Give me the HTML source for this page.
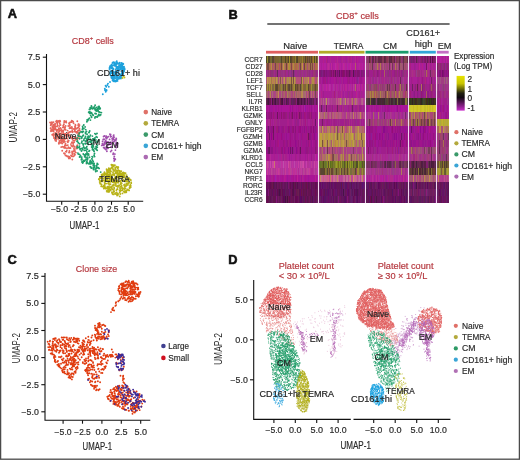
<!DOCTYPE html><html><head><meta charset="utf-8"><style>html,body{margin:0;padding:0;background:#fff;}svg{display:block;will-change:transform;}text{font-family:"Liberation Sans",sans-serif;}</style></head><body>
<svg width="520" height="460" viewBox="0 0 520 460">
<rect x="0" y="0" width="520" height="460" fill="#fff"/>
<text x="7.8" y="18.3" font-size="12.8" text-anchor="start" fill="#111" font-weight="bold" stroke="#111" stroke-width="0.55">A</text>
<text x="71.7" y="43.9" font-size="9.0" text-anchor="start" fill="#b5383f" font-weight="normal" textLength="42" lengthAdjust="spacingAndGlyphs" stroke="#b5383f" stroke-width="0.18">CD8<tspan font-size="6" dy="-3.6">+</tspan><tspan dy="3.6"> cells</tspan></text>
<path d="M59.2 126.1h0M69.5 122.9h0M65.9 134.8h0M51.2 123.7h0M52.9 129.0h0M68.8 158.4h0M67.2 136.1h0M76.0 131.7h0M53.5 124.8h0M69.1 135.1h0M66.3 122.5h0M50.9 128.3h0M70.4 137.3h0M58.9 143.7h0M63.3 132.1h0M74.0 148.3h0M65.5 155.4h0M72.0 131.7h0M62.2 150.7h0M73.1 143.2h0M76.6 132.7h0M70.9 144.1h0M67.3 138.5h0M63.9 146.9h0M74.9 131.5h0M61.2 147.1h0M54.3 124.7h0M53.1 130.0h0M66.3 155.8h0M74.8 155.0h0M57.8 136.8h0M79.2 126.1h0M54.6 129.4h0M56.4 139.6h0M67.6 130.6h0M60.6 142.9h0M65.2 145.0h0M70.3 122.2h0M61.4 136.2h0M51.0 122.7h0M55.6 126.6h0M59.7 122.1h0M52.2 134.7h0M68.3 126.0h0M56.9 134.1h0M60.5 125.0h0M63.7 139.6h0M51.7 124.1h0M59.8 130.7h0M75.1 126.5h0M65.6 125.9h0M66.1 121.1h0M76.2 148.2h0M57.2 134.9h0M65.8 151.6h0M59.4 129.0h0M75.9 152.6h0M74.8 150.0h0M56.1 141.0h0M60.2 121.2h0M79.1 138.1h0M79.1 134.8h0M55.9 129.2h0M55.2 128.3h0M68.7 156.5h0M75.5 139.4h0M69.6 152.4h0M72.6 139.4h0M71.8 126.9h0M53.0 126.1h0M60.0 142.2h0M75.0 128.5h0M56.9 131.9h0M57.2 137.0h0M60.1 138.6h0M67.4 156.6h0M64.8 141.5h0M62.9 127.4h0M71.8 142.5h0M59.3 141.0h0M66.5 151.8h0M56.8 131.2h0M73.3 140.6h0M66.7 150.8h0M77.7 138.0h0M68.3 140.5h0M65.1 148.1h0M63.2 141.6h0M71.0 155.5h0M78.7 130.5h0M75.5 125.6h0M51.3 129.7h0M73.7 156.3h0M69.8 125.8h0M61.5 139.7h0M54.1 137.5h0M65.2 133.7h0M55.2 132.9h0M71.7 120.8h0M66.5 137.8h0M68.7 140.7h0M52.3 130.8h0M57.5 125.2h0M74.8 130.5h0M67.0 148.4h0M51.8 122.3h0M70.7 137.2h0M69.0 152.5h0M63.3 133.7h0M57.4 125.2h0M65.6 129.7h0M52.4 126.5h0M50.6 128.2h0M58.8 132.4h0M72.9 131.7h0M64.8 127.2h0M59.9 120.7h0M56.9 120.6h0M72.1 142.3h0M55.0 139.2h0M78.4 124.3h0M74.8 137.5h0M64.6 153.8h0M61.4 140.5h0M71.3 145.8h0M61.7 134.1h0M50.7 125.3h0M57.1 126.6h0M76.4 147.2h0M57.9 129.8h0M58.2 138.6h0M54.0 138.1h0M58.8 134.4h0M64.0 140.4h0M55.3 140.4h0M58.6 129.4h0M67.4 141.4h0M72.6 146.6h0M71.6 155.6h0M61.3 133.2h0M71.8 146.1h0M77.1 145.4h0M72.1 152.9h0M64.9 153.8h0M74.3 153.5h0M67.4 156.2h0M70.5 148.1h0M56.2 121.3h0M53.2 134.6h0M66.6 145.4h0M68.7 147.6h0M74.1 150.3h0M64.8 141.7h0M69.8 122.7h0M72.2 130.2h0M51.3 130.8h0M72.0 128.3h0M72.3 159.5h0M64.6 135.5h0M64.1 147.7h0M73.2 145.0h0M69.2 123.1h0M53.6 130.3h0M72.4 132.3h0M50.9 130.9h0M70.2 148.0h0M70.3 131.8h0M65.3 138.8h0M63.7 124.8h0M77.2 128.1h0M63.2 130.9h0M79.0 125.4h0M74.8 140.6h0M76.9 148.5h0M64.3 121.0h0M63.2 132.2h0M53.4 133.9h0M75.4 124.9h0M77.4 131.7h0M60.7 135.9h0M60.4 137.3h0M57.7 122.0h0M56.9 130.8h0M65.1 127.7h0M68.9 157.0h0M71.7 122.0h0M72.1 138.3h0M72.7 146.1h0M58.0 122.0h0M78.2 125.2h0M63.9 133.9h0M79.8 130.5h0M69.7 132.2h0M66.6 136.0h0M54.3 126.5h0M64.7 128.9h0M63.2 125.7h0M55.1 123.7h0M59.8 123.7h0M56.5 130.5h0M66.9 155.9h0M72.6 136.7h0M62.0 141.2h0M60.9 133.7h0M51.0 131.2h0M79.5 125.1h0M64.9 145.5h0M76.2 128.7h0M57.5 130.1h0M61.6 138.1h0M77.2 139.2h0M75.0 154.6h0M79.6 130.1h0M52.4 126.3h0M65.5 147.6h0M69.4 151.0h0M63.4 142.3h0M69.3 132.3h0M53.0 130.2h0M69.0 148.3h0M52.5 122.8h0M65.5 143.6h0M61.2 129.1h0M58.5 138.7h0M76.8 139.2h0M56.4 130.0h0M58.7 120.9h0M64.7 147.3h0M62.2 130.4h0M70.0 157.5h0M56.1 121.4h0M59.6 137.0h0M70.5 128.0h0M74.1 149.9h0M64.9 128.3h0M79.6 132.6h0M74.8 129.3h0M64.6 127.6h0M56.0 136.9h0M70.0 158.4h0M53.6 135.9h0M53.5 122.1h0M78.3 133.3h0M72.5 121.3h0M69.9 135.3h0M60.8 133.4h0M57.8 134.2h0M79.1 125.0h0M79.4 128.4h0M74.9 137.5h0M55.1 134.8h0M77.3 121.2h0M73.2 121.6h0M50.1 122.5h0M78.0 130.4h0M72.5 156.4h0M59.7 131.0h0M59.0 131.2h0M56.4 139.2h0M61.2 130.2h0M62.5 140.0h0M78.2 127.4h0M74.3 149.9h0M74.9 151.3h0M68.1 133.3h0M59.1 134.7h0M73.6 123.2h0M56.8 122.6h0M57.3 123.4h0M71.4 138.1h0M56.4 136.9h0M68.5 147.3h0M72.6 154.3h0M69.9 124.9h0M75.5 131.9h0M66.9 135.1h0M72.2 128.1h0M56.8 129.9h0M67.2 133.2h0M65.0 129.4h0M74.5 146.5h0M64.0 153.2h0M52.8 127.7h0M78.3 135.1h0M76.3 138.2h0M78.8 124.3h0M67.8 145.1h0M55.9 134.9h0M53.5 128.3h0M69.5 128.2h0M70.4 127.5h0M58.8 128.2h0M74.1 142.2h0M51.0 124.1h0M61.5 142.3h0M69.1 123.7h0M61.9 131.5h0M58.8 142.9h0M60.3 136.9h0M60.5 128.0h0M71.9 128.2h0M63.5 126.6h0M69.2 156.8h0M60.7 140.4h0M53.6 131.5h0M55.2 125.1h0M64.2 122.2h0M78.2 135.7h0M77.5 145.1h0M75.0 126.5h0M73.8 129.0h0M75.1 127.4h0M55.9 136.2h0M65.3 135.5h0M52.9 130.0h0M71.8 156.3h0M72.9 121.5h0M75.4 124.8h0M67.9 142.3h0M68.8 132.4h0M62.2 143.6h0M62.4 146.7h0M63.1 137.8h0M64.4 129.5h0M73.1 151.6h0M63.4 127.3h0M63.9 124.3h0M65.1 121.7h0M69.0 123.3h0M72.1 151.5h0" stroke="#e6655b" stroke-width="1.9" stroke-linecap="round" fill="none" opacity="1.0"/>
<path d="M95.1 105.3h0M95.1 109.8h0M98.0 115.9h0M94.9 117.9h0M89.4 109.4h0M98.3 106.7h0M100.2 108.3h0M99.1 106.5h0M95.0 117.4h0M91.2 108.2h0M95.1 109.0h0M97.3 117.0h0M90.7 115.5h0M90.0 111.9h0M96.8 109.5h0M99.8 112.3h0M96.0 116.9h0M96.7 110.0h0M98.9 108.2h0M101.4 112.6h0M93.2 115.2h0M94.2 107.0h0M99.2 108.1h0M96.1 113.8h0M96.5 110.6h0M95.2 117.0h0M90.2 107.7h0M89.9 109.5h0M91.4 112.7h0M96.2 107.4h0M96.6 111.1h0M91.7 106.6h0M89.7 113.4h0M99.8 115.5h0M93.7 108.2h0M95.8 109.4h0M96.9 110.7h0M100.7 114.8h0M91.7 117.1h0M89.1 111.9h0M93.8 107.8h0M88.7 112.2h0M91.1 113.0h0M95.1 113.5h0M99.1 106.9h0M92.5 108.7h0M98.7 114.5h0M98.2 111.0h0M98.1 110.8h0M91.4 106.0h0M92.9 115.0h0M97.5 116.3h0M97.8 108.2h0M95.7 110.6h0M98.7 111.8h0M91.9 113.5h0M91.9 107.8h0M98.2 109.1h0M99.9 109.1h0M91.6 117.2h0M83.8 125.0h0M79.3 133.2h0M85.1 126.9h0M82.8 128.0h0M87.1 120.0h0M82.8 131.8h0M89.5 118.1h0M88.4 119.3h0M82.6 126.4h0M85.7 129.6h0M87.6 120.3h0M85.5 132.5h0M83.3 131.4h0M87.9 120.5h0M83.9 128.6h0M82.4 129.3h0M90.4 120.1h0M86.9 121.7h0M77.5 140.9h0M83.9 160.4h0M86.0 143.6h0M77.8 147.5h0M87.7 162.9h0M85.5 159.9h0M90.2 139.2h0M97.1 137.2h0M77.0 138.6h0M95.7 171.6h0M89.0 163.9h0M81.5 151.0h0M84.0 139.1h0M94.1 151.2h0M79.7 157.1h0M94.1 163.4h0M92.4 145.1h0M86.8 146.8h0M82.0 141.2h0M82.7 149.6h0M90.0 162.1h0M85.5 143.9h0M93.2 161.5h0M81.2 148.6h0M80.1 149.6h0M98.7 140.1h0M81.7 142.8h0M94.2 165.9h0M80.8 136.6h0M83.1 143.9h0M89.8 136.8h0M85.0 138.0h0M79.5 146.3h0M95.0 148.5h0M81.8 157.1h0M79.6 138.8h0M86.5 131.4h0M86.8 163.6h0M94.0 151.3h0M92.5 149.7h0M80.5 155.7h0M86.9 161.5h0M91.1 161.8h0M87.3 139.7h0M94.7 167.4h0M92.7 149.3h0M84.7 156.7h0M79.4 147.8h0M92.4 140.6h0M87.4 149.3h0M92.2 147.4h0M93.5 169.5h0M81.5 157.8h0M96.1 146.5h0M77.9 153.1h0M79.5 154.4h0M90.3 160.5h0M89.5 157.2h0M82.1 159.1h0M86.6 162.4h0M85.7 132.4h0M83.7 147.0h0M77.3 147.8h0M87.3 159.7h0M85.6 141.3h0M82.5 161.5h0M86.6 139.0h0M88.5 153.9h0M85.7 157.1h0M97.1 164.7h0M88.5 142.5h0M90.4 135.3h0M97.4 145.1h0M97.8 141.4h0M86.2 140.8h0M87.4 137.9h0M83.9 140.4h0M84.4 150.4h0M87.5 157.1h0M93.2 145.4h0M93.1 140.6h0M79.5 136.1h0M82.7 163.0h0M85.5 136.5h0M91.9 163.2h0M93.4 168.0h0M96.3 165.6h0M81.8 159.4h0M90.0 161.5h0M90.6 141.2h0M82.7 135.9h0M89.1 132.5h0M88.4 136.1h0M89.0 151.2h0M90.2 166.7h0M88.5 153.9h0M93.3 165.7h0M86.2 147.8h0M92.6 157.0h0M93.7 169.6h0M89.5 150.6h0M94.6 156.6h0M86.0 150.2h0M89.9 162.7h0M82.2 148.5h0M87.3 153.5h0M97.3 142.4h0M97.3 147.2h0M89.3 141.5h0M93.0 163.7h0M85.1 143.5h0M84.3 154.9h0M92.6 163.3h0M78.2 142.8h0M77.2 138.1h0M93.1 163.5h0M92.1 156.6h0M94.1 155.3h0M93.7 139.0h0M93.3 149.5h0M95.7 134.3h0M81.4 131.6h0M96.0 168.8h0M93.1 145.7h0M97.2 163.4h0M90.8 141.0h0M84.4 147.9h0M84.8 148.3h0M78.3 154.1h0M78.0 135.1h0M77.3 146.5h0M87.1 134.3h0M92.8 139.0h0M94.6 140.3h0M95.0 138.0h0M94.5 166.4h0M94.9 133.6h0M92.4 160.1h0M97.0 133.4h0M84.6 161.0h0M88.9 132.5h0M86.0 154.4h0M87.7 158.8h0M85.9 157.4h0M92.4 147.8h0M86.5 163.4h0M90.9 142.4h0M94.2 165.2h0M85.1 155.7h0M91.7 143.1h0M86.2 159.1h0M91.7 168.1h0M96.8 142.0h0M77.0 141.2h0M87.4 154.9h0M97.0 167.7h0M96.9 166.9h0M91.0 141.6h0M97.9 164.3h0M93.8 168.8h0M85.5 133.6h0M90.6 163.9h0M81.9 161.9h0M91.9 158.8h0M88.4 138.8h0M83.2 161.9h0M96.4 149.5h0M95.9 139.9h0M91.2 168.1h0M88.7 155.0h0M81.6 138.2h0M81.4 159.8h0M85.9 154.0h0M86.9 152.0h0M80.7 131.9h0M79.6 156.9h0M96.3 136.6h0M91.6 144.7h0M89.7 130.9h0M90.9 141.1h0M96.1 148.1h0M97.1 170.9h0M83.2 131.6h0M81.9 137.7h0M90.7 167.0h0M91.7 146.9h0M83.3 154.0h0M93.4 146.7h0M88.0 136.8h0M100.7 172.1h0M82.4 131.6h0M83.3 145.0h0M99.1 168.4h0M78.4 136.2h0M95.5 169.9h0M93.6 142.7h0M91.5 162.2h0M79.6 143.8h0M83.3 135.3h0M88.8 137.2h0M82.8 136.1h0M94.6 138.3h0M98.2 167.8h0M80.4 149.0h0M88.1 144.4h0M97.2 150.3h0M92.4 136.1h0M82.4 132.4h0M94.5 153.5h0M83.5 147.5h0" stroke="#1e9e6a" stroke-width="1.9" stroke-linecap="round" fill="none" opacity="1.0"/>
<path d="M104.1 139.2h0M115.8 140.4h0M104.4 143.3h0M106.9 151.2h0M112.9 138.0h0M109.6 139.4h0M105.9 137.8h0M103.2 139.5h0M113.9 139.6h0M115.2 140.5h0M115.6 144.0h0M104.7 142.3h0M111.2 136.6h0M104.6 148.6h0M113.6 137.7h0M111.8 143.4h0M106.2 137.9h0M111.9 147.4h0M115.3 145.1h0M114.0 141.8h0M113.8 135.1h0M115.3 140.4h0M109.9 134.3h0M117.0 143.1h0M116.3 139.1h0M107.7 137.1h0M107.8 145.3h0M109.1 143.8h0M103.6 147.6h0M107.0 147.5h0M108.0 148.3h0M117.7 143.4h0M110.2 144.1h0M110.6 134.4h0M104.6 136.0h0M105.8 149.5h0M113.4 137.7h0M101.8 145.4h0M111.3 143.9h0M113.4 136.0h0M116.3 147.6h0M109.9 143.5h0M106.3 136.3h0M108.4 136.6h0M111.6 150.4h0M104.0 144.9h0M114.2 137.1h0M108.1 142.0h0M115.8 144.0h0M114.7 140.4h0M105.6 140.4h0M115.4 150.1h0M102.4 143.8h0M105.7 142.0h0M112.3 140.9h0M110.5 135.3h0M108.9 143.6h0M117.4 146.0h0M112.4 139.0h0M113.0 139.2h0M110.7 151.6h0M112.1 138.8h0M110.3 142.2h0M106.7 146.3h0M103.5 145.3h0M117.8 143.8h0M106.1 142.9h0M110.6 136.8h0M103.6 136.5h0M106.5 141.7h0M106.4 138.6h0M103.0 144.4h0M115.8 145.6h0M111.2 146.4h0M104.9 147.5h0M109.3 144.4h0M111.9 142.9h0M106.8 138.6h0M105.3 143.7h0M108.0 145.1h0M116.2 138.5h0M111.0 143.3h0M106.5 148.7h0M116.3 142.4h0M102.6 141.4h0M114.3 156.5h0M114.9 154.1h0M113.1 154.3h0M113.9 158.4h0M114.2 160.9h0M115.3 159.3h0M114.9 158.9h0M113.4 153.3h0M114.5 159.9h0" stroke="#a14fad" stroke-width="1.9" stroke-linecap="round" fill="none" opacity="1.0"/>
<path d="M110.2 73.5h0M118.0 77.8h0M117.0 75.2h0M119.8 67.2h0M112.4 78.6h0M112.3 63.1h0M124.2 69.7h0M119.5 66.4h0M122.4 67.2h0M112.7 73.2h0M114.1 72.8h0M114.2 78.7h0M111.4 77.8h0M124.7 69.2h0M109.5 69.0h0M119.3 65.7h0M117.7 63.0h0M116.4 76.3h0M115.9 75.3h0M117.4 67.1h0M114.6 76.8h0M116.9 80.5h0M110.5 71.2h0M122.8 73.6h0M117.7 62.9h0M111.2 66.7h0M112.6 80.4h0M124.5 68.2h0M109.8 68.0h0M116.2 66.2h0M120.9 64.8h0M121.6 67.3h0M110.1 72.7h0M110.5 72.6h0M121.6 73.5h0M116.4 61.7h0M117.2 63.0h0M119.3 63.8h0M118.2 68.4h0M115.0 74.9h0M111.6 64.6h0M124.1 68.0h0M116.7 64.1h0M110.9 71.4h0M117.6 63.5h0M116.5 64.4h0M117.6 71.6h0M114.9 65.2h0M115.5 65.3h0M111.0 66.0h0M122.9 71.5h0M124.1 71.3h0M121.7 73.0h0M120.0 65.8h0M121.0 64.2h0M115.3 71.9h0M113.7 79.7h0M110.3 73.1h0M112.7 73.5h0M121.5 75.9h0M110.0 66.2h0M120.1 78.1h0M114.5 78.0h0M116.4 80.3h0M115.6 69.5h0M110.4 66.1h0M120.7 75.3h0M111.4 68.2h0M111.2 65.2h0M112.5 68.0h0M121.7 71.1h0M117.0 77.4h0M119.2 65.2h0M119.0 78.8h0M121.6 62.9h0M120.5 68.3h0M119.8 76.7h0M120.9 78.5h0M121.8 73.4h0M116.0 78.3h0M113.8 81.2h0M117.5 80.9h0M121.6 66.3h0M122.4 65.9h0M112.2 70.6h0M112.8 71.3h0M120.4 69.2h0M121.5 77.7h0M122.2 69.5h0M110.4 74.7h0M122.4 68.1h0M118.5 78.6h0M116.8 61.3h0M115.7 73.7h0M116.3 68.0h0M112.4 68.4h0M122.5 74.0h0M113.7 62.8h0M113.3 75.7h0M116.1 74.9h0M121.9 63.5h0M122.2 64.9h0M113.3 81.1h0M114.8 65.7h0M123.2 73.8h0M123.3 69.3h0M117.0 81.1h0M112.0 78.4h0M111.6 72.1h0M124.1 70.5h0M122.0 66.3h0M114.6 63.1h0M117.8 79.1h0M117.2 68.9h0M119.7 62.6h0M119.0 70.3h0M124.3 68.6h0M119.6 74.3h0M115.0 72.0h0M117.0 68.6h0M122.4 75.4h0M117.9 70.4h0M120.7 76.7h0M109.6 67.8h0M123.3 64.0h0M118.4 73.1h0M109.7 69.2h0M121.0 74.5h0M113.5 77.0h0M113.7 72.4h0M115.7 81.5h0M119.4 77.9h0M119.8 69.0h0M120.1 66.8h0M111.6 73.1h0M114.6 63.9h0M117.3 79.4h0M111.6 76.5h0M111.7 67.6h0M109.9 67.3h0M115.1 81.3h0M114.0 80.8h0M112.2 67.7h0M116.0 63.3h0M113.2 69.3h0M115.2 81.2h0M113.3 65.3h0M123.5 70.5h0M122.4 74.4h0M121.5 67.6h0M111.4 76.9h0M116.5 72.7h0M119.7 76.8h0M113.4 68.6h0M123.7 72.1h0M113.6 74.2h0M113.2 77.2h0M118.1 68.4h0M124.0 66.6h0M112.9 62.5h0M117.8 76.8h0M119.8 69.7h0M121.9 63.3h0M113.9 74.5h0M120.1 77.3h0M115.3 80.7h0M120.9 68.2h0M115.3 77.9h0M114.6 64.9h0M122.9 72.2h0M117.3 75.1h0M114.4 62.4h0M115.6 71.5h0M122.6 75.0h0M118.2 69.5h0M118.2 66.8h0M122.4 64.2h0M119.7 76.8h0M117.0 79.9h0M122.1 74.6h0M123.1 63.8h0M120.3 75.8h0M118.8 66.8h0M110.1 73.7h0M122.2 66.7h0M112.4 65.7h0M110.5 75.2h0M114.8 75.7h0M119.1 63.9h0M113.4 62.2h0M105.6 85.8h0M110.0 82.0h0M108.0 83.6h0M107.4 85.0h0M105.7 91.8h0M104.9 90.0h0M106.5 90.0h0M108.8 86.8h0M104.8 88.7h0M106.3 86.7h0M106.6 90.6h0M102.8 94.2h0" stroke="#1da1dc" stroke-width="1.9" stroke-linecap="round" fill="none" opacity="1.0"/>
<path d="M131.2 182.4h0M112.7 189.4h0M128.2 183.5h0M111.4 178.4h0M114.1 187.4h0M108.5 176.4h0M117.4 176.2h0M109.4 189.5h0M127.4 180.0h0M113.6 169.6h0M108.8 168.3h0M118.1 182.7h0M109.5 191.3h0M105.4 177.6h0M100.1 182.1h0M115.4 193.9h0M124.8 181.3h0M116.1 186.1h0M111.7 175.3h0M118.7 175.1h0M130.7 185.8h0M116.4 166.8h0M111.2 176.7h0M117.6 182.4h0M115.0 178.0h0M119.7 196.4h0M110.2 181.0h0M126.6 180.4h0M122.0 190.6h0M112.8 168.7h0M108.4 180.4h0M115.7 169.7h0M104.7 184.3h0M119.0 175.2h0M99.9 177.1h0M125.3 173.6h0M108.9 191.3h0M118.4 185.5h0M105.2 179.9h0M117.3 172.3h0M120.5 181.0h0M112.5 167.5h0M103.8 188.6h0M104.3 180.7h0M126.5 183.7h0M109.5 187.1h0M110.5 169.1h0M129.2 182.7h0M110.4 178.3h0M111.6 165.3h0M128.8 182.7h0M119.6 171.7h0M129.1 190.4h0M108.8 183.4h0M111.8 187.2h0M106.0 173.7h0M128.3 179.5h0M104.4 175.3h0M108.4 182.0h0M102.4 181.1h0M111.6 176.8h0M126.6 175.1h0M106.8 169.8h0M108.1 171.3h0M110.1 168.6h0M107.7 191.1h0M102.8 178.1h0M126.9 190.1h0M103.9 175.1h0M123.1 175.9h0M130.8 180.2h0M106.2 178.4h0M103.0 186.8h0M118.5 175.6h0M106.9 183.6h0M102.7 180.4h0M116.9 172.4h0M124.7 176.2h0M120.9 182.2h0M109.1 176.4h0M117.6 175.4h0M115.5 173.3h0M122.9 172.8h0M112.2 193.5h0M124.8 192.6h0M121.6 185.4h0M110.4 177.1h0M120.9 186.6h0M106.9 191.4h0M110.5 184.3h0M129.5 187.7h0M105.2 173.5h0M111.4 164.8h0M109.1 184.6h0M117.9 187.1h0M107.2 177.9h0M121.8 175.0h0M124.9 172.9h0M129.6 188.2h0M101.4 186.4h0M111.9 188.2h0M112.9 194.2h0M122.0 187.9h0M126.7 184.2h0M113.9 165.3h0M122.2 177.6h0M115.9 194.1h0M117.1 195.5h0M120.2 181.4h0M110.7 177.1h0M105.3 173.7h0M103.1 186.8h0M121.3 171.3h0M106.7 180.5h0M113.6 194.4h0M110.4 173.4h0M117.7 174.5h0M126.2 181.6h0M121.2 183.3h0M114.2 188.8h0M108.3 175.4h0M108.1 170.0h0M122.4 178.3h0M102.3 174.2h0M114.4 175.5h0M117.7 167.1h0M115.1 177.8h0M105.0 181.4h0M120.4 184.2h0M130.3 185.0h0M107.0 171.6h0M124.8 191.2h0M108.6 169.6h0M120.2 191.4h0M125.2 190.9h0M123.7 174.3h0M109.4 175.7h0M117.2 175.7h0M99.9 182.2h0M119.9 190.6h0M122.5 193.4h0M130.6 179.8h0M115.5 168.7h0M108.7 182.7h0M101.2 186.2h0M104.1 178.1h0M99.9 178.0h0M105.0 187.4h0M127.6 189.5h0M113.0 172.8h0M121.0 180.5h0M112.8 174.7h0M113.4 185.5h0M104.1 173.3h0M113.6 182.1h0M110.3 169.9h0M119.6 190.3h0M119.2 173.3h0M117.9 194.9h0M114.8 184.9h0M108.7 174.8h0M104.9 185.9h0M113.7 166.3h0M121.0 175.8h0M118.2 177.2h0M116.5 182.1h0M112.0 167.3h0M117.1 167.2h0M101.7 181.0h0M107.1 179.6h0M117.3 171.0h0M118.0 167.2h0M115.9 182.9h0M101.2 177.0h0M101.0 178.0h0M127.9 181.7h0M122.8 188.5h0M126.7 176.4h0M117.6 189.1h0M118.7 170.5h0M108.7 186.8h0M113.0 192.8h0M119.6 192.3h0M117.6 193.8h0M123.8 174.8h0M124.5 186.0h0M111.2 187.8h0M130.7 187.3h0M100.0 183.4h0M101.9 181.6h0M130.0 185.8h0M107.2 169.9h0M113.7 191.2h0M118.3 167.2h0M117.3 173.1h0M121.9 176.1h0M116.8 186.3h0M103.6 180.1h0M128.2 189.9h0M126.3 185.9h0M111.8 179.2h0M111.9 192.3h0M109.7 170.6h0M128.9 182.9h0M110.8 178.9h0M118.1 176.3h0M118.2 174.5h0M99.2 178.7h0M103.5 185.6h0M107.8 172.5h0M115.5 172.1h0M117.8 180.9h0M99.7 182.0h0M124.7 192.3h0M124.8 184.4h0M120.1 175.5h0M108.1 189.7h0M121.7 173.5h0M124.5 187.9h0M115.8 184.5h0M110.4 181.7h0M112.3 165.5h0M110.0 174.2h0M111.0 171.5h0M106.5 175.0h0M128.1 178.5h0M113.6 182.3h0M108.8 169.1h0M109.0 187.5h0M117.2 194.4h0M104.6 182.7h0M124.8 177.6h0M115.0 193.2h0M107.9 172.0h0M107.6 186.7h0M105.9 176.7h0M105.3 183.4h0M127.9 184.9h0M105.2 187.7h0M131.2 183.3h0M116.8 192.4h0M120.3 194.0h0M105.7 174.3h0M124.0 184.9h0M112.3 185.9h0M112.6 165.0h0M119.8 174.5h0M115.3 183.2h0M107.2 178.8h0M100.4 183.8h0M123.1 174.4h0M112.9 181.3h0M118.5 181.8h0M120.9 183.4h0M109.7 188.0h0M107.3 187.0h0M124.5 189.1h0M109.0 189.0h0M108.0 180.8h0M98.8 179.2h0M120.8 189.0h0M106.3 188.5h0M115.6 181.8h0M110.9 168.4h0M104.5 187.8h0M115.5 184.5h0M110.2 189.9h0M114.1 174.2h0M120.4 176.8h0M117.7 177.0h0M119.8 170.9h0M107.1 172.2h0M113.2 171.1h0M105.4 188.6h0M120.4 173.3h0M117.9 168.7h0M107.6 188.3h0M109.8 179.5h0M121.7 183.2h0M113.9 182.6h0M125.0 192.0h0M104.2 186.0h0M101.6 174.7h0M129.7 187.1h0M125.4 186.3h0M99.8 180.2h0M106.4 177.7h0M115.1 168.0h0M113.1 169.4h0M123.6 180.0h0M102.3 175.2h0M115.4 193.8h0M110.4 170.6h0M123.4 172.5h0M104.5 172.2h0M115.8 177.0h0M117.4 175.5h0M120.7 181.5h0M117.2 186.3h0M122.9 176.7h0M109.3 177.3h0M111.6 177.0h0M119.3 175.9h0M106.7 170.0h0M109.5 184.8h0M117.2 173.9h0M123.9 191.7h0M115.8 183.0h0M119.9 188.0h0M111.4 187.0h0M111.9 180.9h0M119.3 185.8h0M109.5 184.3h0M117.0 170.9h0M119.3 172.2h0M129.4 179.1h0M123.0 180.7h0M114.7 170.8h0M116.5 180.8h0M116.4 190.3h0M106.6 169.2h0M126.4 178.7h0M120.3 190.8h0M126.8 190.5h0M110.6 190.0h0M116.2 178.4h0M101.5 176.6h0M113.8 179.3h0M125.6 188.5h0M103.6 185.9h0M111.0 180.7h0M106.6 175.7h0M110.1 176.1h0M104.6 187.2h0M107.8 174.2h0M106.7 191.0h0M101.6 184.5h0M112.9 189.6h0M119.5 175.8h0M100.0 178.1h0M111.0 187.0h0M108.5 177.0h0M120.5 190.3h0M110.5 176.2h0M118.2 194.0h0M122.7 175.8h0M121.1 174.4h0M111.4 180.9h0M115.4 193.2h0M118.7 178.8h0M114.2 191.2h0M112.6 179.1h0M128.8 178.0h0M115.2 180.4h0M126.5 185.6h0M123.7 176.8h0M117.3 188.9h0M121.7 187.0h0M114.9 165.3h0M122.0 177.3h0M126.3 192.3h0M103.4 174.5h0M107.4 173.8h0M107.2 191.8h0M117.4 180.4h0M112.8 165.2h0M108.9 192.1h0M125.8 191.8h0M107.2 170.2h0M100.3 181.2h0M111.2 178.8h0M115.1 182.8h0M110.9 189.9h0M109.2 181.1h0M112.4 182.1h0M109.5 172.5h0M125.6 173.1h0M122.7 190.0h0M118.6 178.5h0M113.2 184.6h0" stroke="#b9b318" stroke-width="1.9" stroke-linecap="round" fill="none" opacity="1.0"/>
<path d="M123.5 76.0h0M124.5 77.5h0M122.5 78.0h0" stroke="#c8c020" stroke-width="1.9" stroke-linecap="round" fill="none" opacity="1.0"/>
<text x="54.7" y="138.8" font-size="8.3" text-anchor="start" fill="#222" font-weight="normal" textLength="21.7" lengthAdjust="spacingAndGlyphs" stroke="#222" stroke-width="0.18">Naive</text>
<text x="86.2" y="144.6" font-size="8.3" text-anchor="start" fill="#222" font-weight="normal" textLength="14" lengthAdjust="spacingAndGlyphs" stroke="#222" stroke-width="0.18">CM</text>
<text x="105.8" y="147.5" font-size="8.3" text-anchor="start" fill="#222" font-weight="normal" textLength="13" lengthAdjust="spacingAndGlyphs" stroke="#222" stroke-width="0.18">EM</text>
<text x="99.3" y="182.0" font-size="8.3" text-anchor="start" fill="#222" font-weight="normal" textLength="30.4" lengthAdjust="spacingAndGlyphs" stroke="#222" stroke-width="0.18">TEMRA</text>
<text x="97.0" y="76.0" font-size="8.3" text-anchor="start" fill="#222" font-weight="normal" textLength="42.9" lengthAdjust="spacingAndGlyphs" stroke="#222" stroke-width="0.18">CD161+ hi</text>
<g stroke="#111" stroke-width="1.1" fill="none">
<path d="M46.5 54V201.3H143.2"/>
<path d="M42.8 57.2H46.5"/>
<path d="M42.8 84.6H46.5"/>
<path d="M42.8 112H46.5"/>
<path d="M42.8 139.4H46.5"/>
<path d="M42.8 166.8H46.5"/>
<path d="M42.8 194.2H46.5"/>
<path d="M61.7 201.3V204.8"/>
<path d="M78.3 201.3V204.8"/>
<path d="M94.9 201.3V204.8"/>
<path d="M111.5 201.3V204.8"/>
<path d="M128.2 201.3V204.8"/>
</g>
<text x="40.3" y="60.2" font-size="8.3" text-anchor="end" fill="#2b2b2b" font-weight="normal" textLength="12.6" lengthAdjust="spacingAndGlyphs" stroke="#2b2b2b" stroke-width="0.18">7.5</text>
<text x="40.3" y="87.6" font-size="8.3" text-anchor="end" fill="#2b2b2b" font-weight="normal" textLength="12.6" lengthAdjust="spacingAndGlyphs" stroke="#2b2b2b" stroke-width="0.18">5.0</text>
<text x="40.3" y="115" font-size="8.3" text-anchor="end" fill="#2b2b2b" font-weight="normal" textLength="12.6" lengthAdjust="spacingAndGlyphs" stroke="#2b2b2b" stroke-width="0.18">2.5</text>
<text x="40.3" y="142.4" font-size="8.3" text-anchor="end" fill="#2b2b2b" font-weight="normal" textLength="5.3" lengthAdjust="spacingAndGlyphs" stroke="#2b2b2b" stroke-width="0.18">0</text>
<text x="40.3" y="169.8" font-size="8.3" text-anchor="end" fill="#2b2b2b" font-weight="normal" textLength="17.3" lengthAdjust="spacingAndGlyphs" stroke="#2b2b2b" stroke-width="0.18">−2.5</text>
<text x="40.3" y="197.2" font-size="8.3" text-anchor="end" fill="#2b2b2b" font-weight="normal" textLength="17.3" lengthAdjust="spacingAndGlyphs" stroke="#2b2b2b" stroke-width="0.18">−5.0</text>
<text x="50.9" y="211.7" font-size="8.3" text-anchor="start" fill="#2b2b2b" font-weight="normal" textLength="17.3" lengthAdjust="spacingAndGlyphs" stroke="#2b2b2b" stroke-width="0.18">−5.0</text>
<text x="70.8" y="211.7" font-size="8.3" text-anchor="start" fill="#2b2b2b" font-weight="normal" textLength="16.4" lengthAdjust="spacingAndGlyphs" stroke="#2b2b2b" stroke-width="0.18">-2.5</text>
<text x="91.3" y="211.7" font-size="8.3" text-anchor="start" fill="#2b2b2b" font-weight="normal" textLength="11.7" lengthAdjust="spacingAndGlyphs" stroke="#2b2b2b" stroke-width="0.18">0.0</text>
<text x="106.9" y="211.7" font-size="8.3" text-anchor="start" fill="#2b2b2b" font-weight="normal" textLength="11.6" lengthAdjust="spacingAndGlyphs" stroke="#2b2b2b" stroke-width="0.18">2.5</text>
<text x="123.3" y="211.7" font-size="8.3" text-anchor="start" fill="#2b2b2b" font-weight="normal" textLength="11.7" lengthAdjust="spacingAndGlyphs" stroke="#2b2b2b" stroke-width="0.18">5.0</text>
<text x="84.5" y="229.3" font-size="10.2" text-anchor="middle" fill="#2b2b2b" font-weight="normal" textLength="29.8" lengthAdjust="spacingAndGlyphs" stroke="#2b2b2b" stroke-width="0.18">UMAP-1</text>
<text x="0" y="0" font-size="10.6" text-anchor="middle" fill="#2b2b2b" textLength="30.5" lengthAdjust="spacingAndGlyphs" transform="translate(17.2 127.3) rotate(-90)">UMAP-2</text>
<circle cx="145.8" cy="112.1" r="2.3" fill="#df7168"/>
<text x="151.2" y="115.1" font-size="8.3" text-anchor="start" fill="#2b2b2b" font-weight="normal" textLength="21" lengthAdjust="spacingAndGlyphs" stroke="#2b2b2b" stroke-width="0.18">Naive</text>
<circle cx="145.8" cy="123.35" r="2.3" fill="#b3a93c"/>
<text x="151.2" y="126.35" font-size="8.3" text-anchor="start" fill="#2b2b2b" font-weight="normal" textLength="28" lengthAdjust="spacingAndGlyphs" stroke="#2b2b2b" stroke-width="0.18">TEMRA</text>
<circle cx="145.8" cy="134.6" r="2.3" fill="#3a9a6a"/>
<text x="151.2" y="137.6" font-size="8.3" text-anchor="start" fill="#2b2b2b" font-weight="normal" textLength="13" lengthAdjust="spacingAndGlyphs" stroke="#2b2b2b" stroke-width="0.18">CM</text>
<circle cx="145.8" cy="145.85" r="2.3" fill="#3aa5d6"/>
<text x="151.2" y="148.85" font-size="8.3" text-anchor="start" fill="#2b2b2b" font-weight="normal" textLength="50.3" lengthAdjust="spacingAndGlyphs" stroke="#2b2b2b" stroke-width="0.18">CD161+ high</text>
<circle cx="145.8" cy="157.1" r="2.3" fill="#ab6ab2"/>
<text x="151.2" y="160.1" font-size="8.3" text-anchor="start" fill="#2b2b2b" font-weight="normal" textLength="12" lengthAdjust="spacingAndGlyphs" stroke="#2b2b2b" stroke-width="0.18">EM</text>
<text x="228.6" y="18.8" font-size="12.8" text-anchor="start" fill="#111" font-weight="bold" stroke="#111" stroke-width="0.55">B</text>
<text x="336" y="18.5" font-size="9.0" text-anchor="start" fill="#b5383f" font-weight="normal" textLength="42.8" lengthAdjust="spacingAndGlyphs" stroke="#b5383f" stroke-width="0.18">CD8<tspan font-size="6" dy="-3.6">+</tspan><tspan dy="3.6"> cells</tspan></text>
<path d="M267.3 24H449.6" stroke="#444" stroke-width="1.3"/>
<g>
<path fill="#504628" d="M266 56h1v7h-1zM268 56h1v7h-1zM269 56h1v7h-1zM281 56h1v7h-1zM285 56h1v7h-1zM288 56h1v7h-1zM290 56h1v7h-1zM297 56h1v7h-1zM305 56h1v7h-1z"/>
<path fill="#a06450" d="M266 63h1v7h-1z"/>
<path fill="#a0288c" d="M266 70h1v7h-1zM274 70h1v7h-1zM278 70h1v7h-1zM279 70h1v7h-1zM279 119h1v7h-1zM282 154h1v7h-1zM286 70h1v7h-1zM287 70h1v7h-1zM289 70h1v7h-1zM295 70h1v7h-1zM296 70h1v7h-1zM299 70h1v7h-1zM301 70h1v7h-1zM303 70h1v7h-1zM305 70h1v7h-1zM306 119h1v7h-1zM311 70h1v7h-1zM313 154h1v7h-1zM320 105h1v7h-1zM320 119h1v7h-1zM323 105h1v7h-1zM337 119h1v7h-1zM339 119h1v7h-1zM345 105h1v7h-1zM346 105h1v7h-1zM354 105h1v7h-1zM361 91h1v7h-1zM362 105h1v7h-1zM368 77h1v7h-1zM369 77h1v7h-1zM375 77h1v7h-1zM376 77h1v7h-1zM379 77h1v7h-1zM381 77h1v7h-1zM383 77h1v7h-1zM385 77h1v7h-1zM386 77h1v7h-1zM386 147h1v7h-1zM388 77h1v7h-1zM390 77h1v7h-1zM392 77h1v7h-1zM394 77h1v7h-1zM394 147h1v7h-1zM397 77h1v7h-1zM398 77h1v7h-1zM401 77h1v7h-1zM402 112h1v7h-1zM405 168h1v7h-1zM406 77h1v7h-1zM425 70h1v7h-1zM429 70h1v7h-1zM433 77h1v7h-1zM439 98h1v7h-1zM442 91h1v14h-1zM446 91h1v7h-1zM447 91h1v7h-1z"/>
<path fill="#aa5078" d="M266 77h1v7h-1zM278 77h1v7h-1zM282 77h1v7h-1zM285 77h1v7h-1zM310 77h1v7h-1zM316 77h1v7h-1zM319 154h1v7h-1zM321 126h1v7h-1zM321 147h1v14h-1zM328 147h1v7h-1zM339 154h1v7h-1zM342 147h1v7h-1zM345 154h1v7h-1zM346 126h1v7h-1zM347 154h1v7h-1zM353 126h1v7h-1zM354 126h1v7h-1zM356 154h1v7h-1zM359 154h1v7h-1zM361 147h1v14h-1zM441 126h1v7h-1zM442 126h1v7h-1z"/>
<path fill="#825a46" d="M266 84h1v7h-1zM361 133h1v7h-1z"/>
<path fill="#a0646e" d="M266 91h1v7h-1zM288 91h1v7h-1zM369 91h1v7h-1zM426 175h1v7h-1z"/>
<path fill="#642850" d="M266 98h1v7h-1zM371 161h1v7h-1zM384 161h1v7h-1zM388 161h1v7h-1zM399 161h1v7h-1zM403 56h1v7h-1zM409 161h1v7h-1zM417 161h1v7h-1zM418 161h1v7h-1zM423 161h1v7h-1zM430 161h1v7h-1zM434 161h1v7h-1zM439 147h1v7h-1z"/>
<path fill="#aa1496" d="M266 105h1v7h-1zM266 175h1v7h-1zM267 154h1v7h-1zM267 175h1v7h-1zM268 105h1v7h-1zM270 175h1v7h-1zM274 105h1v7h-1zM274 175h1v7h-1zM277 105h1v7h-1zM277 175h1v7h-1zM278 175h1v7h-1zM279 105h1v7h-1zM280 105h1v7h-1zM280 175h1v7h-1zM281 175h1v7h-1zM282 105h1v7h-1zM283 105h1v7h-1zM283 175h1v7h-1zM284 105h1v7h-1zM285 105h1v7h-1zM286 105h1v7h-1zM286 175h1v7h-1zM287 105h1v7h-1zM288 105h1v7h-1zM288 175h1v7h-1zM289 175h1v7h-1zM291 105h1v7h-1zM291 175h1v7h-1zM292 175h1v7h-1zM294 105h1v7h-1zM295 105h1v7h-1zM295 175h1v7h-1zM297 105h1v7h-1zM298 175h1v7h-1zM299 175h1v7h-1zM301 105h1v7h-1zM304 175h1v7h-1zM305 154h1v7h-1zM306 105h1v7h-1zM306 175h1v7h-1zM307 175h1v7h-1zM308 105h1v7h-1zM309 175h1v7h-1zM310 105h1v7h-1zM310 175h1v7h-1zM311 175h1v7h-1zM312 105h1v7h-1zM312 140h1v7h-1zM312 175h1v7h-1zM313 175h1v7h-1zM314 175h1v7h-1zM315 105h1v7h-1zM316 105h1v7h-1zM316 175h1v7h-1zM317 175h1v7h-1zM328 77h1v7h-1zM331 77h1v7h-1zM332 77h1v7h-1zM333 77h1v7h-1zM335 77h1v7h-1zM339 77h1v7h-1zM340 77h1v7h-1zM344 77h1v7h-1zM345 77h1v7h-1zM346 77h1v7h-1zM350 77h1v7h-1zM351 77h1v7h-1zM353 77h1v7h-1zM355 77h1v7h-1zM356 56h1v7h-1zM362 77h1v7h-1zM364 77h1v7h-1zM368 105h1v7h-1zM372 105h1v7h-1zM374 105h1v7h-1zM377 105h1v7h-1zM378 105h1v7h-1zM380 105h1v7h-1zM386 105h1v7h-1zM390 105h1v7h-1zM392 105h1v7h-1zM393 105h1v7h-1zM394 105h1v7h-1zM399 105h1v7h-1zM402 105h1v7h-1zM404 105h1v7h-1zM405 105h1v7h-1zM406 105h1v7h-1zM435 77h1v7h-1z"/>
<path fill="#8c1478" d="M266 112h1v7h-1zM271 112h1v7h-1zM293 126h1v7h-1zM295 126h1v7h-1zM311 112h1v7h-1zM311 126h1v7h-1zM315 147h1v7h-1zM329 70h1v7h-1z"/>
<path fill="#aa1e96" d="M266 119h1v7h-1zM268 175h1v7h-1zM269 154h1v7h-1zM271 119h1v7h-1zM271 154h1v7h-1zM272 154h1v7h-1zM273 119h1v7h-1zM273 154h1v7h-1zM275 154h1v7h-1zM276 154h1v7h-1zM276 175h1v7h-1zM277 154h1v7h-1zM279 154h1v7h-1zM279 175h1v7h-1zM280 154h1v7h-1zM287 154h1v7h-1zM288 154h1v7h-1zM290 154h1v7h-1zM292 154h1v7h-1zM293 119h1v7h-1zM293 154h1v7h-1zM294 154h1v7h-1zM294 175h1v7h-1zM297 154h1v7h-1zM298 154h1v7h-1zM299 119h1v7h-1zM301 154h1v7h-1zM302 105h1v7h-1zM302 154h1v7h-1zM303 154h1v7h-1zM303 175h1v7h-1zM304 154h1v7h-1zM306 154h1v7h-1zM308 119h1v7h-1zM309 119h1v7h-1zM309 154h1v7h-1zM310 154h1v7h-1zM312 154h1v7h-1zM313 105h1v7h-1zM314 154h1v7h-1zM316 119h1v7h-1zM317 154h1v7h-1zM319 91h1v7h-1zM319 119h1v7h-1zM320 56h1v7h-1zM321 56h1v14h-1zM321 77h1v14h-1zM322 56h1v7h-1zM322 91h1v7h-1zM324 56h1v7h-1zM324 91h1v7h-1zM325 56h1v7h-1zM325 91h1v7h-1zM325 119h1v7h-1zM326 63h1v7h-1zM326 91h1v7h-1zM327 91h1v7h-1zM328 56h1v7h-1zM328 91h1v7h-1zM329 56h1v7h-1zM329 91h1v7h-1zM330 91h1v7h-1zM331 56h1v7h-1zM331 84h1v14h-1zM332 56h1v14h-1zM333 56h1v7h-1zM333 91h1v7h-1zM333 105h1v7h-1zM334 56h1v7h-1zM335 84h1v14h-1zM336 56h1v7h-1zM338 56h1v7h-1zM339 56h1v7h-1zM339 84h1v14h-1zM340 91h1v7h-1zM340 105h1v7h-1zM341 63h1v7h-1zM342 84h1v14h-1zM343 56h1v7h-1zM344 56h1v7h-1zM344 84h1v7h-1zM344 105h1v7h-1zM345 91h1v7h-1zM346 91h1v7h-1zM347 56h1v7h-1zM347 84h1v7h-1zM347 105h1v7h-1zM350 91h1v7h-1zM350 105h1v7h-1zM352 84h1v7h-1zM353 56h1v7h-1zM353 91h1v7h-1zM354 56h1v7h-1zM354 91h1v7h-1zM355 91h1v7h-1zM356 63h1v7h-1zM356 84h1v7h-1zM358 56h1v7h-1zM358 91h1v7h-1zM359 56h1v7h-1zM360 56h1v7h-1zM360 84h1v14h-1zM361 56h1v7h-1zM362 56h1v7h-1zM362 91h1v7h-1zM362 119h1v7h-1zM363 63h1v7h-1zM363 84h1v14h-1zM367 175h1v7h-1zM369 175h1v7h-1zM370 105h1v7h-1zM373 105h1v7h-1zM374 175h1v7h-1zM377 175h1v7h-1zM383 175h1v7h-1zM386 175h1v7h-1zM394 175h1v7h-1zM396 175h1v7h-1zM397 175h1v7h-1zM402 175h1v7h-1zM405 175h1v7h-1zM409 63h1v7h-1zM410 77h1v7h-1zM411 63h1v7h-1zM412 63h1v7h-1zM413 63h1v7h-1zM413 77h1v7h-1zM414 77h1v7h-1zM415 77h1v7h-1zM416 63h1v7h-1zM416 77h1v7h-1zM417 63h1v7h-1zM420 63h1v7h-1zM420 77h1v7h-1zM421 63h1v7h-1zM423 63h1v7h-1zM425 63h1v7h-1zM427 77h1v7h-1zM428 77h1v7h-1zM430 77h1v7h-1zM431 63h1v7h-1zM433 63h1v7h-1zM434 63h1v7h-1zM435 63h1v7h-1zM439 112h1v7h-1zM441 98h1v7h-1zM442 56h1v7h-1zM442 112h1v7h-1zM445 56h1v7h-1zM447 56h1v7h-1zM448 105h1v7h-1z"/>
<path fill="#a0148c" d="M266 126h1v7h-1zM267 112h1v7h-1zM267 133h1v7h-1zM269 105h1v7h-1zM270 133h1v7h-1zM271 140h1v7h-1zM272 112h1v7h-1zM272 140h1v7h-1zM273 140h1v14h-1zM274 126h1v14h-1zM274 147h1v7h-1zM275 112h1v7h-1zM275 126h1v14h-1zM276 112h1v7h-1zM276 133h1v21h-1zM278 105h1v14h-1zM278 133h1v7h-1zM278 147h1v7h-1zM279 133h1v7h-1zM279 147h1v7h-1zM280 112h1v7h-1zM280 126h1v28h-1zM281 140h1v7h-1zM282 112h1v7h-1zM282 140h1v7h-1zM283 133h1v7h-1zM283 147h1v7h-1zM284 133h1v7h-1zM285 126h1v7h-1zM285 140h1v7h-1zM286 126h1v7h-1zM286 147h1v7h-1zM287 112h1v7h-1zM287 147h1v7h-1zM288 112h1v7h-1zM289 133h1v21h-1zM290 112h1v7h-1zM291 133h1v14h-1zM292 133h1v14h-1zM293 112h1v7h-1zM293 140h1v7h-1zM294 126h1v7h-1zM294 140h1v7h-1zM295 112h1v7h-1zM295 147h1v7h-1zM296 126h1v14h-1zM297 112h1v7h-1zM297 126h1v21h-1zM298 105h1v7h-1zM298 147h1v7h-1zM300 105h1v7h-1zM300 133h1v14h-1zM301 126h1v7h-1zM301 147h1v7h-1zM302 112h1v7h-1zM302 140h1v14h-1zM303 105h1v7h-1zM303 126h1v28h-1zM304 133h1v21h-1zM305 126h1v21h-1zM306 112h1v7h-1zM306 133h1v7h-1zM307 140h1v7h-1zM309 105h1v7h-1zM309 126h1v7h-1zM309 147h1v7h-1zM310 140h1v14h-1zM311 154h1v7h-1zM312 112h1v7h-1zM312 126h1v7h-1zM312 147h1v7h-1zM313 112h1v7h-1zM313 140h1v14h-1zM314 112h1v7h-1zM314 140h1v14h-1zM316 112h1v7h-1zM317 112h1v7h-1zM317 147h1v7h-1zM324 77h1v7h-1zM327 77h1v7h-1zM336 77h1v7h-1zM347 77h1v7h-1zM349 77h1v7h-1zM352 77h1v7h-1zM354 77h1v7h-1zM360 77h1v7h-1zM361 77h1v7h-1zM366 105h1v7h-1zM366 126h1v7h-1zM368 126h1v14h-1zM372 133h1v7h-1zM373 126h1v7h-1zM374 126h1v21h-1zM379 140h1v7h-1zM380 140h1v7h-1zM381 126h1v14h-1zM384 133h1v7h-1zM385 105h1v7h-1zM386 140h1v7h-1zM387 105h1v7h-1zM388 105h1v7h-1zM388 126h1v7h-1zM388 140h1v7h-1zM389 126h1v21h-1zM390 133h1v7h-1zM391 133h1v14h-1zM393 126h1v7h-1zM394 126h1v7h-1zM394 140h1v7h-1zM396 126h1v7h-1zM398 140h1v7h-1zM400 133h1v7h-1zM401 126h1v7h-1zM404 140h1v7h-1zM405 133h1v14h-1zM407 133h1v7h-1zM409 77h1v7h-1zM409 126h1v7h-1zM409 140h1v7h-1zM412 133h1v14h-1zM414 133h1v7h-1zM416 126h1v7h-1zM416 140h1v7h-1zM417 126h1v7h-1zM417 140h1v7h-1zM420 140h1v7h-1zM421 140h1v7h-1zM424 133h1v7h-1zM425 133h1v7h-1zM427 140h1v7h-1zM428 126h1v7h-1zM429 133h1v7h-1zM431 126h1v21h-1zM432 126h1v14h-1zM434 133h1v7h-1zM435 126h1v7h-1zM435 140h1v7h-1zM437 105h1v7h-1zM445 112h1v7h-1z"/>
<path fill="#96148c" d="M266 133h1v7h-1zM267 126h1v7h-1zM269 126h1v7h-1zM270 140h1v14h-1zM275 147h1v7h-1zM279 126h1v7h-1zM281 126h1v7h-1zM282 133h1v7h-1zM285 147h1v7h-1zM286 133h1v14h-1zM290 126h1v7h-1zM291 126h1v7h-1zM291 147h1v7h-1zM292 105h1v7h-1zM293 147h1v7h-1zM294 133h1v7h-1zM296 140h1v7h-1zM301 133h1v7h-1zM302 126h1v7h-1zM303 112h1v7h-1zM305 147h1v7h-1zM306 140h1v7h-1zM308 126h1v7h-1zM311 105h1v7h-1zM311 133h1v21h-1zM316 140h1v7h-1zM360 70h1v7h-1zM366 133h1v14h-1zM370 133h1v7h-1zM371 140h1v7h-1zM375 126h1v7h-1zM376 133h1v7h-1zM377 133h1v7h-1zM377 147h1v7h-1zM378 140h1v7h-1zM380 133h1v7h-1zM382 140h1v7h-1zM383 140h1v7h-1zM384 140h1v7h-1zM385 126h1v7h-1zM386 126h1v14h-1zM387 126h1v7h-1zM387 140h1v7h-1zM390 140h1v7h-1zM392 133h1v14h-1zM393 133h1v7h-1zM395 133h1v7h-1zM398 126h1v14h-1zM399 133h1v14h-1zM402 126h1v7h-1zM403 126h1v7h-1zM405 126h1v7h-1zM407 140h1v7h-1zM410 133h1v7h-1zM412 126h1v7h-1zM413 126h1v7h-1zM413 140h1v7h-1zM414 140h1v7h-1zM415 140h1v7h-1zM416 133h1v7h-1zM417 133h1v7h-1zM418 140h1v7h-1zM422 133h1v14h-1zM423 140h1v7h-1zM425 140h1v7h-1zM428 140h1v7h-1zM429 140h1v7h-1zM430 133h1v7h-1zM438 70h1v7h-1zM440 105h1v7h-1zM446 112h1v7h-1zM447 70h1v7h-1z"/>
<path fill="#a01496" d="M266 140h1v7h-1zM268 140h1v7h-1zM270 105h1v7h-1zM271 105h1v7h-1zM272 105h1v7h-1zM274 140h1v7h-1zM275 105h1v7h-1zM276 105h1v7h-1zM279 140h1v7h-1zM281 105h1v7h-1zM285 133h1v7h-1zM287 133h1v7h-1zM287 175h1v7h-1zM288 133h1v7h-1zM289 154h1v7h-1zM296 105h1v7h-1zM298 133h1v7h-1zM301 175h1v7h-1zM307 105h1v7h-1zM308 175h1v7h-1zM314 105h1v7h-1zM316 133h1v7h-1zM322 77h1v7h-1zM330 77h1v7h-1zM343 77h1v7h-1zM367 105h1v7h-1zM367 133h1v7h-1zM368 140h1v7h-1zM376 105h1v7h-1zM376 140h1v7h-1zM377 126h1v7h-1zM377 140h1v7h-1zM378 126h1v14h-1zM379 126h1v7h-1zM380 126h1v7h-1zM382 105h1v7h-1zM383 133h1v7h-1zM384 105h1v7h-1zM389 105h1v7h-1zM390 126h1v7h-1zM396 105h1v7h-1zM397 133h1v7h-1zM400 105h1v7h-1zM407 105h1v7h-1zM411 133h1v7h-1zM414 126h1v7h-1zM419 126h1v14h-1zM421 126h1v14h-1zM422 126h1v7h-1zM426 126h1v14h-1zM428 133h1v7h-1zM432 140h1v7h-1zM433 126h1v7h-1zM434 126h1v7h-1zM438 105h1v7h-1zM441 105h1v7h-1zM444 105h1v7h-1zM447 105h1v7h-1z"/>
<path fill="#961482" d="M266 147h1v7h-1zM268 112h1v7h-1zM270 112h1v7h-1zM270 126h1v7h-1zM275 140h1v7h-1zM279 112h1v7h-1zM282 126h1v7h-1zM283 126h1v7h-1zM283 140h1v7h-1zM285 112h1v7h-1zM287 140h1v7h-1zM290 133h1v7h-1zM294 112h1v7h-1zM295 133h1v7h-1zM297 147h1v7h-1zM298 126h1v7h-1zM298 140h1v7h-1zM299 147h1v7h-1zM306 147h1v7h-1zM307 112h1v7h-1zM307 147h1v7h-1zM308 112h1v7h-1zM308 140h1v7h-1zM314 126h1v7h-1zM315 112h1v7h-1zM315 140h1v7h-1zM332 70h1v7h-1zM336 70h1v7h-1zM340 70h1v7h-1zM345 70h1v7h-1zM352 70h1v7h-1zM367 140h1v7h-1zM370 126h1v7h-1zM370 140h1v14h-1zM371 126h1v7h-1zM372 126h1v7h-1zM372 140h1v7h-1zM385 140h1v7h-1zM391 126h1v7h-1zM395 126h1v7h-1zM397 126h1v7h-1zM399 126h1v7h-1zM406 133h1v7h-1zM410 140h1v7h-1zM427 133h1v7h-1zM433 133h1v7h-1zM437 112h1v7h-1zM441 70h1v7h-1zM445 70h1v7h-1z"/>
<path fill="#aa1e8c" d="M266 154h1v7h-1zM267 119h1v7h-1zM271 175h1v7h-1zM272 175h1v7h-1zM274 154h1v7h-1zM275 119h1v7h-1zM285 154h1v7h-1zM286 154h1v7h-1zM287 119h1v7h-1zM288 119h1v7h-1zM292 119h1v7h-1zM296 154h1v7h-1zM300 175h1v7h-1zM313 119h1v7h-1zM330 119h1v7h-1zM334 77h1v7h-1zM335 105h1v7h-1zM338 91h1v7h-1zM341 56h1v7h-1zM342 77h1v7h-1zM345 56h1v7h-1zM349 56h1v7h-1zM350 56h1v7h-1zM351 91h1v7h-1zM359 91h1v7h-1zM363 56h1v7h-1zM363 77h1v7h-1zM364 56h1v7h-1zM369 105h1v7h-1zM375 105h1v7h-1zM379 105h1v7h-1zM398 105h1v7h-1zM412 77h1v7h-1zM418 63h1v7h-1zM419 77h1v7h-1zM438 98h1v7h-1z"/>
<path fill="#be32a0" d="M266 161h1v7h-1zM269 168h1v7h-1zM275 161h1v7h-1zM276 161h1v7h-1zM277 161h1v14h-1zM281 161h1v7h-1zM282 161h1v7h-1zM284 161h1v7h-1zM286 161h1v7h-1zM292 161h1v7h-1zM295 168h1v7h-1zM296 161h1v7h-1zM315 161h1v7h-1zM317 161h1v7h-1zM353 84h1v7h-1z"/>
<path fill="#b432a0" d="M266 168h1v7h-1zM268 168h1v7h-1zM269 161h1v7h-1zM271 161h1v7h-1zM278 161h1v7h-1zM279 161h1v7h-1zM281 168h1v7h-1zM286 168h1v7h-1zM287 161h1v14h-1zM291 161h1v7h-1zM292 168h1v7h-1zM293 161h1v7h-1zM295 161h1v7h-1zM297 161h1v7h-1zM299 161h1v7h-1zM305 161h1v7h-1zM309 161h1v7h-1zM310 161h1v7h-1zM312 161h1v7h-1z"/>
<path fill="#6e0a5a" d="M266 182h1v7h-1zM273 189h1v7h-1zM302 182h1v7h-1zM307 182h1v7h-1zM321 189h1v7h-1zM333 189h1v7h-1zM389 182h1v7h-1z"/>
<path fill="#641464" d="M266 189h1v7h-1zM276 189h1v7h-1zM287 98h1v7h-1zM312 189h1v7h-1zM313 196h1v7h-1zM316 196h1v7h-1zM319 189h1v14h-1zM324 182h1v7h-1zM325 182h1v7h-1zM326 196h1v7h-1zM327 196h1v7h-1zM328 182h1v7h-1zM329 189h1v14h-1zM330 189h1v14h-1zM335 189h1v7h-1zM340 189h1v7h-1zM342 189h1v14h-1zM349 182h1v21h-1zM353 182h1v7h-1zM354 182h1v7h-1zM357 182h1v7h-1zM359 189h1v14h-1zM361 182h1v7h-1zM364 182h1v7h-1zM367 182h1v7h-1zM369 189h1v7h-1zM370 189h1v7h-1zM373 182h1v14h-1zM378 189h1v7h-1zM383 189h1v7h-1zM384 182h1v7h-1zM388 182h1v7h-1zM393 182h1v7h-1zM397 182h1v7h-1zM402 189h1v7h-1zM403 196h1v7h-1zM404 182h1v7h-1zM405 196h1v7h-1zM415 182h1v7h-1zM422 196h1v7h-1zM434 196h1v7h-1zM442 189h1v7h-1zM443 182h1v21h-1zM447 182h1v7h-1z"/>
<path fill="#641450" d="M266 196h1v7h-1zM268 196h1v7h-1zM269 189h1v7h-1zM271 182h1v14h-1zM273 196h1v7h-1zM274 196h1v7h-1zM275 189h1v14h-1zM279 182h1v7h-1zM281 182h1v7h-1zM282 196h1v7h-1zM293 196h1v7h-1zM294 182h1v7h-1zM303 182h1v7h-1zM304 189h1v7h-1zM305 182h1v14h-1zM308 189h1v14h-1zM309 182h1v14h-1zM310 189h1v7h-1zM311 196h1v7h-1zM313 182h1v7h-1zM315 196h1v7h-1zM317 182h1v14h-1zM324 189h1v7h-1zM368 196h1v7h-1zM372 189h1v7h-1zM374 196h1v7h-1zM388 189h1v7h-1zM391 189h1v7h-1zM403 182h1v7h-1zM409 196h1v7h-1zM419 182h1v7h-1zM425 182h1v7h-1zM437 182h1v7h-1zM439 196h1v7h-1zM440 182h1v7h-1zM441 196h1v7h-1zM447 189h1v7h-1z"/>
<path fill="#968c28" d="M267 56h1v7h-1z"/>
<path fill="#784646" d="M267 63h1v7h-1zM275 63h1v7h-1zM333 154h1v7h-1z"/>
<path fill="#963282" d="M267 70h1v7h-1zM281 70h1v7h-1zM282 70h1v7h-1zM284 70h1v7h-1zM297 70h1v7h-1zM298 70h1v7h-1zM304 70h1v7h-1zM308 70h1v7h-1zM310 70h1v7h-1zM372 77h1v7h-1zM386 70h1v7h-1zM398 112h1v7h-1zM405 70h1v7h-1zM443 154h1v7h-1zM445 154h1v7h-1z"/>
<path fill="#be9646" d="M267 77h1v7h-1zM276 77h1v7h-1zM284 77h1v7h-1zM294 77h1v7h-1zM302 77h1v7h-1zM308 77h1v7h-1zM328 154h1v7h-1zM342 140h1v7h-1zM362 154h1v7h-1zM439 126h1v7h-1zM440 126h1v7h-1zM443 126h1v7h-1z"/>
<path fill="#a08c32" d="M267 84h1v7h-1zM269 84h1v7h-1zM271 84h1v7h-1zM294 84h1v7h-1zM302 84h1v7h-1zM311 84h1v7h-1zM357 168h1v7h-1zM358 168h1v7h-1z"/>
<path fill="#aa646e" d="M267 91h1v7h-1zM269 91h1v7h-1zM299 91h1v7h-1zM303 91h1v7h-1zM421 175h1v7h-1zM422 175h1v7h-1zM428 175h1v7h-1zM432 175h1v7h-1zM434 175h1v7h-1z"/>
<path fill="#501e46" d="M267 98h1v7h-1zM286 98h1v7h-1zM307 98h1v7h-1zM412 161h1v7h-1zM422 161h1v7h-1zM435 161h1v7h-1z"/>
<path fill="#aa148c" d="M267 105h1v7h-1zM268 154h1v7h-1zM273 105h1v7h-1zM273 175h1v7h-1zM282 175h1v7h-1zM289 105h1v7h-1zM293 105h1v7h-1zM293 175h1v7h-1zM296 175h1v7h-1zM299 105h1v7h-1zM305 175h1v7h-1zM317 140h1v7h-1zM359 77h1v7h-1zM391 105h1v7h-1z"/>
<path fill="#a00a8c" d="M267 140h1v7h-1zM269 140h1v7h-1zM277 133h1v7h-1zM306 126h1v7h-1zM313 133h1v7h-1zM369 133h1v7h-1zM396 140h1v7h-1zM403 140h1v7h-1z"/>
<path fill="#8c1482" d="M267 147h1v7h-1zM271 126h1v7h-1zM271 147h1v7h-1zM272 147h1v7h-1zM278 126h1v7h-1zM282 147h1v7h-1zM301 112h1v7h-1zM304 126h1v7h-1zM310 133h1v7h-1zM314 133h1v7h-1zM325 70h1v7h-1zM327 70h1v7h-1zM328 70h1v7h-1zM338 70h1v7h-1zM356 70h1v7h-1zM363 70h1v7h-1zM364 70h1v7h-1zM369 140h1v7h-1zM407 126h1v7h-1zM418 133h1v7h-1zM444 70h1v7h-1zM446 70h1v7h-1z"/>
<path fill="#c84696" d="M267 161h1v7h-1z"/>
<path fill="#c83c96" d="M267 168h1v7h-1zM278 168h1v7h-1zM285 168h1v7h-1zM309 168h1v7h-1z"/>
<path fill="#64145a" d="M267 182h1v7h-1zM269 98h1v7h-1zM269 147h1v7h-1zM270 189h1v7h-1zM271 196h1v7h-1zM274 189h1v7h-1zM275 182h1v7h-1zM277 196h1v7h-1zM278 182h1v7h-1zM279 196h1v7h-1zM282 182h1v7h-1zM284 182h1v7h-1zM285 182h1v7h-1zM286 189h1v14h-1zM287 189h1v7h-1zM288 189h1v7h-1zM290 189h1v14h-1zM291 182h1v7h-1zM292 196h1v7h-1zM294 189h1v7h-1zM295 189h1v7h-1zM298 182h1v7h-1zM299 182h1v7h-1zM300 147h1v7h-1zM302 189h1v14h-1zM304 182h1v7h-1zM306 196h1v7h-1zM309 98h1v7h-1zM312 182h1v7h-1zM313 189h1v7h-1zM314 182h1v21h-1zM316 189h1v7h-1zM319 182h1v7h-1zM321 196h1v7h-1zM323 189h1v7h-1zM326 189h1v7h-1zM327 182h1v7h-1zM331 196h1v7h-1zM332 182h1v7h-1zM334 182h1v7h-1zM335 70h1v7h-1zM335 196h1v7h-1zM336 182h1v7h-1zM337 182h1v14h-1zM338 182h1v7h-1zM339 70h1v7h-1zM339 182h1v14h-1zM341 196h1v7h-1zM343 196h1v7h-1zM345 189h1v7h-1zM346 196h1v7h-1zM349 70h1v7h-1zM358 189h1v7h-1zM359 182h1v7h-1zM360 182h1v14h-1zM362 189h1v14h-1zM363 196h1v7h-1zM367 196h1v7h-1zM372 196h1v7h-1zM374 182h1v14h-1zM377 189h1v14h-1zM378 196h1v7h-1zM379 189h1v14h-1zM380 182h1v7h-1zM381 189h1v7h-1zM385 189h1v14h-1zM387 182h1v14h-1zM388 196h1v7h-1zM389 189h1v14h-1zM390 182h1v21h-1zM391 182h1v7h-1zM391 196h1v7h-1zM396 189h1v7h-1zM397 196h1v7h-1zM398 196h1v7h-1zM399 189h1v7h-1zM401 182h1v7h-1zM407 182h1v14h-1zM412 182h1v7h-1zM412 196h1v7h-1zM413 196h1v7h-1zM418 182h1v7h-1zM420 182h1v7h-1zM422 182h1v7h-1zM430 182h1v7h-1zM430 196h1v7h-1zM431 196h1v7h-1zM437 196h1v7h-1zM441 182h1v7h-1zM446 182h1v7h-1zM447 196h1v7h-1zM448 196h1v7h-1z"/>
<path fill="#640a5a" d="M267 189h1v7h-1zM269 182h1v7h-1zM284 189h1v7h-1zM292 182h1v7h-1zM297 196h1v7h-1zM311 182h1v14h-1zM316 182h1v7h-1zM323 196h1v7h-1zM348 189h1v7h-1zM353 196h1v7h-1zM379 182h1v7h-1zM392 196h1v7h-1zM401 196h1v7h-1z"/>
<path fill="#640a50" d="M267 196h1v7h-1zM270 182h1v7h-1zM277 189h1v7h-1zM280 189h1v7h-1zM282 189h1v7h-1zM289 196h1v7h-1zM290 182h1v7h-1zM295 182h1v7h-1zM295 196h1v7h-1zM296 196h1v7h-1zM315 182h1v7h-1zM354 189h1v7h-1zM401 189h1v7h-1zM404 196h1v7h-1zM439 189h1v7h-1z"/>
<path fill="#78463c" d="M268 63h1v7h-1zM281 63h1v7h-1zM310 63h1v7h-1z"/>
<path fill="#962878" d="M268 70h1v7h-1zM270 70h1v7h-1zM367 70h1v7h-1zM373 70h1v7h-1zM395 70h1v7h-1zM396 70h1v7h-1zM398 70h1v7h-1zM409 84h1v7h-1zM430 84h1v7h-1zM432 84h1v14h-1zM433 84h1v7h-1zM435 84h1v7h-1z"/>
<path fill="#be785a" d="M268 77h1v7h-1zM273 77h1v7h-1z"/>
<path fill="#82643c" d="M268 84h1v7h-1zM273 84h1v7h-1zM284 84h1v7h-1zM304 84h1v7h-1zM305 84h1v7h-1zM310 84h1v7h-1zM363 168h1v7h-1z"/>
<path fill="#aa4682" d="M268 91h1v7h-1zM271 91h1v7h-1zM273 91h1v7h-1zM274 91h1v7h-1zM275 91h1v7h-1zM279 91h1v7h-1zM280 91h1v7h-1zM291 91h1v7h-1zM294 91h1v7h-1zM306 91h1v7h-1zM310 91h1v7h-1zM312 91h1v7h-1zM314 91h1v7h-1zM317 91h1v7h-1zM348 147h1v7h-1zM349 147h1v7h-1zM412 175h1v7h-1zM414 175h1v7h-1zM415 175h1v7h-1zM417 175h1v7h-1zM433 175h1v7h-1z"/>
<path fill="#46143c" d="M268 98h1v7h-1zM272 98h1v7h-1zM275 98h1v7h-1zM282 98h1v7h-1zM285 196h1v7h-1zM287 196h1v7h-1zM297 98h1v7h-1zM298 98h1v7h-1zM301 98h1v7h-1z"/>
<path fill="#aa288c" d="M268 119h1v7h-1zM269 119h1v7h-1zM284 154h1v7h-1zM302 119h1v7h-1zM319 56h1v7h-1zM327 105h1v7h-1zM330 56h1v7h-1zM332 91h1v7h-1zM332 119h1v7h-1zM342 56h1v7h-1zM342 105h1v7h-1zM348 56h1v7h-1zM351 119h1v7h-1zM366 154h1v7h-1zM370 154h1v7h-1zM376 154h1v7h-1zM382 154h1v7h-1zM385 154h1v7h-1zM387 112h1v7h-1zM400 154h1v7h-1zM404 77h1v7h-1zM404 175h1v7h-1zM405 77h1v7h-1zM411 70h1v7h-1zM413 70h1v7h-1zM414 70h1v7h-1zM420 70h1v7h-1zM422 70h1v7h-1zM423 70h1v7h-1zM428 70h1v7h-1zM429 63h1v7h-1zM432 63h1v7h-1zM435 70h1v7h-1z"/>
<path fill="#6e1464" d="M268 126h1v7h-1zM268 147h1v7h-1zM269 133h1v7h-1zM273 133h1v7h-1zM281 196h1v7h-1zM283 182h1v7h-1zM290 147h1v7h-1zM292 147h1v7h-1zM315 119h1v7h-1zM322 189h1v7h-1zM326 182h1v7h-1zM334 189h1v7h-1zM358 196h1v7h-1zM361 189h1v7h-1zM364 189h1v14h-1zM372 182h1v7h-1zM377 182h1v7h-1zM380 189h1v7h-1zM384 196h1v7h-1zM392 182h1v7h-1zM394 189h1v7h-1zM397 189h1v7h-1zM400 140h1v7h-1zM400 189h1v7h-1zM401 133h1v7h-1zM405 182h1v7h-1zM411 126h1v7h-1zM418 189h1v7h-1zM439 182h1v7h-1zM442 196h1v7h-1z"/>
<path fill="#a01e78" d="M268 133h1v7h-1zM270 119h1v7h-1zM298 112h1v7h-1zM307 133h1v7h-1zM310 112h1v7h-1zM392 147h1v7h-1zM397 147h1v7h-1zM410 91h1v7h-1z"/>
<path fill="#be3ca0" d="M268 161h1v7h-1zM285 161h1v7h-1zM301 168h1v7h-1zM308 168h1v7h-1zM314 168h1v7h-1zM316 161h1v7h-1z"/>
<path fill="#6e145a" d="M268 182h1v7h-1zM273 126h1v7h-1zM277 112h1v7h-1zM277 182h1v7h-1zM289 182h1v7h-1zM298 196h1v7h-1zM300 182h1v7h-1zM307 189h1v7h-1zM308 133h1v7h-1zM309 196h1v7h-1zM338 189h1v7h-1zM340 196h1v7h-1zM343 182h1v7h-1zM346 189h1v7h-1zM348 182h1v7h-1zM348 196h1v7h-1zM354 196h1v7h-1zM376 189h1v7h-1zM381 182h1v7h-1zM383 182h1v7h-1zM387 196h1v7h-1zM393 189h1v7h-1zM394 196h1v7h-1zM395 182h1v14h-1zM399 182h1v7h-1zM402 196h1v7h-1zM417 196h1v7h-1zM429 182h1v7h-1zM431 182h1v7h-1zM442 182h1v7h-1zM444 196h1v7h-1zM445 189h1v14h-1z"/>
<path fill="#821478" d="M268 189h1v7h-1zM276 196h1v7h-1zM320 70h1v7h-1zM323 70h1v7h-1zM326 70h1v7h-1zM330 70h1v7h-1zM338 196h1v7h-1zM347 196h1v7h-1zM350 70h1v7h-1zM359 70h1v7h-1zM361 70h1v7h-1zM383 196h1v7h-1zM398 189h1v7h-1zM413 182h1v7h-1zM435 196h1v7h-1zM439 70h1v7h-1z"/>
<path fill="#aa6450" d="M269 63h1v7h-1zM276 63h1v7h-1zM285 63h1v7h-1zM287 63h1v7h-1zM296 63h1v7h-1z"/>
<path fill="#a03278" d="M269 70h1v7h-1zM313 70h1v7h-1zM343 105h1v7h-1zM382 168h1v7h-1zM393 84h1v7h-1zM398 84h1v7h-1zM417 70h1v7h-1zM432 70h1v7h-1zM434 70h1v7h-1zM444 91h1v7h-1zM448 91h1v7h-1z"/>
<path fill="#b48c46" d="M269 77h1v7h-1zM272 77h1v7h-1zM274 77h1v7h-1zM287 77h1v7h-1zM289 77h1v7h-1zM290 77h1v7h-1zM292 77h1v7h-1zM312 77h1v7h-1zM313 77h1v7h-1zM326 154h1v7h-1zM329 154h1v7h-1zM341 154h1v7h-1zM343 154h1v7h-1zM349 154h1v7h-1zM357 133h1v7h-1z"/>
<path fill="#961478" d="M269 112h1v7h-1zM281 147h1v7h-1zM283 112h1v7h-1zM284 112h1v7h-1zM289 126h1v7h-1zM291 112h1v7h-1zM292 126h1v7h-1zM300 112h1v7h-1zM309 112h1v7h-1zM351 70h1v7h-1zM406 140h1v7h-1zM421 91h1v7h-1zM424 126h1v7h-1z"/>
<path fill="#a01e8c" d="M269 175h1v7h-1zM272 119h1v7h-1zM277 119h1v7h-1zM278 119h1v7h-1zM280 119h1v7h-1zM281 119h1v7h-1zM282 119h1v7h-1zM283 119h1v7h-1zM283 154h1v7h-1zM284 119h1v7h-1zM285 119h1v7h-1zM286 119h1v7h-1zM289 119h1v7h-1zM290 119h1v7h-1zM291 119h1v7h-1zM293 133h1v7h-1zM294 119h1v7h-1zM295 154h1v7h-1zM299 133h1v14h-1zM299 154h1v7h-1zM300 154h1v7h-1zM301 119h1v7h-1zM303 119h1v7h-1zM304 119h1v7h-1zM307 119h1v7h-1zM307 154h1v7h-1zM310 119h1v7h-1zM311 119h1v7h-1zM314 119h1v7h-1zM317 119h1v14h-1zM319 77h1v7h-1zM320 77h1v7h-1zM321 119h1v7h-1zM323 91h1v7h-1zM323 119h1v7h-1zM324 105h1v7h-1zM326 119h1v7h-1zM327 56h1v7h-1zM328 105h1v7h-1zM328 119h1v7h-1zM329 77h1v7h-1zM329 105h1v7h-1zM329 119h1v7h-1zM330 105h1v7h-1zM331 119h1v7h-1zM333 119h1v7h-1zM335 119h1v7h-1zM336 119h1v7h-1zM337 77h1v7h-1zM338 77h1v7h-1zM338 119h1v7h-1zM340 119h1v7h-1zM341 105h1v7h-1zM341 119h1v7h-1zM342 119h1v7h-1zM343 119h1v7h-1zM346 119h1v7h-1zM348 105h1v7h-1zM348 119h1v7h-1zM350 119h1v7h-1zM352 91h1v7h-1zM352 119h1v7h-1zM353 105h1v7h-1zM354 119h1v7h-1zM355 105h1v7h-1zM356 105h1v7h-1zM357 119h1v7h-1zM358 119h1v7h-1zM361 105h1v7h-1zM361 119h1v7h-1zM363 105h1v7h-1zM363 119h1v7h-1zM364 105h1v7h-1zM366 70h1v7h-1zM366 147h1v7h-1zM369 70h1v7h-1zM370 70h1v7h-1zM371 70h1v7h-1zM371 105h1v7h-1zM371 147h1v7h-1zM372 70h1v7h-1zM372 147h1v7h-1zM376 70h1v7h-1zM376 147h1v7h-1zM378 147h1v7h-1zM379 70h1v7h-1zM381 147h1v7h-1zM382 70h1v7h-1zM382 147h1v7h-1zM383 70h1v7h-1zM383 147h1v7h-1zM384 147h1v7h-1zM385 70h1v7h-1zM385 147h1v7h-1zM389 70h1v7h-1zM389 147h1v7h-1zM390 147h1v7h-1zM391 147h1v7h-1zM392 70h1v7h-1zM393 70h1v7h-1zM393 147h1v7h-1zM395 140h1v7h-1zM397 70h1v7h-1zM399 147h1v7h-1zM402 147h1v7h-1zM405 147h1v7h-1zM406 147h1v7h-1zM407 70h1v7h-1zM407 147h1v7h-1zM409 91h1v7h-1zM410 84h1v7h-1zM411 77h1v21h-1zM412 91h1v7h-1zM414 63h1v7h-1zM414 84h1v7h-1zM415 91h1v7h-1zM416 91h1v7h-1zM417 77h1v7h-1zM418 77h1v7h-1zM419 91h1v7h-1zM421 77h1v7h-1zM423 77h1v7h-1zM424 91h1v7h-1zM425 84h1v7h-1zM426 77h1v7h-1zM427 84h1v7h-1zM428 84h1v7h-1zM429 77h1v7h-1zM429 91h1v7h-1zM430 63h1v7h-1zM432 77h1v7h-1zM433 91h1v7h-1zM433 140h1v7h-1zM434 77h1v21h-1zM438 112h1v7h-1zM441 112h1v7h-1zM443 98h1v7h-1zM443 112h1v7h-1zM444 98h1v7h-1zM445 98h1v7h-1zM446 98h1v14h-1z"/>
<path fill="#5a1e50" d="M269 196h1v7h-1zM296 182h1v7h-1zM299 98h1v7h-1zM304 196h1v7h-1zM311 98h1v7h-1zM406 182h1v7h-1z"/>
<path fill="#786432" d="M270 56h1v7h-1zM276 56h1v7h-1zM277 56h1v7h-1zM278 56h1v7h-1zM282 56h1v7h-1zM283 56h1v7h-1zM293 56h1v7h-1zM317 56h1v7h-1z"/>
<path fill="#aa6e50" d="M270 63h1v7h-1zM271 77h1v7h-1zM290 63h1v7h-1zM294 63h1v7h-1zM301 63h1v7h-1zM308 63h1v7h-1zM309 63h1v7h-1zM391 119h1v7h-1zM443 140h1v7h-1z"/>
<path fill="#b49646" d="M270 77h1v7h-1z"/>
<path fill="#8c643c" d="M270 84h1v7h-1zM292 84h1v7h-1zM303 84h1v7h-1zM345 168h1v7h-1z"/>
<path fill="#b48250" d="M270 91h1v7h-1zM301 91h1v7h-1zM327 126h1v7h-1zM341 126h1v14h-1zM344 140h1v7h-1zM345 140h1v7h-1zM347 140h1v7h-1zM348 140h1v7h-1zM357 126h1v7h-1z"/>
<path fill="#6e1450" d="M270 98h1v7h-1zM272 182h1v7h-1zM288 196h1v7h-1zM291 189h1v14h-1zM296 189h1v7h-1zM369 182h1v7h-1zM382 196h1v7h-1z"/>
<path fill="#b42896" d="M270 154h1v7h-1zM298 168h1v7h-1zM311 168h1v7h-1zM312 168h1v7h-1zM315 154h1v7h-1zM323 84h1v7h-1zM327 63h1v7h-1zM328 84h1v7h-1zM329 63h1v7h-1zM334 84h1v7h-1zM336 63h1v7h-1zM336 84h1v7h-1zM341 84h1v7h-1zM343 84h1v7h-1zM344 63h1v7h-1zM346 84h1v7h-1zM349 84h1v7h-1zM351 84h1v7h-1zM358 84h1v7h-1zM359 63h1v7h-1zM373 175h1v7h-1zM378 175h1v7h-1zM398 154h1v7h-1zM398 175h1v7h-1zM406 175h1v7h-1zM446 56h1v7h-1z"/>
<path fill="#c846aa" d="M270 161h1v7h-1z"/>
<path fill="#b43296" d="M270 168h1v7h-1zM273 168h1v7h-1zM275 168h1v7h-1zM280 168h1v7h-1zM282 168h1v7h-1zM284 168h1v7h-1zM302 168h1v7h-1zM304 161h1v7h-1zM305 168h1v7h-1zM307 161h1v7h-1zM308 161h1v7h-1zM310 168h1v7h-1zM313 161h1v14h-1zM370 112h1v7h-1zM372 175h1v7h-1z"/>
<path fill="#5a1450" d="M270 196h1v7h-1zM276 182h1v7h-1zM278 189h1v7h-1zM299 189h1v14h-1zM306 189h1v7h-1zM307 196h1v7h-1zM308 182h1v7h-1zM351 182h1v7h-1zM353 70h1v7h-1zM371 182h1v7h-1zM434 182h1v7h-1zM448 182h1v7h-1z"/>
<path fill="#6e6e32" d="M271 56h1v7h-1z"/>
<path fill="#b48c3c" d="M271 63h1v7h-1zM288 63h1v7h-1zM293 63h1v7h-1zM335 140h1v7h-1z"/>
<path fill="#8c3278" d="M271 70h1v7h-1zM272 70h1v7h-1zM288 70h1v7h-1zM388 70h1v7h-1zM403 70h1v7h-1zM442 63h1v7h-1z"/>
<path fill="#821e78" d="M271 98h1v7h-1zM279 98h1v7h-1zM289 98h1v7h-1zM296 98h1v7h-1zM314 98h1v7h-1zM315 98h1v7h-1zM317 98h1v7h-1zM362 70h1v7h-1zM422 84h1v7h-1z"/>
<path fill="#96008c" d="M271 133h1v7h-1z"/>
<path fill="#be4696" d="M271 168h1v7h-1zM307 168h1v7h-1zM319 175h1v7h-1zM329 175h1v7h-1zM332 175h1v7h-1zM340 175h1v7h-1zM342 175h1v7h-1zM348 175h1v7h-1zM351 175h1v7h-1zM352 175h1v7h-1zM357 175h1v7h-1zM360 175h1v7h-1zM363 175h1v7h-1zM364 175h1v7h-1z"/>
<path fill="#5a4632" d="M272 56h1v7h-1zM273 56h1v7h-1zM277 84h1v7h-1zM289 84h1v7h-1zM291 56h1v7h-1zM291 84h1v7h-1zM295 84h1v7h-1zM296 56h1v7h-1zM300 84h1v7h-1zM308 84h1v7h-1zM311 56h1v7h-1zM316 56h1v7h-1zM321 168h1v7h-1zM322 168h1v7h-1zM323 168h1v7h-1zM327 168h1v7h-1zM344 168h1v7h-1zM355 168h1v7h-1z"/>
<path fill="#aa506e" d="M272 63h1v7h-1zM274 63h1v7h-1zM279 63h1v7h-1zM299 63h1v7h-1zM303 63h1v7h-1zM307 63h1v7h-1zM333 147h1v7h-1zM341 147h1v7h-1zM378 63h1v7h-1zM419 147h1v7h-1z"/>
<path fill="#826446" d="M272 84h1v7h-1zM279 84h1v7h-1zM333 168h1v7h-1z"/>
<path fill="#aa6478" d="M272 91h1v7h-1zM326 112h1v7h-1z"/>
<path fill="#960a82" d="M272 126h1v7h-1zM288 126h1v7h-1zM296 112h1v7h-1zM300 126h1v7h-1zM309 133h1v7h-1zM310 126h1v7h-1zM379 133h1v7h-1zM402 140h1v7h-1zM404 133h1v7h-1zM409 133h1v7h-1zM423 133h1v7h-1zM430 140h1v7h-1z"/>
<path fill="#a01482" d="M272 133h1v7h-1zM277 140h1v7h-1zM284 140h1v7h-1zM302 133h1v7h-1zM305 112h1v7h-1zM312 133h1v7h-1zM316 126h1v7h-1zM323 77h1v7h-1zM373 133h1v7h-1zM375 140h1v7h-1zM376 126h1v7h-1zM381 140h1v7h-1zM387 147h1v7h-1zM393 140h1v7h-1zM401 140h1v7h-1zM422 77h1v7h-1zM430 126h1v7h-1zM443 105h1v7h-1z"/>
<path fill="#c846a0" d="M272 161h1v7h-1zM300 161h1v7h-1zM302 161h1v7h-1zM314 161h1v7h-1z"/>
<path fill="#b43c96" d="M272 168h1v7h-1zM274 168h1v7h-1zM316 168h1v7h-1zM329 98h1v7h-1zM331 98h1v7h-1zM358 98h1v7h-1zM363 98h1v7h-1zM364 98h1v7h-1zM437 175h1v7h-1z"/>
<path fill="#5a145a" d="M272 189h1v7h-1zM274 98h1v7h-1zM274 182h1v7h-1zM283 189h1v7h-1zM287 182h1v7h-1zM301 182h1v7h-1zM303 196h1v7h-1zM310 196h1v7h-1zM329 182h1v7h-1zM332 189h1v7h-1zM336 196h1v7h-1zM341 189h1v7h-1zM344 196h1v7h-1zM352 189h1v7h-1zM355 189h1v7h-1zM356 182h1v7h-1zM366 182h1v7h-1zM367 189h1v7h-1zM370 182h1v7h-1zM371 189h1v7h-1zM375 189h1v7h-1zM384 189h1v7h-1zM386 182h1v7h-1zM393 196h1v7h-1zM399 196h1v7h-1zM403 189h1v7h-1zM406 189h1v7h-1zM411 196h1v7h-1zM428 196h1v7h-1zM440 196h1v7h-1zM448 189h1v7h-1z"/>
<path fill="#641e5a" d="M272 196h1v7h-1zM277 98h1v7h-1zM280 182h1v7h-1zM286 182h1v7h-1zM293 98h1v7h-1zM294 98h1v7h-1zM302 98h1v7h-1zM303 98h1v7h-1zM310 182h1v7h-1zM330 182h1v7h-1zM334 196h1v7h-1zM337 196h1v7h-1zM339 196h1v7h-1zM380 196h1v7h-1zM382 182h1v7h-1zM386 189h1v14h-1zM396 196h1v7h-1zM398 182h1v7h-1zM402 182h1v7h-1zM404 189h1v7h-1zM407 196h1v7h-1zM410 182h1v7h-1zM414 196h1v7h-1zM415 196h1v7h-1zM416 196h1v7h-1zM418 196h1v7h-1zM421 182h1v7h-1zM421 196h1v7h-1zM423 182h1v7h-1zM423 196h1v7h-1zM427 56h1v7h-1zM427 196h1v7h-1zM428 182h1v7h-1zM432 182h1v7h-1zM433 196h1v7h-1zM438 182h1v14h-1zM441 189h1v7h-1z"/>
<path fill="#aa6e46" d="M273 63h1v7h-1zM315 63h1v7h-1zM316 63h1v7h-1z"/>
<path fill="#963278" d="M273 70h1v7h-1zM276 70h1v7h-1zM280 70h1v7h-1zM292 70h1v7h-1zM300 70h1v7h-1zM307 70h1v7h-1zM315 70h1v7h-1zM366 56h1v7h-1zM366 84h1v7h-1zM370 84h1v7h-1zM371 56h1v7h-1zM382 84h1v7h-1zM395 56h1v7h-1zM401 56h1v7h-1zM401 84h1v7h-1zM418 70h1v7h-1zM419 70h1v7h-1zM437 91h1v7h-1zM440 140h1v7h-1zM444 140h1v7h-1z"/>
<path fill="#6e1e50" d="M273 98h1v7h-1zM295 98h1v7h-1zM298 189h1v7h-1zM414 161h1v7h-1zM429 196h1v7h-1zM433 182h1v7h-1z"/>
<path fill="#a01478" d="M273 112h1v7h-1zM277 126h1v7h-1zM304 112h1v7h-1z"/>
<path fill="#d23caa" d="M273 161h1v7h-1z"/>
<path fill="#5a1446" d="M273 182h1v7h-1zM430 56h1v7h-1zM432 56h1v7h-1z"/>
<path fill="#785a3c" d="M274 56h1v7h-1zM308 56h1v7h-1zM337 133h1v7h-1zM441 168h1v7h-1z"/>
<path fill="#968232" d="M274 84h1v7h-1zM281 84h1v7h-1zM286 84h1v7h-1zM293 84h1v7h-1zM306 84h1v7h-1zM307 84h1v7h-1z"/>
<path fill="#961e82" d="M274 112h1v7h-1zM287 126h1v7h-1zM307 126h1v7h-1zM308 147h1v7h-1zM332 105h1v7h-1zM373 147h1v7h-1zM378 70h1v7h-1zM382 126h1v7h-1zM385 133h1v7h-1zM394 70h1v7h-1zM395 147h1v7h-1zM399 70h1v7h-1zM400 147h1v7h-1zM401 70h1v7h-1zM403 133h1v7h-1zM404 147h1v7h-1zM415 56h1v7h-1zM415 126h1v7h-1zM419 56h1v7h-1zM419 140h1v7h-1zM423 84h1v14h-1zM429 84h1v7h-1zM430 91h1v7h-1zM431 56h1v7h-1zM434 140h1v7h-1zM441 63h1v7h-1zM443 63h1v7h-1zM446 63h1v7h-1zM448 63h1v7h-1z"/>
<path fill="#a02882" d="M274 119h1v7h-1zM276 119h1v7h-1zM319 105h1v7h-1zM324 119h1v7h-1zM331 105h1v7h-1zM334 105h1v7h-1zM336 105h1v7h-1zM339 105h1v7h-1zM347 119h1v7h-1zM348 91h1v7h-1zM349 105h1v7h-1zM353 119h1v7h-1zM357 105h1v7h-1zM359 119h1v7h-1zM364 119h1v7h-1zM370 77h1v7h-1zM375 70h1v7h-1zM400 70h1v7h-1zM403 147h1v7h-1zM404 70h1v7h-1zM406 70h1v7h-1zM409 70h1v7h-1zM410 70h1v7h-1zM413 84h1v7h-1zM413 154h1v7h-1zM414 154h1v7h-1zM415 70h1v7h-1zM419 84h1v7h-1zM421 70h1v7h-1zM424 77h1v7h-1z"/>
<path fill="#c8786e" d="M274 161h1v7h-1z"/>
<path fill="#786428" d="M275 56h1v7h-1zM286 56h1v7h-1zM310 56h1v7h-1z"/>
<path fill="#962882" d="M275 70h1v7h-1zM309 70h1v7h-1zM312 70h1v7h-1zM316 70h1v7h-1zM317 70h1v7h-1zM345 119h1v7h-1zM355 119h1v7h-1zM375 147h1v7h-1zM381 70h1v7h-1zM387 70h1v7h-1zM390 70h1v7h-1zM426 84h1v7h-1zM438 84h1v14h-1zM439 91h1v7h-1zM443 91h1v7h-1zM446 140h1v7h-1z"/>
<path fill="#aa6e5a" d="M275 77h1v7h-1zM282 63h1v7h-1zM322 147h1v7h-1zM342 154h1v7h-1zM346 154h1v7h-1zM446 126h1v7h-1z"/>
<path fill="#64463c" d="M275 84h1v7h-1zM288 84h1v7h-1zM329 168h1v7h-1zM341 168h1v7h-1zM423 168h1v7h-1z"/>
<path fill="#a01eaa" d="M275 175h1v7h-1z"/>
<path fill="#5a4628" d="M276 84h1v7h-1zM314 56h1v7h-1zM324 168h1v7h-1zM336 168h1v7h-1zM347 168h1v7h-1z"/>
<path fill="#aa6464" d="M276 91h1v7h-1zM284 91h1v7h-1zM293 91h1v7h-1zM298 91h1v7h-1zM320 154h1v7h-1zM354 154h1v7h-1zM373 112h1v7h-1zM423 112h1v7h-1zM427 175h1v7h-1zM428 112h1v7h-1zM429 112h1v7h-1zM435 112h1v7h-1z"/>
<path fill="#64285a" d="M276 98h1v7h-1zM277 70h1v7h-1zM293 70h1v7h-1zM312 98h1v7h-1z"/>
<path fill="#961e78" d="M276 126h1v7h-1zM286 112h1v7h-1zM316 147h1v7h-1zM431 91h1v7h-1z"/>
<path fill="#be3c96" d="M276 168h1v7h-1zM279 168h1v7h-1zM291 168h1v7h-1zM300 168h1v7h-1zM304 168h1v7h-1zM306 168h1v7h-1zM311 161h1v7h-1z"/>
<path fill="#a06e50" d="M277 63h1v7h-1zM306 63h1v7h-1zM311 63h1v7h-1z"/>
<path fill="#aa825a" d="M277 77h1v7h-1zM330 140h1v7h-1zM354 140h1v7h-1zM358 140h1v7h-1zM361 140h1v7h-1z"/>
<path fill="#b45a64" d="M277 91h1v7h-1zM355 63h1v7h-1z"/>
<path fill="#961e8c" d="M277 147h1v7h-1zM294 147h1v7h-1zM295 119h1v7h-1zM297 119h1v7h-1zM298 119h1v7h-1zM301 140h1v7h-1zM317 133h1v7h-1zM326 77h1v7h-1zM356 77h1v7h-1zM359 105h1v7h-1zM369 147h1v7h-1zM373 140h1v7h-1zM387 133h1v7h-1zM388 147h1v7h-1zM397 140h1v7h-1zM413 91h1v7h-1zM415 133h1v7h-1zM418 91h1v7h-1zM424 140h1v7h-1zM425 91h1v7h-1zM426 140h1v7h-1zM435 133h1v7h-1zM437 98h1v7h-1z"/>
<path fill="#b46446" d="M278 63h1v7h-1z"/>
<path fill="#8c6432" d="M278 84h1v7h-1zM328 168h1v7h-1z"/>
<path fill="#be8c50" d="M278 91h1v7h-1zM319 133h1v7h-1zM330 133h1v7h-1zM343 126h1v7h-1zM350 133h1v7h-1zM359 133h1v7h-1zM413 175h1v7h-1zM429 175h1v7h-1z"/>
<path fill="#641e50" d="M278 98h1v7h-1zM280 196h1v7h-1zM281 189h1v7h-1zM288 98h1v7h-1zM297 189h1v7h-1zM300 98h1v7h-1zM313 98h1v7h-1zM316 98h1v7h-1zM317 196h1v7h-1zM363 189h1v7h-1zM385 182h1v7h-1zM400 182h1v7h-1zM416 56h1v7h-1zM417 84h1v7h-1zM424 196h1v7h-1z"/>
<path fill="#aa1482" d="M278 140h1v7h-1zM305 119h1v7h-1zM309 140h1v7h-1zM325 77h1v7h-1zM418 126h1v7h-1z"/>
<path fill="#a02896" d="M278 154h1v7h-1zM372 112h1v7h-1zM380 112h1v7h-1zM381 105h1v14h-1zM385 175h1v7h-1zM394 112h1v7h-1zM399 112h1v7h-1z"/>
<path fill="#6e1e5a" d="M278 196h1v7h-1zM321 105h1v7h-1zM375 182h1v7h-1zM414 189h1v7h-1zM416 189h1v7h-1zM430 189h1v7h-1zM431 189h1v7h-1zM432 196h1v7h-1zM437 63h1v7h-1zM438 196h1v7h-1zM445 182h1v7h-1z"/>
<path fill="#786e32" d="M279 56h1v7h-1zM370 98h1v7h-1zM397 98h1v7h-1z"/>
<path fill="#b47864" d="M279 77h1v7h-1zM283 77h1v7h-1zM307 77h1v7h-1zM348 154h1v7h-1z"/>
<path fill="#461446" d="M279 189h1v7h-1zM343 189h1v7h-1zM416 182h1v7h-1z"/>
<path fill="#6e643c" d="M280 56h1v7h-1z"/>
<path fill="#aa6446" d="M280 63h1v7h-1z"/>
<path fill="#825050" d="M280 77h1v7h-1z"/>
<path fill="#8c6e3c" d="M280 84h1v7h-1zM330 168h1v7h-1zM348 168h1v7h-1zM353 168h1v7h-1zM361 168h1v7h-1z"/>
<path fill="#6e1e46" d="M280 98h1v7h-1z"/>
<path fill="#b43ca0" d="M280 161h1v7h-1zM283 168h1v7h-1zM297 168h1v7h-1zM299 168h1v7h-1z"/>
<path fill="#be7864" d="M281 77h1v7h-1z"/>
<path fill="#a06e6e" d="M281 91h1v7h-1zM304 91h1v7h-1z"/>
<path fill="#501446" d="M281 98h1v7h-1zM293 182h1v14h-1zM304 98h1v7h-1zM366 189h1v14h-1zM371 196h1v7h-1zM376 196h1v7h-1z"/>
<path fill="#8c146e" d="M281 112h1v7h-1zM355 70h1v7h-1zM448 70h1v7h-1z"/>
<path fill="#a00a82" d="M281 133h1v7h-1zM284 147h1v7h-1zM290 140h1v7h-1zM299 126h1v7h-1zM375 133h1v7h-1z"/>
<path fill="#b41e8c" d="M281 154h1v7h-1zM284 175h1v7h-1zM302 175h1v7h-1zM315 175h1v7h-1zM321 91h1v7h-1zM323 56h1v7h-1zM335 56h1v7h-1zM351 56h1v7h-1zM357 56h1v7h-1zM422 63h1v7h-1zM428 63h1v7h-1z"/>
<path fill="#826e46" d="M282 84h1v7h-1zM359 168h1v7h-1z"/>
<path fill="#aa4678" d="M282 91h1v7h-1zM285 91h1v7h-1zM286 91h1v7h-1zM292 91h1v7h-1zM308 91h1v7h-1zM316 91h1v7h-1zM334 126h1v7h-1zM337 147h1v7h-1zM338 154h1v7h-1zM344 154h1v7h-1zM364 126h1v7h-1zM364 154h1v7h-1zM393 119h1v7h-1zM409 175h1v7h-1zM410 112h1v7h-1zM415 112h1v7h-1zM419 112h1v7h-1zM419 175h1v7h-1zM420 175h1v7h-1zM422 112h1v7h-1zM423 175h1v7h-1zM427 112h1v7h-1zM430 112h1v7h-1zM431 112h1v7h-1zM432 112h1v7h-1z"/>
<path fill="#be963c" d="M283 63h1v7h-1zM302 63h1v7h-1zM324 140h1v7h-1zM336 140h1v7h-1zM337 140h1v7h-1z"/>
<path fill="#a03282" d="M283 70h1v7h-1zM306 70h1v7h-1zM369 84h1v7h-1zM371 119h1v7h-1zM372 154h1v7h-1zM374 119h1v7h-1zM378 84h1v7h-1zM380 119h1v7h-1zM382 119h1v7h-1zM384 84h1v7h-1zM384 119h1v7h-1zM385 119h1v7h-1zM387 77h1v7h-1zM390 84h1v7h-1zM396 77h1v14h-1zM396 119h1v7h-1zM397 84h1v7h-1zM404 84h1v7h-1zM404 119h1v7h-1zM405 84h1v7h-1zM405 119h1v7h-1zM407 84h1v7h-1zM420 154h1v7h-1zM424 154h1v7h-1zM431 70h1v7h-1zM437 133h1v14h-1zM439 133h1v7h-1zM440 154h1v7h-1zM441 91h1v7h-1zM445 84h1v14h-1zM445 133h1v7h-1zM446 133h1v7h-1zM446 147h1v7h-1zM447 147h1v7h-1zM448 140h1v7h-1z"/>
<path fill="#644632" d="M283 84h1v7h-1zM285 84h1v7h-1zM297 84h1v7h-1zM307 56h1v7h-1zM309 56h1v7h-1zM315 84h1v7h-1zM320 168h1v7h-1zM331 168h1v7h-1zM332 168h1v7h-1zM414 168h1v7h-1z"/>
<path fill="#aa5a6e" d="M283 91h1v7h-1zM290 91h1v7h-1zM331 140h1v7h-1zM354 133h1v7h-1zM435 175h1v7h-1z"/>
<path fill="#821e6e" d="M283 98h1v7h-1zM285 98h1v7h-1zM290 98h1v7h-1zM306 98h1v7h-1zM308 98h1v7h-1zM410 56h1v7h-1zM410 161h1v7h-1zM412 56h1v7h-1zM414 56h1v7h-1zM426 161h1v7h-1zM427 161h1v7h-1z"/>
<path fill="#be50aa" d="M283 161h1v7h-1z"/>
<path fill="#5a0a50" d="M283 196h1v7h-1zM292 189h1v7h-1zM297 182h1v7h-1zM394 182h1v7h-1z"/>
<path fill="#826428" d="M284 56h1v7h-1z"/>
<path fill="#aa785a" d="M284 63h1v7h-1zM295 77h1v7h-1zM305 77h1v7h-1zM358 154h1v7h-1z"/>
<path fill="#641e64" d="M284 98h1v7h-1zM292 98h1v7h-1zM320 196h1v7h-1zM321 182h1v7h-1zM332 196h1v7h-1zM344 182h1v14h-1zM350 196h1v7h-1zM352 196h1v7h-1zM353 189h1v7h-1zM355 182h1v7h-1zM358 182h1v7h-1zM361 196h1v7h-1zM376 182h1v7h-1zM414 182h1v7h-1zM424 182h1v7h-1zM444 189h1v7h-1zM446 196h1v7h-1z"/>
<path fill="#a01e82" d="M284 126h1v7h-1zM288 140h1v7h-1zM296 119h1v7h-1zM312 119h1v7h-1zM327 119h1v7h-1zM334 119h1v7h-1zM348 77h1v7h-1zM351 105h1v7h-1zM360 105h1v7h-1zM367 147h1v7h-1zM374 70h1v7h-1zM401 147h1v7h-1zM413 133h1v7h-1zM418 84h1v7h-1zM440 98h1v7h-1zM442 105h1v7h-1z"/>
<path fill="#5a0a5a" d="M284 196h1v7h-1zM301 196h1v7h-1zM356 189h1v7h-1zM357 196h1v7h-1zM378 182h1v7h-1zM396 182h1v7h-1zM427 182h1v7h-1z"/>
<path fill="#a02878" d="M285 70h1v7h-1zM391 70h1v14h-1zM416 84h1v7h-1zM440 91h1v7h-1z"/>
<path fill="#b41496" d="M285 175h1v7h-1zM437 56h1v7h-1z"/>
<path fill="#5a1e5a" d="M285 189h1v7h-1zM310 98h1v7h-1zM375 196h1v7h-1zM405 189h1v7h-1zM409 182h1v7h-1zM411 182h1v7h-1zM412 189h1v7h-1zM419 196h1v7h-1zM420 196h1v7h-1z"/>
<path fill="#6e463c" d="M286 63h1v7h-1zM300 63h1v7h-1zM304 63h1v7h-1z"/>
<path fill="#aa6e64" d="M286 77h1v7h-1zM324 154h1v7h-1zM335 154h1v7h-1zM350 154h1v7h-1zM352 154h1v7h-1zM353 154h1v7h-1zM360 154h1v7h-1zM416 175h1v7h-1zM447 126h1v7h-1z"/>
<path fill="#785a32" d="M287 56h1v7h-1zM296 84h1v7h-1zM303 56h1v7h-1zM448 161h1v7h-1z"/>
<path fill="#826432" d="M287 84h1v7h-1zM298 56h1v7h-1zM299 56h1v7h-1zM301 56h1v7h-1zM304 56h1v7h-1zM317 84h1v7h-1z"/>
<path fill="#aa8250" d="M287 91h1v7h-1zM364 140h1v7h-1z"/>
<path fill="#aa8264" d="M288 77h1v7h-1z"/>
<path fill="#8c0a8c" d="M288 147h1v7h-1zM296 147h1v7h-1zM383 126h1v7h-1zM384 126h1v7h-1zM394 133h1v7h-1zM396 133h1v7h-1zM420 126h1v7h-1zM423 126h1v7h-1z"/>
<path fill="#d246a0" d="M288 161h1v7h-1z"/>
<path fill="#be3296" d="M288 168h1v7h-1zM293 168h1v7h-1zM294 168h1v7h-1zM296 168h1v7h-1z"/>
<path fill="#78146e" d="M288 182h1v7h-1zM337 70h1v7h-1z"/>
<path fill="#a08c28" d="M289 56h1v7h-1z"/>
<path fill="#aa8c3c" d="M289 63h1v7h-1z"/>
<path fill="#aa645a" d="M289 91h1v7h-1zM384 70h1v7h-1zM416 112h1v7h-1zM417 112h1v7h-1zM420 112h1v7h-1zM425 112h1v7h-1zM426 70h1v7h-1zM433 112h1v7h-1zM438 126h1v7h-1z"/>
<path fill="#8c1e78" d="M289 112h1v7h-1zM377 70h1v7h-1zM418 56h1v7h-1zM420 56h1v7h-1zM420 133h1v7h-1zM423 56h1v7h-1zM426 56h1v7h-1zM426 189h1v7h-1zM429 56h1v7h-1z"/>
<path fill="#be3c8c" d="M289 161h1v7h-1z"/>
<path fill="#c83296" d="M289 168h1v7h-1z"/>
<path fill="#64146e" d="M289 189h1v7h-1zM322 196h1v7h-1zM323 182h1v7h-1zM333 182h1v7h-1zM336 189h1v7h-1zM352 182h1v7h-1zM363 182h1v7h-1z"/>
<path fill="#96328c" d="M290 70h1v7h-1z"/>
<path fill="#78643c" d="M290 84h1v7h-1zM316 84h1v7h-1z"/>
<path fill="#a00a96" d="M290 105h1v7h-1zM315 133h1v7h-1zM404 126h1v7h-1z"/>
<path fill="#be46a0" d="M290 161h1v7h-1zM301 161h1v7h-1z"/>
<path fill="#b44696" d="M290 168h1v7h-1zM303 168h1v7h-1zM341 175h1v7h-1z"/>
<path fill="#a01e96" d="M290 175h1v7h-1zM291 154h1v7h-1zM340 56h1v7h-1zM341 77h1v7h-1zM343 91h1v7h-1zM346 56h1v7h-1zM347 91h1v7h-1zM349 91h1v7h-1zM352 56h1v7h-1zM379 147h1v7h-1zM380 147h1v7h-1zM383 105h1v7h-1zM396 147h1v7h-1zM403 105h1v7h-1zM415 63h1v7h-1zM439 105h1v7h-1zM444 112h1v7h-1zM445 105h1v7h-1z"/>
<path fill="#824646" d="M291 63h1v7h-1zM312 63h1v7h-1z"/>
<path fill="#823282" d="M291 70h1v7h-1z"/>
<path fill="#785046" d="M291 77h1v7h-1zM293 77h1v7h-1zM301 77h1v7h-1zM346 140h1v7h-1z"/>
<path fill="#5a2850" d="M291 98h1v7h-1zM305 98h1v7h-1zM387 161h1v7h-1zM390 161h1v7h-1z"/>
<path fill="#785a28" d="M292 56h1v7h-1zM294 56h1v7h-1z"/>
<path fill="#b46e50" d="M292 63h1v7h-1zM317 63h1v7h-1z"/>
<path fill="#781464" d="M292 112h1v7h-1zM299 112h1v7h-1zM360 196h1v7h-1zM426 63h1v7h-1z"/>
<path fill="#8c3282" d="M294 70h1v7h-1z"/>
<path fill="#be46aa" d="M294 161h1v7h-1z"/>
<path fill="#6e1e64" d="M294 196h1v7h-1zM326 105h1v7h-1zM331 189h1v7h-1zM337 105h1v7h-1zM350 189h1v7h-1zM352 105h1v7h-1zM355 196h1v7h-1zM382 189h1v7h-1zM410 189h1v7h-1zM412 84h1v7h-1zM415 189h1v7h-1zM425 189h1v7h-1zM426 182h1v7h-1zM426 196h1v7h-1zM428 189h1v7h-1zM429 189h1v7h-1zM432 189h1v7h-1zM434 189h1v7h-1zM435 189h1v7h-1z"/>
<path fill="#8c8228" d="M295 56h1v7h-1zM315 56h1v7h-1z"/>
<path fill="#aa6e3c" d="M295 63h1v7h-1zM305 63h1v7h-1z"/>
<path fill="#b46464" d="M295 91h1v7h-1zM297 91h1v7h-1zM307 91h1v7h-1zM313 91h1v7h-1zM355 84h1v7h-1zM362 126h1v7h-1zM425 175h1v7h-1z"/>
<path fill="#960a8c" d="M295 140h1v7h-1zM369 126h1v7h-1zM382 133h1v7h-1zM397 105h1v7h-1zM425 126h1v7h-1z"/>
<path fill="#b45078" d="M296 77h1v7h-1zM297 77h1v7h-1zM298 77h1v7h-1zM299 77h1v7h-1zM300 77h1v7h-1zM303 77h1v7h-1zM309 77h1v7h-1zM315 77h1v7h-1zM327 112h1v7h-1zM330 147h1v7h-1zM331 147h1v7h-1zM336 147h1v7h-1zM341 112h1v7h-1zM361 112h1v7h-1z"/>
<path fill="#96646e" d="M296 91h1v7h-1z"/>
<path fill="#b46e46" d="M297 63h1v7h-1z"/>
<path fill="#be1e96" d="M297 175h1v7h-1zM337 63h1v7h-1zM345 84h1v7h-1zM419 63h1v7h-1z"/>
<path fill="#a07850" d="M298 63h1v7h-1z"/>
<path fill="#825a3c" d="M298 84h1v7h-1zM309 84h1v7h-1z"/>
<path fill="#c83ca0" d="M298 161h1v7h-1z"/>
<path fill="#8c6446" d="M299 84h1v7h-1zM395 161h1v7h-1z"/>
<path fill="#826e32" d="M300 56h1v7h-1zM431 168h1v7h-1z"/>
<path fill="#a06464" d="M300 91h1v7h-1zM367 91h1v7h-1zM382 91h1v7h-1zM401 91h1v7h-1zM413 112h1v7h-1z"/>
<path fill="#aa2882" d="M300 119h1v7h-1zM344 119h1v7h-1zM358 105h1v7h-1zM382 77h1v7h-1z"/>
<path fill="#640a64" d="M300 189h1v7h-1zM320 182h1v14h-1zM322 182h1v7h-1zM328 189h1v7h-1zM331 182h1v7h-1zM333 196h1v7h-1zM335 182h1v7h-1zM400 196h1v7h-1zM440 189h1v7h-1z"/>
<path fill="#5a0a64" d="M300 196h1v7h-1zM345 196h1v7h-1zM381 196h1v7h-1zM395 196h1v7h-1z"/>
<path fill="#826e3c" d="M301 84h1v7h-1zM313 84h1v7h-1zM319 168h1v7h-1zM337 168h1v7h-1zM342 168h1v7h-1zM343 168h1v7h-1zM346 168h1v7h-1zM354 168h1v7h-1z"/>
<path fill="#6e1446" d="M301 189h1v7h-1z"/>
<path fill="#968228" d="M302 56h1v7h-1zM313 56h1v7h-1zM439 161h1v7h-1z"/>
<path fill="#963c78" d="M302 70h1v7h-1zM438 140h1v14h-1zM440 147h1v7h-1zM445 140h1v7h-1z"/>
<path fill="#b48c50" d="M302 91h1v7h-1zM322 133h1v7h-1zM327 133h1v7h-1zM329 126h1v7h-1zM333 133h1v7h-1zM336 126h1v7h-1zM343 133h1v7h-1zM353 133h1v7h-1zM355 133h1v7h-1zM362 133h1v7h-1zM424 175h1v7h-1z"/>
<path fill="#d246aa" d="M303 161h1v7h-1z"/>
<path fill="#641446" d="M303 189h1v7h-1zM306 182h1v7h-1zM341 182h1v7h-1z"/>
<path fill="#b4785a" d="M304 77h1v7h-1zM306 77h1v7h-1zM324 112h1v7h-1zM343 147h1v7h-1zM352 98h1v7h-1zM355 98h1v7h-1zM355 154h1v7h-1zM360 140h1v7h-1zM401 168h1v7h-1z"/>
<path fill="#aa1ea0" d="M304 105h1v7h-1zM330 63h1v7h-1z"/>
<path fill="#aa6e6e" d="M305 91h1v7h-1zM325 154h1v7h-1zM327 154h1v7h-1zM361 126h1v7h-1zM431 175h1v7h-1z"/>
<path fill="#9614a0" d="M305 105h1v7h-1z"/>
<path fill="#6e0a50" d="M305 196h1v7h-1zM315 189h1v7h-1zM370 196h1v7h-1z"/>
<path fill="#825a28" d="M306 56h1v7h-1z"/>
<path fill="#c83caa" d="M306 161h1v7h-1z"/>
<path fill="#b41e96" d="M308 154h1v7h-1zM323 63h1v7h-1zM346 63h1v7h-1zM352 63h1v7h-1zM360 63h1v7h-1zM361 63h1v7h-1zM364 63h1v7h-1zM371 175h1v7h-1zM380 175h1v7h-1zM381 175h1v7h-1zM399 175h1v7h-1zM401 175h1v7h-1zM438 56h1v7h-1zM439 56h1v7h-1zM441 56h1v7h-1zM443 56h1v7h-1zM448 56h1v7h-1z"/>
<path fill="#6e4646" d="M309 91h1v7h-1zM424 112h1v7h-1z"/>
<path fill="#b46e64" d="M311 77h1v7h-1zM322 154h1v7h-1zM323 126h1v7h-1zM323 154h1v7h-1zM331 126h1v7h-1zM337 154h1v7h-1zM339 126h1v7h-1zM350 126h1v7h-1zM355 126h1v7h-1zM359 126h1v7h-1zM363 126h1v7h-1zM378 112h1v7h-1z"/>
<path fill="#b46e6e" d="M311 91h1v7h-1zM319 126h1v7h-1zM320 126h1v7h-1zM325 126h1v7h-1zM335 126h1v7h-1zM340 126h1v7h-1zM348 126h1v7h-1zM356 126h1v7h-1zM360 126h1v7h-1zM445 126h1v7h-1z"/>
<path fill="#8c6428" d="M312 56h1v7h-1z"/>
<path fill="#786e3c" d="M312 84h1v7h-1zM326 168h1v7h-1zM335 168h1v7h-1zM338 168h1v7h-1zM350 168h1v7h-1zM351 168h1v7h-1z"/>
<path fill="#501450" d="M312 196h1v7h-1zM357 189h1v7h-1z"/>
<path fill="#aa7850" d="M313 63h1v7h-1zM355 140h1v7h-1zM400 84h1v7h-1zM411 147h1v7h-1z"/>
<path fill="#8c0a78" d="M313 126h1v7h-1z"/>
<path fill="#aa466e" d="M314 63h1v7h-1zM400 119h1v7h-1z"/>
<path fill="#963c6e" d="M314 70h1v7h-1zM370 119h1v7h-1zM380 84h1v7h-1zM392 84h1v7h-1zM437 147h1v7h-1zM441 140h1v7h-1zM442 140h1v14h-1z"/>
<path fill="#b46e5a" d="M314 77h1v7h-1zM330 154h1v7h-1zM421 84h1v7h-1z"/>
<path fill="#825a32" d="M314 84h1v7h-1z"/>
<path fill="#784650" d="M315 91h1v7h-1zM409 112h1v7h-1z"/>
<path fill="#8c148c" d="M315 126h1v7h-1zM367 126h1v7h-1zM388 133h1v7h-1zM400 126h1v7h-1zM411 140h1v7h-1z"/>
<path fill="#aa3c96" d="M315 168h1v7h-1zM405 154h1v7h-1z"/>
<path fill="#b414a0" d="M316 154h1v7h-1z"/>
<path fill="#b4825a" d="M317 77h1v7h-1zM323 140h1v7h-1zM333 140h1v7h-1zM338 140h1v7h-1zM340 140h1v7h-1zM351 140h1v7h-1zM362 147h1v7h-1z"/>
<path fill="#aa0a8c" d="M317 105h1v7h-1z"/>
<path fill="#be32aa" d="M317 168h1v7h-1z"/>
<path fill="#aa2896" d="M319 63h1v7h-1zM320 91h1v7h-1zM322 84h1v7h-1zM337 91h1v7h-1zM338 84h1v7h-1zM339 63h1v7h-1zM344 91h1v7h-1zM357 91h1v7h-1zM364 91h1v7h-1zM367 112h1v7h-1zM367 154h1v7h-1zM368 175h1v7h-1zM369 154h1v7h-1zM370 175h1v7h-1zM371 77h1v7h-1zM371 112h1v7h-1zM371 154h1v7h-1zM373 154h1v7h-1zM374 77h1v7h-1zM375 154h1v7h-1zM375 175h1v7h-1zM377 112h1v7h-1zM377 154h1v7h-1zM378 77h1v7h-1zM379 154h1v7h-1zM383 154h1v7h-1zM384 154h1v7h-1zM386 112h1v7h-1zM386 154h1v7h-1zM387 154h1v7h-1zM389 112h1v7h-1zM389 175h1v7h-1zM390 154h1v7h-1zM391 154h1v7h-1zM392 112h1v7h-1zM393 112h1v7h-1zM393 154h1v7h-1zM393 175h1v7h-1zM396 154h1v7h-1zM397 112h1v7h-1zM397 154h1v7h-1zM400 175h1v7h-1zM401 112h1v7h-1zM403 154h1v7h-1zM404 154h1v7h-1zM406 154h1v7h-1zM427 63h1v7h-1z"/>
<path fill="#8c0a6e" d="M319 70h1v7h-1zM342 70h1v7h-1z"/>
<path fill="#b428a0" d="M319 84h1v7h-1zM330 84h1v7h-1z"/>
<path fill="#aa3c8c" d="M319 98h1v7h-1zM322 98h1v7h-1zM323 147h1v7h-1zM324 98h1v7h-1zM330 98h1v7h-1zM332 98h1v7h-1zM333 98h1v7h-1zM334 98h1v7h-1zM335 98h1v7h-1zM335 147h1v7h-1zM339 147h1v7h-1zM342 98h1v7h-1zM344 112h1v7h-1zM344 147h1v7h-1zM345 112h1v7h-1zM346 98h1v7h-1zM347 147h1v7h-1zM350 147h1v7h-1zM352 112h1v7h-1zM352 147h1v7h-1zM353 98h1v7h-1zM354 147h1v7h-1zM355 147h1v7h-1zM357 147h1v7h-1zM358 147h1v7h-1zM359 98h1v7h-1zM360 98h1v7h-1zM360 147h1v7h-1zM363 147h1v7h-1zM368 112h1v7h-1zM388 63h1v7h-1zM390 112h1v7h-1zM404 112h1v7h-1zM438 77h1v7h-1zM442 175h1v7h-1z"/>
<path fill="#be825a" d="M319 112h1v7h-1zM334 133h1v7h-1zM340 98h1v7h-1zM353 112h1v7h-1zM438 175h1v7h-1z"/>
<path fill="#b4963c" d="M319 140h1v7h-1zM326 133h1v7h-1zM341 140h1v7h-1zM342 133h1v7h-1zM349 133h1v14h-1zM350 140h1v7h-1zM352 140h1v7h-1zM363 140h1v7h-1z"/>
<path fill="#b45082" d="M319 147h1v7h-1zM321 98h1v7h-1zM324 126h1v7h-1zM326 126h1v7h-1zM330 126h1v7h-1zM334 112h1v7h-1zM338 126h1v7h-1zM345 126h1v7h-1zM352 126h1v7h-1zM357 98h1v7h-1zM363 112h1v7h-1zM446 175h1v7h-1z"/>
<path fill="#6e6e28" d="M319 161h1v7h-1zM322 161h1v7h-1zM342 161h1v7h-1z"/>
<path fill="#b41ea0" d="M320 63h1v7h-1zM320 84h1v7h-1zM322 63h1v7h-1zM324 63h1v7h-1zM324 84h1v7h-1zM325 63h1v7h-1zM325 84h1v7h-1zM327 84h1v7h-1zM332 84h1v7h-1zM333 63h1v7h-1zM334 63h1v7h-1zM337 84h1v7h-1zM340 63h1v7h-1zM342 63h1v7h-1zM345 63h1v7h-1zM348 63h1v7h-1zM348 84h1v7h-1zM349 63h1v7h-1zM351 63h1v7h-1zM353 63h1v7h-1zM354 63h1v7h-1zM357 63h1v7h-1zM358 63h1v7h-1zM361 84h1v7h-1zM362 63h1v7h-1zM364 84h1v7h-1zM382 175h1v7h-1zM387 175h1v7h-1zM395 175h1v7h-1zM407 175h1v7h-1zM440 56h1v7h-1zM444 56h1v7h-1z"/>
<path fill="#b43c8c" d="M320 98h1v7h-1zM327 98h1v7h-1zM328 112h1v7h-1zM337 98h1v7h-1zM342 112h1v7h-1zM343 112h1v7h-1zM347 112h1v7h-1zM348 112h1v7h-1zM349 98h1v7h-1zM350 98h1v7h-1zM354 112h1v7h-1zM364 112h1v7h-1zM439 175h1v7h-1zM440 175h1v7h-1zM441 175h1v7h-1zM443 175h1v7h-1zM445 175h1v7h-1zM447 175h1v7h-1z"/>
<path fill="#b46478" d="M320 112h1v7h-1zM333 112h1v7h-1z"/>
<path fill="#bea03c" d="M320 133h1v7h-1zM321 133h1v7h-1zM324 133h1v7h-1zM329 133h1v7h-1zM339 133h1v7h-1zM351 133h1v7h-1zM358 133h1v7h-1zM360 133h1v7h-1zM364 133h1v7h-1z"/>
<path fill="#bea046" d="M320 140h1v7h-1zM321 140h1v7h-1zM325 140h1v7h-1zM328 140h1v7h-1zM332 140h1v7h-1zM339 140h1v7h-1zM343 140h1v7h-1zM353 140h1v7h-1z"/>
<path fill="#a04678" d="M320 147h1v7h-1zM372 84h1v7h-1zM398 119h1v7h-1zM417 147h1v7h-1zM418 154h1v7h-1z"/>
<path fill="#647828" d="M320 161h1v7h-1zM325 161h1v7h-1z"/>
<path fill="#c88c64" d="M320 175h1v7h-1z"/>
<path fill="#781e78" d="M321 70h1v7h-1z"/>
<path fill="#b46482" d="M321 112h1v7h-1zM330 112h1v7h-1z"/>
<path fill="#6e7828" d="M321 161h1v7h-1zM324 161h1v7h-1zM345 161h1v7h-1zM354 161h1v7h-1zM359 161h1v7h-1z"/>
<path fill="#c86e96" d="M321 175h1v7h-1zM361 175h1v7h-1z"/>
<path fill="#821e82" d="M322 70h1v7h-1z"/>
<path fill="#8c288c" d="M322 105h1v7h-1zM445 63h1v7h-1z"/>
<path fill="#b45a82" d="M322 112h1v7h-1zM329 112h1v7h-1zM335 112h1v7h-1zM336 98h1v7h-1zM339 98h1v7h-1zM339 112h1v7h-1zM340 112h1v7h-1zM350 112h1v7h-1zM351 98h1v7h-1zM355 112h1v7h-1zM359 112h1v7h-1z"/>
<path fill="#781e64" d="M322 119h1v7h-1zM368 147h1v7h-1zM419 189h1v7h-1zM421 189h1v7h-1zM422 189h1v7h-1zM423 189h1v7h-1zM431 77h1v7h-1zM434 56h1v7h-1z"/>
<path fill="#be9650" d="M322 126h1v7h-1zM349 126h1v7h-1zM351 126h1v7h-1zM358 126h1v7h-1z"/>
<path fill="#78503c" d="M322 140h1v7h-1z"/>
<path fill="#c86496" d="M322 175h1v7h-1zM324 175h1v7h-1zM338 175h1v7h-1zM344 175h1v7h-1zM346 175h1v7h-1zM354 175h1v7h-1z"/>
<path fill="#b45a8c" d="M323 98h1v7h-1zM348 98h1v7h-1zM354 98h1v7h-1zM361 98h1v7h-1z"/>
<path fill="#aa5a78" d="M323 112h1v7h-1zM338 112h1v7h-1zM346 147h1v7h-1zM356 147h1v7h-1zM383 63h1v7h-1zM391 63h1v7h-1zM397 63h1v7h-1z"/>
<path fill="#be8c5a" d="M323 133h1v7h-1zM326 98h1v7h-1zM326 140h1v7h-1zM345 98h1v7h-1zM347 133h1v7h-1zM360 112h1v7h-1zM363 133h1v7h-1z"/>
<path fill="#50501e" d="M323 161h1v7h-1zM347 161h1v7h-1z"/>
<path fill="#d25a82" d="M323 175h1v7h-1z"/>
<path fill="#82146e" d="M324 70h1v7h-1zM344 70h1v7h-1zM347 70h1v7h-1zM348 70h1v7h-1zM357 70h1v7h-1zM358 70h1v7h-1zM424 56h1v7h-1zM437 70h1v7h-1zM440 70h1v7h-1zM443 70h1v7h-1z"/>
<path fill="#aa3c82" d="M324 147h1v7h-1zM329 147h1v7h-1zM331 112h1v7h-1zM340 147h1v7h-1zM345 147h1v7h-1zM349 112h1v7h-1zM356 112h1v7h-1zM359 147h1v7h-1zM362 112h1v7h-1zM366 63h1v7h-1zM374 63h1v7h-1zM378 168h1v7h-1zM379 63h1v7h-1zM382 63h1v7h-1zM390 63h1v7h-1zM390 168h1v7h-1zM399 154h1v7h-1zM404 168h1v7h-1zM409 147h1v7h-1zM412 154h1v7h-1zM414 147h1v7h-1zM417 154h1v7h-1zM430 147h1v7h-1z"/>
<path fill="#5a1464" d="M324 196h1v7h-1zM325 189h1v14h-1zM327 189h1v7h-1zM340 182h1v7h-1zM345 182h1v7h-1zM346 182h1v7h-1zM356 196h1v7h-1zM368 182h1v7h-1zM369 196h1v7h-1zM410 196h1v7h-1zM444 182h1v7h-1z"/>
<path fill="#aa5a8c" d="M325 98h1v7h-1zM325 147h1v7h-1zM343 98h1v7h-1zM344 98h1v7h-1z"/>
<path fill="#aa3282" d="M325 105h1v7h-1zM349 119h1v7h-1zM366 119h1v7h-1zM367 77h1v7h-1zM375 119h1v7h-1zM376 119h1v7h-1zM380 154h1v7h-1zM384 77h1v7h-1zM388 119h1v7h-1zM394 119h1v7h-1zM406 119h1v7h-1zM412 70h1v7h-1z"/>
<path fill="#aa5a82" d="M325 112h1v7h-1zM326 147h1v7h-1zM351 112h1v7h-1z"/>
<path fill="#b48c5a" d="M325 133h1v7h-1zM329 140h1v7h-1z"/>
<path fill="#8c6e32" d="M325 168h1v7h-1zM339 168h1v7h-1zM428 168h1v7h-1z"/>
<path fill="#c8648c" d="M325 175h1v7h-1zM326 175h1v7h-1zM349 175h1v7h-1z"/>
<path fill="#b41e82" d="M326 56h1v7h-1zM425 77h1v7h-1z"/>
<path fill="#be2896" d="M326 84h1v7h-1zM328 63h1v7h-1zM331 63h1v7h-1zM343 63h1v7h-1zM350 63h1v7h-1zM359 84h1v7h-1zM376 175h1v7h-1z"/>
<path fill="#6e7832" d="M326 161h1v7h-1z"/>
<path fill="#825046" d="M327 140h1v7h-1z"/>
<path fill="#6e3250" d="M327 147h1v7h-1zM369 119h1v7h-1zM372 63h1v7h-1zM389 63h1v7h-1zM389 84h1v7h-1zM390 119h1v7h-1zM399 63h1v7h-1zM403 63h1v7h-1zM431 147h1v7h-1z"/>
<path fill="#8c8c1e" d="M327 161h1v7h-1zM337 161h1v7h-1zM346 161h1v7h-1z"/>
<path fill="#d25a8c" d="M327 175h1v7h-1zM331 175h1v7h-1z"/>
<path fill="#aa5a96" d="M328 98h1v7h-1z"/>
<path fill="#b4786e" d="M328 126h1v7h-1zM444 126h1v7h-1z"/>
<path fill="#b4a03c" d="M328 133h1v7h-1zM331 133h1v7h-1z"/>
<path fill="#5a5032" d="M328 161h1v7h-1zM353 161h1v7h-1zM362 161h1v7h-1z"/>
<path fill="#d26482" d="M328 175h1v7h-1zM355 175h1v7h-1z"/>
<path fill="#6e0a64" d="M328 196h1v7h-1zM347 182h1v7h-1zM368 189h1v7h-1zM373 196h1v7h-1z"/>
<path fill="#be28aa" d="M329 84h1v7h-1z"/>
<path fill="#969628" d="M329 161h1v7h-1zM341 161h1v7h-1zM348 161h1v7h-1zM350 161h1v7h-1zM358 161h1v7h-1z"/>
<path fill="#5a6e1e" d="M330 161h1v7h-1z"/>
<path fill="#be8264" d="M330 175h1v7h-1zM350 175h1v7h-1z"/>
<path fill="#821464" d="M331 70h1v7h-1zM343 70h1v7h-1zM433 56h1v7h-1zM435 56h1v7h-1z"/>
<path fill="#b46450" d="M331 154h1v7h-1z"/>
<path fill="#6e781e" d="M331 161h1v7h-1zM355 161h1v7h-1z"/>
<path fill="#b45a6e" d="M332 112h1v7h-1zM344 133h1v7h-1zM418 175h1v7h-1z"/>
<path fill="#be6e64" d="M332 126h1v7h-1z"/>
<path fill="#b49650" d="M332 133h1v7h-1z"/>
<path fill="#823c64" d="M332 147h1v7h-1zM353 147h1v7h-1zM402 56h1v7h-1z"/>
<path fill="#824650" d="M332 154h1v7h-1zM342 126h1v7h-1zM351 154h1v7h-1zM404 56h1v7h-1zM405 56h1v7h-1zM406 56h1v7h-1zM434 112h1v7h-1z"/>
<path fill="#646e1e" d="M332 161h1v7h-1zM363 161h1v7h-1z"/>
<path fill="#820a6e" d="M333 70h1v7h-1zM346 70h1v7h-1z"/>
<path fill="#aa32a0" d="M333 84h1v7h-1z"/>
<path fill="#be6464" d="M333 126h1v7h-1zM344 126h1v7h-1z"/>
<path fill="#787832" d="M333 161h1v7h-1zM349 161h1v7h-1z"/>
<path fill="#c86e8c" d="M333 175h1v7h-1z"/>
<path fill="#8c1e6e" d="M334 70h1v7h-1z"/>
<path fill="#aa1e78" d="M334 91h1v7h-1z"/>
<path fill="#be8250" d="M334 140h1v7h-1z"/>
<path fill="#a0506e" d="M334 147h1v7h-1zM371 63h1v7h-1zM373 119h1v7h-1zM385 63h1v7h-1zM404 63h1v7h-1zM434 147h1v7h-1zM435 147h1v7h-1z"/>
<path fill="#a0785a" d="M334 154h1v7h-1z"/>
<path fill="#787828" d="M334 161h1v7h-1z"/>
<path fill="#82783c" d="M334 168h1v7h-1z"/>
<path fill="#d26496" d="M334 175h1v7h-1z"/>
<path fill="#be28a0" d="M335 63h1v7h-1zM357 84h1v7h-1z"/>
<path fill="#beaa3c" d="M335 133h1v7h-1zM352 133h1v7h-1z"/>
<path fill="#8c8c28" d="M335 161h1v7h-1z"/>
<path fill="#be648c" d="M335 175h1v7h-1zM358 175h1v7h-1z"/>
<path fill="#aa328c" d="M336 91h1v7h-1zM369 112h1v7h-1zM372 168h1v7h-1zM373 168h1v7h-1zM374 112h1v7h-1zM391 112h1v7h-1zM392 154h1v7h-1zM394 154h1v7h-1zM395 112h1v7h-1zM396 112h1v7h-1zM399 77h1v7h-1zM400 112h1v7h-1zM401 154h1v7h-1zM403 168h1v7h-1zM411 154h1v7h-1zM421 154h1v7h-1zM430 154h1v7h-1zM433 154h1v7h-1z"/>
<path fill="#be5a6e" d="M336 112h1v7h-1z"/>
<path fill="#aa8c50" d="M336 133h1v7h-1zM338 133h1v7h-1zM348 133h1v7h-1zM357 140h1v7h-1z"/>
<path fill="#a06e64" d="M336 154h1v7h-1zM363 154h1v7h-1zM418 112h1v7h-1z"/>
<path fill="#96a028" d="M336 161h1v7h-1z"/>
<path fill="#be6496" d="M336 175h1v7h-1zM343 175h1v7h-1zM356 175h1v7h-1z"/>
<path fill="#b4288c" d="M337 56h1v7h-1zM338 63h1v7h-1zM341 91h1v7h-1zM355 56h1v7h-1zM362 84h1v7h-1zM384 175h1v7h-1zM388 175h1v7h-1zM390 175h1v7h-1zM391 175h1v7h-1zM392 175h1v7h-1z"/>
<path fill="#b45a78" d="M337 112h1v7h-1zM356 140h1v7h-1zM358 112h1v7h-1zM359 140h1v7h-1z"/>
<path fill="#82465a" d="M337 126h1v7h-1zM367 56h1v7h-1zM388 56h1v7h-1z"/>
<path fill="#c88264" d="M337 175h1v7h-1zM362 175h1v7h-1z"/>
<path fill="#be5a82" d="M338 98h1v7h-1zM347 98h1v7h-1z"/>
<path fill="#aa2878" d="M338 105h1v7h-1zM380 70h1v7h-1z"/>
<path fill="#a05082" d="M338 147h1v7h-1zM351 147h1v7h-1zM364 147h1v7h-1zM440 77h1v7h-1z"/>
<path fill="#786e1e" d="M338 161h1v7h-1z"/>
<path fill="#8c9628" d="M339 161h1v7h-1zM352 161h1v7h-1z"/>
<path fill="#b4468c" d="M339 175h1v7h-1zM345 175h1v7h-1z"/>
<path fill="#aa28a0" d="M340 84h1v7h-1zM347 63h1v7h-1zM350 84h1v7h-1zM366 175h1v7h-1zM376 112h1v7h-1zM379 175h1v7h-1z"/>
<path fill="#a08250" d="M340 133h1v7h-1z"/>
<path fill="#aa7864" d="M340 154h1v7h-1z"/>
<path fill="#786e28" d="M340 161h1v7h-1z"/>
<path fill="#968c32" d="M340 168h1v7h-1zM349 168h1v7h-1zM362 168h1v7h-1z"/>
<path fill="#820a78" d="M341 70h1v7h-1z"/>
<path fill="#aa6482" d="M341 98h1v7h-1z"/>
<path fill="#5a146e" d="M342 182h1v7h-1zM362 182h1v7h-1z"/>
<path fill="#6e8228" d="M343 161h1v7h-1z"/>
<path fill="#5a5028" d="M344 161h1v7h-1z"/>
<path fill="#aa8c5a" d="M345 133h1v7h-1zM356 133h1v7h-1z"/>
<path fill="#b4646e" d="M346 112h1v7h-1zM412 112h1v7h-1z"/>
<path fill="#aa8246" d="M346 133h1v7h-1zM370 91h1v7h-1zM372 91h1v7h-1zM380 91h1v7h-1zM411 112h1v7h-1zM448 126h1v7h-1z"/>
<path fill="#b4645a" d="M347 126h1v7h-1zM421 112h1v7h-1z"/>
<path fill="#be6e96" d="M347 175h1v7h-1z"/>
<path fill="#640a6e" d="M347 189h1v7h-1z"/>
<path fill="#5a1e64" d="M350 182h1v7h-1zM351 189h1v7h-1zM425 196h1v7h-1zM437 189h1v7h-1zM446 189h1v7h-1z"/>
<path fill="#6e821e" d="M351 161h1v7h-1z"/>
<path fill="#641e6e" d="M351 196h1v7h-1z"/>
<path fill="#8c6e46" d="M352 168h1v7h-1z"/>
<path fill="#d28c64" d="M353 175h1v7h-1z"/>
<path fill="#821482" d="M354 70h1v7h-1z"/>
<path fill="#aa3296" d="M354 84h1v7h-1zM370 168h1v7h-1zM374 154h1v7h-1zM374 168h1v7h-1zM378 154h1v7h-1zM379 112h1v7h-1zM381 154h1v7h-1zM385 112h1v7h-1zM388 112h1v7h-1zM399 168h1v7h-1zM402 154h1v7h-1zM407 168h1v7h-1z"/>
<path fill="#be1e8c" d="M356 91h1v7h-1z"/>
<path fill="#b4648c" d="M356 98h1v7h-1zM362 98h1v7h-1z"/>
<path fill="#96288c" d="M356 119h1v7h-1zM373 77h1v7h-1zM374 147h1v7h-1zM448 98h1v7h-1z"/>
<path fill="#505028" d="M356 161h1v7h-1zM357 161h1v7h-1zM364 161h1v7h-1z"/>
<path fill="#8c465a" d="M356 168h1v7h-1z"/>
<path fill="#8c1e8c" d="M357 77h1v7h-1zM402 133h1v7h-1z"/>
<path fill="#b4508c" d="M357 112h1v7h-1zM448 175h1v7h-1z"/>
<path fill="#966e64" d="M357 154h1v7h-1z"/>
<path fill="#962896" d="M358 77h1v7h-1z"/>
<path fill="#c864a0" d="M359 175h1v7h-1z"/>
<path fill="#a0328c" d="M360 119h1v7h-1zM366 77h1v7h-1zM368 154h1v7h-1zM371 168h1v7h-1zM375 168h1v7h-1zM377 168h1v7h-1zM379 168h1v7h-1zM380 77h1v7h-1zM381 168h1v7h-1zM382 112h1v7h-1zM383 112h1v7h-1zM383 168h1v7h-1zM384 168h1v7h-1zM385 168h1v7h-1zM386 168h1v7h-1zM388 154h1v7h-1zM389 168h1v7h-1zM391 168h1v7h-1zM394 168h1v7h-1zM395 77h1v7h-1zM395 154h1v7h-1zM396 168h1v7h-1zM397 168h1v7h-1zM398 168h1v7h-1zM400 168h1v7h-1zM402 168h1v7h-1zM406 168h1v7h-1zM407 154h1v7h-1zM410 154h1v7h-1zM419 154h1v7h-1zM425 154h1v7h-1zM434 154h1v7h-1zM435 154h1v7h-1zM440 84h1v7h-1zM441 84h1v7h-1zM446 84h1v7h-1zM447 98h1v7h-1zM448 84h1v7h-1z"/>
<path fill="#648228" d="M360 161h1v7h-1z"/>
<path fill="#965064" d="M360 168h1v7h-1z"/>
<path fill="#64781e" d="M361 161h1v7h-1z"/>
<path fill="#825a50" d="M362 140h1v7h-1z"/>
<path fill="#827846" d="M364 168h1v7h-1z"/>
<path fill="#965a64" d="M366 91h1v7h-1zM378 91h1v7h-1zM379 91h1v7h-1zM402 91h1v7h-1zM419 119h1v7h-1z"/>
<path fill="#503c32" d="M366 98h1v7h-1zM386 98h1v7h-1zM444 161h1v7h-1z"/>
<path fill="#a03296" d="M366 112h1v7h-1zM389 154h1v7h-1zM403 112h1v7h-1zM406 112h1v7h-1z"/>
<path fill="#82326e" d="M366 161h1v7h-1z"/>
<path fill="#a03c82" d="M366 168h1v7h-1zM368 63h1v7h-1zM368 168h1v7h-1zM373 63h1v7h-1zM376 168h1v7h-1zM380 168h1v7h-1zM384 63h1v7h-1zM386 63h1v7h-1zM387 168h1v7h-1zM393 63h1v7h-1zM394 63h1v7h-1zM395 168h1v7h-1zM398 63h1v7h-1zM410 147h1v7h-1zM413 147h1v7h-1zM416 147h1v7h-1zM422 147h1v14h-1zM423 147h1v7h-1zM426 147h1v14h-1zM429 154h1v7h-1zM439 84h1v7h-1zM441 77h1v7h-1zM442 77h1v7h-1zM443 77h1v7h-1zM447 84h1v7h-1z"/>
<path fill="#a05078" d="M367 63h1v7h-1zM368 119h1v7h-1zM375 63h1v7h-1zM376 63h1v7h-1zM387 119h1v7h-1zM402 63h1v7h-1zM406 63h1v7h-1zM407 63h1v7h-1zM418 147h1v7h-1zM421 147h1v7h-1zM447 77h1v7h-1z"/>
<path fill="#964664" d="M367 84h1v7h-1zM388 84h1v7h-1zM412 147h1v7h-1zM438 154h1v7h-1z"/>
<path fill="#503c3c" d="M367 98h1v7h-1zM385 98h1v7h-1zM390 98h1v7h-1z"/>
<path fill="#8c4682" d="M367 119h1v7h-1z"/>
<path fill="#78325a" d="M367 161h1v7h-1zM374 161h1v7h-1zM392 63h1v7h-1zM394 161h1v7h-1zM406 161h1v7h-1z"/>
<path fill="#a0468c" d="M367 168h1v7h-1z"/>
<path fill="#8c326e" d="M368 56h1v7h-1zM439 63h1v7h-1z"/>
<path fill="#8c2878" d="M368 70h1v7h-1zM370 161h1v7h-1zM377 161h1v7h-1zM378 161h1v7h-1zM379 161h1v7h-1zM383 161h1v7h-1zM386 161h1v7h-1zM392 161h1v7h-1zM396 161h1v7h-1zM398 161h1v7h-1z"/>
<path fill="#8c466e" d="M368 84h1v7h-1zM383 84h1v7h-1zM442 154h1v7h-1z"/>
<path fill="#aa5a5a" d="M368 91h1v7h-1zM426 91h1v7h-1z"/>
<path fill="#46323c" d="M368 98h1v7h-1z"/>
<path fill="#783264" d="M368 161h1v7h-1zM369 161h1v7h-1zM373 161h1v7h-1zM376 98h1v7h-1zM376 161h1v7h-1zM381 161h1v7h-1z"/>
<path fill="#5a283c" d="M369 56h1v7h-1zM384 56h1v7h-1zM391 56h1v7h-1z"/>
<path fill="#a05a6e" d="M369 63h1v7h-1zM400 63h1v7h-1zM401 63h1v7h-1zM410 175h1v7h-1zM411 175h1v7h-1z"/>
<path fill="#46283c" d="M369 98h1v7h-1zM371 98h1v7h-1zM372 98h1v7h-1zM377 98h1v7h-1zM381 98h1v7h-1zM398 98h1v7h-1zM401 98h1v7h-1zM404 98h1v7h-1z"/>
<path fill="#a03c8c" d="M369 168h1v7h-1zM377 77h1v7h-1zM388 168h1v7h-1zM403 77h1v7h-1zM407 77h1v7h-1zM407 112h1v7h-1zM445 77h1v7h-1zM448 77h1v7h-1z"/>
<path fill="#823c46" d="M370 56h1v7h-1z"/>
<path fill="#a0466e" d="M370 63h1v7h-1zM383 119h1v7h-1zM387 63h1v7h-1zM396 63h1v7h-1zM397 119h1v7h-1zM402 119h1v7h-1zM403 119h1v7h-1zM405 63h1v7h-1zM407 119h1v7h-1zM441 133h1v7h-1z"/>
<path fill="#8c506e" d="M371 84h1v7h-1zM402 84h1v7h-1zM441 154h1v7h-1z"/>
<path fill="#a05a50" d="M371 91h1v7h-1z"/>
<path fill="#8c1e96" d="M371 133h1v7h-1zM398 147h1v7h-1z"/>
<path fill="#5a2846" d="M372 56h1v7h-1zM389 56h1v7h-1zM389 161h1v7h-1zM400 161h1v7h-1zM407 161h1v7h-1z"/>
<path fill="#a03c6e" d="M372 119h1v7h-1zM377 84h1v7h-1zM410 119h1v7h-1zM443 147h1v7h-1z"/>
<path fill="#78285a" d="M372 161h1v7h-1z"/>
<path fill="#642846" d="M373 56h1v7h-1zM375 56h1v7h-1zM378 56h1v7h-1zM379 56h1v7h-1zM380 56h1v7h-1zM381 56h1v7h-1zM385 56h1v7h-1zM390 56h1v7h-1zM394 56h1v7h-1zM399 56h1v7h-1zM407 56h1v7h-1zM411 161h1v7h-1zM420 161h1v7h-1z"/>
<path fill="#96466e" d="M373 84h1v7h-1zM377 119h1v7h-1zM381 63h1v7h-1zM381 84h1v7h-1zM386 84h1v7h-1zM391 84h1v7h-1zM394 84h1v7h-1zM438 133h1v7h-1zM439 154h1v7h-1zM442 133h1v7h-1zM444 147h1v7h-1zM447 133h1v7h-1zM448 154h1v7h-1z"/>
<path fill="#aa7846" d="M373 91h1v7h-1zM375 91h1v7h-1zM395 91h1v7h-1z"/>
<path fill="#3c2832" d="M373 98h1v7h-1zM374 98h1v7h-1zM378 98h1v7h-1zM384 98h1v7h-1zM391 98h1v7h-1zM395 98h1v7h-1z"/>
<path fill="#96326e" d="M374 56h1v7h-1z"/>
<path fill="#8c4664" d="M374 84h1v7h-1z"/>
<path fill="#aa5064" d="M374 91h1v7h-1zM415 147h1v7h-1z"/>
<path fill="#96465a" d="M375 84h1v7h-1z"/>
<path fill="#50323c" d="M375 98h1v7h-1zM400 98h1v7h-1z"/>
<path fill="#a032a0" d="M375 112h1v7h-1z"/>
<path fill="#782864" d="M375 161h1v7h-1zM382 161h1v7h-1z"/>
<path fill="#783c5a" d="M376 56h1v7h-1zM401 161h1v7h-1zM404 161h1v7h-1zM405 161h1v7h-1zM424 147h1v7h-1zM428 147h1v7h-1zM429 147h1v7h-1z"/>
<path fill="#824664" d="M376 84h1v7h-1z"/>
<path fill="#aa505a" d="M376 91h1v7h-1z"/>
<path fill="#823c5a" d="M377 56h1v7h-1zM398 56h1v7h-1z"/>
<path fill="#b47850" d="M377 63h1v7h-1zM380 63h1v7h-1zM395 63h1v7h-1zM395 119h1v7h-1zM401 119h1v7h-1z"/>
<path fill="#a0645a" d="M377 91h1v7h-1zM437 126h1v7h-1z"/>
<path fill="#965078" d="M378 119h1v7h-1zM420 147h1v7h-1zM427 147h1v7h-1zM432 147h1v7h-1zM433 147h1v7h-1zM437 77h1v7h-1zM448 147h1v7h-1z"/>
<path fill="#96506e" d="M379 84h1v7h-1zM385 84h1v7h-1zM389 119h1v7h-1zM403 84h1v7h-1z"/>
<path fill="#462832" d="M379 98h1v7h-1zM380 98h1v7h-1zM382 98h1v7h-1zM383 98h1v7h-1zM389 98h1v7h-1zM392 98h1v7h-1zM396 98h1v7h-1zM412 168h1v7h-1zM415 168h1v7h-1zM419 168h1v7h-1zM422 168h1v7h-1zM425 168h1v7h-1z"/>
<path fill="#a03c78" d="M379 119h1v7h-1zM386 119h1v7h-1zM393 77h1v7h-1zM394 91h1v7h-1zM407 91h1v7h-1zM414 119h1v7h-1zM423 154h1v7h-1zM424 70h1v7h-1zM426 119h1v7h-1zM427 154h1v7h-1zM441 147h1v7h-1z"/>
<path fill="#6e3264" d="M380 161h1v7h-1zM391 161h1v7h-1zM393 161h1v7h-1z"/>
<path fill="#a05a64" d="M381 91h1v7h-1zM384 91h1v7h-1zM393 91h1v7h-1zM400 91h1v7h-1zM406 91h1v7h-1zM435 119h1v7h-1z"/>
<path fill="#964678" d="M381 119h1v7h-1zM392 119h1v7h-1zM399 119h1v7h-1zM445 147h1v7h-1zM447 154h1v7h-1z"/>
<path fill="#823c50" d="M382 56h1v7h-1zM397 56h1v7h-1z"/>
<path fill="#8c325a" d="M383 56h1v7h-1z"/>
<path fill="#a05064" d="M383 91h1v7h-1zM391 91h1v7h-1z"/>
<path fill="#6e2864" d="M384 112h1v7h-1zM403 161h1v7h-1z"/>
<path fill="#783c50" d="M385 91h1v7h-1zM400 56h1v7h-1zM431 119h1v7h-1z"/>
<path fill="#502846" d="M385 161h1v7h-1z"/>
<path fill="#823250" d="M386 56h1v7h-1zM392 56h1v7h-1zM393 56h1v7h-1zM396 56h1v7h-1z"/>
<path fill="#a05a5a" d="M386 91h1v7h-1zM389 91h1v7h-1zM396 91h1v7h-1zM431 84h1v7h-1z"/>
<path fill="#8c3250" d="M387 56h1v7h-1z"/>
<path fill="#643250" d="M387 84h1v7h-1zM415 161h1v7h-1zM428 161h1v7h-1zM446 154h1v7h-1z"/>
<path fill="#b48246" d="M387 91h1v7h-1zM399 91h1v7h-1zM426 112h1v7h-1z"/>
<path fill="#504632" d="M387 98h1v7h-1z"/>
<path fill="#965a5a" d="M388 91h1v7h-1zM412 119h1v7h-1z"/>
<path fill="#5a3232" d="M388 98h1v7h-1z"/>
<path fill="#963c82" d="M389 77h1v7h-1zM392 168h1v7h-1zM402 77h1v7h-1zM437 84h1v7h-1zM442 84h1v7h-1zM444 84h1v7h-1z"/>
<path fill="#aa3c78" d="M390 91h1v7h-1zM397 91h1v7h-1zM403 91h1v7h-1zM404 91h1v7h-1zM409 154h1v7h-1zM415 154h1v7h-1zM428 154h1v7h-1z"/>
<path fill="#96645a" d="M392 91h1v7h-1z"/>
<path fill="#960a78" d="M392 126h1v7h-1z"/>
<path fill="#501464" d="M392 189h1v7h-1zM406 196h1v7h-1z"/>
<path fill="#463c3c" d="M393 98h1v7h-1zM394 98h1v7h-1z"/>
<path fill="#963c8c" d="M393 168h1v7h-1zM416 70h1v7h-1z"/>
<path fill="#643246" d="M395 84h1v7h-1zM406 84h1v7h-1zM416 168h1v7h-1z"/>
<path fill="#aa14a0" d="M395 105h1v7h-1z"/>
<path fill="#8c3264" d="M397 161h1v7h-1z"/>
<path fill="#aa5a64" d="M398 91h1v7h-1z"/>
<path fill="#96505a" d="M399 84h1v7h-1z"/>
<path fill="#3c2828" d="M399 98h1v7h-1zM402 98h1v7h-1zM403 98h1v7h-1zM415 98h1v7h-1zM420 98h1v7h-1zM427 98h1v7h-1zM432 98h1v7h-1z"/>
<path fill="#6e285a" d="M400 77h1v7h-1zM430 70h1v7h-1zM431 154h1v7h-1zM439 140h1v7h-1z"/>
<path fill="#b40aa0" d="M401 105h1v7h-1z"/>
<path fill="#8c2882" d="M402 70h1v7h-1zM420 84h1v14h-1z"/>
<path fill="#6e325a" d="M402 161h1v7h-1zM443 133h1v7h-1zM448 133h1v7h-1z"/>
<path fill="#be288c" d="M403 175h1v7h-1z"/>
<path fill="#a0465a" d="M405 91h1v7h-1z"/>
<path fill="#827832" d="M405 98h1v7h-1zM406 98h1v7h-1z"/>
<path fill="#78286e" d="M405 112h1v7h-1zM413 189h1v7h-1z"/>
<path fill="#961496" d="M406 126h1v7h-1zM410 126h1v7h-1zM427 126h1v7h-1z"/>
<path fill="#463c32" d="M407 98h1v7h-1z"/>
<path fill="#82286e" d="M409 56h1v7h-1zM417 56h1v7h-1z"/>
<path fill="#32281e" d="M409 98h1v7h-1zM412 98h1v7h-1zM421 98h1v7h-1zM429 98h1v7h-1zM431 98h1v7h-1zM433 98h1v7h-1zM435 98h1v7h-1z"/>
<path fill="#c8be1e" d="M409 105h1v7h-1z"/>
<path fill="#965a50" d="M409 119h1v7h-1zM430 119h1v7h-1zM433 119h1v7h-1z"/>
<path fill="#5a463c" d="M409 168h1v7h-1z"/>
<path fill="#6e1e6e" d="M409 189h1v7h-1z"/>
<path fill="#aa1e82" d="M410 63h1v7h-1zM440 112h1v7h-1zM447 112h1v7h-1z"/>
<path fill="#323c1e" d="M410 98h1v7h-1z"/>
<path fill="#c8c832" d="M410 105h1v7h-1z"/>
<path fill="#5a3c32" d="M410 168h1v7h-1zM429 168h1v7h-1zM442 161h1v7h-1z"/>
<path fill="#6e286e" d="M411 56h1v7h-1zM427 189h1v7h-1z"/>
<path fill="#3c3c1e" d="M411 98h1v7h-1z"/>
<path fill="#d2c828" d="M411 105h1v7h-1zM412 105h1v7h-1zM414 105h1v7h-1zM415 105h1v7h-1zM418 105h1v7h-1zM419 105h1v7h-1zM422 105h1v7h-1zM423 105h1v7h-1zM426 105h1v7h-1zM431 105h1v7h-1zM433 105h1v7h-1zM435 105h1v7h-1z"/>
<path fill="#a0783c" d="M411 119h1v7h-1zM416 119h1v7h-1zM418 119h1v7h-1z"/>
<path fill="#64323c" d="M411 168h1v7h-1zM421 168h1v7h-1z"/>
<path fill="#781e5a" d="M411 189h1v7h-1zM417 182h1v14h-1zM425 56h1v7h-1zM433 189h1v7h-1z"/>
<path fill="#781e6e" d="M413 56h1v7h-1zM422 56h1v7h-1z"/>
<path fill="#3c3c28" d="M413 98h1v7h-1zM418 98h1v7h-1zM419 98h1v7h-1z"/>
<path fill="#c8be28" d="M413 105h1v7h-1zM420 105h1v7h-1zM424 105h1v7h-1zM425 105h1v7h-1zM427 105h1v7h-1zM429 105h1v7h-1zM430 105h1v7h-1zM432 105h1v7h-1z"/>
<path fill="#6e3c46" d="M413 119h1v7h-1zM417 119h1v7h-1zM421 119h1v7h-1zM424 119h1v7h-1zM427 119h1v7h-1zM428 119h1v7h-1zM434 119h1v7h-1z"/>
<path fill="#461e3c" d="M413 161h1v7h-1zM416 161h1v7h-1zM431 161h1v7h-1z"/>
<path fill="#5a323c" d="M413 168h1v7h-1z"/>
<path fill="#8c1e82" d="M414 91h1v7h-1zM415 84h1v7h-1zM417 91h1v7h-1zM422 91h1v7h-1zM427 91h1v7h-1zM428 91h1v7h-1zM435 91h1v7h-1z"/>
<path fill="#3c3c14" d="M414 98h1v7h-1zM434 98h1v7h-1z"/>
<path fill="#be8c46" d="M414 112h1v7h-1z"/>
<path fill="#8c5a50" d="M415 119h1v7h-1z"/>
<path fill="#3c321e" d="M416 98h1v7h-1z"/>
<path fill="#c8c828" d="M416 105h1v7h-1z"/>
<path fill="#aa3278" d="M416 154h1v7h-1zM427 70h1v7h-1zM433 70h1v7h-1z"/>
<path fill="#463c1e" d="M417 98h1v7h-1zM425 98h1v7h-1z"/>
<path fill="#d2be1e" d="M417 105h1v7h-1z"/>
<path fill="#50283c" d="M417 168h1v7h-1zM424 168h1v7h-1zM435 168h1v7h-1z"/>
<path fill="#8c7832" d="M418 168h1v7h-1z"/>
<path fill="#6e2850" d="M419 161h1v7h-1z"/>
<path fill="#965a46" d="M420 119h1v7h-1z"/>
<path fill="#502832" d="M420 168h1v7h-1z"/>
<path fill="#642864" d="M420 189h1v7h-1zM424 189h1v7h-1z"/>
<path fill="#8c1e64" d="M421 56h1v7h-1zM428 56h1v7h-1z"/>
<path fill="#d2be28" d="M421 105h1v7h-1z"/>
<path fill="#501e3c" d="M421 161h1v7h-1zM429 161h1v7h-1zM432 161h1v7h-1zM433 161h1v7h-1z"/>
<path fill="#323c28" d="M422 98h1v7h-1z"/>
<path fill="#965050" d="M422 119h1v7h-1z"/>
<path fill="#464628" d="M423 98h1v7h-1z"/>
<path fill="#8c505a" d="M423 119h1v7h-1zM432 119h1v7h-1z"/>
<path fill="#a01ea0" d="M424 63h1v7h-1z"/>
<path fill="#96286e" d="M424 84h1v7h-1zM438 63h1v7h-1z"/>
<path fill="#3c4628" d="M424 98h1v7h-1z"/>
<path fill="#5a1e46" d="M424 161h1v7h-1zM425 161h1v7h-1z"/>
<path fill="#8c5050" d="M425 119h1v7h-1z"/>
<path fill="#a05a78" d="M425 147h1v7h-1zM444 77h1v7h-1z"/>
<path fill="#3c3214" d="M426 98h1v7h-1z"/>
<path fill="#643c3c" d="M426 168h1v7h-1zM427 168h1v7h-1z"/>
<path fill="#323c14" d="M428 98h1v7h-1zM430 98h1v7h-1z"/>
<path fill="#dcbe28" d="M428 105h1v7h-1z"/>
<path fill="#aa823c" d="M429 119h1v7h-1z"/>
<path fill="#b4148c" d="M429 126h1v7h-1z"/>
<path fill="#462828" d="M430 168h1v7h-1z"/>
<path fill="#aa6e78" d="M430 175h1v7h-1z"/>
<path fill="#aa468c" d="M432 154h1v7h-1z"/>
<path fill="#643c32" d="M432 168h1v7h-1z"/>
<path fill="#6e3c3c" d="M433 168h1v7h-1z"/>
<path fill="#dcc828" d="M434 105h1v7h-1z"/>
<path fill="#783c32" d="M434 168h1v7h-1z"/>
<path fill="#50145a" d="M435 182h1v7h-1z"/>
<path fill="#b4a032" d="M437 119h1v7h-1z"/>
<path fill="#8c4678" d="M437 154h1v7h-1zM444 154h1v7h-1z"/>
<path fill="#6e5a32" d="M437 161h1v7h-1zM444 168h1v7h-1zM445 161h1v7h-1zM447 161h1v7h-1z"/>
<path fill="#a09632" d="M437 168h1v7h-1zM443 168h1v7h-1zM448 168h1v7h-1z"/>
<path fill="#beb432" d="M438 119h1v7h-1zM442 119h1v7h-1zM448 119h1v7h-1z"/>
<path fill="#6e5032" d="M438 161h1v7h-1z"/>
<path fill="#aaa032" d="M438 168h1v7h-1zM439 168h1v7h-1zM447 168h1v7h-1z"/>
<path fill="#964682" d="M439 77h1v7h-1zM444 133h1v7h-1z"/>
<path fill="#b4aa32" d="M439 119h1v7h-1zM443 119h1v7h-1zM447 119h1v7h-1z"/>
<path fill="#8c286e" d="M440 63h1v7h-1zM444 63h1v7h-1zM447 63h1v7h-1z"/>
<path fill="#aaaa3c" d="M440 119h1v7h-1z"/>
<path fill="#a04664" d="M440 133h1v7h-1z"/>
<path fill="#645a32" d="M440 161h1v7h-1zM445 168h1v7h-1z"/>
<path fill="#8c8c3c" d="M440 168h1v7h-1z"/>
<path fill="#beaa32" d="M441 119h1v7h-1zM444 119h1v7h-1z"/>
<path fill="#6e6428" d="M441 161h1v7h-1z"/>
<path fill="#780a6e" d="M442 70h1v7h-1z"/>
<path fill="#a08232" d="M442 168h1v7h-1z"/>
<path fill="#8c3c78" d="M443 84h1v7h-1z"/>
<path fill="#8c7828" d="M443 161h1v7h-1z"/>
<path fill="#be508c" d="M444 175h1v7h-1z"/>
<path fill="#b4aa3c" d="M445 119h1v7h-1zM446 119h1v7h-1z"/>
<path fill="#a05a82" d="M446 77h1v7h-1z"/>
<path fill="#503c28" d="M446 161h1v7h-1z"/>
<path fill="#968c3c" d="M446 168h1v7h-1z"/>
<path fill="#8c3c6e" d="M447 140h1v7h-1z"/>
<path fill="#961e96" d="M448 112h1v7h-1z"/>
</g>
<path d="M318.5 56V203" stroke="#f0d8f0" stroke-width="1.1"/>
<path d="M365.5 56V203" stroke="#f0d8f0" stroke-width="1.1"/>
<path d="M408.5 56V203" stroke="#f0d8f0" stroke-width="1.1"/>
<path d="M436.5 56V203" stroke="#f0d8f0" stroke-width="1.1"/>
<text x="262.6" y="62.1" font-size="7.6" text-anchor="end" fill="#2b2b2b" font-weight="normal" textLength="18.1" lengthAdjust="spacingAndGlyphs" stroke="#2b2b2b" stroke-width="0.18">CCR7</text>
<text x="262.6" y="69.1" font-size="7.6" text-anchor="end" fill="#2b2b2b" font-weight="normal" textLength="17.0" lengthAdjust="spacingAndGlyphs" stroke="#2b2b2b" stroke-width="0.18">CD27</text>
<text x="262.6" y="76.1" font-size="7.6" text-anchor="end" fill="#2b2b2b" font-weight="normal" textLength="17.0" lengthAdjust="spacingAndGlyphs" stroke="#2b2b2b" stroke-width="0.18">CD28</text>
<text x="262.6" y="83.1" font-size="7.6" text-anchor="end" fill="#2b2b2b" font-weight="normal" textLength="15.9" lengthAdjust="spacingAndGlyphs" stroke="#2b2b2b" stroke-width="0.18">LEF1</text>
<text x="262.6" y="90.1" font-size="7.6" text-anchor="end" fill="#2b2b2b" font-weight="normal" textLength="16.6" lengthAdjust="spacingAndGlyphs" stroke="#2b2b2b" stroke-width="0.18">TCF7</text>
<text x="262.6" y="97.1" font-size="7.6" text-anchor="end" fill="#2b2b2b" font-weight="normal" textLength="16.3" lengthAdjust="spacingAndGlyphs" stroke="#2b2b2b" stroke-width="0.18">SELL</text>
<text x="262.6" y="104.1" font-size="7.6" text-anchor="end" fill="#2b2b2b" font-weight="normal" textLength="14.0" lengthAdjust="spacingAndGlyphs" stroke="#2b2b2b" stroke-width="0.18">IL7R</text>
<text x="262.6" y="111.1" font-size="7.6" text-anchor="end" fill="#2b2b2b" font-weight="normal" textLength="21.1" lengthAdjust="spacingAndGlyphs" stroke="#2b2b2b" stroke-width="0.18">KLRB1</text>
<text x="262.6" y="118.1" font-size="7.6" text-anchor="end" fill="#2b2b2b" font-weight="normal" textLength="19.2" lengthAdjust="spacingAndGlyphs" stroke="#2b2b2b" stroke-width="0.18">GZMK</text>
<text x="262.6" y="125.1" font-size="7.6" text-anchor="end" fill="#2b2b2b" font-weight="normal" textLength="17.6" lengthAdjust="spacingAndGlyphs" stroke="#2b2b2b" stroke-width="0.18">GNLY</text>
<text x="262.6" y="132.1" font-size="7.6" text-anchor="end" fill="#2b2b2b" font-weight="normal" textLength="25.9" lengthAdjust="spacingAndGlyphs" stroke="#2b2b2b" stroke-width="0.18">FGFBP2</text>
<text x="262.6" y="139.1" font-size="7.6" text-anchor="end" fill="#2b2b2b" font-weight="normal" textLength="19.6" lengthAdjust="spacingAndGlyphs" stroke="#2b2b2b" stroke-width="0.18">GZMH</text>
<text x="262.6" y="146.1" font-size="7.6" text-anchor="end" fill="#2b2b2b" font-weight="normal" textLength="19.2" lengthAdjust="spacingAndGlyphs" stroke="#2b2b2b" stroke-width="0.18">GZMB</text>
<text x="262.6" y="153.1" font-size="7.6" text-anchor="end" fill="#2b2b2b" font-weight="normal" textLength="19.2" lengthAdjust="spacingAndGlyphs" stroke="#2b2b2b" stroke-width="0.18">GZMA</text>
<text x="262.6" y="160.1" font-size="7.6" text-anchor="end" fill="#2b2b2b" font-weight="normal" textLength="21.4" lengthAdjust="spacingAndGlyphs" stroke="#2b2b2b" stroke-width="0.18">KLRD1</text>
<text x="262.6" y="167.1" font-size="7.6" text-anchor="end" fill="#2b2b2b" font-weight="normal" textLength="17.0" lengthAdjust="spacingAndGlyphs" stroke="#2b2b2b" stroke-width="0.18">CCL5</text>
<text x="262.6" y="174.1" font-size="7.6" text-anchor="end" fill="#2b2b2b" font-weight="normal" textLength="18.1" lengthAdjust="spacingAndGlyphs" stroke="#2b2b2b" stroke-width="0.18">NKG7</text>
<text x="262.6" y="181.1" font-size="7.6" text-anchor="end" fill="#2b2b2b" font-weight="normal" textLength="17.0" lengthAdjust="spacingAndGlyphs" stroke="#2b2b2b" stroke-width="0.18">PRF1</text>
<text x="262.6" y="188.1" font-size="7.6" text-anchor="end" fill="#2b2b2b" font-weight="normal" textLength="19.6" lengthAdjust="spacingAndGlyphs" stroke="#2b2b2b" stroke-width="0.18">RORC</text>
<text x="262.6" y="195.1" font-size="7.6" text-anchor="end" fill="#2b2b2b" font-weight="normal" textLength="17.7" lengthAdjust="spacingAndGlyphs" stroke="#2b2b2b" stroke-width="0.18">IL23R</text>
<text x="262.6" y="202.1" font-size="7.6" text-anchor="end" fill="#2b2b2b" font-weight="normal" textLength="18.1" lengthAdjust="spacingAndGlyphs" stroke="#2b2b2b" stroke-width="0.18">CCR6</text>
<rect x="266" y="50.8" width="52" height="2.8" fill="#df5f5f"/>
<rect x="319" y="50.8" width="45.5" height="2.8" fill="#b2aa2a"/>
<rect x="365.5" y="50.8" width="43.0" height="2.8" fill="#1a9c6c"/>
<rect x="409.8" y="50.8" width="26.0" height="2.8" fill="#32a6d8"/>
<rect x="436.9" y="50.8" width="11.800000000000011" height="2.8" fill="#c46ec4"/>
<text x="295.2" y="49.2" font-size="8.3" text-anchor="middle" fill="#2b2b2b" font-weight="normal" textLength="24" lengthAdjust="spacingAndGlyphs" stroke="#2b2b2b" stroke-width="0.18">Naive</text>
<text x="348.6" y="49.2" font-size="8.3" text-anchor="middle" fill="#2b2b2b" font-weight="normal" textLength="29.8" lengthAdjust="spacingAndGlyphs" stroke="#2b2b2b" stroke-width="0.18">TEMRA</text>
<text x="389.9" y="49.2" font-size="8.3" text-anchor="middle" fill="#2b2b2b" font-weight="normal" textLength="14" lengthAdjust="spacingAndGlyphs" stroke="#2b2b2b" stroke-width="0.18">CM</text>
<text x="423.2" y="36.0" font-size="8.3" text-anchor="middle" fill="#2b2b2b" font-weight="normal" textLength="33.7" lengthAdjust="spacingAndGlyphs" stroke="#2b2b2b" stroke-width="0.18">CD161+</text>
<text x="423.5" y="47.0" font-size="8.3" text-anchor="middle" fill="#2b2b2b" font-weight="normal" textLength="17.7" lengthAdjust="spacingAndGlyphs" stroke="#2b2b2b" stroke-width="0.18">high</text>
<text x="444.6" y="49.2" font-size="8.3" text-anchor="middle" fill="#2b2b2b" font-weight="normal" textLength="13.8" lengthAdjust="spacingAndGlyphs" stroke="#2b2b2b" stroke-width="0.18">EM</text>
<text x="453.9" y="58.8" font-size="8.3" text-anchor="start" fill="#2b2b2b" font-weight="normal" textLength="40.3" lengthAdjust="spacingAndGlyphs" stroke="#2b2b2b" stroke-width="0.18">Expression</text>
<text x="453.9" y="69.0" font-size="8.3" text-anchor="start" fill="#2b2b2b" font-weight="normal" textLength="38.4" lengthAdjust="spacingAndGlyphs" stroke="#2b2b2b" stroke-width="0.18">(Log TPM)</text>
<defs><linearGradient id="cb" x1="0" y1="0" x2="0" y2="1"><stop offset="0" stop-color="#e8e400"/><stop offset="0.22" stop-color="#c8c400"/><stop offset="0.5" stop-color="#202010"/><stop offset="0.62" stop-color="#100810"/><stop offset="1" stop-color="#c82cc8"/></linearGradient></defs>
<rect x="456.6" y="75.9" width="8.1" height="34.7" fill="url(#cb)"/>
<text x="467.6" y="82.3" font-size="8.3" text-anchor="start" fill="#2b2b2b" font-weight="normal" stroke="#2b2b2b" stroke-width="0.18">2</text>
<text x="467.6" y="92" font-size="8.3" text-anchor="start" fill="#2b2b2b" font-weight="normal" stroke="#2b2b2b" stroke-width="0.18">1</text>
<text x="467.6" y="101.4" font-size="8.3" text-anchor="start" fill="#2b2b2b" font-weight="normal" stroke="#2b2b2b" stroke-width="0.18">0</text>
<text x="467.6" y="111.2" font-size="8.3" text-anchor="start" fill="#2b2b2b" font-weight="normal" stroke="#2b2b2b" stroke-width="0.18">-1</text>
<circle cx="456.4" cy="132.2" r="2.1" fill="#df7168"/>
<text x="461.4" y="135.2" font-size="8.3" text-anchor="start" fill="#2b2b2b" font-weight="normal" textLength="21.5" lengthAdjust="spacingAndGlyphs" stroke="#2b2b2b" stroke-width="0.18">Naive</text>
<circle cx="456.4" cy="143.29999999999998" r="2.1" fill="#b3a93c"/>
<text x="461.4" y="146.29999999999998" font-size="8.3" text-anchor="start" fill="#2b2b2b" font-weight="normal" textLength="28.5" lengthAdjust="spacingAndGlyphs" stroke="#2b2b2b" stroke-width="0.18">TEMRA</text>
<circle cx="456.4" cy="154.39999999999998" r="2.1" fill="#3a9a6a"/>
<text x="461.4" y="157.39999999999998" font-size="8.3" text-anchor="start" fill="#2b2b2b" font-weight="normal" textLength="13.5" lengthAdjust="spacingAndGlyphs" stroke="#2b2b2b" stroke-width="0.18">CM</text>
<circle cx="456.4" cy="165.5" r="2.1" fill="#3aa5d6"/>
<text x="461.4" y="168.5" font-size="8.3" text-anchor="start" fill="#2b2b2b" font-weight="normal" textLength="50.6" lengthAdjust="spacingAndGlyphs" stroke="#2b2b2b" stroke-width="0.18">CD161+ high</text>
<circle cx="456.4" cy="176.6" r="2.1" fill="#ab6ab2"/>
<text x="461.4" y="179.6" font-size="8.3" text-anchor="start" fill="#2b2b2b" font-weight="normal" textLength="12.5" lengthAdjust="spacingAndGlyphs" stroke="#2b2b2b" stroke-width="0.18">EM</text>
<text x="7.4" y="263.8" font-size="12.8" text-anchor="start" fill="#111" font-weight="bold" stroke="#111" stroke-width="0.55">C</text>
<text x="75.8" y="271.7" font-size="9.3" text-anchor="start" fill="#b5383f" font-weight="normal" textLength="41.5" lengthAdjust="spacingAndGlyphs" stroke="#b5383f" stroke-width="0.18">Clone size</text>
<path d="M123.5 284.6h0M138.0 288.6h0M130.5 297.9h0M133.3 283.9h0M137.1 287.6h0M136.9 294.3h0M133.8 292.2h0M125.2 300.0h0M119.1 291.2h0M127.6 282.0h0M132.3 297.4h0M122.4 285.8h0M135.5 291.9h0M123.9 290.2h0M126.2 294.8h0M125.9 294.1h0M137.5 284.5h0M118.9 286.6h0M130.9 294.6h0M123.9 291.6h0M125.0 293.0h0M119.6 293.9h0M122.0 292.4h0M121.5 290.1h0M123.3 294.3h0M135.7 298.7h0M130.2 288.1h0M123.9 291.4h0M134.9 287.4h0M131.3 286.2h0M134.3 291.2h0M124.4 290.1h0M126.5 294.9h0M127.4 293.1h0M131.5 282.4h0M129.1 296.6h0M135.9 296.3h0M133.3 283.3h0M126.8 291.4h0M119.5 292.6h0M123.4 284.0h0M139.9 293.8h0M134.6 293.5h0M130.5 299.3h0M118.5 288.6h0M122.3 293.3h0M126.5 300.3h0M122.6 286.3h0M139.0 296.0h0M127.3 288.5h0M134.6 283.7h0M134.3 285.4h0M124.0 297.7h0M130.9 285.8h0M133.5 289.4h0M120.4 298.8h0M134.2 285.7h0M127.2 295.2h0M125.9 286.0h0M129.6 300.9h0M119.3 285.9h0M128.6 301.7h0M132.4 283.5h0M122.0 283.4h0M138.6 295.3h0M129.3 291.6h0M121.4 291.0h0M135.2 292.5h0M140.5 292.0h0M134.7 293.4h0M138.2 287.7h0M128.1 298.0h0M123.1 288.5h0M137.3 294.4h0M128.7 280.8h0M135.3 289.4h0M122.7 288.8h0M120.3 298.6h0M133.2 284.0h0M120.6 284.2h0M123.6 293.8h0M127.3 284.2h0M119.4 291.8h0M125.4 291.3h0M119.6 288.1h0M129.1 282.3h0M129.0 298.6h0M131.2 283.3h0M132.2 282.3h0M129.7 284.3h0M123.7 283.1h0M133.2 297.8h0M127.8 293.0h0M125.0 298.1h0M133.5 282.2h0M133.9 283.5h0M128.5 284.4h0M128.6 294.6h0M134.6 287.5h0M118.3 290.2h0M138.9 292.4h0M131.9 297.0h0M132.3 300.9h0M136.4 283.5h0M123.4 295.8h0M130.9 299.0h0M135.6 287.6h0M121.1 294.6h0M119.7 291.1h0M123.6 289.1h0M132.7 294.1h0M131.8 281.8h0M138.5 295.7h0M138.8 293.7h0M132.5 299.6h0M134.9 294.1h0M134.2 298.7h0M126.3 285.0h0M127.6 298.6h0M135.1 283.3h0M121.8 285.0h0M134.9 285.9h0M138.3 289.3h0M121.6 289.4h0M126.1 281.3h0M137.6 289.5h0M137.6 296.1h0M130.6 291.5h0M134.2 293.4h0M138.6 296.7h0M127.6 298.7h0M123.9 288.9h0M130.8 301.4h0M122.8 298.7h0M132.8 300.3h0M124.2 294.8h0M133.8 298.6h0M132.2 292.4h0M121.6 291.6h0M122.7 298.6h0M121.4 297.0h0M121.7 287.8h0M131.0 286.4h0M133.2 286.0h0M133.1 281.1h0M139.5 294.1h0M138.9 296.5h0M126.1 284.8h0M138.4 294.8h0M125.4 282.0h0M130.1 284.7h0M123.4 293.0h0M124.9 293.6h0M131.3 291.7h0M129.5 285.7h0M128.4 286.2h0M122.2 287.1h0M124.9 290.3h0M131.9 287.7h0M132.3 293.2h0M130.0 284.4h0M129.4 291.6h0M129.2 285.7h0M132.0 289.4h0M126.1 293.5h0M125.7 295.3h0M125.7 291.5h0M124.6 292.7h0M125.0 289.1h0M131.1 293.9h0M123.0 286.1h0M124.0 293.2h0M130.4 292.6h0M132.3 286.8h0M128.0 284.1h0M125.9 291.2h0M124.6 293.5h0M124.0 289.3h0M130.6 286.7h0M130.3 288.8h0M130.1 293.9h0M130.5 294.4h0M130.3 293.3h0M132.7 291.1h0M128.4 285.9h0M124.3 285.0h0M122.6 288.7h0M125.1 290.8h0M132.6 287.2h0M123.7 291.1h0M124.1 286.5h0M132.3 294.4h0M126.2 288.1h0M130.8 290.4h0M125.6 285.8h0M122.6 292.5h0M124.1 290.3h0M124.7 289.9h0M128.0 287.2h0M122.6 289.0h0M114.1 310.5h0M112.5 309.1h0M113.2 307.7h0M115.8 303.0h0M112.2 309.1h0M116.1 305.1h0M118.4 301.4h0M119.6 300.1h0M112.3 309.7h0M118.2 301.3h0M116.1 302.3h0M111.0 312.1h0M112.6 310.0h0M115.4 305.9h0M97.6 338.0h0M97.8 332.8h0M109.0 330.4h0M100.8 339.2h0M105.3 326.0h0M98.4 325.2h0M101.7 336.8h0M106.9 338.2h0M99.8 326.2h0M102.2 338.8h0M103.8 337.7h0M97.1 331.1h0M108.7 332.3h0M106.7 336.5h0M101.1 334.4h0M102.3 336.6h0M99.9 334.2h0M102.8 337.3h0M97.8 330.4h0M98.1 336.5h0M103.5 336.0h0M99.5 323.4h0M103.4 333.1h0M100.9 326.9h0M99.5 326.2h0M105.4 331.9h0M97.7 327.0h0M104.7 337.5h0M98.1 323.8h0M97.0 329.0h0M103.5 324.6h0M100.0 324.6h0M98.5 332.3h0M102.0 325.1h0M98.4 338.1h0M104.1 332.8h0M99.2 327.4h0M104.5 339.2h0M97.0 329.6h0M98.6 334.3h0M100.3 334.3h0M108.0 334.4h0M108.8 336.1h0M104.8 325.8h0M95.9 328.1h0M98.9 338.7h0M99.6 336.8h0M95.0 328.0h0M97.9 337.5h0M101.1 337.3h0M101.8 328.7h0M99.4 322.9h0M101.3 339.1h0M95.6 330.0h0M95.0 325.7h0M95.3 335.3h0M94.8 334.6h0M97.0 333.9h0M96.7 329.8h0M101.8 331.8h0M99.7 323.3h0M102.8 325.0h0M88.3 339.9h0M89.0 340.1h0M85.8 338.2h0M84.0 341.0h0M89.0 342.6h0M93.6 340.3h0M96.3 338.4h0M89.8 345.0h0M83.0 340.4h0M96.8 340.6h0M95.4 337.1h0M88.3 336.7h0M90.6 343.6h0M90.3 341.8h0M95.3 336.7h0M97.0 339.9h0M90.3 342.7h0M96.2 337.7h0M96.1 337.7h0M92.3 335.4h0M91.5 337.5h0M91.4 341.1h0M90.3 342.3h0M83.6 340.4h0M87.0 344.4h0M79.6 354.6h0M77.4 349.6h0M57.9 346.1h0M69.9 358.9h0M84.0 344.4h0M66.1 356.3h0M62.5 345.0h0M62.7 360.3h0M55.0 350.8h0M68.6 377.4h0M66.8 351.9h0M61.1 342.0h0M66.4 363.5h0M61.4 368.6h0M72.9 339.7h0M71.8 360.9h0M56.4 351.8h0M76.4 354.1h0M68.7 346.8h0M72.8 357.6h0M66.1 348.4h0M75.8 355.0h0M60.2 342.0h0M71.8 367.6h0M78.5 343.6h0M57.7 361.2h0M78.4 351.8h0M73.6 362.9h0M74.4 360.4h0M75.3 350.4h0M60.7 345.2h0M70.7 350.9h0M51.1 350.3h0M68.6 350.6h0M74.6 356.1h0M48.2 347.1h0M69.0 373.2h0M75.7 371.1h0M78.4 358.4h0M58.5 343.8h0M68.5 345.1h0M68.7 340.4h0M59.4 365.8h0M58.6 366.3h0M75.4 338.6h0M52.7 341.5h0M79.4 351.0h0M69.3 353.7h0M73.2 363.7h0M73.2 356.8h0M61.7 337.5h0M56.0 345.0h0M75.6 372.7h0M56.8 349.9h0M68.6 346.6h0M73.8 352.1h0M66.2 362.2h0M71.3 376.4h0M70.3 378.3h0M66.6 356.2h0M66.8 337.5h0M65.0 342.0h0M84.5 341.9h0M71.1 357.9h0M49.2 349.8h0M68.9 355.3h0M70.4 339.8h0M72.1 363.3h0M54.8 361.4h0M72.3 359.4h0M77.7 356.5h0M76.0 353.0h0M69.8 368.6h0M71.0 362.9h0M62.8 352.1h0M73.9 356.2h0M65.1 353.3h0M58.9 363.9h0M83.0 345.4h0M73.6 359.9h0M73.1 365.5h0M63.4 337.5h0M61.9 359.4h0M72.8 376.9h0M74.0 365.1h0M67.1 356.5h0M75.4 360.3h0M87.8 342.2h0M56.3 346.8h0M59.0 352.7h0M56.2 347.8h0M77.1 352.5h0M83.5 341.1h0M64.9 337.4h0M70.6 347.3h0M83.1 346.6h0M83.2 351.3h0M61.8 348.3h0M56.6 341.4h0M59.3 350.6h0M67.6 358.8h0M59.8 341.1h0M53.2 345.8h0M52.4 350.5h0M63.1 369.4h0M50.0 340.8h0M82.7 351.1h0M54.2 344.9h0M63.4 367.6h0M65.9 345.8h0M59.9 351.6h0M50.7 353.6h0M77.1 338.4h0M73.7 345.3h0M80.5 345.6h0M81.6 349.3h0M77.7 338.6h0M75.9 342.3h0M62.5 344.1h0M68.0 364.8h0M60.6 357.2h0M69.5 355.1h0M65.2 373.6h0M82.2 350.1h0M50.1 346.6h0M67.5 369.9h0M78.9 349.8h0M68.3 356.0h0M69.6 350.8h0M82.6 344.6h0M55.0 360.8h0M66.9 351.4h0M51.9 348.5h0M67.5 339.6h0M64.5 362.0h0M73.9 339.0h0M86.8 345.7h0M75.4 364.3h0M55.4 356.9h0M64.3 344.7h0M63.2 339.7h0M69.2 354.2h0M68.1 343.2h0M77.3 366.7h0M51.3 353.2h0M54.9 359.7h0M82.9 343.5h0M76.3 355.5h0M53.9 356.9h0M75.7 360.3h0M59.0 339.3h0M68.9 362.7h0M84.9 346.8h0M80.2 347.8h0M66.3 346.3h0M77.7 368.0h0M76.3 341.2h0M49.8 341.4h0M53.2 346.8h0M65.1 348.2h0M77.5 350.9h0M70.8 350.5h0M69.5 359.8h0M50.8 347.1h0M72.3 377.1h0M64.5 346.8h0M66.4 350.0h0M62.6 370.6h0M60.3 367.6h0M71.3 337.9h0M67.9 374.3h0M73.6 373.6h0M59.1 365.6h0M73.9 337.7h0M72.2 351.2h0M57.4 364.8h0M72.9 346.2h0M76.2 340.2h0M70.3 359.8h0M68.9 377.6h0M55.3 360.1h0M64.4 371.8h0M66.2 343.8h0M67.0 339.2h0M74.7 354.2h0M63.3 353.3h0M58.3 343.0h0M73.7 359.3h0M64.7 369.3h0M67.6 344.0h0M58.0 361.0h0M74.3 364.2h0M77.6 352.4h0M78.4 362.1h0M57.4 342.4h0M72.7 373.4h0M57.1 349.7h0M82.3 348.7h0M66.8 360.6h0M47.7 341.8h0M79.2 340.8h0M71.0 374.5h0M77.2 341.2h0M59.0 357.0h0M68.5 360.9h0M70.4 339.8h0M54.8 355.6h0M76.5 369.4h0M53.6 349.4h0M57.2 340.2h0M74.0 341.8h0M77.7 343.1h0M53.2 339.0h0M63.7 350.9h0M52.3 345.5h0M65.5 365.4h0M75.0 362.1h0M62.8 372.3h0M69.3 376.5h0M79.0 347.3h0M62.7 362.6h0M62.6 339.7h0M52.7 343.6h0M71.2 349.2h0M74.6 371.7h0M55.5 346.8h0M63.9 362.7h0M53.2 341.6h0M70.7 357.0h0M69.7 345.1h0M55.6 362.2h0M63.5 358.5h0M77.5 339.6h0M67.1 339.3h0M55.1 345.1h0M62.7 343.8h0M85.3 349.9h0M59.5 340.1h0M62.1 370.7h0M69.4 375.4h0M72.3 364.7h0M64.5 372.9h0M65.4 343.0h0M49.4 344.8h0M72.7 366.3h0M66.1 365.1h0M64.2 362.4h0M61.0 363.8h0M64.1 372.3h0M81.9 346.7h0M74.4 349.8h0M66.9 374.3h0M52.3 354.4h0M62.9 350.2h0M79.9 359.7h0M74.4 341.7h0M73.6 374.5h0M66.5 355.4h0M73.4 345.2h0M87.7 341.9h0M74.3 358.6h0M48.5 343.9h0M59.5 366.8h0M52.4 353.1h0M72.4 369.5h0M54.8 361.0h0M71.8 360.8h0M71.5 353.5h0M57.4 361.7h0M80.5 345.7h0M65.6 360.4h0M71.5 373.5h0M75.9 354.3h0M72.2 349.9h0M48.9 349.9h0M55.1 344.1h0M61.5 356.4h0M58.2 364.8h0M54.9 340.1h0M54.1 358.0h0M76.9 362.8h0M83.9 349.9h0M81.1 353.3h0M75.5 356.1h0M65.6 367.4h0M71.0 363.5h0M78.1 364.4h0M53.0 348.0h0M70.8 369.4h0M64.2 366.9h0M60.7 350.5h0M53.9 354.8h0M70.8 341.7h0M77.0 351.9h0M85.5 349.3h0M74.3 356.0h0M74.1 366.3h0M60.5 345.4h0M73.8 361.5h0M49.0 344.0h0M64.7 340.9h0M68.5 354.0h0M77.3 339.9h0M71.9 379.4h0M56.5 346.5h0M60.4 347.1h0M53.5 348.0h0M67.5 371.9h0M78.7 338.7h0M78.4 364.4h0M82.2 342.8h0M57.4 350.1h0M81.7 357.3h0M49.3 347.1h0M52.8 342.0h0M52.5 350.7h0M49.1 349.7h0M82.1 347.4h0M67.9 373.6h0M69.3 338.3h0M70.7 364.3h0M55.7 338.3h0M75.9 367.7h0M54.4 338.5h0M70.6 350.2h0M70.2 342.1h0M75.7 368.0h0M70.3 378.0h0M66.5 364.9h0M49.3 349.9h0M88.0 367.1h0M85.9 371.2h0M92.3 376.2h0M85.1 361.4h0M86.7 368.3h0M92.9 374.1h0M98.0 357.3h0M105.8 366.2h0M97.9 381.3h0M88.2 347.1h0M99.3 389.4h0M97.0 385.7h0M83.5 352.8h0M92.4 348.4h0M106.0 356.0h0M101.1 372.9h0M88.4 360.4h0M88.5 370.1h0M89.5 370.6h0M89.6 350.7h0M100.8 357.3h0M89.1 378.8h0M106.3 362.4h0M101.8 360.6h0M96.7 374.4h0M89.7 364.5h0M93.0 362.1h0M87.1 370.6h0M105.8 357.2h0M94.8 355.2h0M100.2 364.1h0M97.7 364.2h0M95.7 349.1h0M90.9 384.8h0M89.9 382.2h0M93.5 350.5h0M97.5 358.2h0M90.2 351.1h0M97.7 354.0h0M102.4 373.0h0M96.1 390.2h0M86.4 363.0h0M88.0 365.4h0M106.9 356.1h0M100.8 351.5h0M96.8 378.0h0M91.6 360.8h0M90.5 348.8h0M90.6 369.6h0M92.0 385.5h0M90.8 350.9h0M94.3 349.1h0M86.1 369.6h0M97.5 355.0h0M86.9 369.5h0M94.0 367.6h0M100.1 351.6h0M86.1 360.5h0M93.1 378.6h0M88.1 375.2h0M94.1 386.0h0M92.8 351.8h0M98.5 368.7h0M84.5 348.7h0M94.6 374.4h0M93.0 367.2h0M99.1 377.8h0M101.1 364.5h0M83.1 354.7h0M87.1 372.9h0M98.8 349.7h0M95.9 372.0h0M100.5 348.5h0M101.6 357.7h0M92.4 350.8h0M103.9 369.2h0M85.0 363.9h0M84.1 349.6h0M92.5 347.0h0M82.9 362.1h0M108.3 356.8h0M106.9 363.2h0M100.1 382.3h0M92.1 377.5h0M93.1 362.9h0M90.5 351.9h0M96.7 389.4h0M88.2 354.2h0M92.4 366.2h0M102.3 358.5h0M88.1 358.3h0M92.7 375.8h0M84.2 354.2h0M94.3 378.8h0M104.4 366.7h0M92.2 381.5h0M95.1 385.8h0M99.3 371.5h0M89.6 367.9h0M104.1 353.7h0M103.1 349.1h0M91.5 366.8h0M101.3 369.6h0M92.4 369.5h0M92.5 386.0h0M90.2 353.5h0M88.6 356.8h0M88.6 364.7h0M97.4 352.3h0M105.4 355.4h0M91.3 373.8h0M90.2 355.0h0M99.1 364.1h0M94.7 386.0h0M88.1 379.3h0M103.4 355.5h0M97.4 365.6h0M101.9 363.7h0M90.6 380.8h0M100.8 362.0h0M101.3 357.3h0M95.5 353.8h0M91.3 364.7h0M84.4 359.7h0M91.5 360.4h0M95.7 387.3h0M104.9 358.9h0M85.6 349.1h0M92.8 353.0h0M84.5 363.8h0M102.7 349.0h0M93.8 348.8h0M87.8 371.0h0M99.6 389.3h0M90.7 355.9h0M83.7 353.8h0M85.1 370.2h0M94.3 387.6h0M95.1 349.1h0M88.3 361.2h0M93.8 365.4h0M89.6 352.3h0M92.3 377.3h0M87.6 350.3h0M103.5 369.8h0M88.3 367.6h0M96.6 354.2h0M94.1 388.7h0M101.5 351.0h0M94.0 353.9h0M94.5 352.1h0M98.1 369.1h0M98.7 375.8h0M98.3 358.4h0M87.7 373.5h0M95.2 358.9h0M97.9 347.2h0M95.4 381.8h0M87.4 367.6h0M98.4 390.3h0M84.9 351.1h0M95.1 382.3h0M82.8 362.9h0M101.2 364.8h0M86.8 348.3h0M102.5 369.0h0M96.5 377.1h0M102.6 363.9h0M94.4 370.0h0M90.2 360.1h0M86.0 358.5h0M90.2 359.9h0M89.2 373.3h0M94.6 350.9h0M105.3 367.9h0M95.4 377.7h0M87.4 372.9h0M95.5 359.0h0M95.4 353.4h0M99.4 350.4h0M94.1 347.6h0M96.6 349.6h0M103.8 359.0h0M107.8 360.5h0M94.9 357.6h0M98.0 355.5h0M89.2 348.9h0M112.0 354.8h0M109.6 355.2h0M107.3 355.0h0M110.4 354.9h0M112.1 356.3h0M110.8 356.7h0M105.9 355.4h0M115.4 357.6h0M110.7 354.9h0M113.0 356.3h0M120.8 359.9h0M117.7 363.6h0M119.5 370.4h0M123.6 357.5h0M120.6 357.1h0M122.2 355.6h0M123.8 366.7h0M118.2 358.3h0M118.0 359.2h0M121.3 363.1h0M122.6 358.0h0M119.7 370.0h0M116.4 362.8h0M122.9 361.5h0M121.8 355.1h0M120.9 354.7h0M117.7 355.9h0M118.3 355.6h0M115.5 354.4h0M116.4 354.5h0M116.9 356.8h0M111.8 349.4h0M118.4 356.1h0M112.9 352.1h0M123.2 375.6h0M123.3 382.1h0M124.3 383.3h0M120.6 368.8h0M123.0 376.7h0M123.1 385.9h0M122.8 380.1h0M123.9 378.7h0M123.1 378.4h0M122.5 369.8h0M123.1 376.6h0M120.5 375.7h0M134.8 412.6h0M120.5 397.4h0M125.8 401.6h0M130.7 406.1h0M126.0 404.4h0M123.0 406.5h0M135.5 406.9h0M122.9 388.5h0M112.5 393.0h0M117.9 388.5h0M119.8 406.8h0M138.9 395.9h0M128.0 394.1h0M114.7 389.7h0M130.1 395.9h0M129.5 391.4h0M118.5 404.1h0M131.5 405.2h0M112.6 398.5h0M116.6 387.9h0M122.6 388.1h0M107.3 396.7h0M111.5 398.6h0M119.5 386.1h0M129.0 396.7h0M127.8 399.3h0M128.3 393.8h0M138.1 399.8h0M114.9 401.8h0M118.5 400.6h0M112.8 398.9h0M110.6 390.1h0M130.0 392.5h0M131.0 399.6h0M133.6 408.6h0M126.1 395.6h0M123.3 409.0h0M123.0 400.6h0M128.8 400.1h0M109.5 395.5h0M128.7 410.7h0M139.4 395.5h0M120.2 400.2h0M116.0 402.3h0M121.4 390.4h0M108.9 396.0h0M138.5 408.6h0M132.3 411.2h0M118.5 405.5h0M113.0 398.7h0M132.9 402.6h0M139.7 394.1h0M115.1 395.2h0M138.5 406.7h0M137.1 405.1h0M130.2 391.1h0M139.7 410.1h0M134.8 406.1h0M140.2 400.7h0M122.6 403.9h0M116.8 390.1h0M125.0 398.6h0M125.0 405.9h0M118.5 396.2h0M141.4 406.5h0M126.4 409.9h0M133.9 412.1h0M122.0 398.1h0M115.5 390.3h0M118.0 390.5h0M130.5 401.3h0M135.0 406.9h0M144.3 400.1h0M130.1 400.1h0M117.9 394.1h0M125.8 397.6h0M127.4 404.4h0M129.8 401.8h0M124.7 394.6h0M118.9 401.6h0M127.8 400.2h0M126.2 392.5h0M118.7 403.7h0M133.7 409.4h0M119.7 402.5h0M112.5 396.1h0M115.3 404.7h0M125.6 403.4h0M116.2 404.0h0M117.9 399.2h0M130.7 401.0h0M114.1 396.4h0M137.1 410.4h0M138.1 394.6h0M121.2 393.3h0M126.8 400.4h0M117.2 401.9h0M124.1 401.8h0M114.1 398.9h0M133.1 406.8h0M117.8 387.7h0M136.7 404.5h0M115.9 386.7h0M122.0 408.3h0M113.8 400.5h0M135.6 406.0h0M137.1 407.2h0M114.8 395.4h0M126.2 398.7h0M130.9 399.8h0M110.3 392.3h0M125.5 387.4h0M134.0 403.1h0M132.6 407.3h0M116.5 391.0h0M114.7 403.0h0M123.4 386.5h0M122.2 385.4h0M126.9 387.3h0M119.3 394.4h0M130.8 393.3h0M124.2 403.9h0M116.5 388.1h0M131.6 403.9h0M139.3 402.1h0M132.5 413.8h0M113.6 396.1h0M129.0 410.7h0M136.6 391.5h0M130.7 408.2h0M120.8 397.2h0M107.9 398.7h0M119.1 394.4h0M110.2 401.0h0M119.0 392.1h0M127.6 386.4h0M135.5 411.4h0M123.1 395.4h0M131.2 399.2h0M123.9 408.3h0M107.7 396.8h0M118.8 393.9h0M114.2 391.6h0M123.7 400.7h0M129.4 389.2h0M114.0 397.1h0M113.4 403.9h0M128.6 388.6h0M117.5 405.9h0M117.0 387.6h0M122.2 401.3h0M127.9 393.7h0M120.2 389.0h0M130.7 409.0h0M114.6 402.0h0M121.1 389.5h0M116.8 399.6h0M113.4 401.7h0M132.6 403.5h0M136.6 403.0h0M117.8 397.1h0M127.9 391.3h0M126.6 395.9h0M116.1 397.9h0M135.3 407.6h0M142.4 399.8h0M135.4 408.1h0M138.1 402.5h0M120.8 395.2h0M137.3 405.2h0M119.0 392.4h0M117.1 404.9h0M124.0 390.8h0M113.1 389.2h0M121.7 390.2h0M125.2 398.3h0M122.8 387.3h0M133.7 398.0h0M118.1 390.5h0M122.7 392.8h0M125.1 401.4h0M121.7 402.1h0M112.0 393.6h0M142.2 403.6h0M114.2 388.0h0M136.4 401.5h0M111.9 394.6h0M127.0 403.5h0M111.6 392.3h0M113.1 395.7h0M132.0 408.8h0M108.8 399.3h0M125.6 409.8h0M115.3 397.2h0M115.0 395.8h0M136.2 401.0h0M109.8 395.0h0M114.8 393.2h0M110.8 397.1h0M134.6 392.2h0M136.1 395.1h0M129.1 395.8h0M124.8 401.2h0M128.2 391.8h0M135.4 409.0h0M114.7 398.8h0M113.8 400.0h0M118.1 386.4h0M139.3 397.6h0M123.1 395.8h0M133.7 391.2h0M119.2 385.7h0M110.8 389.9h0M119.2 392.6h0M136.0 406.2h0M124.1 397.1h0M124.5 402.5h0M139.4 394.2h0M127.8 395.9h0" stroke="#e03c10" stroke-width="1.9" stroke-linecap="round" fill="none" opacity="1.0"/>
<path d="M107.8 338.7h0M108.8 331.8h0M105.1 329.9h0M107.0 328.9h0M105.5 338.5h0M104.4 334.2h0M108.6 330.4h0M104.4 334.0h0M96.9 376.4h0M88.1 380.1h0M99.8 353.9h0M122.1 364.6h0M124.2 363.5h0M122.7 361.5h0M123.2 368.8h0M116.3 364.5h0M116.7 366.6h0M119.9 355.5h0M124.1 359.9h0M121.0 361.0h0M122.9 359.4h0M119.0 355.0h0M118.4 358.0h0M121.8 354.5h0M121.5 370.3h0M120.8 355.5h0M120.2 363.0h0M119.3 369.8h0M121.3 356.3h0M118.0 358.8h0M116.2 363.3h0M118.8 356.8h0M121.4 365.9h0M122.3 368.6h0M122.7 354.5h0M119.8 355.3h0M118.7 353.9h0M118.2 367.0h0M118.6 363.4h0M123.8 364.5h0M118.2 356.4h0M118.9 369.7h0M116.8 357.1h0M123.8 357.0h0M122.9 355.3h0M120.5 363.3h0M121.0 368.5h0M123.7 362.4h0M118.1 367.4h0M119.9 357.7h0M128.3 388.7h0M139.6 403.2h0M128.4 389.7h0M121.6 387.6h0M127.9 394.9h0M126.9 390.1h0M137.1 395.9h0M136.7 402.8h0M133.6 403.7h0M139.1 408.1h0M136.6 399.2h0M133.1 389.6h0M140.9 396.5h0M122.2 399.8h0M135.9 410.5h0M123.7 396.3h0M119.9 391.1h0M135.3 403.0h0M136.3 394.6h0M141.8 395.3h0M125.9 397.8h0M134.6 408.2h0M122.4 394.6h0M124.6 394.4h0M145.0 401.8h0M123.5 398.0h0M122.1 404.2h0M135.2 393.9h0M143.7 401.0h0M136.1 394.9h0M138.3 407.3h0M132.5 405.4h0M138.3 401.2h0M130.4 390.8h0M116.5 396.7h0M141.9 396.9h0M118.5 388.8h0M127.8 392.3h0M121.0 392.6h0M131.1 404.6h0M131.8 394.4h0M133.9 392.3h0M125.7 403.1h0M135.7 400.6h0M126.5 386.8h0M130.5 401.0h0M132.9 394.6h0M131.6 410.2h0M123.7 400.8h0M130.4 393.3h0M135.1 392.6h0M118.0 396.5h0M136.9 401.7h0M135.1 397.2h0M138.6 406.5h0M114.7 404.1h0M126.0 401.3h0M124.5 390.8h0M123.9 387.9h0M141.3 406.7h0M126.8 385.7h0M139.9 400.9h0M128.1 408.0h0M122.1 399.2h0M124.9 409.7h0M141.3 401.8h0M135.8 393.2h0M125.9 387.8h0M131.9 396.4h0M137.9 393.9h0M138.3 404.2h0M110.8 400.7h0M125.3 384.8h0M132.9 403.1h0M137.8 397.9h0M119.0 387.6h0M126.0 398.4h0M117.8 386.1h0M138.2 395.3h0M134.4 405.1h0M128.1 402.8h0" stroke="#3b2a98" stroke-width="1.9" stroke-linecap="round" fill="none" opacity="1.0"/>
<g stroke="#111" stroke-width="1.1" fill="none">
<path d="M45 273V420.2H150.3"/>
<path d="M41.3 276.3H45"/>
<path d="M41.3 303.4H45"/>
<path d="M41.3 330.5H45"/>
<path d="M41.3 357.6H45"/>
<path d="M41.3 384.7H45"/>
<path d="M41.3 411.8H45"/>
<path d="M63.1 420.2V423.7"/>
<path d="M82.5 420.2V423.7"/>
<path d="M101.9 420.2V423.7"/>
<path d="M121.3 420.2V423.7"/>
<path d="M140.7 420.2V423.7"/>
</g>
<text x="38.8" y="279.3" font-size="8.3" text-anchor="end" fill="#2b2b2b" font-weight="normal" textLength="12.6" lengthAdjust="spacingAndGlyphs" stroke="#2b2b2b" stroke-width="0.18">7.5</text>
<text x="38.8" y="306.4" font-size="8.3" text-anchor="end" fill="#2b2b2b" font-weight="normal" textLength="12.6" lengthAdjust="spacingAndGlyphs" stroke="#2b2b2b" stroke-width="0.18">5.0</text>
<text x="38.8" y="333.5" font-size="8.3" text-anchor="end" fill="#2b2b2b" font-weight="normal" textLength="12.6" lengthAdjust="spacingAndGlyphs" stroke="#2b2b2b" stroke-width="0.18">2.5</text>
<text x="38.8" y="360.6" font-size="8.3" text-anchor="end" fill="#2b2b2b" font-weight="normal" textLength="12.6" lengthAdjust="spacingAndGlyphs" stroke="#2b2b2b" stroke-width="0.18">0.0</text>
<text x="38.8" y="387.7" font-size="8.3" text-anchor="end" fill="#2b2b2b" font-weight="normal" textLength="17.3" lengthAdjust="spacingAndGlyphs" stroke="#2b2b2b" stroke-width="0.18">−2.5</text>
<text x="38.8" y="414.8" font-size="8.3" text-anchor="end" fill="#2b2b2b" font-weight="normal" textLength="17.3" lengthAdjust="spacingAndGlyphs" stroke="#2b2b2b" stroke-width="0.18">−5.0</text>
<text x="63.1" y="435.4" font-size="8.3" text-anchor="middle" fill="#2b2b2b" font-weight="normal" textLength="17" lengthAdjust="spacingAndGlyphs" stroke="#2b2b2b" stroke-width="0.18">−5.0</text>
<text x="82.5" y="435.4" font-size="8.3" text-anchor="middle" fill="#2b2b2b" font-weight="normal" textLength="16.5" lengthAdjust="spacingAndGlyphs" stroke="#2b2b2b" stroke-width="0.18">−2.5</text>
<text x="101.9" y="435.4" font-size="8.3" text-anchor="middle" fill="#2b2b2b" font-weight="normal" textLength="12.6" lengthAdjust="spacingAndGlyphs" stroke="#2b2b2b" stroke-width="0.18">0.0</text>
<text x="121.3" y="435.4" font-size="8.3" text-anchor="middle" fill="#2b2b2b" font-weight="normal" textLength="12.6" lengthAdjust="spacingAndGlyphs" stroke="#2b2b2b" stroke-width="0.18">2.5</text>
<text x="140.7" y="435.4" font-size="8.3" text-anchor="middle" fill="#2b2b2b" font-weight="normal" textLength="12.6" lengthAdjust="spacingAndGlyphs" stroke="#2b2b2b" stroke-width="0.18">5.0</text>
<text x="97.3" y="449.5" font-size="10.2" text-anchor="middle" fill="#2b2b2b" font-weight="normal" textLength="29.5" lengthAdjust="spacingAndGlyphs" stroke="#2b2b2b" stroke-width="0.18">UMAP-1</text>
<text x="0" y="0" font-size="10.6" text-anchor="middle" fill="#2b2b2b" textLength="30" lengthAdjust="spacingAndGlyphs" transform="translate(19.9 348.2) rotate(-90)">UMAP-2</text>
<circle cx="163.4" cy="346" r="2.3" fill="#3f3f90"/>
<circle cx="163.4" cy="357.9" r="2.3" fill="#d01020"/>
<text x="168.3" y="349" font-size="8.3" text-anchor="start" fill="#2b2b2b" font-weight="normal" textLength="20.7" lengthAdjust="spacingAndGlyphs" stroke="#2b2b2b" stroke-width="0.18">Large</text>
<text x="168.3" y="360.9" font-size="8.3" text-anchor="start" fill="#2b2b2b" font-weight="normal" textLength="20.7" lengthAdjust="spacingAndGlyphs" stroke="#2b2b2b" stroke-width="0.18">Small</text>
<text x="228.3" y="263.7" font-size="12.8" text-anchor="start" fill="#111" font-weight="bold" stroke="#111" stroke-width="0.55">D</text>
<text x="278.7" y="268.7" font-size="9.3" text-anchor="start" fill="#b5383f" font-weight="normal" textLength="55.3" lengthAdjust="spacingAndGlyphs" stroke="#b5383f" stroke-width="0.18">Platelet count</text>
<text x="278.7" y="279.2" font-size="9.3" text-anchor="start" fill="#b5383f" font-weight="normal" textLength="51" lengthAdjust="spacingAndGlyphs" stroke="#b5383f" stroke-width="0.18">&lt; 30 × 10<tspan font-size="6" dy="-3.2">9</tspan><tspan dy="3.2">/L</tspan></text>
<text x="377.7" y="268.7" font-size="9.3" text-anchor="start" fill="#b5383f" font-weight="normal" textLength="55.8" lengthAdjust="spacingAndGlyphs" stroke="#b5383f" stroke-width="0.18">Platelet count</text>
<text x="377.7" y="279.2" font-size="9.3" text-anchor="start" fill="#b5383f" font-weight="normal" textLength="49.6" lengthAdjust="spacingAndGlyphs" stroke="#b5383f" stroke-width="0.18">≥ 30 × 10<tspan font-size="6" dy="-3.2">9</tspan><tspan dy="3.2">/L</tspan></text>
<path d="M290.2 332.1h0M290.1 320.9h0M281.0 334.5h0M268.4 330.1h0M287.5 328.8h0M290.3 329.3h0M270.6 312.2h0M286.2 317.1h0M282.4 315.0h0M289.4 330.7h0M279.8 330.9h0M282.7 319.9h0M267.4 329.2h0M283.0 339.8h0M268.8 318.7h0M260.1 312.4h0M271.6 315.8h0M263.8 318.9h0M287.6 336.8h0M284.2 339.1h0M278.1 321.3h0M288.0 320.7h0M289.3 323.7h0M278.6 321.9h0M291.4 333.5h0M269.4 322.9h0M269.8 323.5h0M292.7 332.2h0M281.6 338.0h0M287.2 314.8h0M268.9 329.2h0M272.1 328.7h0M278.5 325.5h0M290.4 327.4h0M291.0 313.8h0M285.0 331.4h0M279.8 325.2h0M266.5 323.7h0M288.4 342.0h0M272.0 320.2h0M273.0 326.3h0M284.1 313.4h0M283.5 313.3h0M266.4 327.5h0M286.6 318.7h0M282.5 312.8h0M264.6 322.7h0M275.8 331.5h0M289.6 326.2h0M288.0 343.9h0M273.6 323.9h0M277.2 332.8h0M281.7 320.8h0M286.9 339.1h0M289.1 315.5h0M273.1 317.6h0M275.5 318.0h0M283.0 333.7h0M279.3 321.9h0M276.4 322.1h0M276.0 316.0h0M282.4 312.1h0M289.3 318.9h0M278.2 312.1h0M264.7 316.1h0M272.1 325.3h0M286.6 321.9h0M281.7 328.8h0M287.8 320.4h0M293.4 337.6h0M281.5 331.8h0M282.4 312.8h0M291.0 329.1h0M266.1 324.6h0M285.0 339.5h0M266.8 325.5h0M285.0 330.2h0M275.2 314.4h0M286.1 323.9h0M284.0 331.0h0M289.7 319.8h0M291.1 327.5h0M271.3 317.2h0M265.3 313.3h0M266.9 325.6h0M293.0 342.4h0M269.4 313.5h0M280.3 324.9h0M283.4 337.5h0M289.2 316.3h0M288.7 332.7h0M280.5 315.4h0M279.2 322.4h0M268.3 318.9h0M289.9 330.7h0M290.6 318.1h0M291.5 326.7h0M290.9 333.4h0M271.2 324.4h0M268.3 323.2h0M272.9 328.7h0M271.7 331.0h0M278.5 335.4h0M283.1 325.0h0M274.9 319.4h0M283.3 316.1h0M289.4 326.3h0M287.2 335.4h0M265.0 316.2h0M286.1 333.3h0M266.2 328.6h0M270.5 332.6h0M262.8 313.3h0M262.4 315.9h0M280.0 317.7h0M284.1 315.0h0M290.1 323.4h0M275.2 323.1h0M283.2 335.8h0M262.0 323.8h0M268.9 317.5h0M263.0 320.0h0M290.0 342.3h0M280.9 323.3h0M264.0 316.0h0M262.6 323.2h0M290.0 342.0h0M280.9 330.5h0M274.8 324.1h0M272.5 323.1h0M293.0 335.3h0M265.6 318.3h0M285.7 322.0h0M284.9 323.3h0M286.1 322.3h0M278.7 322.7h0M286.7 328.5h0M266.8 331.0h0M267.8 315.9h0M277.1 318.5h0M283.5 329.7h0M287.3 321.0h0M267.0 322.1h0M263.4 321.2h0M292.5 332.7h0M280.1 327.1h0M270.8 325.1h0M276.2 323.8h0M281.2 317.3h0M293.9 344.0h0M286.7 335.9h0M286.9 323.4h0M288.1 344.3h0M282.0 335.9h0M267.4 326.1h0M284.7 332.6h0M278.7 316.7h0M279.5 334.5h0M261.4 316.7h0M281.9 332.1h0M284.5 339.6h0M269.5 316.0h0M266.8 324.4h0M275.7 324.0h0M289.9 315.9h0M268.0 312.3h0M276.6 334.3h0M276.9 315.8h0M283.2 326.7h0M272.9 313.9h0M273.1 313.0h0M279.3 331.5h0M279.5 312.8h0M270.3 328.3h0M284.4 323.8h0M269.6 326.0h0M279.6 315.9h0M267.6 330.5h0M292.1 329.9h0M289.4 316.3h0M268.2 316.3h0M265.2 313.4h0M290.1 316.8h0M261.6 321.8h0M286.5 330.7h0M294.4 344.3h0M279.9 317.6h0M286.0 312.2h0M293.4 339.6h0M283.3 316.3h0M288.0 339.5h0M286.1 319.2h0M271.1 328.1h0M265.0 312.1h0M282.8 337.9h0M274.0 316.8h0M273.6 316.3h0M281.5 314.3h0M268.9 313.9h0M283.6 316.3h0M260.3 315.5h0M290.8 326.0h0M270.5 313.8h0M285.3 331.4h0M284.7 315.4h0M272.8 323.2h0M278.0 329.5h0M285.0 327.7h0M276.0 318.3h0M273.6 320.1h0M276.3 320.0h0M286.1 316.7h0M289.0 342.9h0M266.3 318.3h0M279.1 313.3h0M277.4 329.2h0M287.4 318.6h0M286.0 314.7h0M277.7 326.7h0M272.4 328.9h0M283.1 312.1h0M274.3 322.5h0M287.1 343.5h0M292.3 331.2h0M290.8 343.9h0M274.5 316.3h0M276.8 317.4h0M269.6 318.3h0M289.3 345.8h0M288.7 332.6h0M290.7 344.0h0M274.2 325.2h0M269.7 318.7h0M288.4 323.2h0M280.4 313.4h0M281.3 315.4h0M277.0 320.6h0M287.0 331.9h0M291.6 326.6h0M284.1 317.3h0M282.4 325.5h0M262.6 316.5h0M273.3 317.2h0M286.4 342.7h0M275.4 318.4h0M270.2 321.9h0M290.4 312.9h0M287.0 327.3h0M281.7 328.7h0M276.4 322.4h0M281.6 331.3h0M272.6 320.5h0M284.2 328.8h0M266.4 315.6h0M290.5 340.4h0M290.2 330.9h0M287.7 339.2h0M260.3 318.6h0M279.2 326.6h0M271.0 314.3h0M293.8 343.8h0M278.6 315.6h0M271.9 318.2h0M267.3 324.1h0M273.8 317.9h0M280.4 329.0h0M269.5 320.9h0M277.3 322.7h0M290.2 344.5h0M280.1 323.7h0M286.9 317.1h0M270.8 323.3h0M287.6 314.5h0M287.2 333.8h0M273.8 313.1h0M276.5 312.1h0M291.3 325.9h0M277.4 316.6h0M267.6 328.3h0M284.9 332.8h0M270.7 326.2h0M278.0 319.2h0M276.4 332.0h0M279.2 334.5h0M283.2 338.5h0M262.1 323.1h0M291.0 324.8h0M287.2 312.5h0M268.1 330.9h0M291.3 337.6h0M291.1 345.7h0M266.3 315.8h0M283.9 317.6h0M288.3 323.0h0M288.1 336.3h0M287.4 329.8h0M278.4 319.0h0M261.7 314.2h0M288.2 342.3h0M275.8 315.8h0M291.9 331.0h0M280.1 337.3h0M279.3 333.4h0M271.4 331.9h0M284.6 329.2h0M286.1 330.6h0M266.4 322.8h0M270.3 324.8h0M271.3 318.8h0M263.7 320.5h0M286.5 317.0h0M270.0 331.8h0M278.4 316.8h0M290.5 320.9h0M284.0 338.3h0M276.6 319.9h0M267.9 315.5h0M286.3 323.0h0M270.7 331.0h0M278.5 314.7h0M291.8 340.1h0M285.6 315.0h0M279.0 316.9h0M276.8 327.5h0M285.2 331.6h0M266.5 330.4h0M266.3 331.8h0M284.3 314.9h0M280.9 318.8h0M282.3 318.1h0M281.1 321.3h0M260.2 312.3h0M286.6 317.6h0M293.6 343.1h0M260.7 320.4h0M285.2 325.6h0M263.7 313.1h0M291.1 344.9h0M269.7 328.8h0M292.0 339.3h0M278.1 323.8h0M275.8 328.0h0M288.9 322.6h0M287.7 335.9h0M274.8 316.9h0M262.6 324.5h0M285.5 322.2h0M272.4 313.3h0M281.1 313.7h0M264.5 312.3h0M290.6 341.3h0M262.8 313.3h0M283.5 322.4h0M277.4 322.3h0M275.2 330.1h0M281.1 317.9h0M284.3 327.8h0M282.8 324.2h0M290.6 316.8h0M269.6 315.3h0" stroke="#e47c7c" stroke-width="0.95" stroke-linecap="round" fill="none" opacity="0.9"/>
<path d="M275.0 304.2h0M283.8 310.6h0M274.8 315.7h0M288.4 311.4h0M273.0 312.9h0M274.9 304.9h0M288.3 313.4h0M276.0 315.4h0M269.6 306.5h0M284.1 316.2h0M276.9 310.5h0M278.7 308.2h0M272.6 303.1h0M277.8 314.9h0M270.3 313.2h0M282.4 313.0h0M264.6 309.1h0M278.3 316.1h0M265.2 314.7h0M264.0 310.6h0M268.7 313.1h0M272.7 306.4h0M276.0 316.3h0M286.6 310.6h0M281.9 316.8h0M281.7 311.9h0M283.6 303.8h0M277.3 306.2h0M275.0 303.4h0M268.2 310.3h0M290.2 312.0h0M284.9 308.2h0M262.9 306.9h0M280.6 311.0h0M262.6 305.5h0M281.0 317.0h0M273.2 310.3h0M287.7 313.8h0M280.6 310.7h0M285.1 307.2h0M280.7 303.6h0M289.1 309.4h0M273.6 303.3h0M281.6 311.1h0M276.0 307.7h0M261.8 306.2h0M283.7 313.0h0M284.0 304.2h0M272.1 309.5h0M259.7 311.1h0M264.3 310.0h0M283.5 303.5h0M289.0 314.0h0M270.6 303.5h0M281.0 308.9h0M290.9 309.5h0M278.6 307.4h0M263.7 308.6h0M266.0 310.1h0M267.0 313.6h0M286.4 312.8h0M268.1 302.9h0M283.0 308.4h0M290.2 303.9h0M278.7 315.7h0M268.9 308.3h0M267.3 302.3h0M289.8 308.4h0M285.4 302.1h0M287.8 309.8h0M285.6 306.9h0M266.5 309.4h0M272.1 307.3h0M264.7 302.5h0M280.3 311.0h0M261.3 307.0h0M287.7 307.8h0M279.8 306.0h0M279.6 310.5h0M277.8 302.9h0M266.4 306.5h0M275.6 307.0h0M271.0 309.9h0M277.0 307.7h0M270.1 311.2h0M279.0 313.8h0M279.1 303.9h0M270.4 312.2h0M281.8 316.5h0M282.4 311.6h0M278.5 306.3h0M277.4 307.9h0M269.7 305.5h0M268.8 310.2h0M267.6 315.6h0M266.5 310.2h0M281.1 311.5h0M288.0 313.7h0M274.3 308.3h0M271.7 309.3h0M285.4 302.5h0M268.7 313.2h0M270.3 316.1h0M266.6 314.4h0M286.5 307.2h0M277.1 314.4h0M289.2 311.2h0M290.1 305.3h0M273.6 311.8h0M278.6 303.6h0M277.4 316.7h0M276.3 304.9h0M272.4 303.3h0M268.1 311.2h0M264.3 309.9h0M274.5 312.6h0M267.9 305.0h0M273.9 304.9h0M276.9 308.3h0M286.2 305.0h0M275.9 306.5h0M263.4 304.2h0M276.9 310.3h0M278.8 312.9h0M289.0 306.2h0M261.7 312.3h0M263.3 309.9h0M263.0 304.1h0M281.9 314.6h0M263.8 306.7h0M267.0 306.1h0M278.1 302.2h0M284.8 315.1h0M289.6 312.4h0M263.2 306.6h0M278.4 313.4h0M283.6 314.0h0M290.0 304.9h0M270.7 309.6h0M278.5 310.0h0M267.0 307.0h0M280.6 303.2h0M285.5 303.4h0M272.6 316.0h0M264.9 310.3h0M265.7 303.8h0M278.6 316.4h0M272.1 316.7h0M269.4 312.9h0M286.8 304.8h0M282.4 306.5h0M271.7 304.3h0M287.7 306.6h0M271.8 315.5h0M272.0 311.2h0M277.8 314.6h0M273.4 316.2h0M275.6 316.0h0M264.1 303.4h0M283.7 308.6h0M267.9 315.5h0M278.2 305.3h0M277.5 311.6h0M260.6 310.4h0M278.1 305.0h0M287.7 308.0h0M276.9 307.1h0M271.2 309.5h0M267.2 308.5h0M288.9 304.3h0M283.7 316.3h0M280.4 317.0h0M284.0 312.9h0M273.8 313.6h0M289.2 304.8h0M259.9 312.2h0M263.2 308.9h0M262.7 303.8h0M265.6 304.6h0M281.4 313.2h0M272.8 305.3h0M265.2 303.3h0M261.9 306.5h0M276.7 303.1h0M277.0 310.0h0M268.8 303.3h0M271.9 315.6h0M282.6 313.4h0M268.7 304.7h0M283.7 303.4h0M273.8 307.8h0M265.1 302.8h0M268.7 311.2h0M275.0 315.0h0M279.4 317.4h0M266.2 306.9h0M270.3 304.3h0M268.0 310.0h0M271.4 306.7h0M283.9 313.7h0M288.5 310.7h0M277.6 311.5h0M288.6 307.3h0M286.3 310.1h0M283.6 314.5h0M268.3 311.5h0M273.5 304.6h0M269.8 304.1h0M281.0 309.6h0M278.5 304.0h0M275.8 309.2h0M277.3 309.6h0M262.7 302.8h0M270.2 303.9h0M285.7 302.1h0M265.0 305.4h0M261.5 308.2h0M275.9 305.2h0M269.8 313.3h0M280.8 314.7h0M281.4 307.4h0M263.4 302.3h0M280.3 314.7h0M281.5 311.7h0M272.1 302.8h0M273.4 303.8h0M268.4 314.2h0M277.8 316.3h0M286.5 313.5h0M288.9 304.4h0M282.7 312.1h0M276.6 303.9h0M275.0 316.5h0M281.8 316.9h0M283.9 303.1h0M271.8 315.5h0M282.1 309.8h0M273.6 308.3h0M270.8 307.7h0M274.1 311.5h0M263.9 304.7h0M279.2 311.2h0M274.7 310.3h0M268.5 310.5h0M268.6 311.6h0M268.8 308.8h0M260.5 307.4h0M273.5 311.9h0M283.7 302.8h0M269.3 305.9h0M273.8 316.5h0M288.8 313.6h0M288.9 310.0h0M278.8 304.2h0M282.2 306.2h0M276.7 305.7h0M275.4 308.3h0M287.1 310.4h0M283.5 306.1h0M275.1 310.4h0M268.9 308.6h0M269.6 312.9h0M277.6 313.4h0M261.9 305.5h0M288.7 304.2h0M264.6 310.9h0M273.7 316.0h0M286.4 311.3h0M273.4 309.1h0M290.6 303.8h0M274.4 314.2h0M280.5 303.5h0M282.9 304.8h0M287.7 304.3h0M281.1 314.5h0M275.9 303.1h0M260.2 312.3h0M283.3 307.5h0M283.5 308.1h0M273.6 313.0h0M281.0 312.4h0M263.4 313.0h0M284.0 314.0h0M279.2 311.5h0M290.1 306.1h0M280.0 314.0h0M274.1 306.6h0M270.3 304.5h0M284.7 310.3h0M291.0 305.4h0M290.4 312.4h0M276.6 303.7h0M261.1 310.0h0M262.9 312.1h0M279.7 302.8h0M286.5 312.9h0M265.9 308.0h0M280.6 316.3h0M271.8 314.9h0M278.8 315.1h0M286.3 307.6h0M286.2 307.6h0M285.7 307.3h0M276.8 312.0h0M262.8 303.3h0M270.2 308.9h0M279.5 317.4h0M289.1 304.0h0M281.7 303.9h0M261.1 303.6h0M287.6 313.3h0M275.6 311.2h0M279.0 303.7h0M274.2 316.5h0M261.3 310.6h0M264.7 303.2h0M261.0 308.8h0M290.1 304.3h0M273.1 306.9h0M270.7 305.5h0M284.4 309.4h0M281.1 310.8h0M290.7 302.8h0M283.2 315.1h0M279.9 317.5h0M260.7 311.8h0M282.9 303.2h0M276.1 315.1h0M280.5 308.1h0M266.3 306.0h0M285.3 314.1h0M290.3 311.5h0M271.2 303.4h0M259.4 308.3h0M272.8 303.4h0M282.9 307.7h0M287.9 314.2h0M280.9 312.9h0M267.7 310.9h0M264.9 303.8h0M282.2 309.1h0M269.1 314.5h0M279.5 312.8h0M287.9 305.0h0M273.4 303.1h0M282.5 314.0h0M260.0 307.5h0M278.4 305.9h0M281.4 316.9h0M287.0 308.2h0M259.7 307.9h0M267.4 313.3h0M269.6 315.6h0M288.7 310.7h0M286.4 304.1h0M282.3 303.5h0M269.2 306.6h0M264.0 312.3h0M290.6 310.1h0M289.2 306.2h0M263.1 306.5h0M285.2 307.2h0M270.1 315.9h0M278.5 308.3h0M286.9 304.3h0M265.4 311.9h0M274.8 313.0h0M285.0 313.0h0M264.6 313.6h0M266.5 303.5h0M268.5 308.2h0M275.1 303.9h0M279.3 308.1h0M290.7 309.7h0M285.6 314.9h0M278.4 312.6h0M261.6 305.4h0M269.1 304.8h0M267.2 303.6h0M277.8 316.0h0" stroke="#e26a6a" stroke-width="0.95" stroke-linecap="round" fill="none" opacity="1.0"/>
<path d="M281.1 298.2h0M285.0 301.9h0M290.0 304.0h0M287.5 304.6h0M285.5 291.3h0M277.8 287.5h0M275.5 301.7h0M272.9 293.0h0M272.3 292.5h0M265.0 298.4h0M276.8 297.8h0M272.1 303.2h0M284.7 296.8h0M273.7 302.3h0M275.2 294.2h0M278.9 287.6h0M276.9 288.0h0M288.7 301.1h0M281.6 296.6h0M274.4 294.0h0M269.3 294.1h0M272.9 297.5h0M290.8 299.5h0M286.0 296.8h0M284.3 298.2h0M266.7 299.2h0M273.2 294.5h0M273.4 292.4h0M268.3 299.4h0M278.3 300.7h0M285.2 299.4h0M265.1 301.1h0M281.0 293.0h0M278.8 295.8h0M270.3 296.4h0M275.2 297.5h0M282.2 300.8h0M272.2 300.4h0M273.1 300.9h0M277.2 297.1h0M277.0 292.9h0M264.7 300.9h0M266.8 300.9h0M282.7 292.6h0M276.7 293.1h0M276.8 287.2h0M272.0 299.5h0M280.4 295.1h0M280.4 299.4h0M279.1 301.0h0M271.4 290.7h0M275.9 301.1h0M276.0 303.1h0M267.7 297.1h0M271.0 296.5h0M284.4 292.6h0M267.8 294.8h0M271.5 290.5h0M276.2 301.0h0M278.7 297.4h0M269.3 296.4h0M284.0 292.6h0M280.1 292.8h0M284.3 297.1h0M274.8 288.2h0M276.2 295.2h0M268.7 296.2h0M289.6 302.7h0M286.0 292.1h0M269.5 295.3h0M290.5 297.1h0M284.0 299.1h0M276.5 289.5h0M272.2 303.0h0M271.1 299.4h0M280.0 291.8h0M283.4 299.5h0M287.2 299.3h0M265.5 301.0h0M289.7 302.7h0M281.4 288.8h0M287.3 295.6h0M283.4 303.6h0M289.2 303.0h0M287.0 297.9h0M279.4 291.3h0M287.3 303.4h0M269.0 299.3h0M282.7 301.8h0M287.2 291.4h0M273.8 288.6h0M277.2 302.4h0M271.3 302.8h0M270.4 295.2h0M281.5 301.5h0M274.0 300.5h0M285.3 301.1h0M270.5 302.5h0M284.4 297.5h0M272.4 299.9h0M264.9 300.2h0M274.7 300.6h0M279.5 293.1h0M271.9 295.8h0M280.9 290.1h0M288.7 296.3h0M272.0 289.8h0M270.7 293.8h0M290.0 303.8h0M288.6 304.0h0M280.9 294.1h0M267.7 298.6h0M290.0 303.9h0M283.2 302.3h0M287.4 296.8h0M287.5 293.0h0M286.1 294.5h0M269.0 301.8h0M285.2 298.3h0M276.2 291.4h0M286.6 298.8h0M281.8 301.7h0M263.7 301.2h0M286.9 289.1h0M270.3 296.4h0M276.8 287.6h0M287.4 302.4h0M275.2 301.2h0M267.2 301.4h0M285.6 300.0h0M281.5 301.9h0M276.8 299.2h0M275.8 297.3h0M271.0 290.2h0M287.4 296.7h0M272.0 292.0h0M272.4 296.1h0M267.4 294.8h0M272.8 293.7h0M287.8 292.1h0M283.9 304.0h0M273.7 293.0h0M281.9 303.9h0M277.9 298.5h0M275.7 298.6h0M273.7 300.2h0M286.5 291.1h0M277.7 288.4h0M272.0 297.2h0M286.2 290.1h0M285.4 298.7h0M277.5 289.2h0M284.7 299.0h0M288.1 293.7h0M269.1 300.8h0M272.5 302.4h0M270.8 302.3h0M272.9 297.4h0M271.8 298.0h0M272.9 297.4h0M285.5 295.6h0M283.5 293.8h0M268.9 292.7h0M273.5 295.5h0M276.7 301.2h0M285.2 293.9h0M284.5 297.5h0M287.8 298.3h0M277.2 303.3h0M290.4 297.3h0M268.7 295.1h0M279.9 290.6h0M282.1 296.2h0M275.6 297.2h0M284.5 304.3h0M273.8 295.8h0M277.6 288.4h0M270.2 298.6h0M272.4 295.9h0M274.5 291.4h0M281.1 295.7h0M272.0 299.1h0M272.6 302.0h0M286.7 290.8h0M277.5 293.2h0M289.4 298.0h0M283.5 295.6h0M282.7 294.4h0M277.7 298.5h0M285.2 303.9h0M280.9 301.8h0M275.9 291.0h0M278.3 292.1h0M286.1 304.2h0M274.3 301.4h0M280.3 290.7h0M277.6 288.8h0M268.1 302.9h0M277.3 302.5h0M275.9 292.2h0M276.7 293.2h0M277.2 293.7h0M266.4 297.8h0M287.7 296.6h0M272.5 295.7h0M271.5 293.6h0M284.7 294.1h0M271.8 289.8h0M285.1 289.6h0M278.8 295.8h0M283.6 296.2h0M276.5 289.5h0M278.2 296.0h0M276.9 299.8h0M273.1 298.4h0M270.3 299.9h0M285.3 296.4h0M288.7 294.1h0M273.5 300.6h0M284.6 294.5h0M275.4 297.7h0M280.1 293.5h0M290.8 304.7h0M280.3 296.8h0M265.4 301.2h0M286.6 290.9h0M267.7 302.6h0M281.9 294.7h0M272.6 300.2h0M280.9 293.7h0M270.2 290.7h0M289.1 300.0h0M272.7 292.1h0M285.5 301.7h0M271.7 291.1h0M270.4 301.5h0M276.4 299.0h0M282.0 301.3h0M278.2 287.0h0M281.5 291.0h0M286.9 297.3h0M282.3 299.2h0M286.8 301.6h0M288.7 301.8h0M270.1 300.3h0M272.9 300.4h0M278.6 297.1h0M287.3 303.3h0M272.8 294.9h0M279.1 299.4h0M283.2 292.6h0M280.9 296.8h0M276.5 296.1h0M285.8 294.0h0M284.4 297.4h0M275.8 289.9h0M287.9 296.9h0M274.7 297.0h0M275.1 295.6h0M279.4 299.9h0M274.0 301.9h0M279.6 299.8h0M277.0 303.6h0M281.9 304.1h0M285.9 296.7h0M265.0 300.9h0M277.1 293.3h0M282.9 292.4h0M289.7 302.9h0M275.8 290.7h0M279.7 290.6h0M277.7 300.3h0M274.8 303.2h0M276.5 291.3h0M288.9 301.2h0M272.9 296.4h0M273.3 290.9h0M269.7 298.5h0M288.0 295.9h0M289.5 299.9h0M288.1 296.2h0M286.5 304.3h0M274.7 302.9h0M288.4 292.3h0M284.3 300.9h0M281.7 290.8h0M270.5 296.2h0M272.9 293.9h0M270.8 298.8h0M270.9 303.0h0M287.4 295.0h0M271.3 298.6h0M287.9 301.6h0M270.8 293.8h0M284.5 291.9h0M286.0 291.8h0M285.8 300.5h0M285.2 299.2h0M274.8 289.0h0M276.8 298.6h0M287.3 299.3h0M278.6 296.3h0M280.2 287.5h0M275.0 302.5h0M269.5 292.9h0M270.1 298.6h0M273.8 299.1h0M283.7 300.7h0M267.6 299.8h0M275.6 302.9h0M268.5 302.0h0M288.6 297.7h0M273.3 302.8h0M267.8 294.2h0M273.3 296.3h0M276.8 298.5h0M285.0 299.9h0M280.6 298.4h0M273.9 299.1h0M275.6 292.3h0M271.8 294.4h0M266.0 299.7h0M267.7 297.2h0M289.0 301.5h0M285.9 289.9h0M269.3 291.6h0M269.0 295.7h0M271.0 299.9h0M271.4 289.8h0M286.1 300.0h0M285.1 302.8h0M275.7 294.5h0M285.2 295.6h0M269.8 297.9h0M275.3 300.6h0M287.4 301.2h0M282.8 290.4h0M268.0 302.5h0M270.5 299.2h0M281.6 298.2h0M286.1 293.7h0M271.4 295.7h0M264.0 299.7h0M284.6 304.4h0M271.8 299.3h0M289.3 302.4h0M278.2 296.9h0M279.1 289.9h0M274.0 295.8h0M285.0 296.9h0M276.1 293.9h0M286.0 290.8h0M279.6 303.9h0M279.9 291.0h0M269.0 301.4h0M275.0 288.4h0M283.4 300.2h0M273.4 295.6h0M275.1 293.0h0M280.5 294.9h0M271.9 295.5h0M278.2 287.3h0M272.0 291.2h0M270.8 293.1h0M270.7 293.3h0M282.2 290.8h0M271.2 299.9h0M281.3 292.2h0M270.9 299.7h0M273.5 301.4h0M281.9 290.8h0M278.8 303.1h0M280.8 302.7h0M272.5 291.8h0M278.2 293.2h0M277.7 291.2h0M268.8 297.8h0M265.5 299.3h0M287.0 296.1h0M276.1 292.6h0M277.5 300.9h0M273.1 289.0h0M268.1 299.5h0M269.2 299.7h0M273.9 291.7h0M283.1 292.4h0M269.2 294.8h0M274.9 288.1h0M273.2 288.9h0M281.1 302.2h0M270.3 301.4h0M287.4 300.3h0M267.5 298.1h0M286.4 291.8h0M270.6 295.8h0M274.4 301.2h0M268.4 302.5h0M279.5 293.8h0M284.6 304.3h0M288.0 304.7h0M275.4 300.8h0M286.4 292.0h0M275.7 303.5h0M284.9 292.1h0M284.7 288.6h0M274.0 297.1h0M279.1 297.9h0M281.5 289.6h0M278.2 287.2h0M268.7 295.7h0M273.5 299.2h0M266.8 296.1h0M274.8 290.1h0M288.4 303.7h0M288.2 292.9h0M271.3 301.4h0M278.5 297.4h0M282.9 296.1h0M286.0 296.8h0M276.5 303.2h0M276.6 299.3h0M277.9 303.7h0M267.7 302.6h0M271.0 291.1h0M280.0 299.6h0M270.2 301.8h0M275.7 295.7h0M273.2 294.9h0M287.4 293.9h0M281.2 292.0h0M284.5 296.5h0M281.6 300.0h0M279.0 299.1h0M275.2 302.1h0M269.3 300.9h0M286.2 300.1h0M285.6 290.6h0M282.5 301.7h0M283.0 297.5h0M270.5 294.9h0M266.1 297.2h0M282.2 296.0h0M280.8 287.3h0M284.2 297.9h0M287.1 298.7h0M284.3 291.7h0M289.3 297.3h0M278.3 293.6h0M286.6 298.2h0M278.5 297.8h0M270.9 294.5h0M283.6 301.5h0M272.6 292.2h0M277.9 295.4h0M274.3 292.1h0M280.5 288.5h0M268.0 293.4h0M284.4 295.6h0M267.3 296.0h0M282.0 302.0h0M275.2 290.4h0M277.8 299.4h0M269.6 291.6h0M268.3 302.1h0M279.1 291.6h0M273.1 291.2h0M284.5 292.3h0M270.4 299.5h0M288.7 292.1h0M285.0 292.4h0M267.9 299.4h0M272.7 294.9h0M287.0 289.5h0M269.3 297.9h0M269.6 294.9h0M269.1 298.3h0M285.1 303.8h0M271.4 301.1h0M271.6 303.1h0M289.8 299.6h0M274.5 292.9h0M268.2 302.8h0M289.1 299.6h0M288.7 292.7h0M291.0 297.5h0M286.4 298.5h0M274.5 295.5h0M269.8 293.7h0M289.9 303.5h0M280.2 299.6h0M272.1 298.4h0M274.3 300.2h0M284.5 289.1h0M284.9 290.4h0M285.4 293.0h0M282.3 287.8h0M277.0 293.6h0M285.5 301.6h0M279.3 297.9h0M290.2 294.7h0M285.6 295.4h0M283.8 289.7h0M284.4 303.5h0M282.5 300.0h0M288.4 303.7h0M273.3 289.7h0M273.6 288.4h0M288.3 294.4h0M275.8 297.7h0M273.4 299.6h0M287.9 296.4h0M272.1 301.0h0M276.8 302.4h0M279.4 295.0h0M280.5 303.7h0M273.5 290.0h0M278.1 289.0h0M269.8 298.7h0M275.6 289.8h0M286.6 298.3h0M278.6 295.3h0M290.1 304.8h0M289.5 298.5h0M281.4 303.6h0M269.5 295.6h0M278.9 292.5h0M279.5 297.3h0M288.9 295.1h0M274.4 296.7h0M287.3 300.5h0M270.3 297.9h0M267.2 296.5h0M277.7 299.0h0M265.6 299.9h0M269.6 292.5h0M288.0 299.4h0M266.1 297.7h0M271.3 301.3h0M265.9 299.9h0M274.2 289.4h0M270.1 301.3h0M289.5 304.4h0M280.6 293.7h0M264.1 299.8h0M278.0 290.5h0M278.0 288.0h0M289.4 302.2h0M268.0 295.5h0M289.7 303.2h0M280.9 288.6h0M276.8 296.7h0M278.1 291.8h0M269.2 292.1h0M278.6 298.7h0M287.3 303.4h0M269.1 297.8h0M286.1 288.7h0M278.2 303.7h0M274.5 298.3h0M284.5 293.2h0M266.0 299.3h0M276.5 296.7h0M267.0 296.4h0M275.3 298.6h0M278.2 300.8h0M289.3 293.8h0M286.4 293.2h0M270.2 295.9h0M277.0 289.0h0M280.1 302.1h0M268.0 297.9h0M278.1 290.4h0M287.0 289.0h0M287.9 291.5h0M282.5 298.8h0M281.9 300.8h0M270.6 294.7h0M279.6 299.7h0M274.4 293.1h0M280.5 288.2h0M278.1 293.9h0M282.1 292.6h0M264.6 299.4h0M277.1 289.1h0M278.2 295.9h0M279.2 288.5h0M273.9 302.5h0M277.8 289.2h0M267.1 301.7h0M269.5 297.5h0M272.8 292.1h0M273.3 298.0h0M273.1 292.7h0M273.1 302.2h0M290.3 300.6h0M284.3 293.5h0M283.4 298.9h0M282.8 292.4h0M281.0 302.3h0M283.4 289.1h0" stroke="#e05858" stroke-width="0.95" stroke-linecap="round" fill="none" opacity="1.0"/>
<path d="M324.2 316.9h0M313.2 333.3h0M345.6 313.8h0M324.7 323.3h0M326.7 319.2h0M308.5 317.6h0M343.1 326.3h0M344.7 305.8h0M305.2 330.1h0M336.9 327.4h0M315.2 318.6h0M339.8 320.7h0M340.0 346.2h0M332.0 317.5h0M320.5 310.2h0M310.9 320.0h0M323.5 320.2h0M329.4 324.5h0M314.9 321.5h0M320.8 318.2h0M317.3 325.0h0M340.4 339.7h0M340.6 325.1h0M344.8 307.5h0M339.8 333.9h0M315.4 331.1h0M331.0 320.2h0M315.7 339.2h0M314.0 327.6h0M314.8 319.1h0M337.8 321.7h0M341.0 347.0h0M338.4 313.5h0M311.8 338.3h0M311.9 323.3h0M344.1 333.4h0M342.2 345.6h0M324.7 310.3h0M314.9 312.8h0M331.6 338.4h0M337.8 326.8h0M306.8 337.9h0M329.6 310.3h0M338.8 335.7h0M327.0 316.6h0M320.4 329.2h0M332.4 328.0h0M310.1 334.2h0M323.7 333.7h0M315.0 337.8h0M309.9 319.9h0M310.4 340.7h0M328.2 340.3h0M332.6 312.8h0M334.6 339.9h0M340.3 337.2h0M318.6 311.4h0M336.1 339.5h0M304.1 318.7h0M324.9 321.6h0M335.5 333.5h0M321.8 311.7h0M300.6 321.0h0M338.3 330.7h0M312.3 317.3h0M319.4 323.3h0M329.0 312.4h0M328.5 332.4h0M340.4 340.0h0M336.0 330.2h0M330.6 330.9h0M321.8 322.1h0M342.2 325.9h0M315.4 322.2h0M323.3 331.4h0M335.4 335.6h0M343.3 320.1h0M313.6 341.3h0M343.2 336.4h0M313.4 327.0h0M326.7 316.8h0M327.5 330.8h0M321.0 316.0h0M339.9 308.9h0M322.2 331.5h0M344.7 332.8h0M302.3 318.8h0M306.5 342.8h0M302.2 323.8h0M340.3 311.0h0M316.0 331.5h0M340.7 314.4h0M326.8 332.7h0M321.9 332.0h0M325.9 331.6h0M330.1 321.2h0M328.0 321.8h0M334.7 327.1h0M302.5 321.2h0M303.6 324.0h0M334.5 322.9h0M319.4 315.8h0M338.9 314.4h0M344.7 334.4h0M310.8 323.1h0M327.4 312.0h0M342.5 311.1h0M332.0 326.8h0M339.5 308.8h0M306.5 329.2h0M311.9 315.7h0M314.9 338.0h0M325.0 311.3h0M330.3 311.9h0M318.2 326.0h0M338.7 309.7h0M316.5 333.4h0M312.9 332.9h0M331.8 324.7h0M329.1 339.6h0M330.6 353.9h0M334.2 331.8h0M335.0 322.6h0M334.2 352.9h0M333.4 351.1h0M327.3 351.4h0M332.8 326.5h0M332.4 336.7h0M332.0 348.1h0M333.2 324.9h0M329.4 329.0h0M333.6 339.9h0M331.7 327.5h0M337.7 323.5h0M338.8 329.3h0M338.9 343.9h0M332.9 339.2h0M340.5 344.0h0M337.7 334.5h0M330.2 351.1h0M332.0 346.7h0M330.2 349.2h0M331.0 331.8h0M332.4 347.9h0M334.0 347.0h0M338.7 322.3h0M335.2 328.3h0M338.4 345.1h0M333.1 346.0h0M334.5 352.9h0M333.1 347.9h0M332.7 355.1h0M334.6 328.5h0M328.9 345.4h0M336.8 351.5h0M334.8 346.3h0M335.8 357.9h0M339.4 319.6h0M333.5 326.0h0M336.4 330.7h0M297.7 333.8h0M299.7 330.2h0M298.9 331.4h0M295.2 342.0h0M302.0 337.4h0M306.2 342.7h0M302.9 350.9h0M304.6 352.4h0M299.3 341.3h0M294.2 326.1h0M303.0 347.5h0M293.5 323.8h0M299.8 331.5h0M301.6 338.1h0M299.1 332.1h0M306.8 351.1h0M298.8 330.7h0M300.3 326.8h0M307.5 346.6h0M303.7 341.0h0M300.9 338.7h0M297.4 337.2h0M299.6 345.3h0M298.9 332.1h0M301.3 341.9h0M304.5 342.8h0M303.9 354.0h0M307.7 339.2h0M301.2 344.6h0M295.0 322.0h0M304.2 353.4h0M297.4 322.0h0M295.2 328.1h0M301.1 342.7h0M296.7 323.5h0" stroke="#e0a8c8" stroke-width="0.95" stroke-linecap="round" fill="none" opacity="0.75"/>
<path d="M302.3 336.0h0M301.7 332.6h0M301.0 332.8h0M295.9 324.5h0M302.1 332.7h0M297.8 327.9h0M300.0 332.9h0M300.2 333.5h0M297.1 328.4h0M296.3 326.0h0M300.3 333.0h0M300.8 331.6h0M299.4 330.4h0M297.9 328.2h0M297.3 327.1h0M303.1 332.7h0M298.6 327.6h0M300.4 331.5h0M300.6 334.5h0M296.9 327.2h0M299.1 332.5h0M298.9 330.2h0M297.5 326.0h0M296.9 327.1h0M302.4 332.7h0M301.2 332.3h0M298.3 329.2h0M297.1 328.5h0M301.3 333.8h0M300.8 331.8h0M302.6 335.3h0M301.6 339.7h0M302.2 342.6h0M303.4 346.4h0M306.1 350.8h0M302.3 348.4h0M304.8 348.7h0M302.0 334.6h0M303.2 333.1h0M301.9 347.9h0M301.6 335.7h0M304.4 349.4h0M301.4 339.3h0M302.0 341.5h0M304.4 344.3h0M303.0 345.2h0M304.1 343.2h0M303.7 337.4h0M302.7 348.8h0M301.7 336.4h0M304.2 347.3h0M302.6 345.1h0M304.9 343.7h0M303.4 342.8h0M304.3 338.7h0M306.5 346.7h0M303.6 342.3h0M305.2 345.6h0M303.6 339.3h0M301.7 341.8h0M303.2 350.1h0M302.7 337.7h0M302.0 333.5h0M299.3 334.3h0M305.1 344.9h0M303.4 338.0h0M302.0 337.1h0M306.4 350.4h0M304.0 338.7h0M302.1 344.4h0M300.3 342.9h0M304.2 343.1h0M303.7 341.9h0M304.6 346.5h0M302.7 349.8h0M303.1 343.7h0M303.3 349.8h0M303.4 343.9h0M303.1 351.0h0M302.4 348.8h0M303.5 349.6h0M301.9 336.5h0M306.2 351.7h0M303.7 344.6h0M302.3 339.8h0M300.1 334.5h0M302.5 340.8h0M302.3 335.9h0M301.5 336.9h0M305.2 349.4h0M303.1 349.5h0M303.8 344.6h0M301.5 347.7h0M302.3 343.1h0M301.4 344.5h0M302.5 337.3h0M303.0 347.6h0M304.3 350.7h0M303.0 338.9h0M303.8 349.6h0M314.1 333.6h0M317.3 334.1h0M311.2 335.3h0M314.4 333.4h0M303.6 335.1h0M317.4 337.1h0M306.3 334.4h0M309.5 334.7h0M317.8 335.1h0M310.2 334.2h0M307.5 336.3h0M314.8 334.1h0M305.5 334.9h0M304.6 336.8h0M310.3 336.4h0M318.1 335.5h0M306.5 331.4h0M311.5 336.8h0M318.2 335.3h0M309.1 337.6h0M315.9 335.3h0M302.3 332.5h0M312.4 334.6h0M311.5 333.5h0M314.8 336.4h0M333.4 348.7h0M334.3 322.7h0M335.7 333.8h0M335.0 331.6h0M333.0 342.0h0M334.6 343.7h0M336.1 330.2h0M334.3 325.8h0M333.9 333.7h0M332.9 344.0h0M334.3 346.3h0M334.5 345.3h0M333.7 344.5h0M334.7 326.8h0M332.3 340.2h0M333.9 343.9h0M334.3 337.0h0M335.1 336.2h0M334.7 342.7h0M332.0 331.5h0M334.3 346.4h0M334.1 342.9h0M333.9 333.5h0M334.8 326.5h0M333.8 331.3h0M335.4 335.8h0M333.6 330.7h0M336.0 323.3h0M335.0 349.8h0M334.1 332.1h0M333.8 343.7h0M332.9 329.5h0M333.9 338.2h0M333.0 344.9h0M333.8 329.5h0M335.7 332.7h0M334.1 327.7h0M334.7 343.5h0M333.3 335.7h0M333.4 349.0h0M335.6 332.2h0M334.9 347.8h0M332.8 324.8h0M335.4 325.3h0M332.4 335.5h0M335.5 348.2h0M334.4 347.4h0M334.2 339.2h0M334.5 334.9h0M334.8 350.9h0M334.4 337.1h0M334.0 324.3h0M335.2 323.2h0M334.5 349.7h0M333.9 335.2h0M333.8 337.7h0M335.1 342.4h0M335.2 339.4h0M334.3 347.1h0M335.0 323.3h0M332.0 339.4h0M335.0 337.3h0M334.7 328.9h0M333.6 343.4h0M334.9 335.8h0M335.2 348.2h0M335.8 338.2h0M334.9 332.0h0M334.5 341.7h0M332.8 330.0h0M333.0 350.4h0M331.5 351.9h0M331.5 354.4h0M331.9 356.3h0M330.7 352.2h0M331.2 352.0h0M330.6 353.3h0M331.0 357.3h0M332.4 356.1h0M333.3 354.0h0M331.1 353.2h0M333.0 355.1h0M335.0 351.2h0M331.6 354.2h0M330.8 353.1h0M337.8 317.4h0M330.2 320.3h0M333.5 322.4h0M332.9 314.4h0M333.7 321.8h0M338.9 317.5h0M332.3 319.1h0M332.5 313.9h0M333.8 309.2h0M340.0 313.3h0M336.4 317.3h0M338.4 309.9h0M336.0 318.8h0M336.4 320.6h0M335.3 313.5h0M329.8 313.1h0M333.1 313.5h0M335.7 317.6h0M332.4 315.5h0M338.1 319.9h0M338.9 313.7h0M328.2 314.1h0M340.2 312.0h0M337.6 313.9h0M336.6 313.0h0M338.6 316.5h0M333.7 322.8h0M334.3 318.1h0M337.2 313.4h0M336.4 322.2h0M342.8 315.0h0M336.9 318.5h0M328.7 312.8h0M336.2 321.2h0M333.9 320.3h0M336.2 320.6h0M341.8 313.6h0M333.2 309.6h0M339.7 316.2h0M334.2 320.8h0M330.3 316.5h0M341.0 319.9h0M330.3 315.1h0M333.0 315.1h0M335.9 321.1h0" stroke="#b870b8" stroke-width="0.95" stroke-linecap="round" fill="none" opacity="1.0"/>
<path d="M279.1 339.6h0M277.2 377.6h0M295.0 351.6h0M295.6 378.8h0M283.2 367.7h0M281.4 335.6h0M287.2 368.2h0M275.4 354.4h0M287.8 346.9h0M278.8 331.8h0M291.3 379.2h0M280.3 352.6h0M288.1 365.9h0M287.8 390.6h0M278.4 361.7h0M277.5 347.9h0M282.2 370.6h0M286.3 335.6h0M291.6 358.3h0M298.7 373.9h0M271.2 333.3h0M299.5 377.1h0M293.0 346.1h0M290.9 368.5h0M272.5 369.5h0M277.5 360.1h0M276.5 356.4h0M278.0 370.7h0M296.0 381.0h0M288.5 363.2h0M289.5 347.8h0M290.9 340.9h0M298.6 377.5h0M292.2 359.1h0M287.3 358.2h0M284.2 355.5h0M277.2 339.6h0M294.0 374.1h0M274.7 373.5h0M275.5 378.6h0M281.2 385.0h0M284.6 337.6h0M293.2 374.6h0M271.7 355.3h0M285.7 366.5h0M298.2 359.5h0M285.4 373.0h0M285.1 353.7h0M270.6 340.1h0M273.8 358.8h0M287.5 336.4h0M284.7 384.3h0M297.0 383.4h0M295.2 359.4h0M283.9 334.6h0M292.3 371.0h0M274.5 334.2h0M286.8 343.0h0M285.3 373.7h0M279.5 381.1h0M292.4 351.3h0M280.2 334.9h0M285.8 340.7h0M284.5 385.1h0M299.9 373.4h0M290.6 356.2h0M289.1 363.1h0M280.7 350.9h0M292.0 367.7h0M278.6 375.3h0M292.1 359.5h0M285.5 336.0h0M276.5 375.3h0M280.7 377.7h0M272.1 357.8h0M281.1 335.4h0M282.7 363.1h0M270.6 337.5h0M280.1 362.1h0M281.1 381.4h0M291.7 374.8h0M289.4 350.9h0M287.1 343.8h0M287.8 375.5h0M285.0 349.5h0M276.2 376.6h0M271.4 342.0h0M282.9 336.7h0M295.1 367.5h0M284.6 360.3h0M295.5 355.3h0M288.6 389.5h0M282.1 334.9h0M290.9 346.5h0M278.8 347.3h0M284.5 346.3h0M286.9 343.9h0M293.4 385.6h0M275.3 351.4h0M281.4 334.5h0M284.6 339.5h0M275.0 342.3h0M291.4 361.7h0M277.4 365.2h0M286.5 384.8h0M275.6 340.5h0M299.0 378.6h0M274.9 380.0h0M273.3 340.8h0M297.2 375.2h0M276.6 385.1h0M289.0 339.2h0M296.7 364.8h0M282.6 387.0h0M291.7 357.8h0M271.8 354.8h0M282.9 367.1h0M295.7 375.9h0M286.9 379.7h0M292.6 348.9h0M291.7 343.0h0M285.6 356.4h0M277.8 337.6h0M291.9 346.3h0M278.1 383.9h0M273.9 332.7h0M299.6 360.2h0M276.4 381.2h0M283.2 353.9h0M283.8 368.2h0M282.5 367.3h0M294.5 370.3h0M278.7 362.2h0M271.7 343.3h0M286.1 377.3h0M273.9 333.0h0M284.2 386.2h0M295.7 363.6h0M270.3 344.8h0M284.0 368.8h0M270.0 352.8h0M283.8 335.0h0M272.0 333.6h0M289.9 375.8h0M281.0 368.5h0M285.2 364.0h0M274.9 341.8h0M293.7 361.5h0M279.6 374.4h0M293.8 367.0h0M300.5 372.9h0M282.8 351.4h0M299.2 362.9h0M285.1 360.9h0M287.5 371.7h0M293.3 373.2h0M283.8 342.4h0M274.3 366.5h0M289.1 342.3h0M299.8 372.2h0M297.0 382.7h0M287.1 389.5h0M280.0 340.4h0M290.6 376.4h0M293.5 377.9h0M290.7 350.5h0M283.4 335.0h0M281.0 352.1h0M279.0 380.4h0M279.1 350.7h0M290.3 366.0h0M297.1 377.6h0M293.2 385.7h0M298.9 366.8h0M275.2 344.2h0M288.4 369.5h0M276.2 369.6h0M276.5 367.6h0M286.0 389.5h0M276.6 380.9h0M279.7 355.6h0M294.8 384.2h0M285.5 357.0h0M280.4 335.8h0M283.1 355.3h0M279.7 367.0h0M279.6 365.5h0M276.3 346.9h0M284.7 344.3h0M296.6 384.8h0M276.7 365.9h0M279.6 381.6h0M275.7 332.8h0M274.0 363.9h0M292.7 361.7h0M296.7 352.5h0M284.5 359.5h0M295.2 365.6h0M282.7 352.9h0M300.5 375.4h0M279.1 370.7h0M271.0 339.5h0M278.5 344.9h0M284.1 374.0h0M287.0 356.5h0M295.7 351.8h0M283.8 335.0h0M294.5 356.5h0M286.5 377.4h0M289.0 389.2h0M278.9 343.1h0M288.1 339.3h0M285.9 344.0h0M282.5 385.6h0M289.1 367.6h0M272.9 355.8h0M297.3 370.7h0M298.0 378.0h0M276.3 338.1h0M280.4 342.0h0M277.1 346.1h0M279.9 364.5h0M299.9 362.6h0M300.1 377.8h0M286.1 362.6h0M272.0 363.7h0M280.0 333.9h0M283.6 359.5h0M282.3 350.4h0M288.3 336.4h0M281.9 364.2h0M272.0 337.9h0M288.5 383.8h0M287.4 365.6h0M282.3 350.2h0M284.1 340.3h0M299.3 358.8h0M274.7 383.0h0M285.3 350.6h0M285.4 385.7h0M289.4 384.3h0M290.5 373.2h0M275.5 381.8h0M292.9 345.5h0M283.2 340.5h0M293.0 375.6h0M290.5 345.1h0M271.5 363.9h0M282.3 345.6h0M298.0 369.6h0M281.1 373.6h0M273.8 377.5h0M289.0 353.9h0M288.5 342.5h0M274.9 380.0h0M279.5 353.7h0M284.6 350.9h0M271.0 349.7h0M279.9 350.8h0M292.0 373.7h0M293.1 380.7h0M279.9 351.1h0M295.1 375.5h0M282.2 358.1h0M287.6 338.5h0M271.5 366.3h0M287.2 376.1h0M289.3 376.3h0M296.9 384.0h0M285.1 341.1h0M289.6 345.4h0M298.1 379.6h0M293.6 387.9h0M276.5 386.4h0M286.7 382.3h0M291.0 364.6h0M288.6 342.6h0M284.0 354.0h0M289.5 336.8h0M295.9 355.4h0M274.8 368.0h0M295.5 368.9h0M279.5 385.5h0M297.8 380.5h0M288.0 380.1h0M278.7 369.6h0M293.4 366.6h0M291.7 343.4h0M300.7 373.9h0M293.5 360.9h0M272.3 347.2h0M294.1 384.7h0M277.7 381.3h0M271.3 350.2h0M293.5 373.7h0M289.6 380.1h0M287.2 349.5h0M280.2 382.9h0M288.1 349.7h0M283.7 374.4h0M272.5 369.0h0M284.7 387.1h0M295.6 363.0h0M274.0 359.8h0M276.3 363.9h0M287.3 358.3h0M277.7 357.1h0M282.3 347.2h0M276.3 337.4h0M298.4 376.3h0M280.5 385.0h0M293.4 385.0h0M289.9 357.0h0M281.0 375.9h0M289.7 359.0h0M284.8 347.5h0M281.8 371.2h0M276.6 358.3h0M291.6 370.3h0M285.0 371.1h0M279.0 347.2h0M298.6 369.5h0M289.6 367.8h0M276.0 369.9h0M285.9 389.2h0M293.7 368.9h0M271.7 340.0h0M279.3 351.8h0M273.1 370.0h0M297.5 363.9h0M292.8 353.1h0M280.0 369.8h0M290.5 351.2h0M298.7 380.1h0M291.4 358.3h0M286.2 369.0h0M275.8 382.5h0M287.3 357.9h0M287.7 359.7h0M280.3 363.0h0M296.1 385.3h0M298.8 371.5h0M280.6 359.1h0M279.9 377.7h0M295.1 387.1h0M279.8 364.0h0M286.9 339.8h0M285.3 348.3h0M273.8 332.1h0M287.4 334.2h0M291.3 370.1h0M291.6 350.0h0M295.6 385.4h0M290.0 345.7h0M297.2 361.0h0M277.0 349.4h0M279.0 359.3h0M283.9 337.3h0M272.2 358.2h0M280.4 348.2h0M268.7 334.5h0M275.7 376.3h0M278.5 337.0h0M284.0 388.5h0M284.7 340.1h0M275.8 376.2h0M291.4 361.6h0M280.9 334.7h0M284.2 357.1h0M275.2 345.9h0M277.8 364.4h0M284.7 376.1h0M280.9 356.4h0M293.0 377.3h0M295.6 373.8h0M290.4 340.1h0M281.3 366.4h0M275.3 368.0h0M291.4 345.2h0M277.1 378.1h0M280.6 337.0h0M285.5 348.7h0M276.0 384.2h0M273.5 379.5h0M288.6 340.7h0M274.5 383.1h0M298.2 359.5h0M293.9 355.5h0M295.5 378.6h0M271.7 364.2h0M271.7 363.8h0M298.0 366.0h0M295.9 350.3h0M284.7 354.1h0M288.6 371.7h0M277.4 359.9h0M292.8 346.4h0M276.9 373.7h0M289.9 343.1h0M267.4 335.2h0M282.0 379.6h0M294.1 385.7h0M271.2 353.3h0M288.0 355.1h0M276.1 353.6h0M279.1 386.6h0M291.2 352.1h0M285.4 352.2h0M288.5 380.6h0M279.7 349.2h0M277.9 343.5h0M283.8 355.3h0M274.6 342.3h0M289.4 364.9h0M273.4 365.6h0M271.4 335.3h0M288.0 370.8h0M285.8 339.5h0M300.0 363.2h0M282.5 380.5h0M287.7 379.2h0M276.8 383.6h0M279.8 380.7h0M275.7 349.5h0M290.3 370.6h0M279.4 359.3h0M293.0 369.8h0M296.4 373.3h0M281.8 361.9h0M298.6 377.2h0M278.6 368.5h0M290.0 349.9h0M284.8 378.3h0M272.6 350.8h0M279.5 370.0h0M287.0 351.2h0M271.8 333.4h0M283.2 366.5h0M278.1 386.1h0M273.7 355.1h0M270.5 343.6h0M281.4 382.0h0M275.1 370.2h0M281.2 369.1h0M283.2 343.3h0M281.0 347.3h0M282.0 335.6h0M287.0 370.9h0M284.3 365.7h0M286.0 362.5h0M274.1 352.6h0M295.9 377.4h0M288.6 381.0h0M294.0 347.8h0M279.6 378.3h0M299.7 374.5h0M299.7 363.8h0M281.0 344.9h0M280.4 334.6h0M290.8 372.7h0M295.6 381.7h0M290.2 344.6h0M277.5 351.3h0M286.1 378.2h0M272.4 372.9h0M273.3 369.2h0M272.6 340.2h0M294.9 362.7h0M277.5 339.5h0M275.9 341.6h0M292.5 352.1h0M274.1 334.7h0M276.9 360.6h0M278.7 377.3h0M294.5 379.9h0M285.0 369.6h0M290.9 383.8h0M272.4 351.8h0M281.3 345.4h0M274.2 344.9h0M275.8 381.8h0M280.1 376.3h0M270.8 353.8h0M298.2 357.3h0M293.8 350.0h0M277.6 334.0h0M281.6 383.3h0M286.0 343.4h0M294.2 366.2h0M279.7 355.7h0M276.3 360.1h0M296.4 370.3h0M285.3 336.9h0M268.8 343.2h0M286.1 354.3h0M289.8 359.6h0M293.8 376.0h0M285.3 376.9h0M289.6 365.7h0M277.9 382.3h0M275.6 363.9h0M273.5 365.4h0M287.2 376.5h0M277.7 366.8h0M295.2 372.9h0M294.2 352.7h0M286.4 385.7h0M292.4 387.4h0M294.0 375.2h0M300.1 374.7h0M281.0 335.3h0M282.6 351.4h0M274.0 373.5h0M287.9 367.8h0M297.3 370.1h0M288.2 380.9h0M281.1 344.4h0M289.2 381.1h0M294.3 364.2h0M297.3 355.7h0M276.8 361.9h0M297.5 370.0h0M292.0 372.1h0M278.7 378.9h0M287.2 338.6h0M272.8 336.7h0M281.8 339.8h0M286.4 337.0h0M293.0 383.7h0M294.5 347.2h0M290.6 352.1h0M280.0 338.9h0M293.9 357.1h0M273.7 347.3h0M274.2 361.4h0M284.5 339.5h0M294.4 380.0h0M287.6 365.1h0M284.8 361.8h0M274.5 347.1h0M287.1 345.3h0M289.6 376.9h0M300.1 375.0h0M283.8 376.7h0M279.5 389.1h0M280.0 347.1h0M298.0 370.7h0M272.2 349.6h0M277.1 331.5h0M287.4 338.4h0M283.5 382.1h0M272.7 346.6h0M283.9 355.9h0M287.6 336.7h0M277.9 348.2h0M284.0 361.3h0M280.0 371.9h0M280.8 361.4h0M270.1 353.7h0M280.6 370.6h0M297.6 364.8h0M294.1 357.1h0M282.2 335.4h0M296.3 382.8h0M274.5 358.1h0M285.9 389.3h0M282.6 337.1h0M281.9 364.9h0M293.3 366.4h0M276.5 354.4h0M279.7 387.9h0M274.2 379.9h0M289.2 385.8h0M283.1 338.4h0M279.7 351.8h0M299.1 364.1h0M289.4 337.2h0M279.8 382.9h0M269.6 334.4h0M278.9 348.1h0M284.9 388.5h0M293.3 373.1h0M283.3 359.3h0M284.9 382.4h0M294.1 350.9h0M269.9 351.0h0M273.3 333.0h0M286.1 335.1h0M286.9 346.9h0M291.7 355.5h0M276.0 373.0h0M278.1 353.5h0M294.6 357.6h0M273.8 341.2h0M274.7 341.4h0M285.7 379.8h0M272.0 359.5h0M298.2 363.6h0M298.0 377.0h0M296.3 353.7h0M295.5 364.7h0M271.3 358.0h0M294.6 361.4h0M289.1 354.8h0M278.9 347.2h0M280.3 361.8h0M295.1 384.9h0M288.6 385.6h0M288.3 384.0h0M270.9 355.5h0M292.1 387.4h0M273.9 368.4h0M283.3 346.5h0M284.0 362.0h0M286.7 371.3h0M275.0 331.6h0M285.4 391.6h0M286.9 344.2h0M271.0 336.2h0M286.9 371.9h0M280.5 335.0h0M288.8 349.9h0M273.9 334.0h0M297.5 375.9h0M279.6 343.3h0M285.6 355.2h0M295.0 365.4h0M277.5 379.6h0M273.4 341.1h0M275.6 348.7h0M278.2 382.3h0M293.6 345.5h0M299.5 369.7h0M288.0 347.2h0M295.1 364.7h0M280.9 355.0h0M283.2 353.0h0M273.8 366.1h0M282.4 343.3h0M274.8 340.7h0M273.2 372.2h0M279.8 336.4h0M274.4 374.8h0M278.0 364.8h0M282.5 379.8h0M274.9 372.5h0M297.5 369.2h0M293.6 372.2h0M277.2 350.6h0M274.9 379.8h0M271.3 346.2h0M272.9 340.7h0M277.2 348.1h0M272.6 367.6h0M270.8 356.6h0M281.9 338.3h0M281.9 373.8h0M286.3 390.1h0M281.6 384.8h0M275.9 354.0h0M287.5 382.5h0M274.8 345.3h0M295.7 365.1h0M280.0 341.8h0M276.1 345.5h0M283.7 333.5h0M285.2 367.0h0M292.5 363.9h0M278.7 367.4h0M294.6 374.5h0M278.2 341.4h0M273.5 344.0h0M288.4 344.7h0M286.2 377.7h0M297.1 376.3h0M278.1 375.0h0M299.3 370.5h0M276.9 383.0h0M283.1 387.2h0M296.0 359.3h0M285.2 341.3h0M289.2 339.1h0M285.2 359.7h0M290.7 373.9h0M282.1 373.6h0M287.0 336.7h0M274.8 343.7h0M280.8 376.3h0M287.6 354.8h0M279.9 358.5h0M278.7 385.0h0M280.5 376.3h0M285.8 357.2h0M287.1 378.4h0M283.1 371.1h0M276.7 371.9h0M274.8 347.6h0M298.7 373.0h0M288.8 348.6h0M286.5 348.5h0M274.4 369.9h0M271.5 331.8h0M289.5 352.1h0M278.6 369.2h0M296.9 370.6h0M285.6 387.7h0M270.6 351.9h0M269.8 348.7h0M282.7 357.7h0M278.8 375.8h0M298.7 365.7h0M282.6 379.7h0M287.9 368.0h0M275.6 364.6h0M287.0 367.4h0M286.4 373.3h0M272.4 374.6h0M291.4 362.6h0M282.3 353.5h0M279.8 355.1h0M273.9 380.2h0M286.9 390.2h0M284.4 389.7h0M285.0 369.0h0M298.0 356.0h0M292.9 345.6h0M279.1 355.1h0M287.3 346.4h0M272.5 331.7h0M282.4 355.0h0M286.1 344.8h0M287.9 337.4h0M281.2 360.6h0M291.3 359.3h0M289.9 355.3h0M275.2 368.1h0M290.7 386.3h0M294.0 361.7h0M294.2 384.2h0M282.6 344.6h0M278.6 352.9h0M288.2 341.2h0M272.9 353.2h0M281.5 377.2h0M275.9 372.6h0M277.8 338.9h0M284.9 351.6h0M276.8 347.2h0M293.4 353.5h0M290.2 373.4h0M294.8 381.3h0M290.2 361.8h0M278.4 388.9h0M269.8 336.4h0M270.5 354.7h0M290.2 387.9h0M275.0 364.2h0M278.5 364.2h0M284.5 334.9h0M271.1 351.5h0M293.2 348.3h0M279.2 380.4h0M291.9 342.9h0M272.2 340.5h0M281.1 387.9h0M276.5 357.2h0M285.2 382.8h0M274.0 350.8h0M292.3 361.1h0M279.1 366.4h0M279.3 352.2h0M270.4 341.0h0M281.4 355.6h0M283.0 372.6h0M291.8 382.3h0M289.0 373.3h0M278.2 365.0h0M279.8 370.6h0M286.0 366.2h0M276.1 374.1h0M283.1 386.7h0M271.7 336.4h0M288.3 386.5h0M285.3 388.1h0M295.6 378.2h0M287.4 351.8h0M270.9 338.8h0M292.1 355.7h0M296.4 363.0h0M279.5 353.8h0M282.9 371.2h0M276.1 366.3h0M283.0 344.2h0M286.7 346.3h0M293.2 346.2h0M289.2 356.3h0M287.5 363.8h0M282.2 375.4h0M292.9 375.7h0M291.0 351.1h0M284.9 364.9h0M282.1 360.2h0M295.8 374.2h0M287.4 359.6h0M290.0 370.3h0M275.7 357.2h0M281.9 365.3h0M297.0 356.7h0M281.0 333.2h0M283.0 352.7h0M285.8 372.9h0M285.3 346.5h0M296.8 375.9h0M281.4 335.7h0M286.6 364.0h0M287.4 372.1h0M277.7 386.2h0M286.8 340.9h0M278.8 351.4h0M284.7 338.4h0M288.7 368.6h0M282.8 332.0h0M286.4 377.7h0M295.1 373.9h0M277.9 351.2h0M289.1 374.7h0M276.5 355.2h0M292.6 366.8h0M291.3 388.8h0M290.0 377.0h0M276.6 375.0h0M296.6 372.7h0M276.9 387.6h0M280.1 366.1h0M279.5 358.9h0M295.5 367.0h0M297.4 382.9h0M294.2 372.0h0M288.8 340.7h0M297.1 352.9h0M277.0 388.2h0M273.8 374.9h0M282.1 371.5h0M283.3 348.2h0M288.9 339.6h0M276.3 334.9h0M289.1 337.0h0M292.7 379.4h0M287.9 341.8h0M294.9 377.5h0M278.8 353.5h0M277.7 374.4h0M283.8 357.3h0M281.9 353.9h0M279.1 359.4h0M270.7 346.7h0M285.7 358.0h0M282.6 350.3h0M268.6 341.9h0M281.8 365.9h0M282.0 378.1h0M289.6 384.7h0M274.4 341.6h0M291.6 388.4h0M295.9 377.3h0M275.3 360.1h0M287.1 371.9h0M287.4 371.6h0M273.9 359.3h0M282.9 336.1h0M273.2 370.1h0M282.5 358.1h0M285.9 368.1h0M287.7 359.4h0M288.4 365.7h0M280.0 347.4h0M271.8 337.8h0M292.6 358.9h0M276.6 379.6h0M282.4 370.1h0M277.5 332.6h0M296.4 355.4h0M275.9 379.0h0M288.0 380.3h0M286.5 356.0h0M288.3 335.6h0M284.4 356.9h0M288.5 355.8h0M280.5 362.7h0M289.4 365.7h0M286.9 360.7h0M273.9 355.6h0M277.3 375.0h0M273.7 337.4h0M275.5 367.0h0M268.5 335.5h0M278.9 346.3h0M295.5 372.9h0M286.9 357.8h0M273.7 352.9h0M285.9 379.3h0M285.9 375.0h0M298.7 373.9h0M295.2 366.6h0M272.0 345.6h0M280.5 366.3h0M288.5 360.7h0M279.2 367.6h0M287.5 373.1h0M293.9 383.7h0M276.0 384.1h0M272.3 352.9h0M284.7 332.8h0M290.3 386.5h0M272.3 343.9h0M274.4 345.3h0M288.1 379.1h0M276.8 370.6h0M275.5 372.8h0M278.8 337.1h0M270.7 346.5h0M283.0 345.7h0M295.5 379.1h0M281.3 353.2h0M290.8 353.9h0M287.3 381.5h0M271.2 356.8h0M280.5 353.9h0M278.0 381.3h0M273.8 335.8h0M287.6 344.1h0M280.4 384.1h0M271.6 363.2h0M283.2 363.1h0M285.7 340.1h0M283.7 334.8h0M292.1 364.3h0M295.3 382.2h0M282.8 334.2h0M278.6 345.7h0M292.1 352.7h0M281.5 357.4h0M276.9 376.3h0M283.1 339.5h0M282.8 387.7h0M268.5 339.8h0M279.7 377.4h0M279.7 337.8h0M286.8 359.0h0M283.5 333.8h0M291.2 356.0h0M281.9 369.2h0M269.7 348.0h0M286.4 366.0h0M296.1 350.7h0M287.8 373.0h0M295.2 363.6h0M279.8 356.3h0M281.8 369.7h0M278.3 359.8h0M297.2 381.1h0M298.3 361.7h0M281.0 340.4h0M291.6 366.0h0M275.9 344.9h0M273.1 341.8h0M275.7 349.9h0M287.9 368.5h0M289.2 365.9h0M277.5 362.1h0M290.3 359.0h0M286.9 363.8h0M299.4 373.5h0M288.7 365.0h0M270.6 334.7h0M288.3 350.3h0M277.6 346.4h0M275.6 355.5h0M271.0 349.0h0M279.4 337.2h0M287.4 390.3h0M290.7 376.1h0M276.9 381.8h0M293.8 346.9h0M273.6 357.1h0M284.2 363.8h0M282.3 343.1h0M287.4 387.7h0M298.0 365.0h0M293.8 387.4h0M291.2 358.9h0M286.0 360.0h0M291.6 387.9h0M289.9 383.5h0M295.0 368.7h0M279.4 358.7h0M273.2 379.3h0M277.9 381.7h0M274.6 334.9h0M271.9 367.5h0M278.8 383.2h0M269.8 332.7h0M290.6 358.3h0M274.8 364.5h0M283.2 373.0h0M281.1 352.5h0M286.4 363.4h0M278.4 353.4h0M292.5 354.7h0M283.6 336.9h0M275.7 374.2h0M297.4 363.5h0M278.5 367.5h0M268.4 333.9h0M281.7 332.0h0M285.3 353.0h0M267.9 338.1h0M284.6 385.7h0M275.5 353.7h0M287.8 384.5h0M287.8 376.7h0M278.8 345.2h0M296.2 369.4h0M290.4 384.2h0M280.6 345.4h0M284.1 348.7h0M270.6 342.8h0M291.1 353.5h0M270.8 333.2h0M277.4 365.3h0M279.1 352.0h0M293.9 346.6h0M295.9 381.6h0M295.6 361.7h0M271.1 358.6h0M297.5 382.4h0M289.0 361.9h0M279.0 355.5h0M292.9 343.4h0M276.8 362.5h0M296.3 362.5h0M272.2 363.6h0M276.9 370.6h0M299.8 375.9h0M279.1 362.0h0M289.2 345.4h0M284.1 361.4h0M273.0 370.4h0M298.3 366.2h0M297.0 366.0h0M280.9 359.7h0M294.7 379.2h0M284.9 366.4h0M277.1 340.8h0M285.2 338.4h0M277.3 334.7h0M287.5 342.0h0M279.1 387.1h0M282.5 361.4h0M282.2 342.9h0M296.3 374.6h0M280.3 365.6h0M295.9 369.5h0M299.2 365.3h0M273.1 365.6h0M287.9 378.0h0M292.4 372.3h0M276.4 344.6h0M271.8 346.9h0M278.0 355.9h0M273.0 371.2h0M294.4 363.7h0M281.7 342.9h0M274.2 350.4h0M294.2 363.0h0M273.7 334.3h0M297.8 379.5h0M285.0 381.5h0M274.5 333.6h0M287.4 363.1h0M293.2 360.1h0M275.9 383.5h0M290.1 349.2h0M273.7 365.2h0M280.2 351.5h0M284.0 382.3h0M286.3 339.7h0M294.6 353.8h0M270.3 338.5h0M277.4 330.4h0M297.4 355.4h0M277.7 368.8h0M283.9 360.1h0M279.4 360.6h0M283.1 337.0h0M294.0 366.3h0M281.8 347.4h0M296.0 360.1h0M300.4 377.1h0M277.6 378.5h0M295.7 378.7h0M279.5 357.7h0M275.6 374.2h0M274.4 332.4h0M286.2 343.4h0M287.2 385.4h0M298.6 377.5h0M283.8 384.7h0M276.9 364.7h0M289.0 385.4h0M272.9 377.4h0M279.4 351.4h0M273.3 352.3h0M283.0 343.0h0M290.8 361.2h0M290.8 367.0h0M296.5 379.7h0M281.8 345.1h0M298.6 375.7h0M282.9 336.1h0M299.8 377.5h0M268.6 338.2h0M279.8 336.1h0M299.2 375.5h0M280.9 352.9h0M278.9 377.3h0M286.9 374.0h0M276.1 359.8h0M281.8 357.1h0M275.7 379.1h0M278.5 337.7h0M288.6 385.9h0M288.6 358.7h0M278.1 346.1h0M288.7 344.0h0M288.8 366.5h0M275.9 386.3h0M279.8 370.6h0M285.1 363.8h0M281.9 370.8h0M287.0 351.0h0M277.3 333.5h0M283.4 351.7h0M275.4 366.1h0M274.8 367.2h0M289.3 356.7h0M292.4 371.7h0M290.7 359.3h0M271.8 337.7h0M289.2 344.3h0M285.9 360.3h0M293.8 350.7h0M295.8 365.1h0M278.0 362.3h0M284.0 351.4h0M295.6 362.0h0M277.7 361.6h0M290.5 359.1h0M279.4 371.3h0M282.9 357.6h0M279.0 354.9h0M280.6 372.6h0M283.5 345.5h0M294.8 365.5h0M287.5 359.7h0M279.5 370.0h0M290.5 360.8h0M280.5 369.1h0M285.1 361.1h0M287.9 357.8h0M292.3 367.5h0M285.1 352.4h0M284.0 346.4h0M293.1 352.9h0M280.8 360.6h0M289.7 366.3h0M294.9 366.8h0M287.5 372.6h0M289.3 374.9h0M285.8 346.6h0M285.8 373.0h0M290.7 359.4h0M287.3 346.4h0M283.8 352.8h0M286.6 357.1h0M290.3 356.4h0M287.0 366.2h0M281.6 367.3h0M280.0 359.8h0M286.8 356.2h0M286.5 369.3h0M287.0 347.6h0M278.2 357.1h0M288.2 363.3h0M277.5 369.6h0M295.1 355.5h0M281.4 350.6h0M285.5 369.5h0M296.3 356.9h0M285.7 370.7h0M293.7 369.7h0M288.4 365.0h0M282.9 372.7h0M287.7 347.3h0M285.9 348.2h0M286.2 347.0h0M281.6 355.7h0M285.1 367.3h0M285.7 352.6h0M284.0 363.4h0M291.0 371.5h0M281.4 374.3h0M285.3 349.8h0M284.9 347.0h0M279.6 348.1h0M285.4 367.8h0M281.7 365.1h0M291.3 350.3h0M285.0 374.0h0M278.6 358.1h0M285.5 346.5h0M288.3 373.4h0M287.5 374.6h0M291.3 349.2h0M283.3 362.0h0M279.9 363.8h0M286.6 374.1h0M281.0 373.9h0M279.6 370.7h0M291.1 350.6h0M291.4 358.2h0M279.6 350.8h0M286.9 355.2h0M279.5 366.7h0M279.8 353.0h0M292.4 355.3h0M288.8 355.9h0M281.5 370.4h0M276.6 355.3h0M275.8 365.3h0M280.8 373.5h0M290.5 368.6h0M285.0 362.0h0M287.2 344.4h0M285.1 363.8h0M287.8 352.3h0M283.3 368.8h0M285.9 367.8h0M290.5 369.2h0M288.0 365.7h0M294.0 363.4h0M283.2 373.6h0M282.9 366.0h0M278.3 369.2h0M276.8 361.1h0M286.1 369.8h0M291.9 358.1h0M294.2 367.2h0M281.7 361.0h0M289.9 373.3h0M286.6 351.6h0M279.8 355.9h0M284.2 347.0h0M283.1 346.5h0M292.9 351.1h0M280.3 367.1h0M284.2 364.9h0M286.2 371.1h0M283.0 372.7h0M282.9 358.0h0M290.6 351.1h0M291.6 365.2h0M287.7 345.8h0M288.9 365.2h0M292.8 348.9h0M292.5 371.3h0M275.6 361.1h0M278.5 362.0h0M283.0 362.7h0M295.2 353.8h0M283.5 360.5h0M287.9 360.9h0M283.6 350.1h0M284.8 362.8h0M277.7 367.3h0M285.6 355.6h0M282.2 364.6h0M279.7 364.3h0M284.9 345.8h0M277.1 351.4h0M278.8 362.4h0M280.9 355.8h0M280.4 349.0h0M280.8 347.4h0M282.6 368.8h0M286.4 350.2h0M285.7 359.9h0M280.3 356.0h0M279.6 361.7h0M277.0 358.5h0M281.4 362.4h0M281.9 361.0h0M277.4 364.8h0M285.0 374.2h0M293.7 349.2h0M292.3 354.5h0M282.9 363.7h0M283.8 349.7h0M279.8 362.8h0M282.2 367.2h0M287.5 363.0h0M289.6 357.1h0M289.4 346.1h0M285.0 358.6h0M285.0 368.4h0M288.5 345.8h0M286.1 369.6h0M295.1 354.2h0M295.2 354.6h0M292.9 371.2h0M280.2 364.4h0M286.1 367.0h0M275.4 361.5h0M279.0 354.4h0M286.2 361.1h0M281.0 347.9h0M294.0 366.2h0M294.1 359.9h0M282.5 364.5h0M278.4 356.5h0M289.8 358.5h0M277.4 355.7h0M284.6 374.3h0M285.6 373.3h0M284.1 362.0h0M282.2 349.6h0M291.8 363.1h0M293.3 364.3h0M282.5 370.2h0M286.8 360.9h0M282.2 355.6h0M290.7 356.6h0M279.8 348.7h0M277.3 362.8h0M287.8 360.9h0M292.6 357.2h0M285.7 353.5h0M285.6 344.6h0M294.6 369.6h0M287.5 366.9h0M295.9 353.5h0M288.5 364.6h0M280.6 365.0h0M296.0 363.8h0M276.3 357.9h0M291.0 345.8h0M288.8 359.4h0M289.1 356.1h0M288.2 348.1h0M283.8 373.4h0M281.1 369.4h0M285.7 354.8h0M293.9 353.3h0M280.4 348.0h0M286.9 355.0h0M291.4 351.7h0M280.1 365.3h0M293.8 358.7h0M282.4 345.1h0M286.3 349.2h0M282.8 347.0h0M291.1 360.9h0M292.4 359.5h0M282.8 367.6h0M285.2 365.0h0M289.1 366.6h0M284.0 354.2h0M291.5 360.3h0M280.4 362.2h0M277.3 356.1h0M292.1 351.6h0M280.5 361.0h0M293.8 366.4h0M289.7 356.7h0M281.7 364.8h0M281.3 348.9h0M293.4 352.2h0M296.3 364.1h0M278.5 362.8h0M293.4 353.6h0M296.0 360.5h0M285.8 350.6h0M277.2 360.5h0M295.4 360.6h0M286.7 361.2h0M294.2 366.7h0M286.6 350.4h0M289.0 360.1h0M288.2 368.2h0M278.9 360.2h0M291.7 372.2h0M289.0 369.9h0M288.4 370.2h0M283.7 374.0h0M285.8 363.1h0M292.1 358.9h0M284.5 356.7h0M281.8 366.4h0M278.0 362.5h0M279.2 350.3h0M288.0 359.9h0M291.5 364.7h0M290.1 354.4h0M288.0 354.5h0M284.1 353.8h0M276.9 359.7h0M280.9 360.5h0M288.5 371.0h0M290.0 357.2h0M288.2 356.5h0M287.4 351.4h0M285.5 370.1h0M295.0 359.8h0M289.9 348.8h0M276.5 356.7h0M285.4 352.0h0M294.3 360.6h0M285.0 371.6h0M280.9 358.5h0M293.1 368.6h0M293.0 349.2h0M291.9 348.7h0M277.4 363.6h0M291.6 350.9h0M294.4 354.5h0M288.6 373.1h0M288.0 354.5h0M276.5 364.2h0M295.4 354.3h0M289.2 352.8h0M290.8 360.9h0M292.2 350.5h0M285.8 348.8h0M287.7 345.2h0M292.3 355.3h0M284.8 345.6h0M279.1 366.8h0M291.2 353.5h0M289.3 360.7h0M282.2 360.1h0M290.6 350.9h0M284.9 368.7h0M278.4 359.9h0M285.3 374.7h0M275.9 360.2h0M277.1 351.5h0M279.9 362.1h0M286.5 372.9h0M280.4 364.7h0M290.4 363.0h0M292.0 352.6h0M279.0 348.3h0M278.6 359.6h0M287.7 351.7h0M294.4 352.0h0M294.5 367.4h0M288.0 363.7h0M276.5 366.3h0M295.6 360.7h0M284.5 352.1h0M282.7 358.8h0M283.7 354.7h0M275.5 362.4h0M288.2 358.6h0M286.8 361.2h0M289.3 371.0h0M293.5 358.4h0M276.4 357.5h0M288.1 362.9h0M293.4 358.1h0M285.3 355.2h0M288.4 367.6h0M288.8 364.2h0M287.1 360.8h0M286.0 358.4h0M289.4 350.1h0M286.0 370.5h0M293.0 349.6h0M294.0 356.2h0M285.7 359.4h0M284.1 371.9h0M279.9 360.4h0M285.2 353.2h0M276.7 368.2h0M285.9 360.5h0M290.0 349.7h0M295.5 366.5h0M286.6 367.8h0M290.3 358.1h0M285.4 345.0h0" stroke="#1c9c66" stroke-width="0.95" stroke-linecap="round" fill="none" opacity="1.0"/>
<path d="M282.9 399.8h0M273.9 398.6h0M281.9 387.7h0M283.3 400.2h0M277.0 396.5h0M281.9 404.0h0M283.0 390.3h0M279.5 406.4h0M282.1 387.4h0M273.4 398.4h0M278.3 391.5h0M278.1 384.3h0M283.5 394.2h0M275.1 393.6h0M279.0 386.7h0M280.4 401.3h0M273.9 397.9h0M282.1 405.0h0M282.9 400.7h0M274.3 399.7h0M280.7 392.1h0M275.2 392.2h0M274.1 399.3h0M276.2 391.2h0M278.4 402.7h0M282.9 395.8h0M276.0 397.7h0M274.5 394.3h0M276.5 389.5h0M279.6 401.0h0M280.5 403.3h0M275.1 388.2h0M274.0 398.5h0M276.8 395.8h0M275.8 400.9h0M277.7 394.6h0M277.9 397.0h0M276.4 396.2h0M279.8 385.9h0M277.9 404.1h0M277.8 398.0h0M273.9 392.0h0M284.3 394.8h0M276.2 402.3h0M278.3 393.5h0M275.8 389.7h0M274.5 395.8h0M278.0 395.4h0M277.6 398.0h0M276.6 387.4h0M279.3 390.8h0M273.4 397.3h0M278.4 392.7h0M275.3 403.6h0M281.6 395.0h0M280.4 392.1h0M277.4 399.9h0M283.4 390.5h0M275.0 395.3h0M281.1 388.6h0M274.0 384.3h0M276.5 399.7h0M275.3 386.7h0M281.0 398.3h0M276.5 383.7h0M279.6 396.1h0M278.8 390.6h0M279.7 397.3h0M280.7 386.2h0M278.8 403.3h0M274.6 400.3h0M275.7 401.9h0M279.5 396.4h0M282.8 390.7h0M279.6 405.9h0M278.7 385.7h0M279.4 400.5h0M274.5 400.4h0M280.5 398.7h0M278.0 386.5h0M282.5 402.4h0M281.3 400.3h0M277.7 383.8h0M281.9 398.8h0M279.0 406.8h0M276.5 383.7h0M279.1 398.4h0M276.1 390.2h0M279.6 387.4h0M281.6 400.5h0M277.7 389.8h0M276.9 395.6h0M278.3 384.4h0M275.2 402.5h0M278.4 394.1h0M277.6 397.1h0M280.9 395.1h0M276.8 400.2h0M278.3 396.8h0M279.4 384.4h0M278.8 396.3h0M274.1 398.6h0M278.7 403.4h0M275.7 397.0h0M277.3 389.0h0M274.6 393.9h0M274.7 388.3h0M282.4 402.0h0M278.1 384.6h0M273.8 400.0h0M277.3 404.3h0M282.3 398.8h0M280.8 402.3h0M279.2 403.2h0M281.3 389.2h0M280.9 401.5h0M280.7 389.6h0M273.7 394.4h0M281.9 401.8h0M278.8 390.9h0M279.4 405.1h0M276.5 387.9h0M282.7 398.3h0M281.1 396.7h0M282.4 400.5h0M277.9 383.6h0M281.5 404.2h0M279.5 391.2h0M278.1 392.8h0M275.9 391.1h0M278.0 386.9h0M276.1 395.7h0M278.2 402.8h0M279.0 390.8h0M280.1 400.7h0M280.5 385.4h0M275.2 392.0h0M274.4 388.0h0M273.8 393.6h0M283.2 396.7h0" stroke="#40ade0" stroke-width="0.95" stroke-linecap="round" fill="none" opacity="1.0"/>
<path d="M305.2 410.2h0M307.4 380.4h0M305.5 386.3h0M304.7 404.3h0M299.7 380.4h0M297.3 397.6h0M306.7 392.2h0M299.8 381.6h0M299.3 393.4h0M306.8 387.0h0M303.9 371.7h0M303.9 383.5h0M307.1 394.6h0M307.0 379.8h0M299.5 380.1h0M301.0 393.0h0M302.4 411.5h0M305.0 397.0h0M300.0 401.9h0M296.4 395.9h0M308.1 381.6h0M300.7 386.7h0M301.1 410.0h0M302.3 385.7h0M299.1 384.2h0M303.8 408.3h0M307.7 405.7h0M297.0 390.9h0M303.1 401.5h0M298.3 388.0h0M302.3 389.4h0M306.4 395.9h0M308.3 400.5h0M297.2 392.0h0M306.6 409.9h0M297.6 400.0h0M305.3 401.6h0M304.6 411.6h0M297.1 388.0h0M298.4 394.3h0M305.8 403.5h0M300.8 393.0h0M304.1 401.5h0M303.1 387.6h0M298.6 379.9h0M306.6 398.3h0M304.7 408.0h0M298.0 406.9h0M301.1 386.2h0M306.3 390.3h0M305.1 374.5h0M300.1 392.7h0M306.9 409.5h0M307.9 399.0h0M304.7 374.9h0M305.2 406.2h0M301.5 375.2h0M298.8 408.4h0M308.2 382.4h0M298.4 401.1h0M301.7 382.0h0M304.8 411.4h0M297.4 395.6h0M297.2 396.5h0M297.1 393.8h0M304.2 402.9h0M301.5 375.7h0M308.6 397.7h0M305.3 391.5h0M309.0 393.2h0M299.3 390.4h0M306.1 390.3h0M302.1 383.6h0M299.9 385.7h0M300.9 399.8h0M301.0 370.0h0M306.0 381.3h0M307.9 398.0h0M305.3 403.9h0M304.3 401.7h0M305.5 406.3h0M299.6 386.3h0M299.3 391.4h0M302.8 394.9h0M298.9 386.5h0M299.7 375.3h0M304.3 381.7h0M304.1 400.5h0M302.5 376.3h0M305.1 391.7h0M300.0 407.8h0M304.5 376.5h0M298.0 378.2h0M301.5 388.4h0M302.7 373.4h0M304.9 396.7h0M299.2 381.1h0M308.9 401.3h0M299.9 374.7h0M298.5 399.9h0M304.0 400.1h0M297.3 384.5h0M309.8 400.0h0M301.0 383.8h0M304.6 381.3h0M305.8 384.1h0M307.6 393.8h0M306.8 393.8h0M298.2 380.0h0M301.2 394.3h0M307.5 405.9h0M301.5 405.4h0M300.3 395.1h0M305.6 400.2h0M306.2 400.3h0M299.5 406.7h0M306.4 406.0h0M299.9 386.9h0M300.7 406.1h0M303.3 397.3h0M308.1 385.9h0M303.3 391.0h0M300.4 391.9h0M304.2 373.6h0M304.1 385.2h0M298.8 398.8h0M307.8 399.5h0M301.7 379.9h0M297.0 398.6h0M298.0 405.9h0M303.1 389.0h0M308.0 383.6h0M308.3 400.6h0M305.3 405.0h0M303.1 385.9h0M305.7 377.4h0M300.1 384.5h0M305.6 411.0h0M302.8 389.2h0M303.2 374.7h0M308.0 397.9h0M306.2 405.7h0M297.8 382.6h0M305.7 377.6h0M303.7 392.0h0M300.2 373.4h0M304.1 374.7h0M306.5 407.2h0M297.9 398.0h0M304.3 395.7h0M300.2 380.6h0M301.2 388.7h0M305.8 383.4h0M301.5 377.3h0M299.4 380.7h0M308.4 393.3h0M300.5 371.6h0M306.5 402.1h0M305.9 386.7h0M305.1 392.4h0M305.1 394.8h0M308.9 402.4h0M301.4 402.4h0M305.5 381.0h0M305.6 394.5h0M298.4 394.2h0M303.6 392.3h0M307.5 400.1h0M308.3 382.1h0M304.6 391.7h0M303.5 386.8h0M300.4 401.4h0M301.6 396.0h0M306.5 393.5h0M306.8 378.5h0M307.6 390.3h0M304.6 397.7h0M296.5 392.1h0M306.1 376.6h0M302.1 392.9h0M298.8 403.6h0M299.6 390.2h0M303.8 377.0h0M298.2 403.3h0M305.2 400.7h0M308.4 400.1h0M307.1 378.8h0M309.2 400.5h0M301.2 404.1h0M299.4 405.1h0M305.7 376.1h0M308.3 401.2h0M302.4 404.2h0M302.7 408.6h0M305.6 391.4h0M303.1 383.6h0M302.5 403.5h0M301.7 390.1h0M303.2 405.9h0M300.8 371.9h0M306.8 407.8h0M299.5 393.9h0M300.4 388.5h0M305.7 390.2h0M301.1 377.1h0M303.3 391.9h0M308.8 386.3h0M305.2 392.1h0M307.2 392.5h0M309.3 393.8h0M301.2 398.2h0M304.7 373.8h0M304.7 400.2h0M305.7 395.4h0M300.7 373.0h0M302.7 397.7h0M303.5 399.0h0M300.9 378.0h0M304.2 405.5h0M301.2 376.8h0M305.2 387.0h0M302.1 408.4h0M299.0 405.0h0M302.5 387.6h0M305.9 392.4h0M303.5 406.9h0M305.5 393.5h0M301.3 402.0h0M309.2 392.7h0M299.3 387.4h0M300.1 405.9h0M300.7 393.6h0M301.6 373.2h0M308.8 398.6h0M306.2 383.8h0M309.3 390.2h0M301.6 372.1h0M305.6 398.0h0M305.0 375.5h0M302.3 389.6h0M303.3 374.7h0M305.5 379.6h0M307.2 383.9h0M301.1 385.3h0M306.2 395.7h0M308.3 383.5h0M307.8 405.6h0M305.9 380.1h0M297.2 384.1h0M302.3 411.8h0M299.4 399.2h0M302.1 373.8h0M296.6 396.2h0M298.9 382.8h0M307.6 382.4h0M298.4 406.0h0M297.1 385.9h0M304.6 405.3h0M304.3 391.2h0M300.4 400.2h0M306.2 405.0h0M302.2 402.9h0M301.5 376.7h0M304.5 372.2h0M300.9 410.7h0M307.3 382.6h0M302.4 399.2h0M305.9 409.3h0M302.3 401.1h0M300.2 400.9h0M302.7 390.9h0M307.8 386.2h0M307.4 400.7h0M303.4 401.8h0M298.9 390.5h0M302.5 384.3h0M302.6 375.3h0M304.0 397.8h0M303.6 403.8h0M307.9 397.6h0M302.3 385.8h0M300.8 409.9h0M301.3 378.0h0M305.1 411.5h0M305.6 393.5h0M303.2 386.5h0M303.0 400.6h0M300.6 379.0h0M303.9 399.3h0M298.6 394.8h0M302.6 375.9h0M297.9 403.1h0M304.3 388.6h0M303.4 383.9h0M303.3 376.6h0M299.6 377.2h0M303.2 396.5h0M304.0 383.4h0M304.9 388.5h0M309.0 385.2h0M297.9 388.6h0M300.3 405.5h0M306.3 410.9h0M302.7 402.9h0M305.1 373.7h0M307.6 385.8h0M306.2 400.2h0M300.0 373.7h0M298.6 381.3h0M299.4 391.2h0M305.7 392.1h0M299.7 408.9h0M301.9 402.5h0M309.4 390.5h0M302.9 372.1h0M308.3 385.2h0M301.1 406.8h0M296.9 403.4h0M307.8 407.6h0M306.1 377.7h0M303.0 376.3h0M296.4 394.8h0M304.9 407.7h0M297.0 406.2h0M303.0 401.9h0M300.0 390.9h0M306.2 384.4h0M303.6 373.8h0M306.7 394.4h0M301.6 403.0h0M297.9 380.1h0M304.6 379.0h0M307.2 403.5h0M309.2 402.0h0M306.1 394.2h0M302.3 371.2h0M301.8 397.8h0M304.2 381.5h0M299.5 397.6h0M301.0 382.6h0M301.8 399.1h0M309.0 403.2h0M305.9 394.8h0M306.8 379.5h0M303.3 390.2h0M302.1 373.3h0M306.1 387.5h0M300.3 406.7h0M303.1 375.1h0M303.6 392.3h0M303.4 380.8h0M299.3 390.8h0M303.8 408.7h0M306.9 398.5h0M301.6 411.0h0M306.5 392.4h0M299.5 375.9h0M306.5 401.1h0M305.1 389.6h0M308.6 395.4h0M306.4 386.7h0M308.2 389.4h0M298.8 398.1h0M304.8 388.8h0M299.4 396.6h0M298.7 403.2h0M298.0 401.9h0M302.6 396.4h0M308.2 387.5h0M304.2 396.2h0M305.1 395.3h0M297.5 386.1h0M298.9 380.2h0M302.5 386.1h0M297.1 385.2h0M305.1 397.1h0M307.7 396.5h0M301.5 397.1h0M309.3 390.7h0M301.7 410.0h0M306.8 390.9h0M301.2 377.0h0M305.8 407.8h0M301.4 404.5h0M306.5 378.3h0M309.3 389.7h0M297.6 382.0h0M302.7 373.8h0M299.3 403.1h0M304.5 379.2h0M300.6 399.9h0M306.7 377.0h0M307.7 382.3h0M302.1 386.4h0M307.6 382.5h0M303.3 389.8h0M303.3 399.9h0M308.1 389.3h0M306.8 385.2h0M301.2 377.6h0M300.4 398.7h0M299.3 384.5h0M297.6 387.5h0M301.3 381.1h0M306.3 395.3h0M300.9 389.2h0M300.9 410.3h0M304.2 374.6h0M300.1 385.2h0M302.9 392.2h0M307.8 382.9h0M307.1 399.8h0M304.5 399.8h0M308.1 404.4h0M304.6 372.7h0M301.5 388.6h0M303.5 392.9h0M305.5 385.9h0M306.8 407.0h0M298.2 400.3h0M302.2 406.6h0M302.2 377.9h0M304.7 386.5h0M306.0 398.8h0M307.6 396.6h0M297.6 402.8h0M303.3 371.8h0M297.5 389.0h0M308.4 399.8h0M307.1 393.5h0M302.0 375.8h0M308.4 386.4h0M304.1 380.6h0M299.5 402.1h0M298.1 389.1h0M305.1 396.6h0M303.0 378.6h0M306.9 407.7h0M299.2 385.5h0M297.1 395.8h0M305.5 395.7h0M308.1 394.8h0M304.8 402.4h0M306.8 411.0h0M296.5 395.5h0M298.8 405.1h0M307.4 402.9h0M308.0 406.0h0M306.0 395.4h0M306.5 389.5h0M308.8 399.9h0M301.5 380.5h0M304.4 390.7h0M299.9 376.1h0M297.2 397.8h0M304.7 403.0h0M306.3 396.6h0M305.4 407.3h0M303.6 398.8h0M302.2 380.2h0M299.9 373.2h0M302.7 405.4h0M306.1 387.1h0M302.6 375.2h0M299.3 400.9h0M302.4 390.2h0M305.7 393.5h0M305.2 389.1h0M298.7 387.3h0M299.9 379.3h0M299.4 405.5h0M297.5 404.8h0M308.7 383.5h0M301.6 388.1h0M301.0 376.5h0M299.2 408.0h0M298.7 407.7h0M307.0 408.5h0M303.9 382.4h0M301.2 391.1h0M296.9 403.6h0M300.9 402.4h0M308.6 394.3h0M299.2 392.7h0M297.1 401.2h0M300.4 383.1h0M304.3 380.1h0M305.3 380.3h0M300.2 389.0h0M304.6 398.7h0M296.9 386.4h0M305.8 379.4h0M301.6 408.2h0M304.8 391.4h0M307.5 400.5h0M303.5 398.9h0M297.7 391.6h0M300.3 391.6h0M304.7 378.9h0M304.4 377.1h0M306.5 402.4h0M306.0 385.5h0M303.3 402.6h0M300.6 373.9h0M303.8 377.6h0M304.9 395.8h0M307.0 389.4h0M296.8 395.1h0M302.5 379.2h0M302.5 405.6h0M298.9 396.7h0M304.7 373.2h0M308.4 391.8h0M301.9 394.8h0M304.7 380.0h0M307.5 386.1h0M306.1 385.0h0M298.5 396.5h0M300.8 393.1h0M301.3 389.6h0M297.5 383.5h0M303.6 387.2h0M305.5 379.6h0M303.2 381.1h0M307.0 382.3h0M307.3 387.5h0M302.8 408.8h0M297.6 391.5h0M304.4 406.3h0M303.2 375.9h0M301.2 395.3h0M302.2 384.2h0M302.9 372.6h0M303.5 383.9h0M303.4 386.1h0M306.9 389.0h0M297.1 386.4h0M304.8 378.0h0M304.9 382.1h0M308.8 391.1h0M300.3 389.3h0M299.1 385.8h0M300.1 403.7h0M300.1 405.7h0M307.5 384.6h0M299.1 395.0h0M308.1 391.7h0M302.3 380.1h0M299.1 405.6h0M298.1 398.5h0M296.1 391.7h0M296.5 397.7h0M302.9 379.0h0M298.9 376.4h0M298.8 396.7h0M297.6 395.7h0M303.3 409.6h0M302.6 371.3h0M304.4 411.5h0M301.0 382.7h0M303.0 398.4h0M298.5 386.8h0M298.9 402.2h0M301.1 383.0h0M300.5 383.4h0M309.6 401.0h0M302.5 370.8h0M303.9 379.4h0M307.2 404.7h0M307.9 393.0h0M298.5 377.7h0M305.2 397.1h0M300.6 377.2h0M298.6 398.9h0M297.5 388.1h0M306.6 401.6h0M300.8 387.3h0M304.8 373.6h0M304.3 412.0h0M301.9 378.7h0M302.6 401.6h0M301.4 384.9h0M305.8 403.0h0M303.7 405.1h0M306.4 402.8h0M303.2 379.8h0M307.0 379.3h0M309.3 401.6h0M300.3 393.1h0M303.4 386.1h0M306.8 400.6h0M306.7 384.6h0M300.7 396.5h0M302.7 374.0h0M306.7 404.8h0M304.6 378.2h0M307.4 400.0h0M307.7 392.4h0M303.0 390.0h0M305.4 384.0h0M298.4 390.1h0M307.6 399.4h0M308.5 399.5h0M304.0 377.9h0M298.0 406.8h0M309.5 398.5h0M307.0 402.9h0M300.6 387.2h0M299.7 376.9h0M304.0 386.0h0M307.5 383.5h0M302.9 412.1h0M308.4 398.2h0M306.9 395.5h0M303.0 371.2h0M307.0 390.6h0M307.3 401.8h0M307.5 382.1h0M297.2 390.3h0M304.3 409.1h0M303.5 379.6h0M305.1 410.2h0M302.8 407.3h0M304.7 387.5h0M301.3 372.5h0M305.6 397.8h0M296.6 396.0h0M300.5 395.7h0M305.3 402.1h0M307.7 388.7h0M296.7 394.7h0M304.4 402.4h0M303.8 392.6h0M298.8 377.8h0M297.4 384.8h0M302.2 395.9h0M302.2 378.6h0M308.2 386.8h0M299.3 392.4h0M304.4 393.0h0M300.3 402.5h0M304.7 404.6h0M298.4 391.9h0M304.0 395.6h0M299.0 399.7h0M303.9 411.6h0M299.0 379.2h0M297.9 398.6h0M301.8 393.3h0M305.5 376.9h0" stroke="#b0ad16" stroke-width="0.95" stroke-linecap="round" fill="none" opacity="1.0"/>
<text x="268.0" y="310.4" font-size="8.3" text-anchor="start" fill="#222" font-weight="normal" textLength="22.8" lengthAdjust="spacingAndGlyphs" stroke="#222" stroke-width="0.18">Naive</text>
<text x="309.8" y="342.3" font-size="8.3" text-anchor="start" fill="#222" font-weight="normal" textLength="13.4" lengthAdjust="spacingAndGlyphs" stroke="#222" stroke-width="0.18">EM</text>
<text x="277.0" y="365.6" font-size="8.3" text-anchor="start" fill="#222" font-weight="normal" textLength="14" lengthAdjust="spacingAndGlyphs" stroke="#222" stroke-width="0.18">CM</text>
<text x="259.6" y="397.3" font-size="8.3" text-anchor="start" fill="#222" font-weight="normal" textLength="74.4" lengthAdjust="spacingAndGlyphs" stroke="#222" stroke-width="0.18">CD161+hi TEMRA</text>
<path d="M392.3 338.2h0M390.9 328.4h0M377.8 333.0h0M392.4 333.3h0M385.3 336.3h0M391.2 336.2h0M397.6 336.9h0M383.3 337.9h0M367.5 326.2h0M386.2 340.7h0M382.2 340.5h0M387.3 333.4h0M380.6 336.2h0M376.5 328.6h0M382.5 327.0h0M386.4 343.5h0M381.9 339.7h0M381.3 334.7h0M397.8 340.8h0M379.7 338.3h0M385.6 332.0h0M394.1 332.3h0M394.0 335.7h0M395.6 342.4h0M378.3 338.9h0M391.0 331.5h0M390.4 339.4h0M371.8 329.0h0M374.8 332.9h0M391.9 329.8h0M387.1 338.1h0M375.8 329.8h0M381.0 338.6h0M391.5 339.0h0M377.7 329.1h0M385.5 342.7h0M386.2 340.1h0M390.3 342.3h0M380.2 334.6h0M396.8 336.3h0M387.3 338.2h0M390.3 334.2h0M385.7 334.2h0M391.0 332.2h0M387.9 336.0h0M383.6 336.5h0M391.4 337.0h0M373.0 329.7h0M378.3 332.4h0M385.2 327.6h0M388.1 339.8h0M396.3 339.1h0M374.9 330.7h0M390.6 345.8h0M396.3 335.7h0M382.8 332.4h0M396.4 334.3h0M393.4 336.2h0M384.9 327.2h0M397.2 340.2h0M374.8 333.7h0M381.3 332.8h0M376.8 335.6h0M393.1 339.3h0M385.0 332.1h0M379.7 336.5h0M383.5 327.3h0M397.2 339.5h0M371.5 326.6h0M375.2 334.8h0M383.0 339.5h0M393.1 338.1h0M369.1 326.3h0M387.6 339.9h0M391.0 336.2h0M372.5 326.9h0M371.0 330.8h0M387.2 338.3h0M392.9 336.6h0M379.3 332.9h0M392.4 333.9h0M391.8 340.4h0M377.1 338.3h0M389.1 332.8h0M377.7 328.6h0M395.7 335.5h0M388.0 329.2h0M378.6 335.1h0M390.2 345.5h0M376.1 328.3h0M394.3 338.1h0M394.5 337.8h0M396.3 337.9h0M386.7 331.9h0M395.8 340.4h0M394.5 345.2h0M381.1 333.5h0M391.3 343.2h0M370.8 331.4h0M394.6 339.7h0M386.2 334.3h0M370.5 331.3h0M379.6 333.9h0M394.9 335.3h0M383.8 338.6h0M393.2 345.7h0M384.1 340.7h0M395.8 343.2h0M397.1 340.1h0M395.1 339.8h0M381.0 339.8h0M391.9 333.7h0M382.1 326.7h0M389.9 342.6h0M396.8 342.3h0M381.3 338.0h0M385.9 334.9h0M386.8 333.5h0M379.7 328.4h0M392.6 327.6h0M381.9 333.7h0M395.7 341.6h0M380.0 338.6h0M387.0 341.2h0M370.1 328.5h0M385.2 329.1h0M381.0 337.8h0M385.3 341.9h0M383.4 338.2h0M385.3 335.6h0M376.1 329.6h0M388.2 332.7h0M394.7 339.0h0M373.6 326.6h0M391.5 341.5h0M376.6 332.3h0M392.9 334.1h0M395.9 338.6h0M382.8 328.7h0M388.8 337.3h0M388.7 343.1h0M394.1 329.6h0M381.1 332.1h0M380.3 328.7h0M387.8 340.4h0M366.8 326.1h0M390.6 344.6h0M367.8 327.5h0M391.3 341.1h0M373.3 334.2h0M378.5 333.0h0M384.5 339.3h0M385.9 335.3h0M390.6 344.8h0M397.4 339.4h0M391.7 331.7h0M382.7 338.7h0M379.2 334.3h0M381.3 339.7h0M372.3 333.0h0M390.9 335.2h0M380.3 337.6h0M389.3 335.4h0M385.9 338.9h0M370.8 330.7h0M390.8 329.0h0M386.4 330.6h0M383.1 340.5h0M389.9 344.5h0M369.5 329.3h0M388.1 344.7h0M387.0 341.1h0M388.7 332.1h0M384.2 331.0h0M392.3 344.8h0M382.7 332.4h0M380.4 326.7h0M394.2 339.8h0M396.2 340.3h0M393.4 333.7h0M381.6 331.3h0M368.2 326.3h0M397.7 341.8h0M389.5 330.3h0M382.5 334.7h0M395.8 332.5h0M390.1 340.3h0M373.9 332.3h0M391.4 336.2h0M387.2 340.1h0M378.7 333.6h0M372.3 329.7h0M395.3 337.2h0M373.0 328.2h0M390.1 341.0h0M378.3 328.2h0M396.3 336.8h0M386.8 337.6h0M389.7 327.8h0M389.9 345.3h0M389.7 339.5h0M379.3 338.5h0M383.9 334.2h0M384.1 338.3h0M370.7 330.5h0M387.7 336.0h0M394.9 336.2h0M386.8 330.4h0M394.8 339.1h0M396.0 335.5h0M386.5 333.0h0M385.1 331.0h0M391.3 344.0h0M389.9 340.4h0M392.7 336.0h0M379.9 339.7h0M384.0 329.1h0M390.3 328.6h0M390.5 329.6h0M385.8 340.7h0M382.4 334.2h0M392.3 345.8h0M373.7 333.3h0M385.8 341.5h0M389.6 337.5h0M381.6 332.7h0M388.0 343.2h0M375.7 336.5h0M380.6 331.6h0M371.9 327.2h0M397.1 338.7h0M378.3 334.1h0M380.7 332.9h0M390.3 328.1h0M388.8 340.9h0M391.8 330.3h0M375.4 329.4h0M378.4 334.0h0M380.0 327.0h0M397.6 337.7h0M383.2 327.6h0M380.9 337.6h0M376.9 334.8h0M390.5 344.3h0M389.1 336.5h0M385.5 342.0h0M377.5 336.5h0M383.2 341.1h0M393.0 338.7h0M382.1 341.1h0M384.2 339.4h0M397.5 340.7h0M383.7 327.0h0M367.4 327.1h0M395.6 343.8h0M386.4 330.4h0M393.0 340.8h0M374.9 332.7h0M382.5 333.7h0M396.4 339.0h0" stroke="#e58a8a" stroke-width="0.95" stroke-linecap="round" fill="none" opacity="0.85"/>
<path d="M380.9 292.2h0M383.1 324.0h0M362.5 312.5h0M361.4 318.3h0M372.3 295.4h0M369.2 317.5h0M382.5 303.8h0M381.0 309.3h0M364.1 294.1h0M366.1 316.1h0M381.9 313.1h0M376.7 322.1h0M359.7 304.1h0M384.0 316.6h0M360.3 303.5h0M357.2 308.5h0M380.5 323.6h0M359.4 305.1h0M362.0 304.3h0M378.7 322.7h0M387.1 322.8h0M378.9 326.3h0M365.9 302.4h0M379.3 302.2h0M381.8 292.2h0M363.6 310.5h0M365.2 302.4h0M390.8 318.2h0M391.9 326.6h0M367.8 294.7h0M378.3 321.4h0M362.8 303.4h0M367.7 306.5h0M373.0 301.7h0M381.9 310.9h0M365.3 323.4h0M383.2 305.0h0M381.7 306.9h0M373.9 307.2h0M370.3 304.2h0M386.6 310.6h0M371.7 297.9h0M374.0 312.4h0M371.3 304.4h0M376.1 308.1h0M383.6 299.6h0M370.0 298.5h0M370.2 292.0h0M361.2 314.4h0M360.3 318.9h0M369.6 320.0h0M369.9 322.0h0M377.6 309.1h0M365.5 309.4h0M364.8 300.1h0M384.4 300.8h0M375.4 311.5h0M359.1 315.5h0M374.9 318.2h0M359.4 298.5h0M362.5 300.5h0M390.1 321.5h0M365.5 300.8h0M366.0 324.7h0M386.7 302.0h0M368.9 301.4h0M363.0 306.1h0M387.3 325.7h0M368.6 310.2h0M384.8 323.6h0M366.6 322.4h0M383.9 323.8h0M363.6 310.6h0M393.3 325.9h0M371.9 318.5h0M379.8 307.4h0M380.5 315.0h0M387.4 320.7h0M377.5 297.2h0M374.2 291.5h0M379.5 316.9h0M385.7 311.8h0M360.9 300.0h0M380.3 290.7h0M387.9 326.1h0M362.4 310.0h0M368.4 320.4h0M367.0 317.5h0M360.3 306.6h0M385.1 321.9h0M390.8 322.3h0M387.0 326.0h0M373.0 320.8h0M370.7 294.0h0M388.4 329.1h0M364.2 313.3h0M356.4 309.1h0M369.0 314.8h0M372.4 294.6h0M367.2 324.5h0M368.2 325.8h0M358.4 303.7h0M379.6 317.8h0M374.6 317.4h0M372.6 303.0h0M380.1 311.7h0M358.0 302.9h0M385.8 320.0h0M386.5 329.6h0M388.8 329.3h0M361.0 311.8h0M370.3 289.5h0M372.1 324.9h0M372.6 307.8h0M359.3 308.2h0M369.1 320.5h0M382.6 324.5h0M366.9 307.6h0M380.4 306.9h0M362.9 298.8h0M369.3 298.6h0M385.9 317.9h0M360.9 310.7h0M377.9 301.6h0M383.4 318.3h0M372.1 292.7h0M378.2 308.6h0M377.8 292.2h0M382.8 299.8h0M376.5 306.0h0M383.9 312.1h0M363.7 294.3h0M378.9 311.5h0M380.1 321.4h0M364.7 300.6h0M373.3 309.2h0M371.8 313.5h0M370.2 298.1h0M363.4 301.6h0M386.5 307.7h0M360.0 316.6h0M374.9 316.5h0M365.5 303.1h0M363.4 309.8h0M383.8 322.0h0M365.9 291.4h0M375.7 292.1h0M366.3 309.7h0M362.1 320.6h0M385.5 321.8h0M368.6 298.7h0M383.8 302.0h0M361.3 314.1h0M369.9 319.9h0M374.1 312.6h0M362.1 322.2h0M384.0 300.8h0M369.1 323.2h0M361.3 299.5h0M380.5 312.1h0M383.3 323.3h0M367.1 295.6h0M362.9 295.4h0M384.8 308.5h0M378.8 291.4h0M375.6 291.1h0M388.1 323.7h0M387.8 307.3h0M380.5 301.9h0M368.3 320.3h0M365.7 321.0h0M363.5 305.9h0M366.7 295.6h0M378.4 291.0h0M392.1 325.3h0M384.6 315.2h0M375.2 308.7h0M377.4 310.6h0M374.8 321.7h0M380.1 296.2h0M356.3 310.2h0M368.8 290.1h0M376.7 326.3h0M364.2 323.4h0M365.8 315.1h0M366.9 301.9h0M381.7 323.9h0M370.1 309.7h0M376.6 323.9h0M374.0 322.9h0M370.7 325.1h0M363.1 321.3h0M360.5 311.9h0M363.3 309.7h0M369.6 298.4h0M387.8 317.8h0M366.4 314.7h0M382.8 308.3h0M369.8 298.1h0M378.7 326.7h0M366.0 292.0h0M380.3 290.8h0M359.1 319.2h0M367.6 302.2h0M384.1 318.9h0M361.0 309.1h0M361.6 319.8h0M384.1 301.3h0M368.0 304.7h0M387.2 316.3h0M386.0 319.1h0M374.9 315.1h0M366.6 298.1h0M362.1 297.0h0M369.5 288.8h0M362.2 313.5h0M367.1 291.1h0M374.6 312.2h0M362.7 306.1h0M380.1 319.0h0M370.0 313.2h0M358.3 300.6h0M364.5 306.4h0M367.1 323.0h0M384.9 312.8h0M380.9 306.0h0M385.1 307.9h0M381.2 294.0h0M381.3 301.1h0M386.5 328.7h0M372.0 311.6h0M363.1 320.1h0M378.5 294.1h0M371.3 290.7h0M374.1 292.6h0M384.4 299.8h0M386.2 299.7h0M367.0 298.8h0M360.5 298.0h0M382.7 326.5h0M379.5 326.8h0M365.4 313.7h0M379.5 299.2h0M365.6 300.1h0M381.8 291.8h0M375.6 293.0h0M382.6 310.4h0M376.9 299.0h0M375.7 317.6h0M390.2 327.2h0M382.7 315.2h0M366.4 304.1h0M376.9 291.1h0M369.9 302.4h0M386.5 317.4h0M365.0 311.7h0M378.9 306.3h0M380.8 327.5h0M360.8 309.9h0M371.9 306.5h0M387.5 308.2h0M376.1 289.2h0M375.3 310.0h0M379.2 316.0h0M384.6 311.9h0M369.1 309.4h0M381.0 310.8h0M368.4 303.0h0M370.9 305.6h0M381.6 310.9h0M370.6 306.2h0M381.2 321.3h0M367.1 292.3h0M373.0 293.2h0M392.3 324.0h0M367.3 314.6h0M372.0 291.7h0M361.7 317.8h0M363.8 299.5h0M374.2 308.8h0M373.5 324.0h0M367.1 303.1h0M361.7 295.4h0M380.3 300.6h0M370.4 290.1h0M363.9 313.5h0M372.1 325.5h0M368.8 324.8h0M357.8 309.5h0M375.3 303.9h0M360.0 308.6h0M371.9 321.4h0M376.7 294.7h0M374.0 313.7h0M379.7 323.1h0M374.3 325.7h0M386.4 301.8h0M372.0 296.8h0M373.5 288.5h0M377.5 295.5h0M358.8 317.1h0M378.0 309.9h0M371.7 297.9h0M371.6 326.5h0M364.2 301.9h0M367.8 291.6h0M372.0 292.1h0M360.8 318.1h0M364.5 299.4h0M370.7 299.3h0M374.7 293.8h0M366.9 312.6h0M373.3 291.9h0M379.8 315.6h0M380.6 305.4h0M376.8 301.4h0M383.9 316.8h0M373.1 294.2h0M371.2 318.0h0M370.4 293.7h0M373.2 318.1h0M363.0 297.8h0M382.0 299.4h0M368.9 324.0h0M385.7 310.4h0M364.6 303.1h0M366.8 311.6h0M370.7 308.7h0M357.0 306.4h0M378.3 305.6h0M376.3 297.2h0M363.6 299.3h0M386.4 325.1h0M381.7 308.2h0M387.5 327.1h0M381.7 317.5h0M369.9 320.0h0M374.3 308.9h0M366.4 321.9h0M367.0 305.1h0M373.3 320.7h0M386.8 322.0h0M361.7 295.9h0M368.4 320.7h0M367.1 296.5h0M362.5 315.6h0M372.6 318.5h0M370.6 291.9h0M364.6 315.8h0M374.6 311.1h0M387.4 305.5h0M361.1 315.6h0M382.9 295.6h0M375.1 292.6h0M377.4 323.7h0M383.5 310.2h0M385.3 311.4h0M375.3 295.4h0M362.1 296.1h0M374.1 298.1h0M370.4 325.9h0M358.5 312.9h0M384.5 319.8h0M366.6 302.5h0M359.8 302.5h0M361.2 307.0h0M382.4 292.5h0M364.7 291.6h0M381.7 310.6h0M382.4 327.6h0M389.6 324.0h0M380.2 312.7h0M389.2 317.1h0M364.2 310.9h0M359.4 314.8h0M373.4 295.1h0M363.9 304.6h0M379.2 313.0h0M364.6 309.1h0M379.9 323.4h0M373.5 325.2h0M373.6 314.8h0M374.8 318.8h0M361.9 309.7h0M379.2 292.2h0M375.4 319.6h0M368.5 300.5h0M366.6 321.9h0M370.3 302.5h0M382.4 312.2h0M362.1 303.3h0M383.3 307.0h0M386.8 327.5h0M385.2 305.9h0M381.4 318.0h0M386.7 324.7h0M377.0 291.5h0M371.1 309.7h0M358.7 318.3h0M369.1 324.3h0M357.1 313.4h0M390.5 322.4h0M369.8 321.6h0M360.1 319.4h0M360.6 299.8h0M369.1 312.5h0M366.0 305.9h0M365.7 305.3h0M382.9 320.2h0M375.7 294.8h0M375.8 321.5h0M370.4 289.5h0M388.0 314.3h0M379.4 297.2h0M381.0 301.2h0M358.1 309.0h0M380.4 297.6h0M373.2 308.0h0M371.3 317.2h0M372.5 317.2h0M376.9 322.7h0M375.0 298.5h0M359.6 318.5h0M357.6 308.1h0M379.6 313.6h0M371.3 294.5h0M366.2 323.6h0M378.4 302.9h0M363.9 296.9h0M371.9 326.5h0M364.4 292.3h0M376.1 310.4h0M369.4 289.3h0M366.5 291.4h0M374.8 317.4h0M390.5 316.7h0M379.0 310.5h0M379.8 328.3h0M372.1 319.8h0M367.3 323.9h0M371.7 323.3h0M378.6 309.8h0M387.4 326.0h0M379.5 291.3h0M377.1 309.9h0M385.8 315.5h0M388.8 313.2h0M358.8 305.3h0M377.7 312.9h0M386.4 327.4h0M385.5 319.9h0M364.1 307.8h0M357.1 310.3h0M365.7 298.3h0M370.6 315.6h0M377.7 315.6h0M364.7 299.5h0M378.5 299.7h0M376.5 302.8h0M371.7 326.4h0M362.4 303.1h0M364.6 311.5h0M381.3 315.9h0M375.0 325.7h0M383.9 303.3h0M366.8 321.0h0M364.8 301.8h0M377.4 313.3h0M358.0 314.5h0M375.1 306.8h0M377.4 299.6h0M376.0 324.6h0M378.6 309.0h0M365.1 303.0h0M364.9 299.1h0M387.1 315.2h0M387.1 314.1h0M366.0 314.7h0M367.5 305.7h0M371.3 318.1h0M358.3 306.4h0M383.2 329.1h0M380.3 298.1h0M375.2 298.7h0M367.9 316.1h0M369.0 324.8h0M381.3 300.1h0M385.1 322.7h0M382.1 318.4h0M384.0 297.4h0M387.1 309.5h0M387.1 305.6h0M373.2 296.5h0M382.5 299.3h0M379.7 295.6h0M374.3 305.9h0M359.1 304.7h0M390.7 321.9h0M372.8 309.2h0M368.1 320.4h0M360.5 296.5h0M379.4 327.7h0M358.6 310.3h0M362.2 316.6h0M369.7 326.6h0M366.4 312.6h0M371.4 309.5h0M372.0 317.8h0M368.9 289.1h0M371.0 288.5h0M368.0 322.0h0M384.7 300.1h0M372.1 304.7h0M363.2 314.7h0M393.2 323.6h0M362.0 298.4h0M372.8 289.0h0M363.3 321.6h0M371.9 299.0h0M381.5 296.2h0M391.1 326.3h0M361.4 307.4h0M386.9 319.8h0M385.0 300.0h0M362.4 293.9h0M367.7 294.2h0M385.9 310.0h0M371.3 304.3h0M385.0 309.5h0M357.6 302.8h0M377.7 289.3h0M364.4 293.7h0M369.1 326.2h0M368.8 317.2h0M379.6 304.0h0M377.2 311.9h0M380.2 312.2h0M363.9 322.5h0M364.4 311.5h0M373.7 289.6h0M362.9 317.0h0M380.7 304.6h0M370.9 304.0h0M381.9 318.2h0M361.6 307.2h0M366.0 313.6h0M366.3 300.2h0M382.2 292.9h0M388.0 314.2h0M383.6 310.4h0M371.3 294.6h0M386.4 304.9h0M386.0 313.9h0M363.0 322.8h0M392.0 326.0h0M381.8 294.3h0M363.5 301.8h0M374.2 317.8h0M360.4 301.8h0M366.3 295.4h0M380.2 314.3h0M367.5 290.5h0M381.2 302.1h0M370.5 322.9h0M360.9 317.0h0M356.7 309.4h0M378.5 321.8h0M371.1 325.5h0M369.3 324.5h0M390.4 321.4h0M370.5 298.4h0M360.8 320.8h0M381.9 325.8h0M376.8 313.0h0M367.6 297.1h0M362.6 322.3h0M375.2 300.9h0M369.3 325.6h0M384.9 299.8h0M375.9 295.8h0M366.2 309.6h0M385.1 319.4h0M370.6 295.0h0M385.0 323.5h0M370.0 325.9h0M369.8 296.6h0M379.6 292.3h0M357.3 311.6h0M379.3 319.6h0M381.5 292.6h0M375.3 321.7h0M365.2 313.4h0M379.9 322.6h0M359.0 308.7h0M382.5 315.3h0M383.3 310.5h0M385.1 298.0h0M370.3 309.7h0M367.2 299.0h0M361.0 310.8h0M390.2 316.6h0M363.3 316.6h0M371.6 300.1h0M363.7 292.3h0M383.3 295.5h0M367.7 303.5h0M364.6 310.2h0M376.0 290.3h0M385.6 307.1h0M367.5 307.5h0M368.8 324.7h0M385.9 322.2h0M373.7 299.6h0M386.8 315.5h0M384.2 320.5h0M385.0 314.0h0M369.1 310.0h0M378.0 316.6h0M371.7 318.9h0M387.7 306.8h0M379.6 305.2h0M375.4 289.1h0M385.3 314.4h0M369.5 316.7h0M364.6 315.0h0M367.6 307.0h0M363.5 302.6h0M384.9 323.2h0M372.9 324.9h0M365.2 292.4h0M383.0 295.3h0M359.7 319.8h0M378.1 323.4h0M364.7 297.6h0M382.2 307.5h0M373.8 308.1h0M387.7 324.0h0M370.0 292.5h0M377.6 299.0h0M383.0 297.3h0M358.5 306.8h0M387.5 319.8h0M362.4 307.0h0M366.9 303.2h0M380.1 327.0h0M389.2 322.0h0M385.9 300.8h0M379.7 318.8h0M377.2 299.1h0M388.5 323.9h0M385.9 322.6h0M375.4 312.2h0M374.8 294.5h0M381.1 312.8h0M381.6 320.3h0M374.0 321.7h0M390.3 317.4h0M366.0 304.6h0M362.4 297.2h0M392.3 324.8h0M368.5 297.0h0M373.3 301.4h0M384.2 313.1h0M384.0 328.3h0M379.0 305.3h0M379.1 324.8h0M384.3 314.2h0M378.3 324.0h0M378.4 306.5h0M368.3 322.1h0M376.0 327.0h0M378.7 290.7h0M386.3 328.1h0M377.5 323.4h0M377.2 324.5h0M382.0 324.1h0M366.1 317.8h0M361.5 295.4h0M360.6 297.5h0M372.0 290.2h0M380.7 296.1h0M367.1 326.2h0M366.2 292.8h0M378.4 325.4h0M371.4 290.8h0M374.0 325.5h0M371.6 295.0h0M393.1 324.0h0M381.0 298.9h0M363.5 314.7h0M367.5 325.3h0M366.3 303.4h0M370.2 319.2h0M375.5 289.6h0M382.3 304.8h0M373.0 316.7h0M365.1 324.7h0M387.6 315.4h0M374.4 295.3h0M365.9 314.8h0M386.2 326.8h0M387.8 326.0h0M375.3 314.0h0M379.2 324.5h0M379.5 310.0h0M374.4 289.5h0M380.6 328.7h0M363.2 320.0h0M369.6 314.2h0M369.3 290.1h0M390.4 317.2h0M380.8 303.8h0M361.3 296.0h0M384.0 297.8h0M379.3 310.3h0M382.5 329.0h0M393.8 327.3h0M389.4 318.3h0M363.0 295.8h0M367.9 291.0h0M383.3 321.3h0M373.0 300.1h0M382.5 312.0h0M381.0 312.9h0M366.8 309.9h0M381.1 290.2h0M373.8 312.5h0M359.9 315.3h0M369.4 300.0h0M361.3 308.6h0M388.3 309.6h0M367.3 301.6h0M358.4 315.2h0M369.8 290.0h0M357.8 308.8h0M384.4 306.1h0M379.0 319.9h0M363.1 321.2h0M385.0 307.6h0M363.8 321.0h0M376.0 294.3h0M381.5 320.6h0M373.6 306.2h0M366.5 290.9h0M380.3 295.4h0M368.1 289.7h0M370.5 305.8h0M386.7 304.7h0M375.5 326.0h0M377.3 302.2h0M366.3 300.6h0M388.6 325.5h0M378.8 312.7h0M366.6 312.1h0M370.3 288.6h0M370.3 288.6h0M372.7 301.5h0M374.0 301.8h0M362.0 294.2h0M378.0 322.5h0M384.0 327.2h0M389.4 325.2h0M374.6 316.2h0M361.2 310.6h0M387.3 317.8h0M370.9 297.7h0M362.6 311.9h0M385.2 326.7h0M390.9 328.1h0M382.2 321.0h0M377.1 320.0h0M382.2 322.4h0M361.0 300.4h0M367.9 291.2h0M363.2 319.9h0M382.2 293.8h0M368.7 319.0h0M378.8 327.6h0M378.5 319.7h0M366.3 319.5h0M364.6 306.3h0M368.3 305.8h0M368.2 295.0h0M373.2 299.1h0M383.6 296.7h0M376.2 308.5h0M376.8 318.0h0M384.9 305.6h0M384.0 323.8h0M382.3 325.1h0M367.2 308.5h0M382.0 322.0h0M378.0 312.1h0M384.3 324.2h0M381.7 315.7h0M373.6 324.9h0M390.9 328.0h0M369.4 310.2h0M367.1 295.2h0M378.9 303.7h0M387.8 318.2h0M369.7 316.4h0M370.5 318.8h0M370.0 311.8h0M368.8 296.0h0M372.1 310.7h0M381.8 320.8h0M377.8 312.9h0M389.1 320.6h0M385.0 327.7h0M373.3 315.4h0M374.4 322.8h0M374.3 290.8h0M365.1 315.8h0M375.4 314.1h0M369.9 323.1h0M388.4 323.9h0M364.1 299.0h0M384.2 315.7h0M373.3 290.6h0M379.4 297.4h0M390.9 327.1h0M370.2 300.2h0M372.7 306.1h0M378.6 315.7h0M365.4 320.1h0M373.4 323.7h0M374.8 314.3h0M386.7 309.8h0M376.7 296.3h0M372.6 324.4h0M372.1 295.7h0M377.9 327.8h0M363.2 320.1h0M376.0 313.5h0M380.0 327.4h0M387.2 326.5h0M379.0 326.1h0M384.6 307.2h0M378.2 325.4h0M371.9 319.3h0M365.0 303.2h0M378.3 289.6h0M367.4 319.5h0M367.7 290.5h0M372.3 315.5h0M386.8 304.7h0M356.7 308.7h0M381.4 307.7h0M381.5 310.6h0M379.9 322.0h0M357.8 311.8h0M386.8 313.6h0M384.8 323.2h0M381.8 320.9h0M368.4 314.8h0M384.5 327.1h0M376.2 305.2h0M369.6 294.6h0M360.2 311.4h0M380.1 291.2h0M381.0 317.1h0M382.6 298.5h0M379.0 312.0h0M376.4 321.6h0M371.3 317.0h0M357.5 307.6h0M358.4 307.7h0M388.0 329.5h0M387.4 306.1h0M385.7 312.9h0M364.6 299.5h0M376.2 314.8h0M367.1 323.7h0M366.6 298.9h0M366.9 296.8h0M362.0 297.4h0M383.5 294.2h0M358.0 301.3h0M368.3 312.7h0M383.8 295.7h0M385.0 302.9h0M374.9 311.4h0M377.5 312.1h0M373.1 293.6h0M375.7 322.1h0M385.1 324.5h0M381.1 316.7h0M389.1 329.5h0M382.3 317.0h0M371.4 324.5h0M373.2 295.1h0M375.5 315.7h0M363.5 294.8h0M386.0 316.8h0M362.8 311.2h0M365.5 292.3h0M382.8 306.9h0M375.3 301.0h0M361.3 305.9h0M372.3 310.9h0M386.4 311.8h0M374.8 296.1h0M377.5 300.7h0M381.0 311.1h0M359.2 310.9h0M371.1 311.1h0M386.5 321.1h0M372.9 313.5h0M372.5 289.6h0M377.7 323.1h0M378.0 296.0h0M381.7 310.6h0M376.2 291.6h0M369.8 322.5h0M383.8 310.0h0M386.3 313.4h0M386.7 318.9h0M377.6 321.2h0M378.1 311.2h0M380.6 313.3h0M382.0 317.3h0M372.8 303.7h0M360.5 315.5h0M384.9 303.2h0M389.6 316.2h0M375.1 292.2h0M379.7 301.0h0M378.3 291.7h0M373.2 315.4h0M379.4 300.0h0M374.2 319.0h0M378.5 305.3h0M361.9 318.8h0M383.7 320.0h0M362.6 314.8h0M374.6 298.1h0M367.2 308.4h0M387.9 326.4h0M380.2 304.5h0M376.9 297.0h0M363.6 305.1h0M383.6 305.5h0M382.5 308.6h0M358.0 302.3h0M383.3 312.2h0M356.7 311.5h0M377.1 309.9h0M366.0 309.8h0M387.9 326.1h0M364.4 318.5h0M370.7 306.9h0M360.8 302.0h0M370.1 310.8h0M378.8 295.0h0M376.2 307.3h0M388.0 309.5h0M371.7 306.9h0M388.7 319.2h0M367.8 319.2h0M363.7 322.5h0M360.8 319.5h0M370.6 320.9h0M369.7 321.6h0M360.5 297.8h0M366.0 297.4h0M358.8 304.1h0M381.5 321.3h0M360.4 308.0h0M367.1 297.1h0M376.6 302.7h0M382.9 304.0h0M376.1 323.1h0M368.1 318.7h0M377.5 307.4h0M362.8 321.9h0M376.7 327.3h0M374.3 302.7h0M363.5 304.7h0M387.3 322.7h0M386.2 309.8h0M361.0 307.5h0M380.7 293.4h0M364.1 317.7h0M364.9 303.1h0M375.5 289.6h0M366.7 295.4h0M372.9 304.1h0M386.4 325.9h0M371.5 324.4h0M370.5 324.0h0M361.8 306.9h0M382.3 298.8h0M386.5 310.7h0M384.0 315.2h0M380.4 313.5h0M373.2 294.1h0M366.1 323.7h0M372.9 314.2h0M381.0 291.8h0M384.6 321.0h0M370.6 319.9h0M383.4 311.3h0M370.5 319.4h0M391.9 322.6h0M366.9 297.2h0M363.5 291.9h0M382.4 311.4h0M382.8 310.7h0M380.3 290.7h0M368.0 304.1h0M390.0 328.6h0M358.2 314.7h0M373.2 314.7h0M391.5 321.8h0M379.8 319.6h0M385.8 306.7h0M375.8 302.1h0M390.8 325.3h0M380.6 294.3h0M388.3 326.0h0M361.7 314.9h0M365.0 314.3h0M367.7 297.5h0M381.5 311.0h0M382.2 299.1h0M377.0 305.2h0M372.1 292.7h0M384.7 311.1h0M372.4 288.3h0M375.4 326.2h0M358.1 308.8h0M363.7 298.9h0M376.3 323.9h0M366.5 302.9h0M383.9 315.2h0M363.9 312.2h0M378.9 292.1h0M369.3 298.5h0M367.2 292.0h0M379.5 308.8h0M386.4 302.8h0M380.3 318.0h0M376.7 320.2h0M364.9 300.6h0M389.2 316.5h0M384.6 328.3h0M382.6 304.3h0M362.1 297.2h0M380.2 319.9h0M364.8 318.5h0M385.0 326.3h0M382.9 316.7h0M363.7 315.7h0M373.2 300.3h0M357.0 313.1h0M378.5 321.2h0M377.4 327.1h0M388.5 310.8h0M360.8 313.5h0M371.0 311.5h0M371.6 292.0h0M380.2 325.0h0M377.9 291.7h0M368.6 307.2h0M375.4 323.2h0M381.6 325.7h0M386.3 305.9h0M374.9 299.5h0M380.1 292.3h0M384.7 326.1h0M359.4 317.5h0M362.2 298.8h0M379.5 298.4h0M374.8 325.3h0M363.9 315.7h0M371.8 296.1h0M361.7 311.1h0M384.4 327.7h0M384.5 318.1h0M375.6 295.8h0M367.5 309.2h0M378.6 305.5h0M378.9 293.3h0M371.2 292.8h0M365.2 301.8h0M376.3 320.4h0M364.5 302.9h0M371.7 303.8h0M373.9 296.9h0M387.8 315.0h0M357.4 310.9h0M382.0 315.0h0M360.3 310.7h0M370.5 317.7h0M360.3 310.8h0M375.7 323.0h0M371.2 326.0h0M357.7 303.9h0M372.2 305.9h0M375.6 297.6h0M394.2 326.5h0M375.3 292.8h0M361.2 320.1h0M385.0 320.7h0M368.8 297.1h0M371.4 318.5h0M370.0 323.6h0M364.1 307.8h0M382.5 296.8h0M369.4 303.9h0M389.5 327.5h0M370.4 306.0h0M376.7 325.2h0M375.3 315.9h0M385.1 323.9h0M369.6 314.4h0M362.1 318.1h0M391.6 325.6h0M380.3 316.3h0M373.3 308.6h0M361.9 320.5h0M380.2 299.5h0M378.5 320.3h0M360.9 316.5h0M363.5 313.9h0M380.7 316.4h0M388.4 328.3h0M360.4 314.3h0M357.6 303.1h0M383.8 327.5h0M357.0 311.2h0M359.9 306.5h0M391.1 322.0h0M376.6 299.8h0M362.2 306.2h0M380.6 294.6h0M392.1 327.6h0M384.3 324.4h0M368.2 309.4h0M372.2 314.3h0M381.3 298.2h0M360.7 298.7h0M375.0 312.4h0M377.3 315.1h0M374.2 311.2h0M358.3 315.3h0M382.3 320.0h0M380.2 309.5h0M377.8 294.1h0M363.8 298.4h0M358.2 316.7h0M362.4 313.7h0M382.0 302.0h0M360.8 307.7h0M364.6 309.2h0M371.4 323.2h0M362.6 313.1h0M369.7 304.3h0M368.1 325.6h0M382.9 325.5h0M384.4 295.2h0M370.8 295.3h0M378.5 295.3h0M375.4 310.0h0M374.8 326.3h0M385.9 323.3h0M376.6 292.8h0M367.5 305.5h0M378.4 323.2h0M372.4 311.6h0M381.8 314.6h0M387.9 309.3h0M374.6 322.8h0M367.5 309.5h0M376.0 295.6h0M374.5 313.1h0M364.2 308.8h0M379.3 301.9h0M372.4 324.6h0M357.4 311.9h0M373.7 296.9h0M362.9 295.3h0M380.5 315.4h0M363.2 309.4h0M392.4 323.7h0M385.6 306.7h0M373.1 316.8h0M371.7 321.7h0M383.7 306.7h0M373.9 310.7h0M377.0 305.3h0M358.1 313.6h0M393.6 324.2h0M372.6 300.1h0M379.7 296.9h0M363.9 315.4h0M360.0 315.2h0M388.3 311.0h0M373.6 307.6h0M362.8 312.6h0M378.1 293.0h0M376.2 295.9h0M381.2 324.1h0M364.2 307.5h0M379.0 290.7h0M373.3 322.5h0M363.4 299.1h0M371.0 290.3h0M379.4 310.4h0M374.5 307.2h0M370.7 293.8h0M386.7 306.6h0M369.5 314.3h0M391.4 324.2h0M386.0 311.0h0M371.3 290.8h0M364.2 293.1h0M373.9 322.2h0M370.0 321.4h0M364.9 321.7h0M376.5 300.1h0M366.8 324.5h0M382.0 306.2h0M367.0 310.9h0M377.8 314.4h0M369.9 320.9h0M375.9 301.4h0M364.6 315.3h0M366.0 311.4h0M369.0 289.2h0M377.7 325.4h0M367.3 304.6h0M364.1 309.1h0M389.3 327.9h0M374.3 295.5h0M356.9 311.1h0M391.9 322.9h0M386.3 306.5h0M382.6 317.9h0M367.4 319.0h0M362.8 318.6h0M371.8 322.0h0M376.7 322.7h0M359.4 301.6h0M372.2 302.5h0M367.4 292.9h0M376.2 308.3h0M362.7 296.9h0M387.9 321.9h0M370.4 292.3h0M366.7 306.0h0M381.0 307.2h0M364.0 305.2h0M374.0 303.1h0M361.8 300.4h0M374.7 293.2h0M392.4 323.4h0M358.2 300.6h0M381.4 307.2h0M383.4 298.1h0M381.0 327.4h0M367.0 291.1h0M366.1 320.5h0M375.1 315.8h0M387.9 309.2h0M372.6 290.0h0M379.7 295.4h0M384.2 309.1h0M366.3 323.1h0M378.6 324.7h0M367.9 305.5h0M370.8 321.5h0M370.9 322.3h0M383.0 316.8h0M359.4 309.5h0M390.5 323.6h0M359.6 315.2h0M378.2 298.1h0M370.5 289.0h0M365.2 303.4h0M379.5 297.6h0M378.6 311.3h0M380.1 292.4h0M377.4 322.0h0M378.5 324.4h0M374.2 307.0h0M383.5 322.0h0M374.0 294.6h0M375.1 302.9h0M369.6 290.9h0M362.2 319.9h0M381.9 317.4h0M370.6 319.5h0M368.6 306.1h0M379.5 328.1h0M385.3 303.9h0M375.3 291.6h0M367.7 289.9h0M378.2 300.6h0M383.0 315.0h0M388.9 323.4h0M361.5 319.2h0M369.1 320.7h0M367.2 299.8h0M369.0 298.6h0M363.5 315.5h0M363.3 317.6h0M384.1 309.8h0M385.8 300.7h0M363.5 304.1h0M383.0 301.2h0M364.2 299.3h0M371.3 319.6h0M385.3 311.2h0M386.4 318.6h0M362.8 307.6h0M381.1 327.2h0M360.1 301.9h0M375.7 314.3h0M364.9 293.9h0M370.9 315.5h0M391.0 324.3h0M392.5 324.6h0M386.3 302.0h0M371.7 326.2h0M372.1 324.5h0M387.2 310.2h0M389.0 325.2h0M387.6 314.9h0M377.2 309.7h0M381.6 299.6h0M362.5 307.3h0M393.9 325.2h0M376.3 308.7h0M378.7 308.3h0M366.4 297.6h0M386.7 303.2h0M388.4 320.2h0M382.7 318.1h0M374.5 313.2h0M385.5 306.7h0M372.1 311.0h0M364.1 317.9h0M389.7 328.3h0M370.5 317.2h0M369.5 318.8h0M391.8 324.9h0M386.8 316.4h0M375.9 313.4h0M390.5 316.6h0M371.9 321.6h0M374.7 307.6h0M367.9 293.0h0M369.3 302.9h0M359.3 305.0h0M388.6 317.9h0M365.7 294.9h0M363.4 300.4h0M374.5 291.6h0M358.0 311.7h0M366.8 298.3h0M377.0 300.2h0M371.4 302.8h0M382.7 312.5h0M381.8 319.3h0M356.4 311.1h0M373.1 300.3h0M362.9 300.5h0M372.0 297.2h0M378.4 307.6h0M385.6 321.8h0M369.6 298.7h0M369.9 305.6h0M364.5 312.4h0M383.1 298.9h0M383.0 293.9h0M366.7 317.9h0M384.7 302.8h0M371.4 324.9h0M383.1 308.2h0M389.5 319.2h0M361.9 307.2h0M392.5 326.9h0M361.6 295.2h0M366.9 318.1h0M361.4 317.3h0M364.7 320.7h0M363.7 293.9h0M374.0 305.3h0M373.0 289.8h0M364.8 312.6h0M378.6 291.1h0M371.9 303.8h0M364.9 301.2h0M371.0 317.2h0M366.1 312.1h0M382.7 301.0h0M363.3 317.2h0M379.4 317.1h0M382.9 297.5h0M378.7 313.4h0M386.1 326.8h0M370.9 317.2h0M361.2 318.7h0M366.9 322.3h0M364.9 299.8h0M362.2 319.0h0M380.5 296.9h0M359.6 303.0h0M376.5 322.2h0M378.0 299.6h0M363.0 293.8h0M384.5 317.5h0M392.9 322.7h0M382.6 319.2h0M375.8 298.6h0M380.5 290.2h0M374.7 290.0h0M367.4 299.1h0M371.5 289.7h0M372.2 323.6h0M389.0 312.0h0M371.8 321.6h0M363.4 296.6h0M365.2 304.7h0M376.5 304.7h0M384.5 317.1h0M388.8 311.2h0M379.5 290.1h0M374.0 293.5h0M362.8 320.0h0M389.2 312.8h0M381.6 292.6h0M373.8 319.9h0M381.8 292.8h0M384.8 315.8h0M389.8 320.1h0M361.2 317.3h0M365.6 306.4h0M384.2 307.5h0M383.2 319.7h0M369.9 302.1h0M361.5 306.8h0M389.5 316.6h0M366.8 324.9h0M362.2 305.8h0M383.5 299.0h0M371.5 315.2h0M378.8 296.6h0M383.8 301.8h0M378.5 323.0h0M372.6 325.6h0M371.2 308.9h0M372.4 309.9h0M364.7 300.8h0M378.8 290.4h0M357.3 310.1h0M379.3 295.2h0M377.2 323.3h0M365.8 294.4h0M357.7 306.9h0M388.2 311.2h0M372.3 311.3h0M362.7 293.1h0M357.9 313.4h0M387.0 314.4h0M385.2 325.8h0M371.5 292.4h0M385.2 316.6h0M374.6 301.3h0M376.1 310.6h0M391.1 327.6h0M376.5 295.1h0M363.3 304.3h0M387.7 327.7h0M379.4 308.0h0M373.4 298.1h0M380.8 299.5h0M371.4 320.7h0M379.4 293.1h0M365.3 307.2h0M356.7 309.4h0M362.3 301.4h0M370.6 311.0h0M372.5 290.6h0M389.4 314.9h0M365.8 305.3h0M383.6 296.4h0M368.6 291.3h0M389.1 326.6h0M379.5 317.3h0M362.1 319.5h0M379.6 290.4h0M369.9 300.0h0M365.6 310.1h0M364.8 293.5h0M378.0 323.9h0M359.3 300.2h0M377.5 308.8h0M381.8 323.3h0M383.8 319.6h0M390.0 326.2h0M362.6 298.8h0M363.6 319.3h0M372.6 289.2h0M378.5 293.5h0M376.9 296.8h0M371.7 300.0h0M378.8 304.8h0M376.5 294.2h0M373.3 291.2h0M366.5 303.6h0M375.0 290.9h0M373.9 297.8h0M382.0 318.0h0M364.7 320.9h0M389.8 315.6h0M364.8 321.3h0M366.8 322.9h0M389.5 315.6h0M376.3 301.5h0M381.2 323.8h0M383.8 297.7h0M363.2 317.7h0M363.4 315.0h0M383.8 308.4h0M373.2 295.0h0M387.9 322.4h0M381.1 325.2h0M361.5 316.4h0M361.6 306.1h0M374.7 299.8h0M393.8 324.8h0M362.6 303.3h0M365.2 321.5h0M374.9 310.0h0M359.1 300.4h0M374.4 316.0h0M384.5 325.2h0M367.0 297.0h0M375.4 307.7h0M361.9 308.4h0M372.5 319.0h0M384.8 297.6h0M384.5 319.5h0M381.6 325.7h0M365.9 303.3h0M363.4 294.0h0M380.5 290.6h0M386.4 301.8h0M376.0 324.3h0M388.9 324.4h0M375.9 310.2h0M385.0 312.4h0M365.2 324.4h0M378.8 316.0h0M381.0 317.9h0M375.0 300.7h0M360.4 303.3h0M371.1 308.0h0M374.6 325.1h0M380.1 309.5h0M384.2 311.1h0M368.2 314.6h0M379.7 303.1h0M365.7 299.8h0M367.9 311.0h0M375.1 310.7h0M386.5 322.4h0M366.5 320.4h0M382.3 324.6h0M368.6 321.9h0M373.7 323.8h0M382.0 317.1h0M381.1 300.7h0M371.6 320.3h0M364.8 305.6h0M376.3 313.8h0M378.0 304.3h0M369.8 324.9h0M371.0 294.0h0M367.4 305.3h0M387.9 326.1h0M382.3 300.8h0M375.4 311.6h0M366.8 323.4h0M390.1 316.8h0M368.9 310.1h0M385.2 296.6h0M378.3 306.5h0M359.3 300.7h0M392.7 326.8h0M383.8 323.0h0M360.0 313.1h0M378.8 311.2h0M369.4 289.6h0M363.5 313.8h0M368.1 298.4h0M391.9 324.1h0M375.9 296.6h0M381.2 312.6h0M385.8 321.3h0M370.7 295.0h0M379.2 295.6h0M360.4 312.6h0M361.7 299.5h0M367.8 297.9h0M379.6 307.1h0M386.0 313.2h0M374.7 297.9h0M378.1 300.4h0M367.3 308.1h0M360.2 314.6h0M391.3 323.9h0M366.6 303.7h0M361.4 321.1h0M373.9 313.1h0M385.7 298.5h0M360.8 318.8h0M376.3 324.6h0M372.7 304.2h0M385.9 323.4h0M363.6 303.1h0M382.0 310.9h0M370.7 316.2h0M372.4 313.1h0M374.9 319.9h0M368.0 306.1h0M365.1 315.8h0M372.1 323.9h0M382.4 306.6h0M373.6 308.9h0M363.6 320.0h0M384.4 295.3h0M363.4 309.7h0M381.5 296.3h0M357.4 306.4h0M377.4 317.8h0M369.4 314.7h0M376.9 291.0h0M358.9 300.0h0M382.1 309.3h0M375.4 306.6h0M383.3 307.2h0M385.2 298.7h0M378.9 304.0h0M381.1 328.1h0M374.0 315.1h0M362.3 319.6h0M383.2 321.8h0M376.7 318.2h0M361.4 316.5h0M367.4 311.5h0M365.3 298.2h0M378.6 290.4h0M361.3 309.7h0M375.1 311.6h0M367.5 317.0h0M368.9 292.5h0M381.9 301.7h0M378.1 294.2h0M363.3 321.1h0M375.6 319.1h0M387.0 315.5h0M380.0 294.9h0M377.5 316.5h0M380.5 307.8h0M369.0 322.8h0M363.7 293.2h0M386.9 319.5h0M385.8 300.9h0M388.3 319.6h0M367.8 320.1h0M372.6 325.7h0M387.8 327.1h0M382.0 307.9h0M359.5 306.9h0M387.7 309.2h0M367.3 310.5h0M381.3 290.6h0M370.7 290.2h0M356.7 308.7h0M385.1 318.0h0M377.9 295.1h0M374.5 292.4h0M362.8 312.0h0M364.8 293.9h0M361.4 299.5h0M388.3 321.1h0M380.6 295.5h0M380.0 299.1h0M375.8 296.3h0M368.3 325.4h0M380.2 322.8h0M366.0 297.1h0M378.1 292.1h0M366.5 300.1h0M374.9 320.5h0M369.6 310.4h0M371.7 324.7h0M373.4 305.1h0M370.0 300.4h0M389.8 319.8h0M373.9 317.1h0M385.6 324.1h0M365.7 305.3h0M363.4 294.7h0M370.8 303.0h0M369.3 303.2h0M380.6 326.0h0M374.8 324.1h0M368.4 309.1h0M375.0 314.6h0M373.6 320.1h0M379.3 320.8h0M385.2 304.1h0M358.6 303.4h0M390.8 318.8h0M389.6 315.8h0M376.3 316.4h0M379.0 322.8h0M361.2 312.8h0M371.9 313.4h0M365.0 317.3h0M363.1 309.2h0M388.7 318.2h0M379.1 315.7h0M382.8 327.0h0M388.0 311.2h0M375.0 312.8h0M369.0 292.8h0M376.7 290.3h0M375.4 319.8h0M368.7 325.4h0M364.2 298.1h0M365.3 297.1h0M384.1 301.1h0M378.4 306.6h0M367.8 319.8h0M358.5 303.2h0M367.8 302.4h0M368.6 305.5h0M363.6 304.7h0M381.5 306.9h0M384.1 315.4h0M385.6 307.0h0M363.3 321.1h0M361.9 305.1h0M368.3 295.1h0M371.1 325.3h0M357.7 309.2h0M385.0 311.9h0M369.8 309.1h0M364.9 306.9h0M376.5 297.6h0M378.6 306.2h0M382.0 306.3h0M372.1 315.0h0M380.0 324.5h0M364.9 309.3h0M367.0 323.6h0M390.3 316.6h0M368.9 302.5h0M386.3 311.8h0M367.8 297.0h0M375.7 327.9h0M365.6 321.2h0M359.3 317.2h0M369.8 299.1h0M370.8 290.0h0M387.2 309.6h0M366.1 316.1h0M360.8 320.7h0M388.4 315.7h0M387.3 318.5h0M365.1 309.6h0M377.9 295.0h0M379.8 309.3h0M375.9 292.9h0M363.9 306.6h0M382.4 302.6h0M371.2 292.3h0M375.7 306.3h0M374.4 301.7h0M371.8 308.2h0M377.3 321.2h0M374.6 319.1h0M375.6 315.7h0M374.3 295.6h0M364.5 297.3h0M367.9 316.4h0M374.9 308.3h0M359.0 305.7h0M393.4 326.8h0M380.4 324.7h0M381.1 316.7h0M384.9 301.1h0M370.5 293.5h0M371.0 289.0h0M370.9 305.1h0M372.8 313.2h0M368.1 305.7h0M369.4 316.0h0M364.5 299.3h0M365.1 293.0h0M375.8 309.9h0M371.6 314.5h0M373.4 307.0h0M388.1 324.7h0M362.7 319.2h0M368.0 312.9h0M381.8 313.8h0M363.5 313.5h0M377.0 312.2h0M378.8 327.9h0M359.6 302.8h0M384.7 303.6h0M361.2 314.7h0M369.0 304.3h0M367.5 315.2h0M387.9 311.5h0M378.3 303.6h0M381.9 327.3h0M364.5 303.4h0M358.4 317.5h0M358.4 310.2h0M368.1 326.0h0M386.3 316.8h0M384.3 320.4h0M383.4 315.4h0M375.4 298.0h0M366.3 317.5h0M386.4 328.0h0M371.1 316.3h0M372.1 295.2h0M365.5 306.0h0M383.2 309.6h0M365.2 304.0h0M375.1 308.9h0M361.7 312.6h0M378.0 301.1h0M366.6 304.8h0M375.9 325.0h0M358.6 300.1h0M371.8 300.1h0M377.1 304.0h0M378.8 305.8h0M380.1 319.5h0M375.9 307.1h0M375.9 306.8h0M390.5 326.7h0M389.8 315.0h0M382.6 319.9h0M376.8 326.7h0M372.4 315.2h0M383.7 319.5h0M370.5 293.1h0M384.3 300.5h0M376.6 298.1h0M384.6 324.3h0M364.0 320.2h0M377.2 290.6h0M380.3 314.8h0M376.6 293.7h0M362.6 308.0h0M357.9 302.7h0M367.7 290.1h0M369.1 306.5h0M375.1 318.7h0M363.1 293.6h0M359.6 314.4h0M365.4 317.7h0M375.4 296.8h0M376.2 309.5h0M380.3 314.1h0M357.2 304.2h0M359.9 302.8h0M371.9 295.8h0M379.9 291.8h0M365.8 321.2h0M372.8 295.4h0M365.8 292.0h0M358.0 300.5h0M366.9 324.7h0M383.7 321.5h0M374.3 291.5h0M366.1 308.7h0M358.4 300.2h0M373.3 318.3h0M384.4 296.2h0M360.9 304.5h0M374.9 298.5h0M362.7 321.1h0M374.9 309.2h0M378.6 324.7h0M364.7 320.6h0M369.6 289.4h0M363.5 310.0h0M357.4 307.0h0M388.5 320.4h0M371.1 312.6h0M382.5 294.8h0M392.3 324.7h0M367.8 313.5h0M389.4 324.9h0M367.6 299.2h0M374.2 291.7h0M374.2 310.0h0M369.2 304.4h0M379.1 311.7h0M373.8 299.7h0M376.2 327.9h0M362.4 301.7h0M364.8 314.5h0M369.0 301.4h0M371.9 307.0h0M378.1 300.0h0M375.5 300.9h0M376.4 326.0h0M364.8 297.6h0M389.1 320.3h0M384.3 322.2h0M381.9 292.3h0M393.6 325.0h0M386.0 305.9h0M361.3 298.7h0M365.2 292.0h0M376.8 300.7h0M382.3 313.7h0M370.8 322.0h0M380.2 297.2h0M382.4 321.5h0M357.3 312.8h0M364.5 292.3h0M378.3 297.6h0M362.5 300.7h0M371.9 304.7h0M376.7 320.5h0M387.8 310.1h0M364.5 311.2h0M378.7 293.9h0M390.5 325.3h0M373.1 308.9h0M370.8 319.7h0M373.2 297.1h0M377.3 320.5h0M380.3 321.7h0M382.6 320.2h0M386.0 324.0h0M374.0 323.9h0M372.1 304.4h0M384.6 296.2h0M385.1 314.6h0M373.1 297.2h0M378.6 325.9h0M366.7 306.3h0M359.4 312.2h0M360.3 315.5h0M361.3 311.8h0M375.3 305.2h0M383.0 309.7h0M374.3 325.1h0M381.7 325.3h0M360.9 310.5h0M386.8 319.7h0M373.6 324.5h0M382.0 311.5h0M372.1 321.7h0M367.6 298.6h0M363.6 302.7h0M381.5 298.2h0M373.3 317.1h0M371.9 325.3h0M381.6 298.3h0M367.0 321.3h0M383.6 297.0h0M386.8 324.8h0M385.8 302.4h0M375.5 291.7h0M374.7 297.7h0M368.9 308.4h0M372.1 306.3h0M388.6 313.2h0M380.4 300.6h0M378.0 292.2h0M368.3 311.9h0M388.1 323.9h0M381.3 322.7h0M359.3 313.9h0M378.1 310.7h0M381.5 327.2h0M357.0 313.1h0M384.5 313.8h0M372.0 304.1h0M361.8 298.3h0M365.5 301.3h0M379.6 308.2h0M369.2 311.1h0M367.6 290.6h0M376.9 323.4h0M375.1 325.2h0M379.8 291.4h0M373.2 308.4h0M372.1 318.1h0M358.3 302.6h0M376.3 308.3h0M370.7 319.4h0M360.4 313.4h0M362.8 313.4h0M369.8 304.9h0M383.7 326.8h0M368.8 315.1h0M374.5 317.9h0M361.3 306.6h0M368.8 319.0h0M383.1 303.8h0M383.3 324.8h0M379.2 289.6h0M373.5 323.2h0M357.0 310.6h0M372.1 304.1h0M368.2 298.2h0M388.0 321.9h0M376.6 313.1h0M375.2 299.7h0M366.2 292.5h0M374.8 321.1h0M364.3 308.4h0M361.3 302.0h0M366.4 303.4h0M361.1 312.4h0M366.6 303.4h0M369.1 292.4h0M379.8 302.8h0M381.1 294.0h0M373.2 310.4h0M368.9 323.6h0M382.6 315.3h0M366.4 309.6h0M368.9 318.9h0M372.1 321.8h0M370.6 289.6h0M376.1 306.9h0M370.7 308.1h0M380.8 307.2h0M385.5 323.8h0M365.7 324.0h0M364.8 290.7h0M373.3 303.2h0M387.2 311.5h0M382.0 319.5h0M384.9 299.9h0M359.5 316.4h0M385.9 308.2h0M364.8 302.2h0M361.6 312.6h0M367.0 314.9h0M368.0 311.4h0M389.9 314.8h0M365.4 311.7h0M385.9 297.4h0M371.7 311.7h0M368.5 308.0h0M366.6 301.0h0M382.4 294.2h0M369.8 309.6h0M386.9 323.1h0M360.5 318.7h0M374.1 307.4h0M363.4 309.9h0M380.5 328.5h0M384.4 326.9h0M364.2 321.0h0M378.3 299.0h0M373.4 320.2h0M371.7 293.8h0M380.4 309.8h0M376.9 327.2h0M370.3 295.4h0M380.8 305.5h0M361.5 301.2h0M382.8 323.1h0M387.7 309.0h0M384.6 328.3h0M363.6 294.5h0M375.9 310.9h0M377.4 316.9h0M370.0 313.0h0M363.4 321.6h0M375.5 325.4h0M362.9 313.8h0M371.0 315.1h0M371.4 320.5h0M370.2 302.2h0M366.8 323.6h0M378.5 325.2h0M374.6 322.1h0M359.0 302.3h0M377.1 289.6h0M363.9 293.3h0M379.1 292.6h0M387.2 310.9h0M357.4 306.6h0M369.7 326.6h0M365.9 304.8h0M382.7 328.9h0M368.4 300.8h0M359.1 318.8h0M389.2 313.9h0M379.9 312.3h0M360.3 313.9h0M384.6 311.1h0M383.0 321.5h0M373.0 308.1h0M383.5 327.6h0M374.2 315.9h0M369.6 294.6h0M357.3 304.5h0M363.4 306.4h0M375.9 313.6h0M384.9 299.4h0M372.9 304.5h0M360.1 307.9h0M375.7 308.4h0M385.9 329.1h0M381.6 323.4h0M382.9 308.0h0M362.0 311.8h0M366.5 314.1h0M388.2 327.4h0M375.4 302.0h0M372.0 293.7h0M389.6 325.0h0M363.1 319.4h0M371.4 315.8h0M378.0 301.0h0M383.9 312.3h0M373.7 326.8h0M381.7 320.5h0M371.8 302.2h0M380.6 298.1h0M392.7 324.7h0M391.1 319.0h0M367.4 296.1h0M365.7 304.4h0M368.0 307.5h0M371.3 324.1h0M365.5 296.2h0M383.1 318.0h0M374.2 322.0h0M363.5 299.1h0M376.9 318.4h0M373.2 322.6h0M377.8 321.5h0M376.4 315.5h0M362.6 308.8h0M369.6 309.8h0M373.0 298.8h0M390.8 320.9h0M360.7 316.1h0M385.7 309.5h0M360.3 310.8h0M382.5 314.1h0M375.7 312.1h0M364.3 291.3h0M386.8 306.0h0M379.4 297.1h0M376.1 295.6h0M381.4 297.4h0M360.6 317.2h0M359.8 299.2h0M361.0 318.4h0M377.8 319.6h0M366.8 292.8h0M367.6 313.1h0M380.1 321.2h0M385.7 299.4h0M362.8 298.3h0M372.4 292.5h0M372.9 305.0h0M381.4 308.3h0M372.8 306.3h0M368.1 302.8h0M367.1 319.2h0M360.0 305.1h0M373.2 289.9h0M386.6 306.4h0M374.9 324.9h0M376.9 318.1h0M376.7 325.6h0M369.1 324.1h0M382.6 322.3h0M373.3 302.2h0M359.2 304.8h0M369.1 289.5h0M372.9 314.2h0M372.3 320.2h0M379.3 314.0h0M363.9 314.0h0M375.6 289.9h0M388.0 329.9h0M369.0 316.4h0M389.9 323.4h0M385.6 318.1h0M386.1 319.9h0M367.9 320.5h0M371.0 294.8h0M370.6 302.4h0M378.1 297.4h0M377.5 311.6h0M366.4 299.0h0M357.9 312.7h0M377.0 326.4h0M362.7 304.7h0M383.9 298.7h0M375.4 293.4h0M380.0 318.6h0M376.1 324.5h0M370.6 310.6h0M376.5 290.7h0M372.2 300.4h0M381.4 308.7h0M380.8 295.8h0M384.4 295.7h0M366.7 304.6h0M379.1 293.0h0M374.1 304.2h0M376.6 328.0h0M363.5 309.4h0M364.2 295.0h0M379.4 309.2h0M379.7 313.4h0M369.1 310.4h0M387.0 327.2h0M383.2 326.4h0M356.5 310.6h0M383.6 294.9h0M378.0 316.0h0M370.1 320.4h0M374.4 299.7h0M359.6 309.6h0M385.8 306.7h0M368.3 298.4h0M372.6 308.2h0M376.3 310.6h0M386.1 314.2h0M380.9 302.2h0M382.7 301.7h0M379.0 304.4h0M371.5 322.6h0M362.3 295.3h0M375.9 292.1h0M362.9 308.2h0M370.5 302.6h0M386.4 323.5h0M368.3 310.5h0M379.2 295.1h0M375.6 313.7h0M390.5 324.3h0M378.5 319.9h0M365.1 293.6h0M378.5 307.2h0M373.8 294.5h0M386.1 301.0h0M380.3 324.0h0M383.9 318.3h0M366.3 298.2h0M362.8 318.8h0M374.7 301.1h0M369.0 317.3h0M384.4 316.9h0M376.7 295.4h0M365.6 303.7h0M370.5 300.9h0M364.6 308.7h0M393.7 325.7h0M368.0 315.2h0M379.4 314.1h0M373.5 316.0h0M375.3 320.7h0M372.4 307.0h0M374.3 322.8h0M376.0 296.9h0M381.0 300.9h0M375.6 309.0h0M373.4 316.2h0M380.0 294.8h0M361.7 317.4h0M372.6 327.3h0M361.4 310.7h0M367.0 297.8h0M381.1 322.0h0M373.7 322.7h0M387.7 327.1h0M385.1 324.4h0M364.6 292.7h0M373.2 317.0h0M375.8 322.4h0M380.1 303.5h0" stroke="#e26060" stroke-width="0.95" stroke-linecap="round" fill="none" opacity="1.0"/>
<path d="M434.0 309.5h0M423.6 325.5h0M437.2 310.6h0M426.1 323.7h0M435.3 322.1h0M426.5 321.1h0M437.6 320.2h0M418.7 321.6h0M422.7 325.2h0M433.2 324.1h0M418.9 316.5h0M435.2 317.5h0M421.4 329.9h0M440.2 326.8h0M433.0 320.5h0M429.5 308.2h0M434.0 325.3h0M427.2 308.9h0M439.5 323.3h0M439.8 314.6h0M426.1 309.8h0M431.3 320.9h0M425.1 315.7h0M421.9 330.6h0M437.2 326.6h0M431.6 315.7h0M429.5 326.6h0M424.2 318.3h0M438.5 329.3h0M422.2 321.5h0M418.9 317.1h0M425.1 326.3h0M418.9 324.6h0M427.8 321.2h0M421.7 321.8h0M441.0 320.7h0M422.6 318.6h0M422.1 323.3h0M427.4 311.9h0M427.1 328.3h0M428.4 322.0h0M435.5 319.2h0M433.4 308.7h0M435.8 311.2h0M430.4 330.5h0M434.4 312.8h0M430.1 323.6h0M432.4 312.1h0M440.9 322.2h0M434.5 322.2h0M428.4 326.5h0M417.6 318.7h0M429.9 328.8h0M435.5 316.2h0M425.1 324.4h0M434.3 323.9h0M427.6 308.4h0M432.6 317.5h0M419.4 325.5h0M437.6 324.0h0M440.0 311.1h0M424.3 323.6h0M428.7 327.2h0M435.9 326.0h0M420.1 320.2h0M421.1 317.5h0M439.3 323.6h0M440.2 319.6h0M419.4 327.3h0M422.7 323.7h0M427.4 318.2h0M438.6 319.4h0M435.8 324.8h0M434.7 311.6h0M441.5 323.7h0M434.7 311.0h0M431.6 308.1h0M438.4 313.5h0M436.0 313.4h0M433.7 314.0h0M428.8 313.9h0M436.7 315.2h0M438.2 332.4h0M438.4 331.8h0M426.0 327.4h0M441.8 317.6h0M432.8 325.6h0M423.5 317.3h0M439.3 321.4h0M436.6 309.8h0M438.8 314.9h0M434.2 310.1h0M421.9 315.9h0M439.1 326.0h0M426.3 310.4h0M427.8 329.6h0M430.7 322.3h0M437.0 318.5h0M422.2 316.9h0M440.8 322.5h0M423.8 315.8h0M424.7 312.1h0M436.8 327.1h0M431.0 312.6h0M432.9 314.5h0M431.1 315.1h0M425.9 312.3h0M429.2 316.2h0M440.4 327.4h0M423.4 309.6h0M431.4 312.3h0M431.9 326.3h0M437.4 329.8h0M427.2 316.0h0M426.7 312.6h0M425.2 322.3h0M424.8 323.6h0M427.5 315.6h0M428.5 319.0h0M426.6 313.2h0M418.9 317.4h0M418.3 318.6h0M433.1 326.7h0M425.6 314.4h0M421.5 325.3h0M428.4 328.3h0M427.9 331.2h0M431.2 316.3h0M423.4 325.7h0M432.4 329.1h0M425.9 320.7h0M435.6 309.3h0M430.9 332.0h0M436.2 310.8h0M433.4 327.0h0M428.5 326.1h0M424.6 316.7h0M438.8 323.5h0M423.7 324.3h0M427.8 328.4h0M429.0 328.9h0M434.6 308.9h0M438.4 330.1h0M428.1 316.8h0M439.9 319.4h0M439.0 314.1h0M432.0 330.2h0M424.9 310.5h0M430.6 323.3h0M438.1 319.0h0M429.6 318.4h0M432.2 329.3h0M434.7 315.9h0M432.6 327.5h0M440.0 327.0h0M438.5 328.0h0M439.6 325.0h0M423.3 324.7h0M428.0 323.5h0M432.9 330.7h0M437.1 325.5h0M435.0 325.1h0M436.0 330.5h0M433.2 319.7h0M435.8 311.0h0M426.4 322.2h0M431.2 320.9h0M439.0 320.8h0M438.5 319.5h0M423.8 311.3h0M433.6 319.1h0M438.3 312.7h0M435.5 332.7h0M438.3 318.0h0M420.7 324.7h0M437.7 326.8h0M431.6 331.5h0M422.1 322.6h0M440.7 315.6h0M419.8 316.3h0M431.7 315.3h0M437.0 318.5h0M424.3 326.7h0M438.2 313.1h0M428.3 309.6h0M434.2 312.6h0M427.8 310.8h0M422.8 326.6h0M437.4 321.8h0M430.5 329.3h0M438.6 311.9h0M434.5 321.9h0M431.4 328.3h0M435.2 328.5h0M432.9 328.4h0M432.7 326.3h0M437.1 309.9h0M426.0 331.7h0M433.9 310.5h0M432.6 317.5h0M433.8 322.3h0M438.3 329.3h0M431.4 321.9h0M430.9 316.6h0M431.0 316.2h0M438.7 318.0h0M432.9 313.9h0M433.1 314.6h0M432.0 314.7h0M435.9 327.9h0M425.6 324.0h0M436.2 325.8h0M426.2 321.8h0M425.1 331.3h0M422.3 321.7h0M421.2 328.5h0M430.4 308.0h0M441.4 317.9h0M439.7 315.8h0M441.4 315.9h0M434.9 327.2h0M420.2 325.2h0M436.1 330.1h0M438.1 327.3h0M428.8 318.4h0M421.1 325.5h0M423.7 310.2h0M433.9 309.5h0M424.4 319.4h0M439.7 331.6h0M429.7 330.7h0M435.7 322.4h0M431.2 313.6h0M435.6 328.1h0M427.0 326.3h0M422.9 311.7h0M433.3 331.4h0M439.1 313.4h0M421.0 320.8h0M430.3 321.6h0M423.1 315.1h0M439.8 314.6h0M428.0 315.3h0M424.3 327.3h0M422.4 310.9h0M427.3 316.6h0M431.9 321.1h0M422.2 312.1h0M437.0 321.9h0M436.1 323.4h0M431.5 326.0h0M438.3 317.3h0M427.5 314.2h0M432.7 329.7h0M437.3 328.3h0M422.1 315.8h0M435.7 329.9h0M423.8 309.7h0M425.3 318.6h0M435.0 313.9h0M420.3 320.4h0M441.1 318.5h0M429.4 309.3h0M418.2 316.9h0M425.0 318.5h0M431.4 329.0h0M426.4 317.6h0M436.3 329.3h0M423.2 322.1h0M431.4 321.6h0M429.7 322.2h0M434.7 321.9h0M437.9 320.7h0M426.7 330.2h0M429.3 317.7h0M421.9 319.5h0M421.0 318.0h0M424.6 322.0h0M432.1 307.3h0M420.1 320.5h0M419.3 326.9h0M422.7 310.7h0M440.8 313.3h0M433.7 318.1h0M417.9 319.4h0M435.3 315.2h0M431.8 330.5h0M428.8 326.7h0M439.9 318.9h0M428.5 327.3h0M434.1 311.5h0M439.9 324.1h0M426.7 313.7h0M425.4 326.9h0M425.1 322.5h0M432.2 314.5h0M427.6 330.3h0M433.9 321.0h0M432.4 324.3h0M430.9 308.1h0M431.9 307.1h0M431.4 319.4h0M427.4 317.7h0M431.3 311.8h0M424.2 318.0h0M432.5 332.5h0M426.9 323.8h0M438.8 323.0h0M423.2 312.6h0M431.8 327.3h0M441.4 321.0h0M440.5 324.1h0M420.4 326.5h0M427.6 314.3h0M426.7 322.2h0M429.3 310.3h0M437.4 318.3h0M420.4 316.6h0M431.7 332.5h0M428.7 316.9h0M431.4 321.8h0M423.4 323.9h0M437.0 327.5h0M422.6 315.5h0M428.3 331.1h0M434.2 324.0h0M437.5 310.4h0M427.2 309.4h0M430.5 322.1h0M434.0 316.6h0M440.4 325.8h0M421.0 324.5h0M422.6 311.5h0M431.4 325.0h0M425.3 326.6h0M429.4 322.8h0M433.8 317.4h0M420.0 315.2h0M432.1 311.1h0M426.9 324.1h0M418.7 317.8h0M429.8 322.8h0M431.4 316.8h0M428.3 331.2h0M425.7 317.5h0M426.6 330.3h0M439.0 311.1h0M440.1 316.4h0M424.7 324.3h0M425.9 311.8h0M435.7 322.9h0M433.5 311.1h0M434.0 325.3h0M425.9 316.0h0M425.4 327.1h0M441.6 321.3h0M428.1 324.4h0M426.0 329.6h0M429.8 309.3h0M426.9 328.6h0M438.5 314.4h0M433.7 330.9h0M433.3 328.0h0M435.4 322.3h0M426.4 330.4h0M433.8 318.8h0M430.7 321.8h0M432.4 324.2h0M438.7 323.4h0M426.2 323.8h0M418.3 320.4h0M434.2 315.6h0M427.5 320.0h0M436.7 322.4h0M428.1 315.4h0M420.6 317.1h0M430.3 323.9h0M438.7 316.7h0M426.0 319.7h0M423.0 312.6h0M419.7 327.1h0M436.1 332.8h0M423.8 317.2h0M439.9 325.5h0M438.6 316.6h0M437.8 319.1h0M428.1 323.5h0M428.6 329.4h0M438.3 323.8h0M432.4 332.6h0M430.4 325.3h0M422.3 316.8h0M424.7 323.4h0M432.2 333.9h0M436.3 327.2h0M433.2 314.7h0M436.5 317.7h0M424.2 326.4h0M435.3 332.0h0M431.1 322.9h0M422.6 330.2h0M427.9 315.0h0M432.5 331.1h0M440.0 319.6h0M441.2 322.1h0M420.7 324.2h0M422.5 317.1h0M441.1 326.0h0M434.1 320.8h0M426.3 328.8h0M423.3 315.5h0M435.4 316.8h0M421.9 328.9h0M429.8 315.2h0M432.7 331.4h0M440.0 318.1h0M422.7 323.0h0M436.7 308.8h0M422.8 316.6h0M433.4 326.5h0M428.1 318.5h0M419.5 320.6h0M431.8 313.3h0M433.4 333.5h0M422.1 323.5h0M431.3 333.6h0M430.1 321.6h0M435.5 317.4h0M432.8 317.6h0M426.1 310.6h0M437.3 319.3h0M425.7 317.6h0M421.1 314.3h0M440.5 317.1h0M434.5 332.3h0M438.9 325.5h0M428.8 318.4h0M429.9 312.9h0M430.2 317.8h0M421.6 327.8h0M432.4 312.3h0M431.1 312.0h0M438.1 314.2h0M429.4 315.8h0M431.3 332.5h0M421.4 317.7h0M430.0 326.6h0M422.5 314.6h0M424.2 319.8h0M430.5 324.0h0M422.0 327.6h0M419.4 324.4h0M425.9 330.1h0M430.5 311.2h0M431.0 329.9h0M430.9 320.7h0M437.7 330.7h0M439.2 320.7h0M441.6 323.0h0M441.1 319.4h0M427.1 331.3h0M439.4 323.0h0M428.9 320.7h0M419.5 314.9h0M430.4 310.2h0M430.1 312.2h0M440.2 321.7h0M433.1 331.1h0M439.2 327.4h0M438.4 311.4h0M429.5 333.1h0M418.4 318.5h0M431.0 327.9h0M439.8 317.6h0M430.6 329.7h0M441.3 315.5h0M436.1 331.8h0M430.4 322.5h0M431.5 323.4h0M437.0 331.6h0M436.4 317.1h0M424.3 324.2h0M424.0 313.4h0M422.6 325.9h0M437.8 310.8h0M424.8 325.4h0M430.5 324.7h0M438.7 313.2h0M427.7 316.6h0M437.1 329.1h0M439.2 311.6h0M425.8 321.9h0M431.4 311.6h0M428.8 330.4h0M419.5 325.2h0M432.7 311.4h0M434.1 320.1h0M426.4 310.4h0M432.0 322.8h0M424.0 331.0h0M427.9 316.9h0M429.9 320.2h0M437.0 310.6h0M438.9 322.4h0M432.5 315.0h0M439.7 323.0h0M425.6 317.9h0M438.6 319.4h0M432.6 321.4h0M426.2 323.6h0M436.2 323.5h0M425.6 322.0h0M423.0 311.6h0M434.5 318.2h0M424.9 318.0h0M441.4 322.3h0M435.7 324.9h0M422.3 312.4h0M429.4 328.5h0M434.9 312.8h0M431.8 309.6h0M437.1 326.0h0M423.9 319.8h0M435.1 324.7h0M434.0 322.1h0M432.1 328.7h0M440.5 324.8h0M429.3 322.6h0M424.8 312.1h0M418.6 316.7h0M431.4 314.7h0M429.7 315.5h0M422.3 315.3h0M437.8 317.9h0M439.6 326.9h0M434.6 314.0h0M426.2 315.6h0M424.4 329.7h0M434.8 331.1h0M432.9 323.7h0M430.1 331.9h0M425.4 324.7h0M435.4 309.9h0M432.4 331.1h0M425.5 330.3h0M432.3 319.8h0M425.6 321.4h0M436.0 325.5h0M427.4 313.5h0M429.3 330.6h0M435.6 318.3h0M422.6 327.6h0M433.0 308.3h0M433.4 324.0h0M441.4 317.1h0M423.8 324.7h0M433.8 321.6h0M439.5 310.4h0M440.5 315.2h0M426.2 323.6h0M420.6 327.6h0M439.1 328.5h0M422.5 319.7h0M430.1 330.7h0M432.4 331.2h0M434.0 309.1h0M419.4 318.9h0M435.1 321.7h0M422.3 323.5h0M428.0 316.9h0M439.8 320.2h0M428.8 309.3h0M429.4 309.7h0M432.5 323.7h0M435.2 309.2h0M422.3 319.5h0M433.9 331.5h0M431.9 322.7h0M438.8 311.2h0M430.2 321.1h0M436.7 326.8h0M431.4 321.4h0M418.6 324.1h0M427.7 330.6h0M425.7 325.3h0M422.2 328.8h0M421.4 312.2h0M434.7 317.3h0M428.0 326.0h0M426.1 327.0h0M440.9 319.6h0M420.0 316.3h0M438.5 312.6h0M428.7 309.3h0M421.8 321.6h0M439.6 315.4h0M427.3 316.0h0M426.8 317.4h0M441.3 317.5h0M424.3 316.4h0M437.5 320.6h0M438.8 331.8h0M426.1 327.9h0M427.1 310.0h0M430.1 316.5h0M419.4 325.1h0M433.9 333.5h0M422.0 323.1h0M433.9 309.7h0M424.0 316.5h0M432.6 332.2h0M422.4 316.2h0M441.2 318.4h0M421.1 317.5h0M425.5 314.1h0M439.3 321.2h0M438.8 311.8h0M433.2 310.2h0M436.0 310.3h0M432.7 322.4h0M440.9 325.2h0M428.6 310.0h0M436.7 319.2h0M437.1 318.1h0M429.4 320.4h0M435.8 331.2h0M423.5 320.2h0M422.9 312.7h0M432.1 314.6h0M439.3 330.1h0M429.2 321.1h0M436.1 319.2h0M421.2 311.5h0M421.4 311.2h0M431.5 322.9h0M440.7 321.7h0M437.1 323.4h0M435.3 309.7h0M436.9 317.5h0M423.2 316.9h0M433.7 329.1h0M434.7 319.8h0M440.9 327.0h0M421.6 317.2h0M438.1 316.6h0M426.7 318.9h0M422.2 318.0h0M418.7 319.6h0M440.3 325.7h0M418.4 321.8h0" stroke="#e26262" stroke-width="0.95" stroke-linecap="round" fill="none" opacity="1.0"/>
<path d="M409.1 326.0h0M403.7 345.7h0M416.4 321.7h0M418.0 331.2h0M392.2 351.6h0M398.0 333.9h0M417.4 322.9h0M399.8 342.9h0M398.4 347.0h0M396.1 346.6h0M394.2 343.8h0M403.3 338.4h0M399.7 341.3h0M407.2 339.2h0M404.2 337.5h0M403.0 345.0h0M395.5 347.5h0M410.1 325.5h0M402.6 339.8h0M399.1 340.4h0M398.0 353.6h0M415.9 326.1h0M402.8 340.7h0M402.9 340.4h0M400.3 343.4h0M413.3 327.5h0M410.2 337.0h0M411.0 331.2h0M399.1 357.3h0M399.3 350.2h0M404.3 334.6h0M419.0 310.4h0M400.5 345.3h0M395.6 352.2h0M411.7 330.7h0M401.1 339.0h0M414.5 328.4h0M407.7 328.4h0M398.4 336.5h0M414.8 333.2h0M415.3 317.5h0M396.6 352.7h0M417.9 327.7h0M402.1 338.7h0M398.1 344.2h0M410.9 330.2h0M394.8 342.7h0M421.5 319.7h0M402.1 340.8h0M392.5 346.0h0M401.2 328.7h0M406.4 331.7h0M421.1 328.8h0M395.4 358.1h0M410.2 330.8h0M407.3 335.1h0M413.5 323.6h0M408.6 333.3h0M407.5 335.1h0M411.5 334.2h0M397.5 353.8h0M407.2 320.6h0M395.2 336.8h0M413.8 331.2h0M403.9 340.1h0M421.5 324.8h0M404.0 342.1h0M406.3 330.9h0M412.4 331.4h0M419.8 330.0h0M407.6 329.0h0M398.7 345.9h0M424.0 331.2h0M419.3 325.6h0M402.5 321.8h0M404.3 335.4h0M407.5 333.3h0M391.0 341.1h0M399.0 342.6h0M417.7 318.2h0M398.8 334.8h0M400.9 340.5h0M404.9 341.0h0M399.4 344.7h0M388.2 347.8h0M412.5 325.4h0M399.3 342.0h0M399.9 351.8h0M414.2 322.0h0M399.4 343.8h0M416.4 323.0h0M401.2 331.6h0M417.2 333.0h0M413.2 345.2h0M405.9 332.9h0M405.4 344.8h0M396.6 342.3h0M406.5 318.8h0M416.3 334.0h0M422.9 319.8h0M407.7 328.8h0M404.4 333.4h0M408.2 328.4h0M407.4 328.1h0M413.3 331.8h0M406.1 334.6h0M403.9 332.1h0M421.3 328.3h0M417.1 322.4h0M399.9 333.9h0M397.5 354.9h0M401.5 339.5h0M392.2 353.3h0M402.5 338.1h0M405.9 325.3h0M409.9 329.3h0M402.9 342.4h0M412.3 324.2h0M413.5 323.7h0M418.1 328.7h0M408.3 334.2h0M413.9 328.9h0M409.8 328.5h0M406.7 340.2h0M422.6 330.4h0M399.9 340.8h0M394.0 341.1h0M427.8 319.5h0M407.7 335.8h0M400.2 343.1h0M397.7 346.6h0M399.3 337.7h0M423.7 318.9h0M391.9 343.4h0M403.1 325.8h0M411.0 323.2h0M402.0 340.1h0M415.8 323.0h0M410.2 346.8h0M396.7 343.7h0M418.9 322.4h0M402.8 340.8h0M397.1 352.8h0M410.7 339.4h0M405.0 336.6h0M398.4 352.6h0M405.4 333.4h0M394.0 343.2h0M403.8 341.6h0M412.1 331.4h0M406.9 330.7h0M393.0 340.7h0M393.5 348.5h0M393.7 350.2h0M397.3 351.3h0M409.7 339.6h0M412.9 327.0h0M401.8 325.6h0M402.8 334.6h0M402.2 328.3h0M392.3 352.8h0M401.4 351.5h0M411.5 328.3h0M404.7 345.7h0M406.8 319.6h0M401.8 340.3h0M417.5 325.1h0M410.1 339.3h0M404.9 336.0h0M400.0 339.3h0M409.7 332.2h0M418.0 330.1h0M407.6 334.0h0M416.5 317.7h0M408.5 333.8h0M403.7 329.4h0M412.4 329.8h0M392.6 343.0h0M408.0 323.7h0M410.2 330.2h0M403.2 336.8h0M409.8 329.6h0M403.3 345.9h0M414.3 327.0h0M409.9 330.1h0M397.7 350.7h0M397.2 348.1h0M407.0 349.6h0M411.1 327.6h0M407.6 338.1h0M423.4 323.1h0M397.4 349.6h0M407.4 318.7h0M417.3 324.9h0M409.8 341.1h0M409.3 329.5h0M404.5 336.6h0M413.6 344.6h0M394.4 347.5h0M424.1 307.9h0M410.1 329.2h0M407.1 336.3h0M398.3 335.1h0M414.6 331.0h0M390.2 352.2h0M411.6 337.6h0M402.1 345.0h0M393.4 354.5h0M397.9 347.7h0M417.1 324.1h0M405.1 331.9h0M405.2 316.4h0M415.3 319.0h0M409.7 341.2h0M407.7 330.5h0M408.9 331.5h0M394.2 354.9h0M406.6 342.1h0M399.1 342.5h0M404.0 343.5h0M414.6 319.6h0M418.2 322.6h0M408.6 327.7h0M406.6 327.5h0M394.9 341.7h0M397.7 350.3h0M403.0 348.0h0M396.1 352.5h0M406.8 335.7h0M392.0 352.8h0M395.3 340.5h0M398.1 349.2h0M412.3 337.9h0M416.4 329.5h0M408.6 345.9h0M416.9 318.1h0M406.5 338.7h0M402.9 340.6h0M409.5 331.9h0M412.5 325.6h0M403.9 322.0h0M419.1 346.2h0M413.9 320.1h0M402.3 349.7h0M406.4 336.1h0M400.5 335.9h0M422.3 319.6h0M402.9 349.5h0M406.8 328.8h0M397.7 349.9h0M402.3 352.2h0M417.1 322.6h0M416.5 321.6h0M406.1 331.2h0M412.7 337.4h0M402.5 341.5h0M400.6 345.3h0M404.3 345.2h0M401.7 335.6h0M409.5 340.2h0M415.6 319.7h0M395.5 350.3h0M399.7 357.4h0M400.9 339.0h0M401.1 350.1h0M409.6 332.4h0M405.4 337.9h0M420.8 328.0h0M410.5 324.6h0M418.2 335.0h0M400.8 341.2h0M413.5 321.5h0M409.6 329.3h0M409.4 348.6h0M402.2 349.4h0M421.7 317.2h0M396.3 344.4h0M414.0 329.3h0M402.8 335.7h0M398.5 349.8h0M399.9 333.1h0M395.8 328.5h0M424.2 323.7h0M409.5 339.1h0M409.3 332.4h0M407.7 337.3h0M410.1 322.7h0M410.9 333.5h0M426.5 329.8h0M417.3 327.1h0M406.1 334.6h0M420.8 307.6h0M408.4 331.0h0M413.1 328.8h0M411.2 321.7h0M414.5 330.6h0M399.1 345.7h0M401.8 341.2h0M415.5 325.4h0M403.3 326.4h0M398.5 341.7h0M413.9 329.1h0M406.5 346.0h0M401.9 341.2h0M405.1 336.4h0M412.1 330.7h0M399.4 343.8h0M412.7 332.5h0M399.5 345.4h0M395.2 347.4h0M409.2 326.1h0M399.1 345.0h0M412.1 322.6h0M409.9 330.2h0M414.9 318.6h0M395.5 347.8h0M416.1 328.4h0M407.9 335.5h0M404.3 329.6h0M415.7 329.5h0M405.0 343.0h0M418.3 326.2h0M396.4 348.1h0M412.9 341.1h0M416.2 332.9h0M406.0 323.2h0M407.7 348.0h0M415.7 314.5h0M411.2 337.2h0M405.2 337.7h0M411.9 317.5h0M419.2 311.2h0M396.6 338.9h0M402.0 340.3h0M406.7 335.8h0M396.4 348.8h0M403.1 339.5h0M410.2 331.9h0M397.3 336.2h0M411.7 326.0h0M413.9 326.6h0M417.7 327.0h0M403.0 329.7h0M399.9 340.5h0M403.4 333.3h0M397.7 350.5h0M413.6 322.7h0M409.0 346.7h0M420.0 314.9h0M428.8 323.7h0M419.2 320.0h0M410.9 334.6h0M411.5 334.2h0M402.1 334.0h0M416.8 329.2h0M411.6 315.7h0M401.2 334.9h0M414.3 332.2h0M412.5 317.8h0M400.9 343.4h0M421.9 323.6h0M393.7 352.2h0M398.2 355.1h0M412.6 316.0h0M407.2 327.7h0M415.4 333.6h0M406.0 334.8h0M399.2 357.0h0M411.4 328.4h0M413.9 331.5h0M422.3 329.1h0M398.6 355.0h0M408.3 323.2h0M415.4 325.7h0M408.9 330.8h0M411.5 328.6h0M400.9 355.7h0M404.5 335.2h0M402.8 345.8h0M397.2 342.5h0" stroke="#c080c0" stroke-width="0.95" stroke-linecap="round" fill="none" opacity="0.85"/>
<path d="M412.9 324.7h0M410.9 329.5h0M414.0 323.5h0M410.9 330.4h0M405.9 337.1h0M403.1 340.4h0M403.9 336.0h0M401.4 346.4h0M406.4 335.7h0M411.2 328.6h0M403.3 344.9h0M401.0 341.6h0M404.9 337.4h0M408.1 335.7h0M405.9 335.0h0M413.4 321.6h0M411.2 330.6h0M408.6 325.9h0M402.7 344.9h0M412.2 327.9h0M404.1 343.7h0M415.8 325.7h0M404.9 339.1h0M402.2 345.6h0M409.5 332.9h0M409.3 334.8h0M407.0 339.7h0M409.7 328.9h0M402.0 342.1h0M414.1 324.0h0M403.5 342.5h0M407.3 336.9h0M403.0 342.6h0M405.9 339.4h0M403.0 345.0h0M415.5 325.2h0M402.6 339.2h0M405.7 334.2h0M404.7 341.3h0M412.8 324.1h0M412.7 330.0h0M409.4 333.8h0M405.6 336.9h0M403.1 340.6h0M407.7 336.3h0M415.1 324.0h0M412.1 328.6h0M414.3 323.9h0M403.4 345.6h0M411.3 327.0h0M413.3 326.5h0M414.1 319.3h0M410.0 323.6h0M414.3 325.5h0M399.8 344.6h0M413.5 324.1h0M405.4 339.7h0M408.9 333.0h0M413.1 325.3h0M413.4 326.0h0M405.9 334.0h0M413.6 328.4h0M409.3 329.5h0M410.3 333.9h0M404.5 338.7h0M415.1 323.0h0M409.1 331.5h0M406.3 341.2h0M409.1 328.4h0M406.3 339.0h0M407.7 332.8h0M410.5 329.7h0M405.3 335.4h0M404.9 341.9h0M402.3 340.4h0M404.7 342.2h0M413.7 322.5h0M414.5 321.6h0M402.8 342.9h0M412.0 331.6h0M403.0 343.6h0M402.6 346.9h0M399.9 345.5h0M409.8 333.8h0M403.8 339.9h0M404.9 347.4h0M412.1 322.6h0M403.1 343.1h0M415.6 324.1h0M404.0 342.9h0M411.6 326.5h0M399.3 343.3h0M415.9 321.7h0M411.4 325.3h0M413.7 326.0h0M411.5 324.3h0M413.6 323.8h0M413.5 325.3h0M403.1 342.8h0M411.1 330.7h0M413.9 324.3h0M413.5 324.1h0M401.5 345.2h0M412.6 332.3h0M415.8 323.4h0M406.7 334.5h0M406.7 333.8h0M406.8 335.8h0M411.4 331.2h0M409.7 335.8h0M411.1 328.0h0M411.8 331.6h0M413.5 321.0h0M401.9 344.3h0M406.2 337.5h0M403.2 342.3h0M403.0 339.5h0M409.0 330.7h0M409.5 334.3h0M406.4 332.1h0M425.2 331.8h0M421.5 330.5h0M425.5 332.5h0M428.8 334.8h0M427.2 327.9h0M421.8 332.4h0M421.5 334.1h0M424.0 323.9h0M425.6 333.3h0M420.9 333.6h0M422.6 341.8h0M433.7 336.0h0M429.8 342.7h0M430.7 323.2h0M431.2 336.1h0M425.0 322.5h0M425.5 338.5h0M419.5 327.8h0M424.2 343.4h0M422.4 332.8h0M427.5 320.2h0M429.1 336.8h0M424.5 339.5h0M423.5 324.0h0M424.0 326.7h0M426.0 343.4h0M422.8 325.0h0M429.6 319.2h0M427.2 334.5h0M423.2 343.1h0M423.1 321.8h0M424.2 336.0h0M429.4 320.5h0M424.6 335.7h0M429.4 332.2h0M424.6 334.5h0M430.5 331.0h0M427.1 323.7h0M425.3 336.6h0M423.6 334.9h0M428.9 340.1h0M424.2 322.6h0M423.6 330.5h0M433.4 327.3h0M420.5 331.0h0M432.7 334.3h0M430.2 321.7h0M430.0 322.3h0M424.6 323.3h0M425.2 324.7h0M432.1 336.8h0M423.5 325.2h0M423.8 329.7h0M428.4 329.5h0M432.6 332.7h0M432.7 328.8h0M427.7 341.8h0M427.0 339.9h0M433.9 335.2h0M425.1 339.2h0M422.9 323.5h0M431.9 337.0h0M433.4 332.7h0M419.6 329.6h0M429.0 340.3h0M433.0 335.3h0M421.9 330.2h0M424.2 323.8h0M424.2 321.9h0M419.8 323.4h0M430.2 335.9h0M423.0 330.0h0M421.4 330.5h0M426.3 344.6h0M428.3 339.9h0M426.4 324.0h0M423.0 332.2h0M424.7 322.7h0M427.9 343.5h0M429.9 336.6h0M430.0 343.9h0M428.7 323.4h0M430.2 331.4h0M425.8 327.6h0M431.0 324.0h0M427.1 320.3h0M427.4 322.0h0M424.0 322.7h0M425.1 322.7h0M429.7 325.6h0M429.9 324.9h0M419.7 324.3h0M429.8 338.8h0M423.6 339.0h0M430.9 327.9h0M421.2 322.7h0M431.9 327.9h0M422.6 341.1h0M429.7 342.2h0M426.0 320.8h0M432.5 334.8h0M433.3 336.6h0M424.0 324.7h0M423.4 325.5h0M429.7 320.4h0M427.9 319.9h0M426.7 343.1h0M420.1 330.8h0M421.3 328.6h0M426.8 342.9h0M426.3 340.8h0M426.6 336.8h0M421.2 334.0h0M419.5 333.6h0M424.4 329.5h0M428.8 340.1h0M422.6 328.1h0M427.0 329.9h0M426.2 326.9h0M422.1 327.3h0M421.8 324.6h0M430.0 321.6h0M431.3 333.4h0M423.0 342.9h0M431.3 341.7h0M432.4 335.6h0M425.7 333.6h0M425.1 330.9h0M430.0 328.8h0M430.8 323.3h0M427.3 328.7h0M434.1 334.3h0M434.3 332.0h0M431.7 332.8h0M431.6 336.7h0M429.6 343.1h0M426.4 334.1h0M425.6 343.1h0M432.6 328.7h0M425.2 336.9h0M419.9 334.1h0M427.1 339.4h0M431.6 323.5h0M426.4 337.3h0M426.0 324.2h0M428.7 327.3h0M421.0 323.3h0M432.3 342.3h0M429.1 331.6h0M428.0 344.0h0M426.9 342.6h0M425.1 324.8h0M425.8 327.7h0M428.5 334.7h0M432.7 327.8h0M426.3 323.2h0M420.1 332.6h0M420.0 328.4h0M421.9 339.7h0M429.5 340.5h0M421.4 326.9h0M429.3 325.3h0M430.1 340.5h0M427.0 343.4h0M421.4 323.9h0M429.7 334.8h0M425.0 336.1h0M424.5 339.0h0M424.2 339.5h0M425.1 336.5h0M427.3 343.6h0M420.8 331.3h0M422.0 330.4h0M426.2 333.4h0M432.1 337.6h0M421.8 339.4h0M425.9 338.2h0M430.9 329.8h0M432.6 335.4h0M422.3 329.1h0M419.5 330.2h0M424.6 342.2h0M422.1 330.3h0M423.4 330.2h0M419.7 323.2h0M426.7 320.4h0M432.7 337.0h0M431.1 335.8h0M428.4 337.8h0M431.8 335.7h0M432.8 328.0h0M423.1 334.7h0M432.7 325.7h0M424.8 338.0h0M426.0 338.5h0M425.6 339.5h0M429.7 328.3h0M431.9 326.7h0M420.8 330.1h0M428.7 320.3h0M431.8 336.0h0M423.8 332.2h0M426.1 337.1h0M427.6 335.4h0M431.6 332.5h0M430.8 330.7h0M429.0 333.9h0M423.7 335.8h0M421.0 337.5h0M424.7 325.8h0M424.0 321.7h0M427.4 326.3h0M423.1 336.4h0M427.0 331.1h0M426.5 345.0h0M427.8 344.7h0M433.0 327.7h0M424.1 320.7h0M434.3 329.9h0M423.5 336.8h0M422.6 321.2h0M420.7 337.9h0M428.6 324.7h0M421.1 331.8h0M431.6 325.5h0M427.0 340.4h0M430.1 341.0h0M430.2 336.8h0M432.6 336.9h0M430.1 335.9h0M424.3 324.7h0M431.5 324.6h0M424.3 337.9h0M433.3 332.5h0M422.4 335.9h0M423.3 326.1h0M422.1 328.4h0M424.7 338.7h0M427.8 342.7h0M426.2 333.6h0M427.2 323.4h0M423.5 334.9h0M430.9 326.2h0M421.7 338.3h0M432.1 325.2h0M423.8 335.2h0M419.6 335.3h0M431.4 322.6h0M425.2 342.6h0M420.5 333.3h0M422.9 339.5h0M434.2 332.9h0M431.0 321.3h0M433.7 327.7h0M425.1 342.7h0M434.3 328.6h0M426.2 342.4h0M427.0 321.9h0M421.2 330.1h0M431.9 324.0h0M425.4 336.2h0M427.9 329.1h0M422.4 335.3h0M421.8 335.2h0M427.1 338.5h0M421.2 335.1h0M429.0 321.2h0M430.2 327.4h0M427.6 321.6h0M425.9 339.1h0M429.2 328.3h0M429.3 323.0h0M422.0 335.5h0M428.4 319.9h0M429.2 345.0h0M426.4 338.0h0M431.9 342.5h0M433.1 336.7h0M433.6 327.7h0M430.4 338.9h0M430.9 330.6h0M424.5 339.8h0M427.2 340.3h0M427.2 343.1h0M429.2 327.5h0M420.4 326.7h0M431.0 324.7h0M424.6 344.2h0M425.6 331.0h0M422.7 325.4h0M425.8 341.3h0M428.1 337.6h0M430.9 324.2h0M423.7 324.0h0M419.9 332.4h0M428.8 341.4h0M429.2 320.2h0M423.8 323.6h0M428.2 322.4h0M420.5 326.7h0M427.1 360.6h0M427.8 342.4h0M425.7 340.1h0M429.9 350.0h0M426.6 353.8h0M430.3 359.9h0M428.6 342.4h0M425.1 342.4h0M426.6 356.0h0M428.6 344.2h0M429.1 346.1h0M427.4 349.5h0M426.5 342.1h0M426.5 340.5h0M428.1 352.9h0M426.6 349.4h0M428.4 342.3h0M430.7 357.3h0M428.4 351.3h0M426.3 348.2h0M430.0 352.5h0M427.0 342.4h0M425.7 351.1h0M426.8 352.1h0M427.3 343.1h0M426.2 344.9h0M428.8 349.9h0M424.6 352.0h0M424.0 349.2h0M428.2 346.2h0M429.9 358.6h0M427.8 345.0h0M428.1 350.1h0M426.7 339.7h0M430.0 351.5h0M426.2 340.1h0M427.2 341.6h0M428.9 355.1h0M428.9 349.1h0M426.6 347.9h0M427.0 348.4h0M427.4 354.0h0M428.5 355.7h0M426.4 342.3h0M430.0 358.0h0M426.6 349.2h0M427.5 354.8h0M427.4 347.1h0M427.1 350.9h0M426.5 344.9h0M430.1 361.0h0M429.8 350.8h0M427.9 341.3h0M426.4 349.5h0M426.7 342.6h0M427.5 354.3h0M428.6 353.1h0M428.1 349.6h0M426.1 343.2h0M427.3 352.3h0M428.5 354.2h0M429.6 358.2h0M425.6 343.5h0M428.1 352.3h0M426.9 348.0h0M429.1 352.1h0M425.6 351.2h0M425.7 340.8h0M426.7 341.0h0M423.5 343.8h0M427.6 346.7h0M427.6 341.8h0M426.6 353.0h0M427.3 345.4h0M425.3 340.3h0M429.9 355.4h0M426.1 341.3h0M426.0 343.2h0M427.8 358.0h0M427.4 342.7h0M427.2 353.1h0M430.7 357.6h0M429.9 354.5h0M426.5 358.6h0M427.5 352.2h0M427.5 354.3h0M428.3 355.8h0M427.2 345.8h0M427.6 350.1h0M428.8 348.9h0" stroke="#b468b8" stroke-width="0.95" stroke-linecap="round" fill="none" opacity="1.0"/>
<path d="M394.8 365.6h0M384.3 376.6h0M373.3 346.6h0M392.2 361.9h0M380.2 334.9h0M377.9 330.8h0M382.0 350.4h0M395.2 356.1h0M379.2 364.6h0M389.7 365.0h0M384.9 373.9h0M377.8 373.4h0M393.9 348.2h0M373.7 334.1h0M377.6 372.5h0M386.1 350.5h0M381.0 369.8h0M381.1 346.1h0M390.1 366.4h0M381.2 360.3h0M374.5 355.1h0M387.9 354.3h0M394.7 373.6h0M390.6 368.4h0M372.6 349.7h0M390.3 358.7h0M398.0 373.9h0M369.9 337.2h0M371.6 343.0h0M395.6 355.4h0M370.2 345.2h0M389.2 342.1h0M374.2 361.4h0M381.8 363.6h0M396.7 374.9h0M388.3 360.0h0M378.3 333.6h0M394.7 382.9h0M378.0 369.3h0M399.8 361.6h0M374.4 335.7h0M384.2 335.6h0M399.0 359.7h0M386.3 338.2h0M393.0 345.4h0M383.3 363.0h0M394.6 353.1h0M390.1 375.3h0M376.6 359.9h0M386.2 382.3h0M395.0 369.7h0M390.5 378.9h0M382.7 341.0h0M393.2 383.1h0M398.9 368.9h0M398.9 356.3h0M393.3 382.1h0M369.4 344.2h0M396.1 370.3h0M395.3 362.0h0M392.4 366.0h0M396.1 359.7h0M392.4 380.4h0M400.4 368.2h0M372.2 354.3h0M377.0 369.9h0M386.6 384.1h0M375.5 357.8h0M393.6 358.7h0M398.1 355.1h0M384.3 346.3h0M382.1 338.2h0M394.9 377.2h0M379.2 347.3h0M386.3 380.0h0M386.8 348.7h0M382.9 335.9h0M381.3 353.7h0M378.3 371.9h0M384.4 356.0h0M396.3 359.4h0M394.5 379.2h0M371.4 332.0h0M393.3 370.3h0M378.7 352.2h0M384.9 369.5h0M398.0 354.1h0M397.6 374.0h0M380.3 355.3h0M398.4 374.9h0M394.4 376.8h0M389.1 356.5h0M380.9 359.9h0M390.1 365.7h0M398.3 355.0h0M370.4 340.1h0M388.8 363.2h0M369.7 340.0h0M381.4 349.1h0M376.8 368.2h0M374.5 334.9h0M397.5 364.5h0M377.3 342.6h0M394.4 348.3h0M388.6 375.2h0M396.5 360.5h0M372.6 342.9h0M395.7 360.3h0M393.0 374.8h0M380.5 363.8h0M382.3 337.6h0M376.1 368.2h0M384.6 343.0h0M386.5 368.5h0M383.3 369.3h0M374.3 339.1h0M379.2 377.2h0M368.7 336.3h0M389.1 378.6h0M375.2 365.9h0M394.8 366.7h0M384.5 372.5h0M374.6 331.8h0M388.8 364.5h0M382.5 348.3h0M386.8 357.2h0M389.7 363.1h0M377.4 335.4h0M374.9 342.7h0M389.8 379.2h0M377.5 356.2h0M383.4 379.6h0M392.9 361.3h0M379.0 359.9h0M390.9 348.1h0M388.7 383.2h0M379.6 363.6h0M390.8 343.1h0M371.4 349.1h0M398.1 355.9h0M383.9 369.6h0M383.4 334.6h0M386.5 361.6h0M380.0 349.6h0M393.9 371.2h0M387.1 360.9h0M391.0 341.1h0M376.3 360.1h0M376.7 363.1h0M381.2 361.2h0M385.3 340.4h0M389.2 350.9h0M369.8 335.4h0M382.0 376.3h0M378.6 334.5h0M374.6 345.2h0M379.3 346.0h0M384.3 347.9h0M387.7 381.0h0M383.9 354.1h0M384.1 380.9h0M388.8 351.7h0M388.6 353.5h0M388.0 368.7h0M388.3 362.6h0M387.3 350.0h0M374.7 343.4h0M388.3 377.6h0M390.2 363.3h0M394.1 360.0h0M373.6 347.3h0M391.3 348.5h0M398.2 370.0h0M392.1 376.1h0M393.1 355.0h0M397.3 380.1h0M399.7 373.7h0M370.8 345.5h0M379.7 374.2h0M396.8 362.0h0M381.2 335.6h0M383.5 379.2h0M376.5 341.2h0M398.8 358.0h0M392.7 354.9h0M381.2 357.5h0M379.4 372.3h0M394.6 376.4h0M387.2 352.9h0M377.9 371.4h0M388.8 349.2h0M369.2 342.4h0M385.2 337.2h0M376.4 334.6h0M390.2 370.9h0M379.1 344.8h0M384.3 347.4h0M375.7 356.9h0M398.6 373.4h0M388.9 353.5h0M384.0 367.3h0M391.8 357.7h0M383.0 365.5h0M378.7 344.7h0M390.9 368.6h0M386.3 347.6h0M394.9 374.2h0M375.4 363.4h0M395.3 367.2h0M391.9 348.2h0M397.9 381.4h0M397.9 375.4h0M395.7 364.9h0M385.4 382.3h0M393.5 375.2h0M397.0 353.2h0M394.6 372.7h0M379.3 331.3h0M391.9 375.5h0M391.1 363.6h0M386.6 347.7h0M387.2 351.8h0M398.0 363.5h0M387.4 342.3h0M374.6 354.9h0M389.0 382.6h0M396.8 356.0h0M387.2 372.9h0M387.6 377.6h0M380.1 369.0h0M380.7 349.8h0M382.7 353.5h0M368.7 340.6h0M385.1 374.6h0M395.4 361.2h0M381.1 346.0h0M379.5 356.1h0M396.0 373.1h0M373.7 337.6h0M388.0 354.0h0M396.7 358.2h0M381.5 335.5h0M393.8 379.8h0M385.9 356.2h0M375.5 359.4h0M375.6 342.3h0M389.3 362.7h0M380.5 343.9h0M378.5 348.9h0M389.3 353.9h0M395.0 372.6h0M382.6 343.6h0M380.9 378.9h0M389.4 342.1h0M376.9 338.8h0M398.3 378.0h0M399.5 360.8h0M374.7 365.7h0M387.7 376.1h0M389.5 367.4h0M378.3 345.7h0M379.3 357.6h0M375.6 362.4h0M383.6 370.2h0M388.1 366.1h0M393.1 382.8h0M381.1 368.4h0M392.5 384.0h0M390.3 358.9h0M387.3 345.4h0M396.1 369.3h0M373.0 350.2h0M373.8 336.5h0M390.2 384.9h0M384.9 351.4h0M382.5 375.5h0M377.0 345.5h0M378.7 369.0h0M370.8 335.1h0M380.4 367.0h0M397.8 356.4h0M376.4 358.8h0M383.3 342.9h0M387.6 340.4h0M389.3 365.9h0M393.4 354.2h0M391.1 371.7h0M392.2 342.9h0M382.3 355.5h0M371.5 342.8h0M387.6 349.1h0M382.5 383.3h0M381.5 366.5h0M387.1 379.9h0M384.8 370.8h0M381.4 364.1h0M390.3 379.6h0M393.8 359.3h0M396.8 377.9h0M384.8 363.3h0M387.1 352.0h0M395.2 373.2h0M380.6 359.2h0M397.6 354.9h0M393.2 352.0h0M375.5 362.0h0M369.6 337.8h0M369.9 345.5h0M391.5 383.1h0M397.0 354.8h0M380.1 345.4h0M376.6 337.4h0M389.2 375.2h0M388.1 347.9h0M373.3 340.7h0M391.0 346.1h0M383.2 351.7h0M381.8 366.6h0M380.6 366.5h0M384.9 379.1h0M388.5 373.1h0M375.1 363.7h0M368.8 337.4h0M383.9 374.9h0M391.9 362.0h0M378.0 367.2h0M370.4 343.0h0M382.3 363.9h0M385.0 338.6h0M393.4 358.2h0M390.2 381.0h0M372.9 357.7h0M376.7 364.9h0M392.4 367.0h0M375.5 358.7h0M372.0 344.5h0M399.0 372.7h0M389.3 353.9h0M379.0 335.1h0M385.8 373.2h0M391.5 363.1h0M389.7 380.2h0M378.5 332.2h0M376.3 352.4h0M390.1 349.4h0M394.7 359.5h0M380.9 344.9h0M396.2 365.1h0M368.1 338.3h0M392.0 345.8h0M388.5 372.3h0M383.5 341.2h0M385.5 368.3h0M387.3 338.5h0M372.3 336.5h0M373.7 337.6h0M389.9 348.8h0M372.3 335.3h0M372.6 337.0h0M393.8 376.6h0M377.4 350.2h0M373.7 331.9h0M374.5 365.5h0M383.0 334.9h0M394.3 379.8h0M377.9 363.5h0M379.8 348.9h0M374.3 332.3h0M379.6 377.7h0M396.9 369.7h0M380.1 368.6h0M392.2 377.3h0M388.1 365.9h0M378.6 364.1h0M374.3 353.9h0M385.1 373.9h0M392.2 347.5h0M387.6 385.0h0M379.2 369.8h0M399.1 365.2h0M387.2 338.7h0M383.5 342.4h0M390.8 365.7h0M381.6 377.5h0M384.9 366.4h0M383.4 361.5h0M374.4 334.4h0M392.1 382.0h0M392.6 351.6h0M396.8 360.1h0M388.0 376.5h0M375.7 353.3h0M384.6 368.0h0M391.5 365.6h0M388.2 370.2h0M386.0 342.5h0M380.8 359.8h0M370.1 333.2h0M388.6 351.4h0M373.0 333.7h0M382.2 356.9h0M382.1 364.9h0M387.4 383.2h0M383.4 341.3h0M398.3 376.5h0M385.8 348.0h0M383.3 380.2h0M371.3 340.2h0M395.8 371.7h0M381.7 338.1h0M379.3 355.5h0M384.0 384.4h0M384.6 334.2h0M396.6 369.5h0M386.2 371.1h0M390.1 376.3h0M375.3 357.8h0M383.9 378.2h0M369.6 346.3h0M378.3 372.4h0M374.1 348.7h0M391.0 354.8h0M384.7 369.0h0M368.6 340.8h0M382.5 351.7h0M381.9 334.6h0M387.9 380.9h0M377.6 353.2h0M386.1 337.6h0M381.5 361.2h0M370.1 341.5h0M375.0 353.2h0M378.0 364.0h0M394.9 373.2h0M381.9 364.3h0M391.3 362.5h0M386.6 338.7h0M370.2 336.7h0M380.8 339.7h0M392.9 370.2h0M380.5 372.7h0M394.7 352.5h0M386.1 383.8h0M383.5 333.0h0M381.7 354.5h0M387.9 373.3h0M382.4 346.9h0M380.1 352.6h0M381.4 348.7h0M389.5 381.5h0M381.8 340.7h0M384.0 333.4h0M378.7 341.2h0M376.2 343.5h0M390.1 375.3h0M395.5 361.2h0M376.2 342.5h0M384.7 346.2h0M389.0 385.1h0M394.1 351.1h0M375.5 338.2h0M385.4 365.1h0M390.2 341.5h0M374.4 333.1h0M395.2 362.2h0M389.8 384.2h0M393.2 346.7h0M368.1 335.0h0M386.6 384.4h0M368.4 336.7h0M381.4 366.9h0M385.8 354.9h0M390.2 355.7h0M388.3 352.9h0M369.4 338.6h0M381.1 367.1h0M397.5 359.1h0M394.4 376.3h0M378.5 349.4h0M388.2 381.4h0M395.1 378.2h0M378.1 339.6h0M395.3 366.9h0M379.6 345.9h0M369.6 337.8h0M380.6 347.0h0M397.2 353.2h0M386.0 373.5h0M393.8 349.4h0M397.4 358.1h0M377.4 365.3h0M391.0 362.3h0M389.6 343.0h0M394.8 360.8h0M384.9 363.4h0M381.3 360.1h0M381.6 371.4h0M395.5 375.2h0M373.2 358.5h0M388.1 379.2h0M389.7 349.1h0M388.1 363.3h0M391.6 383.8h0M374.9 350.2h0M392.3 354.1h0M381.4 371.1h0M387.1 344.4h0M388.8 349.8h0M397.0 358.0h0M376.9 352.9h0M398.9 371.5h0M377.8 371.3h0M389.9 369.5h0M392.3 366.6h0M397.9 380.1h0M371.2 334.1h0M376.6 339.2h0M386.5 383.7h0M380.2 357.3h0M373.9 346.3h0M372.1 333.4h0M393.4 360.8h0M394.4 358.3h0M392.7 346.8h0M386.7 344.0h0M380.5 370.0h0M372.1 332.0h0M377.2 342.2h0M372.7 345.7h0M394.7 357.6h0M384.9 358.4h0M396.5 354.2h0M383.9 336.2h0M370.7 338.8h0M373.4 338.2h0M379.9 370.5h0M380.6 334.6h0M379.5 363.2h0M389.1 359.1h0M386.5 353.3h0M373.0 345.3h0M387.6 384.7h0M383.9 348.2h0M372.0 339.1h0M374.2 335.4h0M382.7 370.4h0M387.8 383.4h0M392.0 369.6h0M373.5 344.8h0M392.1 366.3h0M384.8 355.2h0M381.8 382.4h0M384.6 362.1h0M391.7 380.0h0M371.2 340.3h0M382.5 377.2h0M389.7 356.1h0M377.6 360.9h0M375.3 365.4h0M380.6 334.2h0M387.4 372.0h0M391.6 372.3h0M376.6 339.8h0M377.7 352.4h0M389.6 339.5h0M385.0 347.7h0M383.9 365.9h0M391.4 370.5h0M376.6 333.4h0M384.4 361.9h0M384.3 376.0h0M379.9 365.9h0M377.1 359.4h0M381.5 375.0h0M390.7 340.7h0M381.1 341.8h0M391.0 380.1h0M389.9 353.7h0M387.7 378.8h0M377.7 344.8h0M384.9 339.7h0M396.4 370.6h0M382.3 335.5h0M376.2 333.7h0M386.5 371.0h0M370.9 342.9h0M388.9 338.8h0M398.3 361.8h0M381.1 342.3h0M392.0 349.5h0M393.6 371.1h0M397.0 370.5h0M375.3 350.7h0M380.3 355.7h0M388.5 343.6h0M385.4 362.1h0M370.4 337.6h0M379.5 364.3h0M392.1 384.8h0M379.5 334.0h0M391.1 377.4h0M398.4 365.0h0M372.7 337.8h0M378.5 367.6h0M383.5 369.9h0M374.0 352.2h0M370.2 338.9h0M395.3 355.6h0M380.7 381.8h0M377.6 347.0h0M376.8 340.8h0M395.2 373.0h0M376.2 370.4h0M379.6 344.5h0M381.8 361.0h0M374.7 361.6h0M380.3 353.6h0M387.8 337.5h0M373.4 331.3h0M388.8 372.2h0M388.1 349.3h0M383.9 348.6h0M378.7 375.0h0M382.7 335.5h0M377.2 344.0h0M374.3 339.4h0M391.6 350.0h0M390.3 353.3h0M388.5 341.6h0M381.5 341.4h0M384.8 348.3h0M384.2 340.8h0M370.4 344.6h0M386.2 378.0h0M381.7 381.3h0M386.8 340.4h0M399.6 374.1h0M387.2 366.8h0M394.1 352.9h0M371.7 347.6h0M379.0 377.7h0M381.1 349.6h0M371.0 337.9h0M383.5 350.0h0M396.7 378.7h0M373.8 362.2h0M396.5 351.5h0M383.2 383.7h0M385.2 356.6h0M390.6 381.6h0M375.6 343.3h0M391.3 384.6h0M383.4 364.1h0M376.4 350.8h0M392.4 358.9h0M383.0 378.8h0M392.0 383.6h0M372.4 354.2h0M388.4 346.4h0M380.2 345.7h0M391.5 383.9h0M381.1 342.6h0M386.5 348.3h0M381.7 378.4h0M382.0 344.4h0M383.5 367.3h0M394.7 365.6h0M383.6 380.9h0M395.0 351.1h0M380.9 375.3h0M393.0 376.8h0M391.7 382.4h0M386.9 375.2h0M386.8 341.8h0M389.5 340.6h0M394.1 370.2h0M379.8 371.2h0M379.7 339.6h0M370.6 334.2h0M379.7 345.9h0M394.7 373.8h0M390.4 381.1h0M371.4 341.0h0M388.5 376.1h0M393.3 375.9h0M382.2 376.0h0M380.0 342.0h0M377.6 343.9h0M376.1 362.7h0M383.0 363.8h0M395.4 365.0h0M381.1 380.6h0M395.9 356.9h0M377.1 373.5h0M371.3 348.6h0M385.5 377.8h0M391.2 372.4h0M372.6 355.1h0M396.4 369.6h0M392.8 362.3h0M378.6 344.1h0M369.8 340.7h0M392.7 366.6h0M378.9 358.2h0M394.9 365.3h0M385.8 370.8h0M393.0 345.5h0M374.4 338.1h0M390.1 383.2h0M390.1 375.0h0M380.3 352.8h0M392.5 373.4h0M395.7 362.9h0M397.5 354.9h0M394.8 359.8h0M381.8 340.0h0M379.0 344.4h0M384.1 337.3h0M378.8 347.1h0M386.3 368.8h0M392.8 369.3h0M386.1 363.3h0M376.5 334.1h0M371.0 347.2h0M373.1 356.2h0M391.5 381.0h0M380.7 350.9h0M379.5 362.3h0M380.7 376.5h0M375.3 362.2h0M383.9 370.4h0M374.0 353.2h0M394.7 379.9h0M378.7 368.9h0M377.9 332.7h0M381.7 333.5h0M379.5 342.9h0M384.6 346.4h0M382.0 337.3h0M389.0 370.2h0M378.9 376.9h0M377.7 374.9h0M377.0 365.7h0M376.0 343.6h0M378.4 367.5h0M389.3 384.6h0M392.0 353.5h0M377.8 364.2h0M397.0 359.8h0M398.4 358.4h0M392.6 354.1h0M381.5 361.0h0M388.1 357.9h0M384.9 357.9h0M379.2 350.1h0M385.1 352.1h0M381.7 361.0h0M392.0 351.7h0M389.1 349.9h0M389.1 356.3h0M388.5 354.0h0M391.7 358.6h0M381.0 350.9h0M386.7 355.8h0M382.3 352.0h0M381.7 365.5h0M390.5 350.2h0M380.8 363.1h0M380.8 351.5h0M383.3 355.6h0M384.2 354.9h0M381.4 366.1h0M391.0 359.5h0M386.2 360.9h0M390.3 360.0h0M384.7 355.1h0M378.3 362.3h0M388.9 355.3h0M387.6 354.1h0M377.4 355.9h0M387.3 352.1h0M391.7 351.4h0M388.7 360.9h0M387.5 355.8h0M381.1 349.1h0M389.8 359.5h0M383.1 365.9h0M386.1 362.1h0M382.7 355.9h0M383.9 365.5h0M385.0 352.9h0M383.1 361.0h0M384.4 362.0h0M388.5 353.5h0M381.3 357.3h0M386.8 352.3h0M393.1 356.6h0M391.8 360.3h0M377.3 357.5h0M387.4 359.7h0M390.6 358.9h0M387.3 358.9h0M389.9 363.7h0M376.4 358.2h0M381.1 358.6h0M380.9 357.6h0M380.2 352.1h0M380.8 361.1h0M384.2 354.4h0M391.5 359.2h0M381.1 361.7h0M388.6 365.8h0M381.0 361.0h0M381.4 357.4h0M387.9 349.2h0M388.0 347.6h0M387.9 348.1h0M381.3 356.8h0M385.1 353.4h0M379.4 357.0h0M383.9 356.0h0M384.0 353.2h0M386.6 353.9h0M384.7 365.1h0M379.7 362.0h0M382.7 356.8h0M380.6 359.8h0M385.3 366.6h0M391.5 361.1h0M392.3 351.8h0M385.7 357.5h0M386.4 360.2h0M386.3 366.0h0M376.9 353.4h0M382.9 359.8h0M392.9 354.7h0M385.5 363.7h0M379.1 351.7h0M391.5 359.3h0M380.7 364.4h0M378.4 355.6h0M384.2 347.4h0M376.8 359.0h0M381.3 351.8h0M379.5 357.6h0M383.1 366.2h0M382.1 354.3h0M385.6 366.8h0M382.3 354.3h0M390.9 351.7h0M387.2 348.7h0M379.8 354.1h0M377.5 357.5h0M386.3 357.1h0M390.9 352.0h0M382.7 357.8h0M388.6 363.6h0M383.2 355.1h0M381.0 360.9h0M388.8 357.0h0M381.0 358.9h0M382.1 361.4h0M385.7 360.6h0M385.9 347.1h0M391.6 360.3h0M387.4 362.2h0M391.3 355.2h0M380.0 350.5h0M382.6 350.8h0M379.4 353.9h0M381.3 357.0h0M377.7 357.5h0M385.5 365.7h0M385.1 360.8h0M382.4 365.2h0M378.4 358.4h0M385.0 347.1h0M390.0 361.4h0M389.1 359.5h0M381.8 350.9h0M387.5 351.7h0M380.6 358.0h0M388.7 355.7h0M385.4 360.0h0M391.4 363.3h0M391.0 359.4h0M382.9 357.6h0M388.3 351.2h0M384.5 360.3h0M382.1 349.1h0M388.7 355.9h0M392.8 361.3h0M381.6 359.4h0M384.8 351.2h0M392.2 353.4h0M389.4 364.7h0M378.9 363.7h0M378.3 362.5h0M379.7 351.3h0M380.7 355.1h0M387.5 357.7h0M380.6 358.9h0M391.9 350.7h0M379.6 362.2h0M381.8 355.3h0M380.7 359.4h0M384.0 355.3h0M383.6 362.8h0M381.7 351.3h0M381.1 362.4h0M391.1 360.3h0M385.8 362.0h0M389.7 352.9h0M383.6 359.9h0M381.4 349.8h0M380.5 355.5h0M386.4 364.8h0M386.5 365.2h0M382.7 364.9h0M380.1 352.2h0M389.8 358.1h0M385.1 366.8h0M392.1 353.1h0M387.2 360.8h0M380.8 355.8h0M377.2 354.2h0M385.6 347.4h0M393.1 359.5h0M391.7 361.9h0M376.2 357.1h0M383.1 354.4h0M376.4 359.5h0M388.9 358.8h0M378.9 354.5h0M384.7 361.8h0M392.0 353.7h0M382.5 360.1h0M384.9 361.7h0M392.4 356.0h0M381.7 349.8h0M383.5 366.2h0M381.9 351.0h0M388.0 353.1h0M379.4 351.1h0M381.4 351.7h0M382.9 361.2h0M381.8 361.1h0M384.2 361.4h0M380.9 352.3h0M387.5 350.0h0" stroke="#22a06c" stroke-width="0.95" stroke-linecap="round" fill="none" opacity="1.0"/>
<path d="M385.3 385.7h0M391.6 371.7h0M392.1 385.7h0M395.8 391.1h0M386.5 391.4h0M392.5 374.1h0M386.4 388.1h0M394.1 378.8h0M391.9 386.6h0M384.7 372.6h0M389.5 375.2h0M385.4 387.8h0M383.8 377.9h0M384.9 373.5h0M393.2 373.4h0M386.2 389.7h0M386.4 372.3h0M390.0 382.6h0M392.8 389.8h0M387.1 380.7h0M394.2 378.6h0M386.5 380.2h0M393.7 383.6h0M391.7 375.3h0M391.1 380.3h0M389.0 386.0h0M387.2 380.6h0M392.9 383.3h0M389.7 376.4h0M386.4 374.4h0M389.0 390.6h0M389.2 387.6h0M388.2 387.9h0M384.7 381.6h0M389.1 375.0h0M389.4 374.1h0M386.1 378.4h0M388.2 372.0h0M384.9 383.2h0M386.7 374.1h0M393.5 379.9h0M386.0 385.2h0M394.3 372.3h0M390.9 373.8h0M393.5 387.6h0M391.8 375.3h0M387.5 390.8h0M387.4 384.2h0M387.4 387.3h0M393.6 379.6h0M395.0 381.7h0M386.9 377.3h0M385.4 384.8h0M388.2 391.9h0M385.3 372.9h0M386.1 374.3h0M387.2 374.0h0M389.0 380.7h0M384.5 379.6h0M391.5 376.4h0" stroke="#3aaa78" stroke-width="0.95" stroke-linecap="round" fill="none" opacity="0.8"/>
<path d="M373.5 390.4h0M381.2 391.1h0M370.4 394.1h0M381.8 390.0h0M381.0 403.7h0M382.0 387.3h0M381.3 398.8h0M373.6 388.1h0M379.7 390.6h0M374.3 399.2h0M381.3 393.9h0M381.5 392.8h0M377.3 391.2h0M378.7 392.5h0M376.8 384.6h0M373.1 401.9h0M383.6 389.3h0M382.3 398.9h0M371.0 395.6h0M371.1 395.0h0M378.4 393.0h0M379.1 387.8h0M380.8 386.0h0M371.6 396.3h0M382.3 401.7h0M378.6 389.6h0M381.2 398.6h0M378.0 399.0h0M383.1 389.0h0M376.6 403.1h0M370.4 393.1h0M382.8 390.8h0M380.9 397.1h0M383.6 397.0h0M379.5 404.7h0M377.7 398.8h0M375.9 384.7h0M382.1 388.8h0M380.1 395.4h0M373.5 396.8h0M375.9 390.1h0M374.8 393.0h0M375.1 401.4h0M379.1 400.9h0M377.7 386.7h0M374.0 384.7h0M382.0 394.8h0M382.2 400.5h0M383.3 392.0h0M378.5 392.9h0M383.8 399.0h0M373.0 397.5h0M373.9 395.0h0M375.5 393.7h0M383.5 396.6h0M379.9 403.1h0M375.2 400.9h0M381.8 395.5h0M377.3 402.4h0M381.8 398.0h0M378.5 386.6h0M379.9 391.1h0M371.0 389.7h0M381.4 387.6h0M376.2 387.2h0M372.2 389.9h0M371.6 393.2h0M381.4 388.9h0M376.5 398.5h0M371.3 391.2h0M379.7 400.7h0M382.0 394.5h0M379.4 402.0h0M381.7 386.5h0M379.7 393.4h0M382.6 390.4h0M380.9 397.7h0M377.4 393.2h0M374.3 395.7h0M373.3 384.7h0M376.3 389.1h0M374.0 400.6h0M381.0 402.7h0M382.4 402.8h0M379.9 389.2h0M373.7 394.0h0M381.0 401.7h0M376.5 391.5h0M373.0 401.3h0M374.3 397.6h0M379.6 390.8h0M377.0 399.0h0M372.8 386.6h0M380.3 385.9h0M374.4 384.4h0M373.2 387.8h0M372.2 393.2h0M377.2 397.3h0M375.9 393.4h0M376.2 389.7h0M371.3 397.2h0M371.3 393.8h0M381.9 399.1h0M382.0 387.0h0M375.7 402.9h0M381.7 387.6h0M373.5 395.7h0M380.1 388.1h0M379.6 403.9h0M376.7 398.9h0M374.3 388.8h0M377.7 386.5h0M371.0 390.4h0M378.3 386.7h0M378.1 387.8h0M383.9 398.4h0M382.5 402.4h0M382.0 389.9h0M377.1 388.2h0M377.5 399.0h0M375.4 387.3h0M379.6 404.1h0M374.8 400.7h0M372.4 393.7h0M373.1 396.9h0M378.0 386.7h0M372.3 393.8h0M376.0 394.2h0M374.2 401.7h0M377.6 390.3h0M383.4 392.0h0M378.7 397.3h0M375.8 385.8h0M382.4 387.5h0M373.7 400.0h0M373.4 392.4h0M373.8 401.0h0M375.0 387.8h0M377.2 386.8h0M372.2 397.0h0M378.4 401.9h0M373.1 395.9h0M377.7 390.6h0M378.5 405.6h0M377.9 398.8h0M370.5 394.6h0M374.1 394.2h0M380.4 401.3h0M373.7 386.0h0M372.4 394.5h0M377.7 403.7h0M381.2 393.1h0M375.2 392.7h0M376.0 404.3h0M373.0 388.9h0M379.5 396.1h0M380.1 395.2h0M372.8 386.3h0M377.5 390.9h0M379.8 403.4h0M379.7 402.2h0M376.4 399.2h0M373.3 394.2h0M383.5 401.4h0M382.7 389.7h0M380.3 399.5h0M376.4 404.3h0M377.8 386.2h0M379.6 392.0h0M372.0 396.2h0M378.3 401.8h0M379.3 392.0h0M372.6 387.6h0M374.7 389.4h0M380.5 397.2h0M374.7 384.7h0M377.7 401.8h0M374.2 385.6h0M372.7 385.9h0M375.9 387.9h0M382.1 395.2h0M376.1 392.7h0M380.6 385.8h0M383.0 400.0h0M376.7 390.0h0M377.3 389.6h0M372.9 393.1h0M372.3 388.0h0M373.2 391.9h0M379.7 399.2h0M378.2 392.8h0M382.6 397.3h0M371.9 387.1h0M376.1 393.5h0M383.5 392.9h0M378.2 387.8h0M375.5 390.3h0M380.2 392.7h0M379.2 392.3h0M383.5 400.6h0M378.9 404.8h0M372.8 392.9h0M370.3 391.7h0M382.3 393.3h0M375.3 400.7h0M380.1 396.9h0M373.2 395.4h0M381.8 401.7h0M371.4 388.8h0M371.2 388.5h0M372.5 389.5h0M381.2 398.1h0M372.1 391.4h0M373.9 388.6h0M382.5 392.4h0M382.7 388.4h0M383.6 400.5h0M372.4 385.0h0M378.5 399.9h0M380.8 393.7h0M380.3 398.3h0M374.7 398.1h0M379.9 388.9h0M376.5 396.2h0M382.2 403.0h0M378.5 388.8h0M377.2 389.9h0M371.6 388.5h0M377.2 400.0h0M374.8 402.2h0M381.1 393.4h0M379.3 388.1h0M371.9 393.5h0M373.1 398.4h0M374.6 388.9h0M377.5 385.9h0M372.1 387.7h0M371.9 390.6h0M374.1 391.2h0M374.7 396.2h0M378.4 387.5h0M376.8 395.2h0M372.3 392.6h0M377.1 393.3h0M370.3 392.3h0M376.4 400.3h0M373.4 390.3h0M383.7 393.8h0M374.2 402.9h0M380.6 387.5h0M372.6 387.3h0M377.0 391.5h0M378.9 403.3h0M381.5 397.2h0M378.0 385.9h0M371.0 397.9h0M383.1 390.0h0M379.2 394.9h0M378.9 389.2h0M372.0 386.8h0M377.6 394.1h0M378.1 396.5h0M382.0 387.3h0M379.6 403.9h0M375.1 396.5h0M379.4 396.3h0M375.7 386.2h0M371.3 391.2h0M378.5 404.6h0M374.4 385.7h0M376.4 386.9h0M381.6 395.8h0M376.8 384.2h0M381.0 401.9h0M378.8 403.0h0M379.3 403.1h0M374.9 394.8h0M372.6 388.8h0M371.8 387.6h0M371.0 395.0h0M375.6 401.0h0M377.5 401.6h0M378.3 400.6h0M378.6 383.9h0M383.6 392.3h0M381.7 401.8h0M381.3 394.9h0M382.2 390.4h0M381.1 399.2h0M380.8 395.3h0M383.3 401.1h0M379.6 397.7h0M381.4 395.0h0M374.7 385.0h0M375.6 389.6h0M382.8 392.9h0M376.9 403.2h0M375.1 390.1h0M381.2 398.1h0M382.5 397.9h0M380.2 399.3h0M370.8 396.3h0M378.5 401.2h0M381.2 385.9h0M377.6 389.7h0M381.7 394.0h0M375.5 386.1h0M373.9 387.0h0M377.5 401.2h0M382.5 389.6h0M380.5 386.6h0M372.7 391.6h0M378.8 386.6h0M372.7 401.5h0M378.8 404.6h0M371.4 394.9h0M371.4 397.0h0M373.7 398.9h0M374.5 396.8h0M380.9 396.1h0M376.3 386.2h0M371.2 388.7h0M383.2 397.7h0M373.2 392.6h0M378.3 387.5h0M378.5 398.9h0M382.8 388.8h0M376.5 389.1h0M377.9 395.5h0M372.9 401.2h0M382.1 387.7h0M383.9 391.8h0M377.2 394.5h0M378.9 393.7h0M382.5 390.0h0M379.3 396.1h0M378.9 383.5h0M372.1 393.2h0M384.0 395.0h0M376.4 400.9h0M371.4 390.3h0M381.1 403.8h0M371.6 400.0h0M371.4 390.4h0M370.5 396.2h0M381.2 396.7h0M380.1 400.5h0M377.9 401.3h0M378.8 398.1h0M382.9 402.0h0M370.8 389.3h0M378.0 385.6h0M372.0 385.4h0M375.4 388.4h0M380.8 387.5h0M374.5 388.6h0M374.5 400.9h0M380.5 400.9h0M375.0 399.6h0M380.3 396.1h0M372.8 389.1h0M375.7 394.0h0M383.6 400.6h0M372.7 389.9h0M372.9 393.7h0M373.8 397.0h0M381.2 402.0h0M383.5 389.7h0M374.4 389.4h0M375.8 395.6h0M375.5 391.3h0M378.5 398.7h0M382.0 393.4h0M376.8 389.4h0M372.6 388.5h0M376.6 386.3h0M375.1 400.1h0M381.6 394.5h0M370.7 391.6h0M370.4 394.0h0M374.4 391.5h0M371.0 393.2h0M378.1 404.8h0M377.6 402.9h0M373.4 384.9h0M381.8 390.6h0M380.1 384.4h0M381.5 399.5h0M377.6 390.1h0M381.4 392.0h0M382.7 397.4h0M374.9 401.5h0M375.9 401.2h0M382.0 394.2h0M380.7 386.8h0M382.1 397.0h0M382.3 399.1h0M377.3 387.8h0M375.5 386.7h0M373.1 384.8h0M378.8 388.9h0M382.8 390.1h0M377.2 391.3h0M379.8 384.7h0M374.0 400.8h0M379.8 400.1h0M372.1 389.6h0M378.0 393.4h0M376.5 395.2h0M382.8 389.6h0M381.0 400.2h0M378.0 401.3h0M383.3 393.9h0M375.7 396.4h0M382.9 391.7h0M371.2 393.2h0M372.2 398.9h0M377.4 402.8h0M374.4 396.7h0M381.7 401.7h0M370.4 393.3h0M379.2 388.0h0M378.9 386.4h0M381.8 395.9h0M375.5 387.7h0M371.5 392.2h0M375.5 403.9h0M377.6 396.7h0M374.0 390.2h0M371.3 390.2h0" stroke="#1ba2e0" stroke-width="0.95" stroke-linecap="round" fill="none" opacity="1.0"/>
<path d="M406.1 398.0h0M405.1 383.0h0M396.0 385.8h0M406.6 393.4h0M405.7 388.1h0M400.5 395.5h0M403.2 384.6h0M398.0 402.3h0M397.8 374.8h0M398.6 385.2h0M406.9 394.4h0M404.0 377.9h0M400.6 407.0h0M399.6 382.3h0M401.4 380.5h0M404.8 410.0h0M397.6 404.6h0M406.2 386.4h0M400.9 388.2h0M396.3 397.5h0M398.6 400.1h0M398.8 394.3h0M404.7 394.8h0M396.4 396.0h0M401.6 407.5h0M398.4 385.4h0M397.2 400.2h0M396.1 385.0h0M399.4 409.3h0M398.1 408.6h0M397.8 406.4h0M403.3 377.9h0M400.2 393.9h0M397.0 398.7h0M401.7 382.8h0M396.3 384.1h0M401.1 410.2h0M403.6 400.8h0M401.7 399.0h0M404.1 378.0h0M400.0 383.7h0M400.9 392.7h0M397.3 400.9h0M399.1 382.9h0M396.6 397.5h0M401.9 391.3h0M404.3 393.7h0M401.2 396.7h0M400.3 409.9h0M395.1 392.7h0M403.4 396.7h0M395.9 396.1h0M399.2 386.8h0M405.2 404.1h0M405.3 395.0h0M404.3 391.3h0M405.3 394.5h0M397.2 399.3h0M398.9 382.7h0M403.4 378.5h0M402.1 386.0h0M397.7 407.6h0M402.3 393.4h0M401.8 390.9h0M405.3 401.4h0M400.5 381.3h0M401.6 397.6h0M396.8 378.7h0M404.5 392.6h0M403.8 406.9h0M401.2 387.7h0M404.8 384.0h0M401.1 398.1h0M395.7 390.1h0M400.9 387.3h0M406.7 400.3h0M404.6 408.9h0M404.2 405.4h0M399.3 395.4h0M403.9 398.6h0M403.6 382.0h0M397.0 403.7h0M399.3 406.6h0M399.0 398.1h0M403.9 391.2h0M395.5 377.0h0M400.4 399.5h0M402.0 406.1h0M398.9 381.7h0M401.9 385.3h0M405.3 389.3h0M399.6 388.0h0M400.3 397.3h0M398.1 383.6h0M405.4 408.2h0M395.3 377.5h0M395.8 385.3h0M396.7 378.4h0M404.6 398.5h0M405.5 407.1h0M405.8 405.9h0M399.5 393.0h0M404.8 378.9h0M396.9 375.4h0M405.9 383.4h0M396.2 386.0h0M403.2 390.7h0M403.6 382.4h0M398.7 395.0h0M395.6 387.1h0M400.9 374.3h0M403.5 410.5h0M398.9 409.1h0M404.9 402.4h0M402.0 400.3h0M403.5 410.3h0M404.4 402.7h0M399.7 388.2h0M406.6 398.8h0M395.9 386.7h0M399.8 381.1h0M395.7 393.8h0M398.9 396.3h0M399.2 388.2h0M397.7 408.1h0M403.9 398.3h0M402.3 373.9h0M404.9 403.9h0M400.1 396.2h0M397.5 394.7h0M398.2 386.2h0M397.7 374.4h0M400.6 386.3h0M406.8 394.0h0M396.6 387.4h0M405.7 402.3h0M401.8 393.3h0M403.3 391.7h0M400.7 392.0h0M396.6 396.4h0M400.8 407.4h0M400.8 394.4h0M395.0 376.7h0M404.4 407.6h0M400.2 373.7h0M398.5 407.1h0M404.2 409.1h0M405.5 400.1h0M406.7 396.4h0M403.4 399.1h0M399.5 378.3h0M401.2 391.6h0M402.0 399.3h0M402.9 404.6h0M401.4 388.0h0M398.6 402.1h0M397.0 398.7h0M397.7 374.6h0M398.9 393.4h0M402.1 388.8h0M401.3 387.6h0M398.8 385.0h0M402.6 401.2h0M406.6 399.0h0M404.3 405.5h0M402.2 384.0h0M399.2 406.3h0M401.8 403.0h0M401.5 384.2h0M404.9 395.0h0" stroke="#c2c040" stroke-width="0.95" stroke-linecap="round" fill="none" opacity="1.0"/>
<text x="366.9" y="316.5" font-size="8.3" text-anchor="start" fill="#222" font-weight="normal" textLength="22.2" lengthAdjust="spacingAndGlyphs" stroke="#222" stroke-width="0.18">Naive</text>
<text x="418.7" y="340.0" font-size="8.3" text-anchor="start" fill="#222" font-weight="normal" textLength="13.4" lengthAdjust="spacingAndGlyphs" stroke="#222" stroke-width="0.18">EM</text>
<text x="374.6" y="360.4" font-size="8.3" text-anchor="start" fill="#222" font-weight="normal" textLength="13.9" lengthAdjust="spacingAndGlyphs" stroke="#222" stroke-width="0.18">CM</text>
<text x="386.0" y="393.5" font-size="8.3" text-anchor="start" fill="#222" font-weight="normal" textLength="28.7" lengthAdjust="spacingAndGlyphs" stroke="#222" stroke-width="0.18">TEMRA</text>
<text x="351.1" y="402.2" font-size="8.3" text-anchor="start" fill="#222" font-weight="normal" textLength="40.9" lengthAdjust="spacingAndGlyphs" stroke="#222" stroke-width="0.18">CD161+hi</text>
<g stroke="#111" stroke-width="1.1" fill="none">
<path d="M253.7 280V419.4H350.8"/>
<path d="M353.5 419.4H450.4"/>
<path d="M250 299.8H253.7"/>
<path d="M250 339.8H253.7"/>
<path d="M250 379.8H253.7"/>
<path d="M273.9 419.4V422.9"/>
<path d="M295.3 419.4V422.9"/>
<path d="M316.7 419.4V422.9"/>
<path d="M338.1 419.4V422.9"/>
<path d="M373.7 419.4V422.9"/>
<path d="M395.2 419.4V422.9"/>
<path d="M416.7 419.4V422.9"/>
<path d="M438.3 419.4V422.9"/>
</g>
<text x="247.8" y="302.8" font-size="8.3" text-anchor="end" fill="#2b2b2b" font-weight="normal" textLength="12.6" lengthAdjust="spacingAndGlyphs" stroke="#2b2b2b" stroke-width="0.18">5.0</text>
<text x="247.8" y="342.8" font-size="8.3" text-anchor="end" fill="#2b2b2b" font-weight="normal" textLength="12.6" lengthAdjust="spacingAndGlyphs" stroke="#2b2b2b" stroke-width="0.18">0.0</text>
<text x="247.8" y="382.8" font-size="8.3" text-anchor="end" fill="#2b2b2b" font-weight="normal" textLength="17.3" lengthAdjust="spacingAndGlyphs" stroke="#2b2b2b" stroke-width="0.18">−5.0</text>
<text x="273.9" y="433.4" font-size="8.3" text-anchor="middle" fill="#2b2b2b" font-weight="normal" textLength="17" lengthAdjust="spacingAndGlyphs" stroke="#2b2b2b" stroke-width="0.18">−5.0</text>
<text x="295.3" y="433.4" font-size="8.3" text-anchor="middle" fill="#2b2b2b" font-weight="normal" textLength="12.6" lengthAdjust="spacingAndGlyphs" stroke="#2b2b2b" stroke-width="0.18">0.0</text>
<text x="316.7" y="433.4" font-size="8.3" text-anchor="middle" fill="#2b2b2b" font-weight="normal" textLength="12.6" lengthAdjust="spacingAndGlyphs" stroke="#2b2b2b" stroke-width="0.18">5.0</text>
<text x="338.1" y="433.4" font-size="8.3" text-anchor="middle" fill="#2b2b2b" font-weight="normal" textLength="17" lengthAdjust="spacingAndGlyphs" stroke="#2b2b2b" stroke-width="0.18">10.0</text>
<text x="373.7" y="433.4" font-size="8.3" text-anchor="middle" fill="#2b2b2b" font-weight="normal" textLength="17" lengthAdjust="spacingAndGlyphs" stroke="#2b2b2b" stroke-width="0.18">−5.0</text>
<text x="395.2" y="433.4" font-size="8.3" text-anchor="middle" fill="#2b2b2b" font-weight="normal" textLength="12.6" lengthAdjust="spacingAndGlyphs" stroke="#2b2b2b" stroke-width="0.18">0.0</text>
<text x="416.7" y="433.4" font-size="8.3" text-anchor="middle" fill="#2b2b2b" font-weight="normal" textLength="12.6" lengthAdjust="spacingAndGlyphs" stroke="#2b2b2b" stroke-width="0.18">5.0</text>
<text x="438.3" y="433.4" font-size="8.3" text-anchor="middle" fill="#2b2b2b" font-weight="normal" textLength="17" lengthAdjust="spacingAndGlyphs" stroke="#2b2b2b" stroke-width="0.18">10.0</text>
<text x="355.7" y="448.9" font-size="10.2" text-anchor="middle" fill="#2b2b2b" font-weight="normal" textLength="30.5" lengthAdjust="spacingAndGlyphs" stroke="#2b2b2b" stroke-width="0.18">UMAP-1</text>
<text x="0" y="0" font-size="10.6" text-anchor="middle" fill="#2b2b2b" textLength="32" lengthAdjust="spacingAndGlyphs" transform="translate(222.4 349) rotate(-90)">UMAP-2</text>
<circle cx="455.8" cy="325.8" r="2.1" fill="#e07068"/>
<text x="462" y="328.8" font-size="8.3" text-anchor="start" fill="#2b2b2b" font-weight="normal" textLength="21.5" lengthAdjust="spacingAndGlyphs" stroke="#2b2b2b" stroke-width="0.18">Naive</text>
<circle cx="455.8" cy="337.1" r="2.1" fill="#b3a93c"/>
<text x="462" y="340.1" font-size="8.3" text-anchor="start" fill="#2b2b2b" font-weight="normal" textLength="28.5" lengthAdjust="spacingAndGlyphs" stroke="#2b2b2b" stroke-width="0.18">TEMRA</text>
<circle cx="455.8" cy="348.40000000000003" r="2.1" fill="#2e9a66"/>
<text x="462" y="351.40000000000003" font-size="8.3" text-anchor="start" fill="#2b2b2b" font-weight="normal" textLength="13.5" lengthAdjust="spacingAndGlyphs" stroke="#2b2b2b" stroke-width="0.18">CM</text>
<circle cx="455.8" cy="359.70000000000005" r="2.1" fill="#3aa5d6"/>
<text x="462" y="362.70000000000005" font-size="8.3" text-anchor="start" fill="#2b2b2b" font-weight="normal" textLength="50.2" lengthAdjust="spacingAndGlyphs" stroke="#2b2b2b" stroke-width="0.18">CD161+ high</text>
<circle cx="455.8" cy="371.0" r="2.1" fill="#b070b4"/>
<text x="462" y="374.0" font-size="8.3" text-anchor="start" fill="#2b2b2b" font-weight="normal" textLength="12.5" lengthAdjust="spacingAndGlyphs" stroke="#2b2b2b" stroke-width="0.18">EM</text>
<rect x="0.6" y="0.6" width="518.8" height="458.6" fill="none" stroke="#4a4a4a" stroke-width="1.3"/>
</svg></body></html>
